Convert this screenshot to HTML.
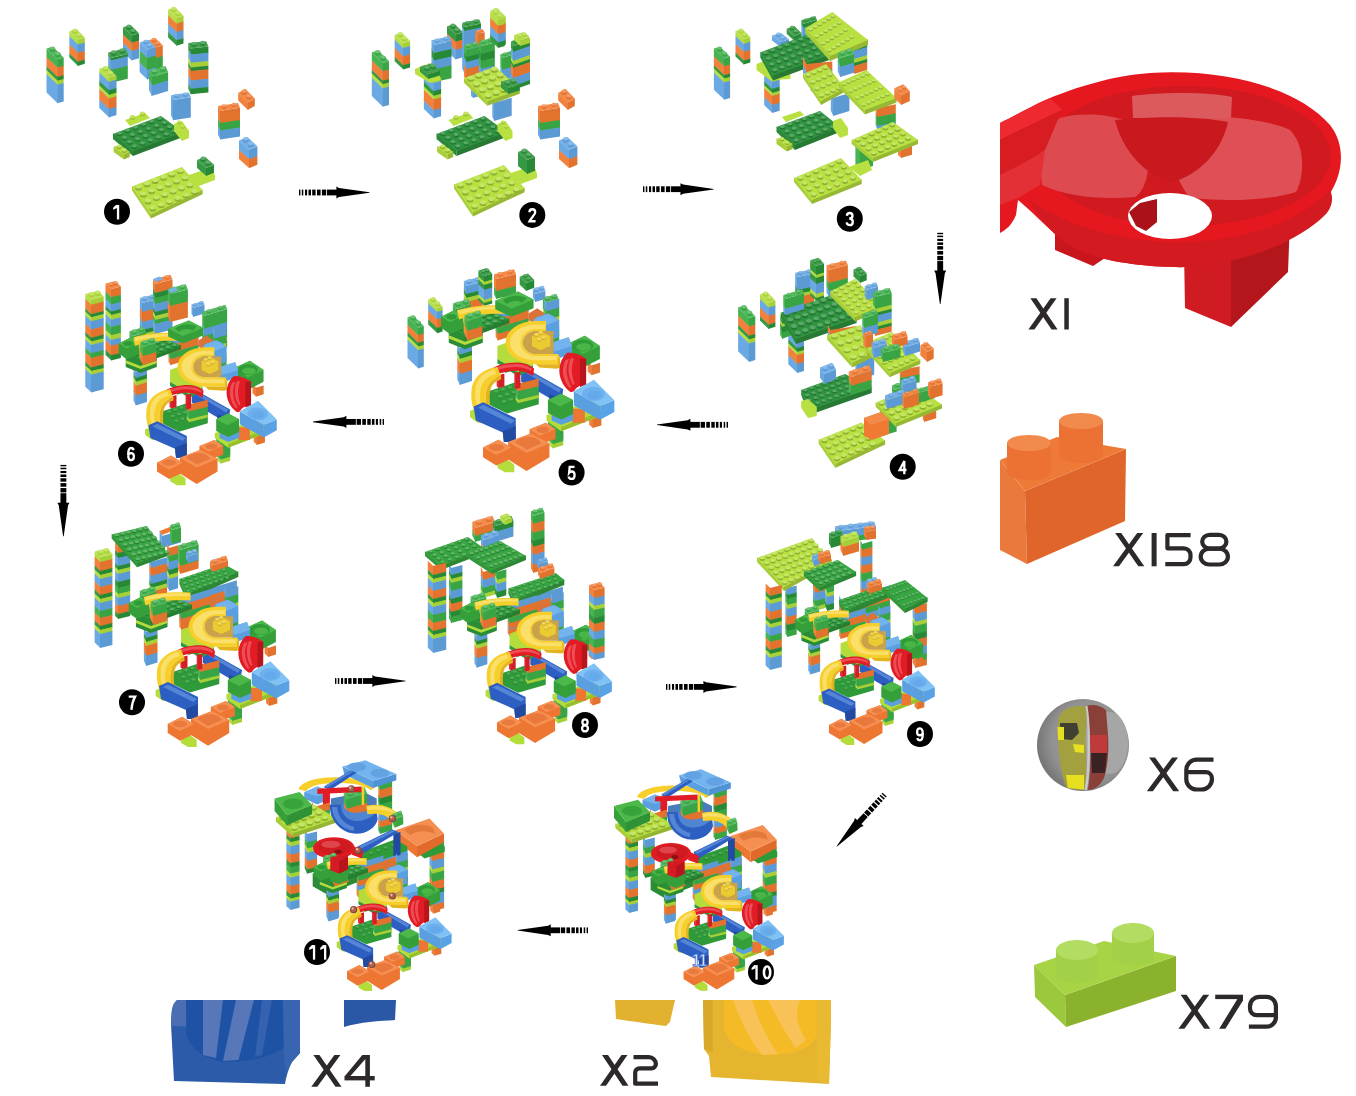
<!DOCTYPE html>
<html><head><meta charset="utf-8"><title>Marble run assembly steps</title>
<style>html,body{margin:0;padding:0;background:#fff;}body{width:1356px;height:1096px;overflow:hidden;font-family:"Liberation Sans",sans-serif;}svg{display:block;}</style>
</head><body>
<svg width="1356" height="1096" viewBox="0 0 1356 1096">
<defs>
<g id="core_gc"><polygon points="179.4,594.2 181.4,598 181.4,605.5 179.4,601.7" fill="#6ba9e4"/>
<polygon points="181,598 210,589.3 210,596.8 181,605.5" fill="#5c9ad4"/>
<polygon points="179.4,601.2 181.4,605 181.4,613.5 179.4,609.7" fill="#f1823e"/>
<polygon points="181,605 210,596.3 210,604.8 181,613.5" fill="#e2732f"/>
<polygon points="179.4,609.2 181.4,613 181.4,619.5 179.4,615.7" fill="#48b353"/>
<polygon points="181,613 210,604.3 210,610.8 181,619.5" fill="#38a444"/>
<polygon points="179.4,615.2 181.4,619 181.4,625 179.4,621.2" fill="#f1823e"/>
<polygon points="181,619 210,610.3 210,616.3 181,625" fill="#e2732f"/>
<polygon points="224.6,586.6 226.4,590 226.4,598.5 224.6,595.1" fill="#6ba9e4"/>
<polygon points="226,590 238.3,586.3 238.3,594.8 226,598.5" fill="#5c9ad4"/>
<polygon points="224.6,594.6 226.4,598 226.4,606.5 224.6,603.1" fill="#48b353"/>
<polygon points="226,598 238.3,594.3 238.3,602.8 226,606.5" fill="#38a444"/>
<polygon points="224.6,602.6 226.4,606 226.4,610.5 224.6,607.1" fill="#b7de48"/>
<polygon points="226,606 238.3,602.3 238.3,606.8 226,610.5" fill="#a7cf38"/>
<polygon points="224.6,606.6 226.4,610 226.4,618.5 224.6,615.1" fill="#6ba9e4"/>
<polygon points="226,610 238.3,606.3 238.3,614.8 226,618.5" fill="#5c9ad4"/>
<polygon points="224.6,614.6 226.4,618 226.4,624.5 224.6,621.1" fill="#379944"/>
<polygon points="226,618 238.3,614.3 238.3,620.8 226,624.5" fill="#278935"/>
<polygon points="224.6,620.6 226.4,624 226.4,632 224.6,628.6" fill="#48b353"/>
<polygon points="226,624 238.3,620.3 238.3,628.3 226,632" fill="#38a444"/>
<polygon points="209.8,600 218,595 226.4,601 226.4,609 218,612 209.8,606" fill="#d9733a"/>
<polygon points="215.7,604 228,599.8 235.9,604 235.9,616 224,620 215.7,614" fill="#5a9fe0"/>
<polygon points="215.7,604 228,599.8 235.9,604 224,608.5" fill="#74b4ee"/>
<polygon points="143.9,627 146.4,632 146.4,638.5 143.9,633.5" fill="#6ba9e4"/>
<polygon points="146,632 157.5,628.5 157.5,635 146,638.5" fill="#5c9ad4"/>
<polygon points="143.9,633 146.4,638 146.4,642.5 143.9,637.5" fill="#379944"/>
<polygon points="146,638 157.5,634.5 157.5,639 146,642.5" fill="#278935"/>
<polygon points="143.9,637 146.4,642 146.4,646.5 143.9,641.5" fill="#b7de48"/>
<polygon points="146,642 157.5,638.5 157.5,643 146,646.5" fill="#a7cf38"/>
<polygon points="143.9,641 146.4,646 146.4,656.5 143.9,651.5" fill="#f1823e"/>
<polygon points="146,646 157.5,642.5 157.5,653 146,656.5" fill="#e2732f"/>
<polygon points="143.9,651 146.4,656 146.4,666 143.9,661" fill="#6ba9e4"/>
<polygon points="146,656 157.5,652.5 157.5,662.5 146,666" fill="#5c9ad4"/>
<polygon points="136,613 151,620 167.5,614 167.5,627 151,633 136,627" fill="#2a8c36"/>
<polygon points="136,620 151,626 167.5,620 167.5,623 151,629 136,623" fill="#b2dc3c"/>
<polygon points="135.6,611.3 151,619.3 151,624 135.6,616" fill="#2a8e37"/>
<polygon points="151,619.3 192,604.3 192,609 151,624" fill="#267e31"/>
<polygon points="135.6,612 176,598 192,605 151,620" fill="#2e9a3c"/>
<ellipse cx="141.5" cy="612.2" rx="2.3" ry="1.4" fill="#24782f"/>
<rect x="139.2" y="610.8" width="4.6" height="1.4" fill="#24782f"/>
<ellipse cx="141.5" cy="610.8" rx="2.3" ry="1.4" fill="#58ae63"/>
<ellipse cx="146.7" cy="614.8" rx="2.3" ry="1.4" fill="#24782f"/>
<rect x="144.4" y="613.4" width="4.6" height="1.4" fill="#24782f"/>
<ellipse cx="146.7" cy="613.4" rx="2.3" ry="1.4" fill="#58ae63"/>
<ellipse cx="151.8" cy="617.5" rx="2.3" ry="1.4" fill="#24782f"/>
<rect x="149.5" y="616.1" width="4.6" height="1.4" fill="#24782f"/>
<ellipse cx="151.8" cy="616.1" rx="2.3" ry="1.4" fill="#58ae63"/>
<ellipse cx="148.3" cy="609.8" rx="2.3" ry="1.4" fill="#24782f"/>
<rect x="146" y="608.4" width="4.6" height="1.4" fill="#24782f"/>
<ellipse cx="148.3" cy="608.4" rx="2.3" ry="1.4" fill="#58ae63"/>
<ellipse cx="153.4" cy="612.5" rx="2.3" ry="1.4" fill="#24782f"/>
<rect x="151.1" y="611.1" width="4.6" height="1.4" fill="#24782f"/>
<ellipse cx="153.4" cy="611.1" rx="2.3" ry="1.4" fill="#58ae63"/>
<ellipse cx="158.5" cy="615.2" rx="2.3" ry="1.4" fill="#24782f"/>
<rect x="156.2" y="613.8" width="4.6" height="1.4" fill="#24782f"/>
<ellipse cx="158.5" cy="613.8" rx="2.3" ry="1.4" fill="#58ae63"/>
<ellipse cx="155" cy="607.5" rx="2.3" ry="1.4" fill="#24782f"/>
<rect x="152.7" y="606.1" width="4.6" height="1.4" fill="#24782f"/>
<ellipse cx="155" cy="606.1" rx="2.3" ry="1.4" fill="#58ae63"/>
<ellipse cx="160.1" cy="610.2" rx="2.3" ry="1.4" fill="#24782f"/>
<rect x="157.8" y="608.8" width="4.6" height="1.4" fill="#24782f"/>
<ellipse cx="160.1" cy="608.8" rx="2.3" ry="1.4" fill="#58ae63"/>
<ellipse cx="165.3" cy="612.8" rx="2.3" ry="1.4" fill="#24782f"/>
<rect x="163" y="611.4" width="4.6" height="1.4" fill="#24782f"/>
<ellipse cx="165.3" cy="611.4" rx="2.3" ry="1.4" fill="#58ae63"/>
<ellipse cx="161.7" cy="605.2" rx="2.3" ry="1.4" fill="#24782f"/>
<rect x="159.4" y="603.8" width="4.6" height="1.4" fill="#24782f"/>
<ellipse cx="161.7" cy="603.8" rx="2.3" ry="1.4" fill="#58ae63"/>
<ellipse cx="166.9" cy="607.8" rx="2.3" ry="1.4" fill="#24782f"/>
<rect x="164.6" y="606.4" width="4.6" height="1.4" fill="#24782f"/>
<ellipse cx="166.9" cy="606.4" rx="2.3" ry="1.4" fill="#58ae63"/>
<ellipse cx="172" cy="610.5" rx="2.3" ry="1.4" fill="#24782f"/>
<rect x="169.7" y="609.1" width="4.6" height="1.4" fill="#24782f"/>
<ellipse cx="172" cy="609.1" rx="2.3" ry="1.4" fill="#58ae63"/>
<ellipse cx="168.5" cy="602.8" rx="2.3" ry="1.4" fill="#24782f"/>
<rect x="166.2" y="601.4" width="4.6" height="1.4" fill="#24782f"/>
<ellipse cx="168.5" cy="601.4" rx="2.3" ry="1.4" fill="#58ae63"/>
<ellipse cx="173.6" cy="605.5" rx="2.3" ry="1.4" fill="#24782f"/>
<rect x="171.3" y="604.1" width="4.6" height="1.4" fill="#24782f"/>
<ellipse cx="173.6" cy="604.1" rx="2.3" ry="1.4" fill="#58ae63"/>
<ellipse cx="178.7" cy="608.2" rx="2.3" ry="1.4" fill="#24782f"/>
<rect x="176.4" y="606.8" width="4.6" height="1.4" fill="#24782f"/>
<ellipse cx="178.7" cy="606.8" rx="2.3" ry="1.4" fill="#58ae63"/>
<ellipse cx="175.2" cy="600.5" rx="2.3" ry="1.4" fill="#24782f"/>
<rect x="172.9" y="599.1" width="4.6" height="1.4" fill="#24782f"/>
<ellipse cx="175.2" cy="599.1" rx="2.3" ry="1.4" fill="#58ae63"/>
<ellipse cx="180.3" cy="603.2" rx="2.3" ry="1.4" fill="#24782f"/>
<rect x="178" y="601.8" width="4.6" height="1.4" fill="#24782f"/>
<ellipse cx="180.3" cy="601.8" rx="2.3" ry="1.4" fill="#58ae63"/>
<ellipse cx="185.5" cy="605.8" rx="2.3" ry="1.4" fill="#24782f"/>
<rect x="183.2" y="604.4" width="4.6" height="1.4" fill="#24782f"/>
<ellipse cx="185.5" cy="604.4" rx="2.3" ry="1.4" fill="#58ae63"/>
<polygon points="139.8,590.7 142.4,596 142.4,602 139.8,596.7" fill="#48b353"/>
<polygon points="142,596 156.4,591.7 156.4,597.7 142,602" fill="#38a444"/>
<polygon points="139.8,590.7 142,596 156.4,591.7 154.2,586.4" fill="#53b85e"/>
<ellipse cx="144.5" cy="592.3" rx="2.5" ry="1.6" fill="#3aa745"/>
<rect x="142" y="590.3" width="5" height="2" fill="#3aa745"/>
<ellipse cx="144.5" cy="590.3" rx="2.5" ry="1.6" fill="#6dc276"/>
<ellipse cx="151.7" cy="590.1" rx="2.5" ry="1.6" fill="#3aa745"/>
<rect x="149.2" y="588.1" width="5" height="2" fill="#3aa745"/>
<ellipse cx="151.7" cy="588.1" rx="2.5" ry="1.6" fill="#6dc276"/>
<polygon points="128.8,603 141,597 149.3,602 149.3,614 137,619 128.8,613" fill="#35a03a"/>
<polygon points="128.8,603 141,597 149.3,602 137,608" fill="#4cb84a"/>
<ellipse cx="138.5" cy="603" rx="5" ry="2.6" fill="#2f9c38"/>
<polygon points="149.4,602 155.8,601.5 155.8,618.3 150,618.3" fill="#e4b41e"/>
<path d="M143.6,597 C155,593 172,591.5 190.6,592.5 L190.6,600.5 C172,599.5 156,601.5 145.5,605.5 Z" fill="#f6cf2a"/>
<path d="M144.5,597.5 C156,594 172,592.8 189.5,593.6 L189.5,596.2 C172,595.5 157,597.2 146,600.8 Z" fill="#fadf6a"/>
<polygon points="150.7,601.5 153.4,607 153.4,616.5 150.7,611" fill="#48b353"/>
<polygon points="153,607 167.1,602.8 167.1,612.3 153,616.5" fill="#38a444"/>
<polygon points="150.7,610.5 153.4,616 153.4,625 150.7,619.5" fill="#f1823e"/>
<polygon points="153,616 167.1,611.8 167.1,620.8 153,625" fill="#e2732f"/>
<polygon points="150.7,601.5 153,607 167.1,602.8 164.8,597.2" fill="#53b85e"/>
<ellipse cx="155.4" cy="603.2" rx="2.6" ry="1.6" fill="#3aa745"/>
<rect x="152.7" y="601.1" width="5.3" height="2.1" fill="#3aa745"/>
<ellipse cx="155.4" cy="601.1" rx="2.6" ry="1.6" fill="#6dc276"/>
<ellipse cx="162.4" cy="601.1" rx="2.6" ry="1.6" fill="#3aa745"/>
<rect x="159.8" y="599" width="5.3" height="2.1" fill="#3aa745"/>
<ellipse cx="162.4" cy="599" rx="2.6" ry="1.6" fill="#6dc276"/>
<polygon points="179,588 200,579.6 214.5,587 214.5,595 194,603 179,596" fill="#35a03a"/>
<polygon points="179,588 200,579.6 214.5,587 194,595.5" fill="#4cb84a"/>
<path d="M186,588 C192,583 202,582 208,586 L204,590 C200,587.5 194,588 190,591 Z" fill="#2f9c38"/>
<polygon points="214,606 226,601 238,606 238,622 226,626 214,621" fill="#5a9fe0"/>
<polygon points="214,606 226,601 238,606 226,611" fill="#74b4ee"/>
<polygon points="185,634 188.4,640 188.4,644.5 185,638.5" fill="#b7de48"/>
<polygon points="188,640 200,636.4 200,640.9 188,644.5" fill="#a7cf38"/>
<polygon points="185,638 188.4,644 188.4,650.5 185,644.5" fill="#6ba9e4"/>
<polygon points="188,644 200,640.4 200,646.9 188,650.5" fill="#5c9ad4"/>
<polygon points="185,644 188.4,650 188.4,655 185,649" fill="#48b353"/>
<polygon points="188,650 200,646.4 200,651.4 188,655" fill="#38a444"/>
<polygon points="264.6,644.6 268.4,648 268.4,657 264.6,653.6" fill="#f1823e"/>
<polygon points="268,648 276,645.6 276,654.6 268,657" fill="#e2732f"/>
<polygon points="246.2,628 262,620.5 275.9,630 275.9,642 260,650.2 246.2,640" fill="#35a03a"/>
<polygon points="246.2,628 262,620.5 275.9,630 260,637.5" fill="#4cb84a"/>
<ellipse cx="260" cy="629.5" rx="10" ry="5.5" fill="#2f9c38"/>
<ellipse cx="261" cy="631" rx="7" ry="3.6" fill="#4ab648"/>
<polygon points="231,627 247,622 250,630 250,637 234,643 231,636" fill="#5a9fe0"/>
<polygon points="231,627 247,622 250,630 234,635" fill="#74b4ee"/>
<polygon points="266,690 269.4,693 269.4,706 266,703" fill="#f1823e"/>
<polygon points="269,693 277.3,690.5 277.3,703.5 269,706" fill="#e2732f"/>
<polygon points="227.8,698.8 232.4,703 232.4,713.5 227.8,709.3" fill="#48b353"/>
<polygon points="232,703 242,700 242,710.5 232,713.5" fill="#38a444"/>
<polygon points="227.8,708.8 232.4,713 232.4,719 227.8,714.8" fill="#379944"/>
<polygon points="232,713 242,710 242,716 232,719" fill="#278935"/>
<polygon points="226.4,694 272,680 283.7,688 283.7,692 240,709 226.4,699" fill="#b4dc3a"/>
<polygon points="240,705 283.7,688 283.7,692 240,709" fill="#98c02c"/>
<ellipse cx="236" cy="697.3" rx="2.2" ry="1.4" fill="#9bbd32"/>
<rect x="233.8" y="696" width="4.4" height="1.3" fill="#9bbd32"/>
<ellipse cx="236" cy="696" rx="2.2" ry="1.4" fill="#bee156"/>
<ellipse cx="243" cy="695" rx="2.2" ry="1.4" fill="#9bbd32"/>
<rect x="240.8" y="693.7" width="4.4" height="1.3" fill="#9bbd32"/>
<ellipse cx="243" cy="693.7" rx="2.2" ry="1.4" fill="#bee156"/>
<ellipse cx="250" cy="692.7" rx="2.2" ry="1.4" fill="#9bbd32"/>
<rect x="247.8" y="691.3" width="4.4" height="1.3" fill="#9bbd32"/>
<ellipse cx="250" cy="691.3" rx="2.2" ry="1.4" fill="#bee156"/>
<polygon points="203,654 209,651.6 242,670 240.5,680 234,681 203,663" fill="#2d5fc2"/>
<polygon points="206,654 209,652.5 240,670 238,673" fill="#5586d6"/>
<polygon points="229,675 240,678 240,692 229,690" fill="#224aa0"/>
<polygon points="172.6,672 200,662.9 219.3,672 219.3,684 190,692.6 172.6,684" fill="#2f9a3a"/>
<ellipse cx="180" cy="673.3" rx="2.1" ry="1.3" fill="#2d8a34"/>
<rect x="177.9" y="672.1" width="4.2" height="1.3" fill="#2d8a34"/>
<ellipse cx="180" cy="672.1" rx="2.1" ry="1.3" fill="#50ad57"/>
<ellipse cx="183.6" cy="678" rx="2.1" ry="1.3" fill="#2d8a34"/>
<rect x="181.5" y="676.7" width="4.2" height="1.3" fill="#2d8a34"/>
<ellipse cx="183.6" cy="676.7" rx="2.1" ry="1.3" fill="#50ad57"/>
<ellipse cx="187.3" cy="682.7" rx="2.1" ry="1.3" fill="#2d8a34"/>
<rect x="185.2" y="681.4" width="4.2" height="1.3" fill="#2d8a34"/>
<ellipse cx="187.3" cy="681.4" rx="2.1" ry="1.3" fill="#50ad57"/>
<ellipse cx="186.2" cy="671.3" rx="2.1" ry="1.3" fill="#2d8a34"/>
<rect x="184.1" y="670.1" width="4.2" height="1.3" fill="#2d8a34"/>
<ellipse cx="186.2" cy="670.1" rx="2.1" ry="1.3" fill="#50ad57"/>
<ellipse cx="189.9" cy="676" rx="2.1" ry="1.3" fill="#2d8a34"/>
<rect x="187.8" y="674.7" width="4.2" height="1.3" fill="#2d8a34"/>
<ellipse cx="189.9" cy="674.7" rx="2.1" ry="1.3" fill="#50ad57"/>
<ellipse cx="193.5" cy="680.7" rx="2.1" ry="1.3" fill="#2d8a34"/>
<rect x="191.4" y="679.4" width="4.2" height="1.3" fill="#2d8a34"/>
<ellipse cx="193.5" cy="679.4" rx="2.1" ry="1.3" fill="#50ad57"/>
<ellipse cx="192.5" cy="669.3" rx="2.1" ry="1.3" fill="#2d8a34"/>
<rect x="190.4" y="668.1" width="4.2" height="1.3" fill="#2d8a34"/>
<ellipse cx="192.5" cy="668.1" rx="2.1" ry="1.3" fill="#50ad57"/>
<ellipse cx="196.1" cy="674" rx="2.1" ry="1.3" fill="#2d8a34"/>
<rect x="194" y="672.7" width="4.2" height="1.3" fill="#2d8a34"/>
<ellipse cx="196.1" cy="672.7" rx="2.1" ry="1.3" fill="#50ad57"/>
<ellipse cx="199.8" cy="678.7" rx="2.1" ry="1.3" fill="#2d8a34"/>
<rect x="197.7" y="677.4" width="4.2" height="1.3" fill="#2d8a34"/>
<ellipse cx="199.8" cy="677.4" rx="2.1" ry="1.3" fill="#50ad57"/>
<ellipse cx="198.7" cy="667.3" rx="2.1" ry="1.3" fill="#2d8a34"/>
<rect x="196.6" y="666.1" width="4.2" height="1.3" fill="#2d8a34"/>
<ellipse cx="198.7" cy="666.1" rx="2.1" ry="1.3" fill="#50ad57"/>
<ellipse cx="202.4" cy="672" rx="2.1" ry="1.3" fill="#2d8a34"/>
<rect x="200.3" y="670.7" width="4.2" height="1.3" fill="#2d8a34"/>
<ellipse cx="202.4" cy="670.7" rx="2.1" ry="1.3" fill="#50ad57"/>
<ellipse cx="206" cy="676.7" rx="2.1" ry="1.3" fill="#2d8a34"/>
<rect x="203.9" y="675.4" width="4.2" height="1.3" fill="#2d8a34"/>
<ellipse cx="206" cy="675.4" rx="2.1" ry="1.3" fill="#50ad57"/>
<polygon points="198,661.8 200.4,665 200.4,672.5 198,669.3" fill="#f1823e"/>
<polygon points="200,665 219.3,660.2 219.3,667.7 200,672.5" fill="#e2732f"/>
<polygon points="198,668.8 200.4,672 200.4,680.5 198,677.3" fill="#48b353"/>
<polygon points="200,672 219.3,667.2 219.3,675.7 200,680.5" fill="#38a444"/>
<polygon points="198,676.8 200.4,680 200.4,683 198,679.8" fill="#b7de48"/>
<polygon points="200,680 219.3,675.2 219.3,678.2 200,683" fill="#a7cf38"/>
<polygon points="181,630 192,626 214,640 214,648 200,654 181,642" fill="#b4dc3a"/>
<polygon points="181,642 200,654 214,648 214,652 200,658 181,646" fill="#2f9a3a"/>
<path d="M216.5,606.8 A28,20 0 0 0 216.5,646.8 L237,646.8 L239,640.8 L237,637.4 L216.5,637.4 A12,10.6 0 0 1 216.5,616.2 L226,616.2 L226,606.8 Z" fill="#f6cf2a"/>
<path d="M216.5,610.3 A24,16.5 0 0 0 216.5,643.3 L236,643.3 L236,639.3 L216.5,639.3 A14,12.5 0 0 1 216.5,614.3 L225,614.3 L225,610.3 Z" fill="#fadf6a"/>
<path d="M216.5,616.2 A12,10.6 0 0 0 216.5,637.4 L233,637.4 L233,616.2 Z" fill="#c9a24a"/>
<polygon points="213,621 222,617 230,621 230,630 221,634 213,630" fill="#eccb32"/>
<ellipse cx="217.2" cy="620.4" rx="2.2" ry="1.4" fill="#d0b532"/>
<rect x="215.1" y="619.1" width="4.4" height="1.3" fill="#d0b532"/>
<ellipse cx="217.2" cy="619.1" rx="2.2" ry="1.4" fill="#f4d856"/>
<ellipse cx="219.8" cy="624.9" rx="2.2" ry="1.4" fill="#d0b532"/>
<rect x="217.6" y="623.6" width="4.4" height="1.3" fill="#d0b532"/>
<ellipse cx="219.8" cy="623.6" rx="2.2" ry="1.4" fill="#f4d856"/>
<ellipse cx="221.2" cy="618.6" rx="2.2" ry="1.4" fill="#d0b532"/>
<rect x="219.1" y="617.3" width="4.4" height="1.3" fill="#d0b532"/>
<ellipse cx="221.2" cy="617.3" rx="2.2" ry="1.4" fill="#f4d856"/>
<ellipse cx="223.8" cy="623.1" rx="2.2" ry="1.4" fill="#d0b532"/>
<rect x="221.6" y="621.8" width="4.4" height="1.3" fill="#d0b532"/>
<ellipse cx="223.8" cy="621.8" rx="2.2" ry="1.4" fill="#f4d856"/>
<polygon points="237,640.8 239,640.8 239,650 236,651 220,650 216.5,646.8 237,646.8" fill="#e4b41e"/>
<polygon points="180.4,655.4 182.4,657 182.4,669 180.4,667.4" fill="#e22d37"/>
<polygon points="182,657 187.5,655.4 187.5,667.4 182,669" fill="#d31e27"/>
<polygon points="196.7,653.7 198.4,655 198.4,670 196.7,668.7" fill="#e22d37"/>
<polygon points="198,655 202.3,653.7 202.3,668.7 198,670" fill="#d31e27"/>
<path d="M173,653 C180,647 192,645 200,645.2 C207,645.5 212,648 215,651 L214,658 C210,655 204,653 198,653 C190,653 182,655 176,659 Z" fill="#e11c25"/>
<path d="M175,652 C182,648 192,646.5 200,646.6 C206,647 210,649 213,651 L212.5,653 C208,651 203,649.5 198,649.5 C190,649.5 182,651.5 176,655 Z" fill="#ef4d55"/>
<path d="M246,636 C241,640 238,647 238.4,654.4 C239,662 243,669 249,672.8 L252,672 C254,668 258,666 263,665.7 L263.2,641.7 C258,638 252,636 246,636 Z" fill="#e11c25"/>
<path d="M244,643 C242,647 241.5,651 241.8,655 C242.5,661 245,666 248,669 L249.5,668 C247,663 245,658 245,653 C245,649 246,645 247.5,642 Z" fill="#ef4d55"/>
<path d="M249,641 C247,645 246.5,650 247,655 C247.5,659 249,663 251,666 L252.5,665 C251,661 250,657 250,653 C250,649 250.5,645 252,641.5 Z" fill="#ef4d55"/>
<polygon points="257.5,641.7 263.2,641.7 263.2,665.7 257.5,668" fill="#b8141c"/>
<polygon points="250.4,688 262,688 262,701 250.4,701" fill="#ee7633"/>
<polygon points="251.8,672 276.1,685.5 276.1,698.4 251.8,685" fill="#5a9fe0"/>
<polygon points="276.1,685.5 289.3,680.3 289.3,691.1 276.1,698.4" fill="#5aa2e6"/>
<polygon points="251.8,672 270.4,661.2 289.3,680.3 276.1,685.5" fill="#80c2f6"/>
<ellipse cx="270" cy="674.5" rx="10.5" ry="6.5" fill="#6cb0ee"/>
<ellipse cx="270.5" cy="675.5" rx="6.5" ry="4" fill="#64aaea"/>
<polygon points="231.3,692 251.1,688 251.1,699 240,703 231.3,699" fill="#5a9fe0"/>
<polygon points="227.8,680 240,674.2 251.1,680 251.1,693 240,698 227.8,692" fill="#35a03a"/>
<polygon points="227.8,680 240,674.2 251.1,680 239,686" fill="#4cb84a"/>
<path d="M181,649.5 C170,650.5 160,657.5 157.5,667.5 C156,676 157,684 160,691 L171.5,688 C169.5,681 169.5,674 172,667.5 C174.5,662 179,659 184.5,658 Z" fill="#f6cf2a"/>
<path d="M178,652 C170,653.5 163,659 161,667.5 C159.8,675 160.5,682 163,688 L166.5,687.2 C164.5,681 164.2,674.5 166,668 C168,661.5 173,657.5 180,656 Z" fill="#fadf6a"/>
<path d="M171.5,688 C169.5,681 169.5,674 172,667.5 C174.5,662 179,659 184.5,658 L184.5,661 C180,662 176.5,665 175,669 C173.5,674 173.5,680 174.5,686 Z" fill="#e4b41e"/>
<polygon points="155.7,690 165,687 172.6,692 172.6,701.1 163,701 155.7,696" fill="#b4dc3a"/>
<path d="M159,686 L168,682 L198,697 L198,719 L187,719 L186,710 L161,699 Z" fill="#2d5fc2"/>
<polygon points="163,687 168,684.5 197,699 193.5,702" fill="#5586d6"/>
<polygon points="186,709 198,704 198,719 187,719" fill="#224aa0"/>
<polygon points="181.1,738 190,735 196.7,740 196.7,747 188,747 181.1,743" fill="#b4dc3a"/>
<polygon points="229.2,710.2 232.4,713 232.4,721.5 229.2,718.7" fill="#48b353"/>
<polygon points="232,713 242,710 242,718.5 232,721.5" fill="#38a444"/>
<polygon points="229.2,718.2 232.4,721 232.4,725 229.2,722.2" fill="#b7de48"/>
<polygon points="232,721 242,718 242,722 232,725" fill="#a7cf38"/>
<polygon points="210.8,707 226,701.1 234.9,707 234.9,716 220,721 210.8,715" fill="#ee7633"/>
<polygon points="210.8,707 226,701.1 234.9,707 220,713" fill="#f69052"/>
<ellipse cx="223" cy="707.5" rx="6" ry="3" fill="#e97a3e"/>
<polygon points="191,719 212,711 229.2,720 229.2,733 208,745.7 191,735" fill="#ee7633"/>
<polygon points="191,719 212,711 229.2,720 208,729" fill="#f69052"/>
<path d="M197,719 C203,714 212,713 218,716 L222,720 L208,726 C204,723 200,721 197,719 Z" fill="#e8783c"/>
<polygon points="167.7,724 182,716.7 193.9,724 193.9,734 180,740.7 167.7,733" fill="#ee7633"/>
<polygon points="167.7,724 182,716.7 193.9,724 180,731" fill="#f69052"/>
<ellipse cx="180" cy="724" rx="7" ry="3.2" fill="#e97a3e"/></g>
<g id="core_p"><polygon points="179.4,594.2 181.4,598 181.4,605.5 179.4,601.7" fill="#6ba9e4"/>
<polygon points="181,598 210,589.3 210,596.8 181,605.5" fill="#5c9ad4"/>
<polygon points="179.4,601.2 181.4,605 181.4,613.5 179.4,609.7" fill="#f1823e"/>
<polygon points="181,605 210,596.3 210,604.8 181,613.5" fill="#e2732f"/>
<polygon points="179.4,609.2 181.4,613 181.4,619.5 179.4,615.7" fill="#48b353"/>
<polygon points="181,613 210,604.3 210,610.8 181,619.5" fill="#38a444"/>
<polygon points="179.4,615.2 181.4,619 181.4,625 179.4,621.2" fill="#f1823e"/>
<polygon points="181,619 210,610.3 210,616.3 181,625" fill="#e2732f"/>
<polygon points="224.6,586.6 226.4,590 226.4,598.5 224.6,595.1" fill="#6ba9e4"/>
<polygon points="226,590 238.3,586.3 238.3,594.8 226,598.5" fill="#5c9ad4"/>
<polygon points="224.6,594.6 226.4,598 226.4,606.5 224.6,603.1" fill="#48b353"/>
<polygon points="226,598 238.3,594.3 238.3,602.8 226,606.5" fill="#38a444"/>
<polygon points="224.6,602.6 226.4,606 226.4,610.5 224.6,607.1" fill="#b7de48"/>
<polygon points="226,606 238.3,602.3 238.3,606.8 226,610.5" fill="#a7cf38"/>
<polygon points="224.6,606.6 226.4,610 226.4,618.5 224.6,615.1" fill="#6ba9e4"/>
<polygon points="226,610 238.3,606.3 238.3,614.8 226,618.5" fill="#5c9ad4"/>
<polygon points="224.6,614.6 226.4,618 226.4,624.5 224.6,621.1" fill="#379944"/>
<polygon points="226,618 238.3,614.3 238.3,620.8 226,624.5" fill="#278935"/>
<polygon points="224.6,620.6 226.4,624 226.4,632 224.6,628.6" fill="#48b353"/>
<polygon points="226,624 238.3,620.3 238.3,628.3 226,632" fill="#38a444"/>
<polygon points="209.8,600 218,595 226.4,601 226.4,609 218,612 209.8,606" fill="#d9733a"/>
<polygon points="215.7,604 228,599.8 235.9,604 235.9,616 224,620 215.7,614" fill="#5a9fe0"/>
<polygon points="215.7,604 228,599.8 235.9,604 224,608.5" fill="#74b4ee"/>
<polygon points="143.9,627 146.4,632 146.4,638.5 143.9,633.5" fill="#6ba9e4"/>
<polygon points="146,632 157.5,628.5 157.5,635 146,638.5" fill="#5c9ad4"/>
<polygon points="143.9,633 146.4,638 146.4,642.5 143.9,637.5" fill="#379944"/>
<polygon points="146,638 157.5,634.5 157.5,639 146,642.5" fill="#278935"/>
<polygon points="143.9,637 146.4,642 146.4,646.5 143.9,641.5" fill="#b7de48"/>
<polygon points="146,642 157.5,638.5 157.5,643 146,646.5" fill="#a7cf38"/>
<polygon points="143.9,641 146.4,646 146.4,656.5 143.9,651.5" fill="#f1823e"/>
<polygon points="146,646 157.5,642.5 157.5,653 146,656.5" fill="#e2732f"/>
<polygon points="143.9,651 146.4,656 146.4,666 143.9,661" fill="#6ba9e4"/>
<polygon points="146,656 157.5,652.5 157.5,662.5 146,666" fill="#5c9ad4"/>
<polygon points="136,613 151,620 167.5,614 167.5,627 151,633 136,627" fill="#2a8c36"/>
<polygon points="136,620 151,626 167.5,620 167.5,623 151,629 136,623" fill="#b2dc3c"/>
<polygon points="135.6,611.3 151,619.3 151,624 135.6,616" fill="#2a8e37"/>
<polygon points="151,619.3 192,604.3 192,609 151,624" fill="#267e31"/>
<polygon points="135.6,612 176,598 192,605 151,620" fill="#2e9a3c"/>
<ellipse cx="141.5" cy="612.2" rx="2.3" ry="1.4" fill="#24782f"/>
<rect x="139.2" y="610.8" width="4.6" height="1.4" fill="#24782f"/>
<ellipse cx="141.5" cy="610.8" rx="2.3" ry="1.4" fill="#58ae63"/>
<ellipse cx="146.7" cy="614.8" rx="2.3" ry="1.4" fill="#24782f"/>
<rect x="144.4" y="613.4" width="4.6" height="1.4" fill="#24782f"/>
<ellipse cx="146.7" cy="613.4" rx="2.3" ry="1.4" fill="#58ae63"/>
<ellipse cx="151.8" cy="617.5" rx="2.3" ry="1.4" fill="#24782f"/>
<rect x="149.5" y="616.1" width="4.6" height="1.4" fill="#24782f"/>
<ellipse cx="151.8" cy="616.1" rx="2.3" ry="1.4" fill="#58ae63"/>
<ellipse cx="148.3" cy="609.8" rx="2.3" ry="1.4" fill="#24782f"/>
<rect x="146" y="608.4" width="4.6" height="1.4" fill="#24782f"/>
<ellipse cx="148.3" cy="608.4" rx="2.3" ry="1.4" fill="#58ae63"/>
<ellipse cx="153.4" cy="612.5" rx="2.3" ry="1.4" fill="#24782f"/>
<rect x="151.1" y="611.1" width="4.6" height="1.4" fill="#24782f"/>
<ellipse cx="153.4" cy="611.1" rx="2.3" ry="1.4" fill="#58ae63"/>
<ellipse cx="158.5" cy="615.2" rx="2.3" ry="1.4" fill="#24782f"/>
<rect x="156.2" y="613.8" width="4.6" height="1.4" fill="#24782f"/>
<ellipse cx="158.5" cy="613.8" rx="2.3" ry="1.4" fill="#58ae63"/>
<ellipse cx="155" cy="607.5" rx="2.3" ry="1.4" fill="#24782f"/>
<rect x="152.7" y="606.1" width="4.6" height="1.4" fill="#24782f"/>
<ellipse cx="155" cy="606.1" rx="2.3" ry="1.4" fill="#58ae63"/>
<ellipse cx="160.1" cy="610.2" rx="2.3" ry="1.4" fill="#24782f"/>
<rect x="157.8" y="608.8" width="4.6" height="1.4" fill="#24782f"/>
<ellipse cx="160.1" cy="608.8" rx="2.3" ry="1.4" fill="#58ae63"/>
<ellipse cx="165.3" cy="612.8" rx="2.3" ry="1.4" fill="#24782f"/>
<rect x="163" y="611.4" width="4.6" height="1.4" fill="#24782f"/>
<ellipse cx="165.3" cy="611.4" rx="2.3" ry="1.4" fill="#58ae63"/>
<ellipse cx="161.7" cy="605.2" rx="2.3" ry="1.4" fill="#24782f"/>
<rect x="159.4" y="603.8" width="4.6" height="1.4" fill="#24782f"/>
<ellipse cx="161.7" cy="603.8" rx="2.3" ry="1.4" fill="#58ae63"/>
<ellipse cx="166.9" cy="607.8" rx="2.3" ry="1.4" fill="#24782f"/>
<rect x="164.6" y="606.4" width="4.6" height="1.4" fill="#24782f"/>
<ellipse cx="166.9" cy="606.4" rx="2.3" ry="1.4" fill="#58ae63"/>
<ellipse cx="172" cy="610.5" rx="2.3" ry="1.4" fill="#24782f"/>
<rect x="169.7" y="609.1" width="4.6" height="1.4" fill="#24782f"/>
<ellipse cx="172" cy="609.1" rx="2.3" ry="1.4" fill="#58ae63"/>
<ellipse cx="168.5" cy="602.8" rx="2.3" ry="1.4" fill="#24782f"/>
<rect x="166.2" y="601.4" width="4.6" height="1.4" fill="#24782f"/>
<ellipse cx="168.5" cy="601.4" rx="2.3" ry="1.4" fill="#58ae63"/>
<ellipse cx="173.6" cy="605.5" rx="2.3" ry="1.4" fill="#24782f"/>
<rect x="171.3" y="604.1" width="4.6" height="1.4" fill="#24782f"/>
<ellipse cx="173.6" cy="604.1" rx="2.3" ry="1.4" fill="#58ae63"/>
<ellipse cx="178.7" cy="608.2" rx="2.3" ry="1.4" fill="#24782f"/>
<rect x="176.4" y="606.8" width="4.6" height="1.4" fill="#24782f"/>
<ellipse cx="178.7" cy="606.8" rx="2.3" ry="1.4" fill="#58ae63"/>
<ellipse cx="175.2" cy="600.5" rx="2.3" ry="1.4" fill="#24782f"/>
<rect x="172.9" y="599.1" width="4.6" height="1.4" fill="#24782f"/>
<ellipse cx="175.2" cy="599.1" rx="2.3" ry="1.4" fill="#58ae63"/>
<ellipse cx="180.3" cy="603.2" rx="2.3" ry="1.4" fill="#24782f"/>
<rect x="178" y="601.8" width="4.6" height="1.4" fill="#24782f"/>
<ellipse cx="180.3" cy="601.8" rx="2.3" ry="1.4" fill="#58ae63"/>
<ellipse cx="185.5" cy="605.8" rx="2.3" ry="1.4" fill="#24782f"/>
<rect x="183.2" y="604.4" width="4.6" height="1.4" fill="#24782f"/>
<ellipse cx="185.5" cy="604.4" rx="2.3" ry="1.4" fill="#58ae63"/>
<polygon points="139.8,590.7 142.4,596 142.4,602 139.8,596.7" fill="#48b353"/>
<polygon points="142,596 156.4,591.7 156.4,597.7 142,602" fill="#38a444"/>
<polygon points="139.8,590.7 142,596 156.4,591.7 154.2,586.4" fill="#53b85e"/>
<ellipse cx="144.5" cy="592.3" rx="2.5" ry="1.6" fill="#3aa745"/>
<rect x="142" y="590.3" width="5" height="2" fill="#3aa745"/>
<ellipse cx="144.5" cy="590.3" rx="2.5" ry="1.6" fill="#6dc276"/>
<ellipse cx="151.7" cy="590.1" rx="2.5" ry="1.6" fill="#3aa745"/>
<rect x="149.2" y="588.1" width="5" height="2" fill="#3aa745"/>
<ellipse cx="151.7" cy="588.1" rx="2.5" ry="1.6" fill="#6dc276"/>
<polygon points="128.8,603 141,597 149.3,602 149.3,614 137,619 128.8,613" fill="#35a03a"/>
<polygon points="128.8,603 141,597 149.3,602 137,608" fill="#4cb84a"/>
<ellipse cx="138.5" cy="603" rx="5" ry="2.6" fill="#2f9c38"/>
<polygon points="149.4,602 155.8,601.5 155.8,618.3 150,618.3" fill="#e4b41e"/>
<path d="M143.6,597 C155,593 172,591.5 190.6,592.5 L190.6,600.5 C172,599.5 156,601.5 145.5,605.5 Z" fill="#f6cf2a"/>
<path d="M144.5,597.5 C156,594 172,592.8 189.5,593.6 L189.5,596.2 C172,595.5 157,597.2 146,600.8 Z" fill="#fadf6a"/>
<polygon points="150.7,601.5 153.4,607 153.4,616.5 150.7,611" fill="#48b353"/>
<polygon points="153,607 167.1,602.8 167.1,612.3 153,616.5" fill="#38a444"/>
<polygon points="150.7,610.5 153.4,616 153.4,625 150.7,619.5" fill="#f1823e"/>
<polygon points="153,616 167.1,611.8 167.1,620.8 153,625" fill="#e2732f"/>
<polygon points="150.7,601.5 153,607 167.1,602.8 164.8,597.2" fill="#53b85e"/>
<ellipse cx="155.4" cy="603.2" rx="2.6" ry="1.6" fill="#3aa745"/>
<rect x="152.7" y="601.1" width="5.3" height="2.1" fill="#3aa745"/>
<ellipse cx="155.4" cy="601.1" rx="2.6" ry="1.6" fill="#6dc276"/>
<ellipse cx="162.4" cy="601.1" rx="2.6" ry="1.6" fill="#3aa745"/>
<rect x="159.8" y="599" width="5.3" height="2.1" fill="#3aa745"/>
<ellipse cx="162.4" cy="599" rx="2.6" ry="1.6" fill="#6dc276"/>
<polygon points="214,606 226,601 238,606 238,622 226,626 214,621" fill="#5a9fe0"/>
<polygon points="214,606 226,601 238,606 226,611" fill="#74b4ee"/>
<polygon points="185,634 188.4,640 188.4,644.5 185,638.5" fill="#b7de48"/>
<polygon points="188,640 200,636.4 200,640.9 188,644.5" fill="#a7cf38"/>
<polygon points="185,638 188.4,644 188.4,650.5 185,644.5" fill="#6ba9e4"/>
<polygon points="188,644 200,640.4 200,646.9 188,650.5" fill="#5c9ad4"/>
<polygon points="185,644 188.4,650 188.4,655 185,649" fill="#48b353"/>
<polygon points="188,650 200,646.4 200,651.4 188,655" fill="#38a444"/>
<polygon points="264.6,644.6 268.4,648 268.4,657 264.6,653.6" fill="#f1823e"/>
<polygon points="268,648 276,645.6 276,654.6 268,657" fill="#e2732f"/>
<polygon points="246.2,628 262,620.5 275.9,630 275.9,642 260,650.2 246.2,640" fill="#35a03a"/>
<polygon points="246.2,628 262,620.5 275.9,630 260,637.5" fill="#4cb84a"/>
<ellipse cx="260" cy="629.5" rx="10" ry="5.5" fill="#2f9c38"/>
<ellipse cx="261" cy="631" rx="7" ry="3.6" fill="#4ab648"/>
<polygon points="231,627 247,622 250,630 250,637 234,643 231,636" fill="#5a9fe0"/>
<polygon points="231,627 247,622 250,630 234,635" fill="#74b4ee"/>
<polygon points="266,690 269.4,693 269.4,706 266,703" fill="#f1823e"/>
<polygon points="269,693 277.3,690.5 277.3,703.5 269,706" fill="#e2732f"/>
<polygon points="227.8,698.8 232.4,703 232.4,713.5 227.8,709.3" fill="#48b353"/>
<polygon points="232,703 242,700 242,710.5 232,713.5" fill="#38a444"/>
<polygon points="227.8,708.8 232.4,713 232.4,719 227.8,714.8" fill="#379944"/>
<polygon points="232,713 242,710 242,716 232,719" fill="#278935"/>
<polygon points="226.4,694 272,680 283.7,688 283.7,692 240,709 226.4,699" fill="#b4dc3a"/>
<polygon points="240,705 283.7,688 283.7,692 240,709" fill="#98c02c"/>
<ellipse cx="236" cy="697.3" rx="2.2" ry="1.4" fill="#9bbd32"/>
<rect x="233.8" y="696" width="4.4" height="1.3" fill="#9bbd32"/>
<ellipse cx="236" cy="696" rx="2.2" ry="1.4" fill="#bee156"/>
<ellipse cx="243" cy="695" rx="2.2" ry="1.4" fill="#9bbd32"/>
<rect x="240.8" y="693.7" width="4.4" height="1.3" fill="#9bbd32"/>
<ellipse cx="243" cy="693.7" rx="2.2" ry="1.4" fill="#bee156"/>
<ellipse cx="250" cy="692.7" rx="2.2" ry="1.4" fill="#9bbd32"/>
<rect x="247.8" y="691.3" width="4.4" height="1.3" fill="#9bbd32"/>
<ellipse cx="250" cy="691.3" rx="2.2" ry="1.4" fill="#bee156"/>
<polygon points="203,654 209,651.6 242,670 240.5,680 234,681 203,663" fill="#2d5fc2"/>
<polygon points="206,654 209,652.5 240,670 238,673" fill="#5586d6"/>
<polygon points="229,675 240,678 240,692 229,690" fill="#224aa0"/>
<polygon points="172.6,672 200,662.9 219.3,672 219.3,684 190,692.6 172.6,684" fill="#2f9a3a"/>
<ellipse cx="180" cy="673.3" rx="2.1" ry="1.3" fill="#2d8a34"/>
<rect x="177.9" y="672.1" width="4.2" height="1.3" fill="#2d8a34"/>
<ellipse cx="180" cy="672.1" rx="2.1" ry="1.3" fill="#50ad57"/>
<ellipse cx="183.6" cy="678" rx="2.1" ry="1.3" fill="#2d8a34"/>
<rect x="181.5" y="676.7" width="4.2" height="1.3" fill="#2d8a34"/>
<ellipse cx="183.6" cy="676.7" rx="2.1" ry="1.3" fill="#50ad57"/>
<ellipse cx="187.3" cy="682.7" rx="2.1" ry="1.3" fill="#2d8a34"/>
<rect x="185.2" y="681.4" width="4.2" height="1.3" fill="#2d8a34"/>
<ellipse cx="187.3" cy="681.4" rx="2.1" ry="1.3" fill="#50ad57"/>
<ellipse cx="186.2" cy="671.3" rx="2.1" ry="1.3" fill="#2d8a34"/>
<rect x="184.1" y="670.1" width="4.2" height="1.3" fill="#2d8a34"/>
<ellipse cx="186.2" cy="670.1" rx="2.1" ry="1.3" fill="#50ad57"/>
<ellipse cx="189.9" cy="676" rx="2.1" ry="1.3" fill="#2d8a34"/>
<rect x="187.8" y="674.7" width="4.2" height="1.3" fill="#2d8a34"/>
<ellipse cx="189.9" cy="674.7" rx="2.1" ry="1.3" fill="#50ad57"/>
<ellipse cx="193.5" cy="680.7" rx="2.1" ry="1.3" fill="#2d8a34"/>
<rect x="191.4" y="679.4" width="4.2" height="1.3" fill="#2d8a34"/>
<ellipse cx="193.5" cy="679.4" rx="2.1" ry="1.3" fill="#50ad57"/>
<ellipse cx="192.5" cy="669.3" rx="2.1" ry="1.3" fill="#2d8a34"/>
<rect x="190.4" y="668.1" width="4.2" height="1.3" fill="#2d8a34"/>
<ellipse cx="192.5" cy="668.1" rx="2.1" ry="1.3" fill="#50ad57"/>
<ellipse cx="196.1" cy="674" rx="2.1" ry="1.3" fill="#2d8a34"/>
<rect x="194" y="672.7" width="4.2" height="1.3" fill="#2d8a34"/>
<ellipse cx="196.1" cy="672.7" rx="2.1" ry="1.3" fill="#50ad57"/>
<ellipse cx="199.8" cy="678.7" rx="2.1" ry="1.3" fill="#2d8a34"/>
<rect x="197.7" y="677.4" width="4.2" height="1.3" fill="#2d8a34"/>
<ellipse cx="199.8" cy="677.4" rx="2.1" ry="1.3" fill="#50ad57"/>
<ellipse cx="198.7" cy="667.3" rx="2.1" ry="1.3" fill="#2d8a34"/>
<rect x="196.6" y="666.1" width="4.2" height="1.3" fill="#2d8a34"/>
<ellipse cx="198.7" cy="666.1" rx="2.1" ry="1.3" fill="#50ad57"/>
<ellipse cx="202.4" cy="672" rx="2.1" ry="1.3" fill="#2d8a34"/>
<rect x="200.3" y="670.7" width="4.2" height="1.3" fill="#2d8a34"/>
<ellipse cx="202.4" cy="670.7" rx="2.1" ry="1.3" fill="#50ad57"/>
<ellipse cx="206" cy="676.7" rx="2.1" ry="1.3" fill="#2d8a34"/>
<rect x="203.9" y="675.4" width="4.2" height="1.3" fill="#2d8a34"/>
<ellipse cx="206" cy="675.4" rx="2.1" ry="1.3" fill="#50ad57"/>
<polygon points="198,661.8 200.4,665 200.4,672.5 198,669.3" fill="#f1823e"/>
<polygon points="200,665 219.3,660.2 219.3,667.7 200,672.5" fill="#e2732f"/>
<polygon points="198,668.8 200.4,672 200.4,680.5 198,677.3" fill="#48b353"/>
<polygon points="200,672 219.3,667.2 219.3,675.7 200,680.5" fill="#38a444"/>
<polygon points="198,676.8 200.4,680 200.4,683 198,679.8" fill="#b7de48"/>
<polygon points="200,680 219.3,675.2 219.3,678.2 200,683" fill="#a7cf38"/>
<polygon points="181,630 192,626 214,640 214,648 200,654 181,642" fill="#b4dc3a"/>
<polygon points="181,642 200,654 214,648 214,652 200,658 181,646" fill="#2f9a3a"/>
<path d="M216.5,606.8 A28,20 0 0 0 216.5,646.8 L237,646.8 L239,640.8 L237,637.4 L216.5,637.4 A12,10.6 0 0 1 216.5,616.2 L226,616.2 L226,606.8 Z" fill="#f6cf2a"/>
<path d="M216.5,610.3 A24,16.5 0 0 0 216.5,643.3 L236,643.3 L236,639.3 L216.5,639.3 A14,12.5 0 0 1 216.5,614.3 L225,614.3 L225,610.3 Z" fill="#fadf6a"/>
<path d="M216.5,616.2 A12,10.6 0 0 0 216.5,637.4 L233,637.4 L233,616.2 Z" fill="#c9a24a"/>
<polygon points="213,621 222,617 230,621 230,630 221,634 213,630" fill="#eccb32"/>
<ellipse cx="217.2" cy="620.4" rx="2.2" ry="1.4" fill="#d0b532"/>
<rect x="215.1" y="619.1" width="4.4" height="1.3" fill="#d0b532"/>
<ellipse cx="217.2" cy="619.1" rx="2.2" ry="1.4" fill="#f4d856"/>
<ellipse cx="219.8" cy="624.9" rx="2.2" ry="1.4" fill="#d0b532"/>
<rect x="217.6" y="623.6" width="4.4" height="1.3" fill="#d0b532"/>
<ellipse cx="219.8" cy="623.6" rx="2.2" ry="1.4" fill="#f4d856"/>
<ellipse cx="221.2" cy="618.6" rx="2.2" ry="1.4" fill="#d0b532"/>
<rect x="219.1" y="617.3" width="4.4" height="1.3" fill="#d0b532"/>
<ellipse cx="221.2" cy="617.3" rx="2.2" ry="1.4" fill="#f4d856"/>
<ellipse cx="223.8" cy="623.1" rx="2.2" ry="1.4" fill="#d0b532"/>
<rect x="221.6" y="621.8" width="4.4" height="1.3" fill="#d0b532"/>
<ellipse cx="223.8" cy="621.8" rx="2.2" ry="1.4" fill="#f4d856"/>
<polygon points="237,640.8 239,640.8 239,650 236,651 220,650 216.5,646.8 237,646.8" fill="#e4b41e"/>
<polygon points="180.4,655.4 182.4,657 182.4,669 180.4,667.4" fill="#e22d37"/>
<polygon points="182,657 187.5,655.4 187.5,667.4 182,669" fill="#d31e27"/>
<polygon points="196.7,653.7 198.4,655 198.4,670 196.7,668.7" fill="#e22d37"/>
<polygon points="198,655 202.3,653.7 202.3,668.7 198,670" fill="#d31e27"/>
<path d="M173,653 C180,647 192,645 200,645.2 C207,645.5 212,648 215,651 L214,658 C210,655 204,653 198,653 C190,653 182,655 176,659 Z" fill="#e11c25"/>
<path d="M175,652 C182,648 192,646.5 200,646.6 C206,647 210,649 213,651 L212.5,653 C208,651 203,649.5 198,649.5 C190,649.5 182,651.5 176,655 Z" fill="#ef4d55"/>
<path d="M246,636 C241,640 238,647 238.4,654.4 C239,662 243,669 249,672.8 L252,672 C254,668 258,666 263,665.7 L263.2,641.7 C258,638 252,636 246,636 Z" fill="#e11c25"/>
<path d="M244,643 C242,647 241.5,651 241.8,655 C242.5,661 245,666 248,669 L249.5,668 C247,663 245,658 245,653 C245,649 246,645 247.5,642 Z" fill="#ef4d55"/>
<path d="M249,641 C247,645 246.5,650 247,655 C247.5,659 249,663 251,666 L252.5,665 C251,661 250,657 250,653 C250,649 250.5,645 252,641.5 Z" fill="#ef4d55"/>
<polygon points="257.5,641.7 263.2,641.7 263.2,665.7 257.5,668" fill="#b8141c"/>
<polygon points="250.4,688 262,688 262,701 250.4,701" fill="#ee7633"/>
<polygon points="251.8,672 276.1,685.5 276.1,698.4 251.8,685" fill="#5a9fe0"/>
<polygon points="276.1,685.5 289.3,680.3 289.3,691.1 276.1,698.4" fill="#5aa2e6"/>
<polygon points="251.8,672 270.4,661.2 289.3,680.3 276.1,685.5" fill="#80c2f6"/>
<ellipse cx="270" cy="674.5" rx="10.5" ry="6.5" fill="#6cb0ee"/>
<ellipse cx="270.5" cy="675.5" rx="6.5" ry="4" fill="#64aaea"/>
<polygon points="231.3,692 251.1,688 251.1,699 240,703 231.3,699" fill="#5a9fe0"/>
<polygon points="227.8,680 240,674.2 251.1,680 251.1,693 240,698 227.8,692" fill="#35a03a"/>
<polygon points="227.8,680 240,674.2 251.1,680 239,686" fill="#4cb84a"/>
<path d="M181,649.5 C170,650.5 160,657.5 157.5,667.5 C156,676 157,684 160,691 L171.5,688 C169.5,681 169.5,674 172,667.5 C174.5,662 179,659 184.5,658 Z" fill="#f6cf2a"/>
<path d="M178,652 C170,653.5 163,659 161,667.5 C159.8,675 160.5,682 163,688 L166.5,687.2 C164.5,681 164.2,674.5 166,668 C168,661.5 173,657.5 180,656 Z" fill="#fadf6a"/>
<path d="M171.5,688 C169.5,681 169.5,674 172,667.5 C174.5,662 179,659 184.5,658 L184.5,661 C180,662 176.5,665 175,669 C173.5,674 173.5,680 174.5,686 Z" fill="#e4b41e"/>
<polygon points="155.7,690 165,687 172.6,692 172.6,701.1 163,701 155.7,696" fill="#b4dc3a"/>
<path d="M159,686 L168,682 L198,697 L198,719 L187,719 L186,710 L161,699 Z" fill="#2d5fc2"/>
<polygon points="163,687 168,684.5 197,699 193.5,702" fill="#5586d6"/>
<polygon points="186,709 198,704 198,719 187,719" fill="#224aa0"/>
<polygon points="181.1,738 190,735 196.7,740 196.7,747 188,747 181.1,743" fill="#b4dc3a"/>
<polygon points="229.2,710.2 232.4,713 232.4,721.5 229.2,718.7" fill="#48b353"/>
<polygon points="232,713 242,710 242,718.5 232,721.5" fill="#38a444"/>
<polygon points="229.2,718.2 232.4,721 232.4,725 229.2,722.2" fill="#b7de48"/>
<polygon points="232,721 242,718 242,722 232,725" fill="#a7cf38"/>
<polygon points="210.8,707 226,701.1 234.9,707 234.9,716 220,721 210.8,715" fill="#ee7633"/>
<polygon points="210.8,707 226,701.1 234.9,707 220,713" fill="#f69052"/>
<ellipse cx="223" cy="707.5" rx="6" ry="3" fill="#e97a3e"/>
<polygon points="191,719 212,711 229.2,720 229.2,733 208,745.7 191,735" fill="#ee7633"/>
<polygon points="191,719 212,711 229.2,720 208,729" fill="#f69052"/>
<path d="M197,719 C203,714 212,713 218,716 L222,720 L208,726 C204,723 200,721 197,719 Z" fill="#e8783c"/>
<polygon points="167.7,724 182,716.7 193.9,724 193.9,734 180,740.7 167.7,733" fill="#ee7633"/>
<polygon points="167.7,724 182,716.7 193.9,724 180,731" fill="#f69052"/>
<ellipse cx="180" cy="724" rx="7" ry="3.2" fill="#e97a3e"/></g>
<g id="st10"><polygon points="713.5,788.4 715.4,792 715.4,798.5 713.5,794.9" fill="#48b353"/>
<polygon points="715,792 726.8,788.5 726.8,795 715,798.5" fill="#38a444"/>
<polygon points="713.5,794.4 715.4,798 715.4,806.5 713.5,802.9" fill="#f1823e"/>
<polygon points="715,798 726.8,794.5 726.8,803 715,806.5" fill="#e2732f"/>
<polygon points="713.5,802.4 715.4,806 715.4,812.5 713.5,808.9" fill="#379944"/>
<polygon points="715,806 726.8,802.5 726.8,809 715,812.5" fill="#278935"/>
<polygon points="713.5,808.4 715.4,812 715.4,820.5 713.5,816.9" fill="#48b353"/>
<polygon points="715,812 726.8,808.5 726.8,817 715,820.5" fill="#38a444"/>
<polygon points="713.5,816.4 715.4,820 715.4,828.5 713.5,824.9" fill="#6ba9e4"/>
<polygon points="715,820 726.8,816.5 726.8,825 715,828.5" fill="#5c9ad4"/>
<polygon points="713.5,824.4 715.4,828 715.4,834.5 713.5,830.9" fill="#f1823e"/>
<polygon points="715,828 726.8,824.5 726.8,831 715,834.5" fill="#e2732f"/>
<polygon points="713.5,830.4 715.4,834 715.4,840 713.5,836.4" fill="#48b353"/>
<polygon points="715,834 726.8,830.5 726.8,836.5 715,840" fill="#38a444"/>
<polygon points="692.7,862.9 694.4,866 694.4,873.5 692.7,870.4" fill="#6ba9e4"/>
<polygon points="694,866 741.7,851.7 741.7,859.2 694,873.5" fill="#5c9ad4"/>
<polygon points="692.7,869.9 694.4,873 694.4,881.5 692.7,878.4" fill="#f1823e"/>
<polygon points="694,873 741.7,858.7 741.7,867.2 694,881.5" fill="#e2732f"/>
<polygon points="692.7,877.9 694.4,881 694.4,889.5 692.7,886.4" fill="#48b353"/>
<polygon points="694,881 741.7,866.7 741.7,875.2 694,889.5" fill="#38a444"/>
<polygon points="692.7,885.9 694.4,889 694.4,895.5 692.7,892.4" fill="#6ba9e4"/>
<polygon points="694,889 741.7,874.7 741.7,881.2 694,895.5" fill="#5c9ad4"/>
<polygon points="692.7,891.9 694.4,895 694.4,901 692.7,897.9" fill="#f1823e"/>
<polygon points="694,895 741.7,880.7 741.7,886.7 694,901" fill="#e2732f"/>
<path d="M637,797 C640,788 660,785 675,785.5 C692,786 706,789 711,795 L706,798 C701,793 690,791 675,791 C660,791 648,793 644,799 Z" fill="#f6cf2a"/>
<polygon points="679,775.3 708.5,789 708.5,795.8 681,783" fill="#5a9fe0"/>
<polygon points="708.5,789 730.8,782.5 730.8,788.5 708.5,795.8" fill="#4f92d6"/>
<polygon points="679,775.3 701,769.3 730.8,782.5 708.5,789" fill="#74b4ee"/>
<ellipse cx="693" cy="775.5" rx="9" ry="4.2" fill="#62a2e2"/>
<ellipse cx="715" cy="781.5" rx="9" ry="4.2" fill="#62a2e2"/>
<polygon points="661,795 687,779 693,781 667,798" fill="#2d5fc2"/>
<polygon points="662,794 687,779.5 689,780.5 664,795.5" fill="#5586d6"/>
<polygon points="668,806 700,800 712,806 712,826 690,832 668,826" fill="#4a7cbc"/>
<polygon points="680.4,800.8 683.4,807 683.4,816.5 680.4,810.3" fill="#48b353"/>
<polygon points="683,807 702.9,801 702.9,810.5 683,816.5" fill="#38a444"/>
<polygon points="680.4,809.8 683.4,816 683.4,826 680.4,819.8" fill="#f1823e"/>
<polygon points="683,816 702.9,810 702.9,820 683,826" fill="#e2732f"/>
<polygon points="680.4,800.8 683,807 702.9,801 700.3,794.8" fill="#53b85e"/>
<ellipse cx="686.7" cy="802.4" rx="2.8" ry="1.7" fill="#3aa745"/>
<rect x="683.9" y="800.1" width="5.6" height="2.2" fill="#3aa745"/>
<ellipse cx="686.7" cy="800.1" rx="2.8" ry="1.7" fill="#6dc276"/>
<ellipse cx="696.6" cy="799.4" rx="2.8" ry="1.7" fill="#3aa745"/>
<rect x="693.8" y="797.2" width="5.6" height="2.2" fill="#3aa745"/>
<ellipse cx="696.6" cy="797.2" rx="2.8" ry="1.7" fill="#6dc276"/>
<polygon points="642.5,800 655,794.5 667.1,799 667.1,806 655,811.8 642.5,806" fill="#5a9fe0"/>
<polygon points="642.5,800 655,794.5 667.1,799 655,804" fill="#74b4ee"/>
<polygon points="655.1,796.5 697.6,794.5 697.6,799.8 655.1,801.5" fill="#e11c25"/>
<polygon points="660.4,799 667.1,799 667.1,817.1 660.4,817.1" fill="#e11c25"/>
<polygon points="697.6,794.5 700,794.5 700,812 697.6,812" fill="#f6cf2a"/>
<polygon points="625.4,832.4 629.4,836 629.4,844.5 625.4,840.9" fill="#f1823e"/>
<polygon points="629,836 638,833.8 638,842.2 629,844.5" fill="#e2732f"/>
<polygon points="625.4,840.4 629.4,844 629.4,848.5 625.4,844.9" fill="#379944"/>
<polygon points="629,844 638,841.8 638,846.2 629,848.5" fill="#278935"/>
<polygon points="625.4,844.4 629.4,848 629.4,852.5 625.4,848.9" fill="#b7de48"/>
<polygon points="629,848 638,845.8 638,850.2 629,852.5" fill="#a7cf38"/>
<polygon points="625.4,848.4 629.4,852 629.4,860.5 625.4,856.9" fill="#6ba9e4"/>
<polygon points="629,852 638,849.8 638,858.2 629,860.5" fill="#5c9ad4"/>
<polygon points="625.4,856.4 629.4,860 629.4,868.5 625.4,864.9" fill="#f1823e"/>
<polygon points="629,860 638,857.8 638,866.2 629,868.5" fill="#e2732f"/>
<polygon points="625.4,864.4 629.4,868 629.4,872.5 625.4,868.9" fill="#379944"/>
<polygon points="629,868 638,865.8 638,870.2 629,872.5" fill="#278935"/>
<polygon points="625.4,868.4 629.4,872 629.4,878.5 625.4,874.9" fill="#48b353"/>
<polygon points="629,872 638,869.8 638,876.2 629,878.5" fill="#38a444"/>
<polygon points="625.4,874.4 629.4,878 629.4,882.5 625.4,878.9" fill="#b7de48"/>
<polygon points="629,878 638,875.8 638,880.2 629,882.5" fill="#a7cf38"/>
<polygon points="625.4,878.4 629.4,882 629.4,890.5 625.4,886.9" fill="#6ba9e4"/>
<polygon points="629,882 638,879.8 638,888.2 629,890.5" fill="#5c9ad4"/>
<polygon points="625.4,886.4 629.4,890 629.4,898.5 625.4,894.9" fill="#f1823e"/>
<polygon points="629,890 638,887.8 638,896.2 629,898.5" fill="#e2732f"/>
<polygon points="625.4,894.4 629.4,898 629.4,902.5 625.4,898.9" fill="#379944"/>
<polygon points="629,898 638,895.8 638,900.2 629,902.5" fill="#278935"/>
<polygon points="625.4,898.4 629.4,902 629.4,905.5 625.4,901.9" fill="#b7de48"/>
<polygon points="629,902 638,899.8 638,903.2 629,905.5" fill="#a7cf38"/>
<polygon points="625.4,901.4 629.4,905 629.4,913 625.4,909.4" fill="#6ba9e4"/>
<polygon points="629,905 638,902.8 638,910.8 629,913" fill="#5c9ad4"/>
<polygon points="643,835.2 645.4,840 645.4,848.5 643,843.7" fill="#6ba9e4"/>
<polygon points="645,840 654.8,837.5 654.8,846 645,848.5" fill="#5c9ad4"/>
<polygon points="643,843.2 645.4,848 645.4,854.5 643,849.7" fill="#48b353"/>
<polygon points="645,848 654.8,845.5 654.8,852 645,854.5" fill="#38a444"/>
<polygon points="643,849.2 645.4,854 645.4,858.5 643,853.7" fill="#b7de48"/>
<polygon points="645,854 654.8,851.5 654.8,856 645,858.5" fill="#a7cf38"/>
<polygon points="643,853.2 645.4,858 645.4,866.5 643,861.7" fill="#6ba9e4"/>
<polygon points="645,858 654.8,855.5 654.8,864 645,866.5" fill="#5c9ad4"/>
<polygon points="643,861.2 645.4,866 645.4,874.5 643,869.7" fill="#f1823e"/>
<polygon points="645,866 654.8,863.5 654.8,872 645,874.5" fill="#e2732f"/>
<polygon points="643,869.2 645.4,874 645.4,878 643,873.2" fill="#379944"/>
<polygon points="645,874 654.8,871.5 654.8,875.5 645,878" fill="#278935"/>
<polygon points="649.8,808.7 652.4,814 652.4,821.5 649.8,816.2" fill="#f1823e"/>
<polygon points="652,814 667.1,809.5 667.1,817 652,821.5" fill="#e2732f"/>
<polygon points="649.8,815.7 652.4,821 652.4,828.5 649.8,823.2" fill="#48b353"/>
<polygon points="652,821 667.1,816.5 667.1,824 652,828.5" fill="#38a444"/>
<polygon points="649.8,822.7 652.4,828 652.4,834 649.8,828.7" fill="#f1823e"/>
<polygon points="652,828 667.1,823.5 667.1,829.5 652,834" fill="#e2732f"/>
<polygon points="615.3,823.3 632,838.3 632,843 615.3,828" fill="#a7cc39"/>
<polygon points="632,838.3 673.7,824.3 673.7,829 632,843" fill="#95b633"/>
<polygon points="615.3,824 652,812 673.7,825 632,839" fill="#b6de3e"/>
<ellipse cx="621.8" cy="825.3" rx="3" ry="1.9" fill="#8ead30"/>
<rect x="618.8" y="823.5" width="6" height="1.8" fill="#8ead30"/>
<ellipse cx="621.8" cy="823.5" rx="3" ry="1.9" fill="#c5e565"/>
<ellipse cx="627.3" cy="830.3" rx="3" ry="1.9" fill="#8ead30"/>
<rect x="624.3" y="828.5" width="6" height="1.8" fill="#8ead30"/>
<ellipse cx="627.3" cy="828.5" rx="3" ry="1.9" fill="#c5e565"/>
<ellipse cx="632.9" cy="835.3" rx="3" ry="1.9" fill="#8ead30"/>
<rect x="629.9" y="833.5" width="6" height="1.8" fill="#8ead30"/>
<ellipse cx="632.9" cy="833.5" rx="3" ry="1.9" fill="#c5e565"/>
<ellipse cx="629.1" cy="822.9" rx="3" ry="1.9" fill="#8ead30"/>
<rect x="626.1" y="821.1" width="6" height="1.8" fill="#8ead30"/>
<ellipse cx="629.1" cy="821.1" rx="3" ry="1.9" fill="#c5e565"/>
<ellipse cx="634.7" cy="827.9" rx="3" ry="1.9" fill="#8ead30"/>
<rect x="631.7" y="826.1" width="6" height="1.8" fill="#8ead30"/>
<ellipse cx="634.7" cy="826.1" rx="3" ry="1.9" fill="#c5e565"/>
<ellipse cx="640.2" cy="832.9" rx="3" ry="1.9" fill="#8ead30"/>
<rect x="637.2" y="831.1" width="6" height="1.8" fill="#8ead30"/>
<ellipse cx="640.2" cy="831.1" rx="3" ry="1.9" fill="#c5e565"/>
<ellipse cx="636.4" cy="820.5" rx="3" ry="1.9" fill="#8ead30"/>
<rect x="633.4" y="818.7" width="6" height="1.8" fill="#8ead30"/>
<ellipse cx="636.4" cy="818.7" rx="3" ry="1.9" fill="#c5e565"/>
<ellipse cx="642" cy="825.5" rx="3" ry="1.9" fill="#8ead30"/>
<rect x="639" y="823.7" width="6" height="1.8" fill="#8ead30"/>
<ellipse cx="642" cy="823.7" rx="3" ry="1.9" fill="#c5e565"/>
<ellipse cx="647.6" cy="830.5" rx="3" ry="1.9" fill="#8ead30"/>
<rect x="644.6" y="828.7" width="6" height="1.8" fill="#8ead30"/>
<ellipse cx="647.6" cy="828.7" rx="3" ry="1.9" fill="#c5e565"/>
<ellipse cx="643.8" cy="818.1" rx="3" ry="1.9" fill="#8ead30"/>
<rect x="640.8" y="816.3" width="6" height="1.8" fill="#8ead30"/>
<ellipse cx="643.8" cy="816.3" rx="3" ry="1.9" fill="#c5e565"/>
<ellipse cx="649.3" cy="823.1" rx="3" ry="1.9" fill="#8ead30"/>
<rect x="646.3" y="821.3" width="6" height="1.8" fill="#8ead30"/>
<ellipse cx="649.3" cy="821.3" rx="3" ry="1.9" fill="#c5e565"/>
<ellipse cx="654.9" cy="828.1" rx="3" ry="1.9" fill="#8ead30"/>
<rect x="651.9" y="826.3" width="6" height="1.8" fill="#8ead30"/>
<ellipse cx="654.9" cy="826.3" rx="3" ry="1.9" fill="#c5e565"/>
<ellipse cx="651.1" cy="815.7" rx="3" ry="1.9" fill="#8ead30"/>
<rect x="648.1" y="813.9" width="6" height="1.8" fill="#8ead30"/>
<ellipse cx="651.1" cy="813.9" rx="3" ry="1.9" fill="#c5e565"/>
<ellipse cx="656.7" cy="820.7" rx="3" ry="1.9" fill="#8ead30"/>
<rect x="653.7" y="818.9" width="6" height="1.8" fill="#8ead30"/>
<ellipse cx="656.7" cy="818.9" rx="3" ry="1.9" fill="#c5e565"/>
<ellipse cx="662.2" cy="825.7" rx="3" ry="1.9" fill="#8ead30"/>
<rect x="659.3" y="823.9" width="6" height="1.8" fill="#8ead30"/>
<ellipse cx="662.2" cy="823.9" rx="3" ry="1.9" fill="#c5e565"/>
<polygon points="614,806 626,822 626,831.7 614,818" fill="#35a03a"/>
<polygon points="626,822 650,812 650,821 626,831.7" fill="#2f9336"/>
<polygon points="614,806 638,799.8 650,812 626,822" fill="#4cb84a"/>
<ellipse cx="632" cy="811" rx="10" ry="5" fill="#36a43a"/>
<path d="M667,812 C667,826 676,838 690,839.6 C702,840.5 711,834 713,826 L712,818 C708,824 700,828 691,827.5 C682,826 678,820 678,812 Z" fill="#2d5fc2"/>
<path d="M669,814 C670,826 678,835 690,837 L690.5,833 C681,831 675,824 674,814 Z" fill="#5586d6"/>
<path d="M678,812 C678,820 682,826 691,827.5 C700,828 708,824 712,818 L712,812 C705,818 697,820 690,819.5 C684,819 681,816 680,812 Z" fill="#4f86d4"/>
<path d="M702,813 C713,810 726,813 733,821 L738,829 L731,834 L726,827 C721,821 712,819.5 703,821 Z" fill="#f6cf2a"/>
<path d="M703,814 C713,811.5 725,814 732,821.5 L734,824.5 C728,818 718,815.5 703,817 Z" fill="#fadf6a"/>
<polygon points="726.8,820.7 729.4,826 729.4,834 726.8,828.7" fill="#48b353"/>
<polygon points="729,826 737.4,822.6 737.4,830.6 729,834" fill="#38a444"/>
<polygon points="726.8,820.7 729,826 737.4,822.6 735.2,817.4" fill="#53b85e"/>
<ellipse cx="730" cy="822.5" rx="2" ry="1.2" fill="#3aa745"/>
<rect x="728" y="820.9" width="4" height="1.6" fill="#3aa745"/>
<ellipse cx="730" cy="820.9" rx="2" ry="1.2" fill="#6dc276"/>
<ellipse cx="734.2" cy="820.8" rx="2" ry="1.2" fill="#3aa745"/>
<rect x="732.2" y="819.2" width="4" height="1.6" fill="#3aa745"/>
<ellipse cx="734.2" cy="819.2" rx="2" ry="1.2" fill="#6dc276"/>
<polygon points="762.7,844.5 765.4,850 765.4,858.5 762.7,853" fill="#48b353"/>
<polygon points="765,850 776.7,847.1 776.7,855.6 765,858.5" fill="#38a444"/>
<polygon points="762.7,852.5 765.4,858 765.4,866.5 762.7,861" fill="#f1823e"/>
<polygon points="765,858 776.7,855.1 776.7,863.6 765,866.5" fill="#e2732f"/>
<polygon points="762.7,860.5 765.4,866 765.4,874.5 762.7,869" fill="#6ba9e4"/>
<polygon points="765,866 776.7,863.1 776.7,871.6 765,874.5" fill="#5c9ad4"/>
<polygon points="762.7,868.5 765.4,874 765.4,878.5 762.7,873" fill="#b7de48"/>
<polygon points="765,874 776.7,871.1 776.7,875.6 765,878.5" fill="#a7cf38"/>
<polygon points="762.7,872.5 765.4,878 765.4,886.5 762.7,881" fill="#48b353"/>
<polygon points="765,878 776.7,875.1 776.7,883.6 765,886.5" fill="#38a444"/>
<polygon points="762.7,880.5 765.4,886 765.4,894.5 762.7,889" fill="#f1823e"/>
<polygon points="765,886 776.7,883.1 776.7,891.6 765,894.5" fill="#e2732f"/>
<polygon points="762.7,888.5 765.4,894 765.4,898.5 762.7,893" fill="#379944"/>
<polygon points="765,894 776.7,891.1 776.7,895.6 765,898.5" fill="#278935"/>
<polygon points="762.7,892.5 765.4,898 765.4,908.5 762.7,903" fill="#6ba9e4"/>
<polygon points="765,898 776.7,895.1 776.7,905.6 765,908.5" fill="#5c9ad4"/>
<polygon points="762.7,902.5 765.4,908 765.4,914 762.7,908.5" fill="#f1823e"/>
<polygon points="765,908 776.7,905.1 776.7,911.1 765,914" fill="#e2732f"/>
<polygon points="753.4,856 774,849 777.3,852 777.3,857 758,863.5 753.4,860" fill="#2f9a38"/>
<polygon points="730,836.3 750.7,851.6 750.7,862.2 731,846" fill="#ee7633"/>
<polygon points="750.7,851.6 776.6,839.6 776.6,848 750.7,862.2" fill="#e06a2a"/>
<polygon points="730,836.3 762.7,825 776.6,839.6 750.7,851.6" fill="#f69052"/>
<path d="M738,836 C745,831 758,829 766,834 L768,840 C760,836 750,837 744,841 Z" fill="#e47a3a"/>
<polygon points="695,858 730,845 741.4,852 741.4,856 705,869 695,862" fill="#2f9a38"/>
<ellipse cx="706.5" cy="859.2" rx="2" ry="1.2" fill="#288430"/>
<rect x="704.5" y="858" width="4" height="1.2" fill="#288430"/>
<ellipse cx="706.5" cy="858" rx="2" ry="1.2" fill="#4ca854"/>
<ellipse cx="713.5" cy="856.8" rx="2" ry="1.2" fill="#288430"/>
<rect x="711.5" y="855.5" width="4" height="1.2" fill="#288430"/>
<ellipse cx="713.5" cy="855.5" rx="2" ry="1.2" fill="#4ca854"/>
<ellipse cx="720.5" cy="854.2" rx="2" ry="1.2" fill="#288430"/>
<rect x="718.5" y="853" width="4" height="1.2" fill="#288430"/>
<ellipse cx="720.5" cy="853" rx="2" ry="1.2" fill="#4ca854"/>
<ellipse cx="727.5" cy="851.8" rx="2" ry="1.2" fill="#288430"/>
<rect x="725.5" y="850.5" width="4" height="1.2" fill="#288430"/>
<ellipse cx="727.5" cy="850.5" rx="2" ry="1.2" fill="#4ca854"/>
<polygon points="728,840 734.8,838 734.8,860.9 728,860.9" fill="#224aa0"/>
<polygon points="693.6,852 727,835.7 733,838 700,858 697,860.9" fill="#2d5fc2"/>
<polygon points="695,852 727,836.5 729,837.5 697,854" fill="#5586d6"/>
<polygon points="664,890.2 666.4,895 666.4,901.5 664,896.7" fill="#6ba9e4"/>
<polygon points="666,895 675.9,892 675.9,898.5 666,901.5" fill="#5c9ad4"/>
<polygon points="664,896.2 666.4,901 666.4,905.5 664,900.7" fill="#379944"/>
<polygon points="666,901 675.9,898 675.9,902.5 666,905.5" fill="#278935"/>
<polygon points="664,900.2 666.4,905 666.4,909.5 664,904.7" fill="#b7de48"/>
<polygon points="666,905 675.9,902 675.9,906.5 666,909.5" fill="#a7cf38"/>
<polygon points="664,904.2 666.4,909 666.4,917.5 664,912.7" fill="#f1823e"/>
<polygon points="666,909 675.9,906 675.9,914.5 666,917.5" fill="#e2732f"/>
<polygon points="664,912.2 666.4,917 666.4,923 664,918.2" fill="#6ba9e4"/>
<polygon points="666,917 675.9,914 675.9,920 666,923" fill="#5c9ad4"/>
<polygon points="650.6,878 680,867 694,872 694,886 664,897.8 650.6,890" fill="#2a8c36"/>
<polygon points="650.6,878 680,867 694,872 664,883" fill="#36a43e"/>
<polygon points="670,870.2 672.4,875 672.4,882.5 670,877.7" fill="#48b353"/>
<polygon points="672,875 685,871.1 685,878.6 672,882.5" fill="#38a444"/>
<polygon points="670,877.2 672.4,882 672.4,890 670,885.2" fill="#f1823e"/>
<polygon points="672,882 685,878.1 685,886.1 672,890" fill="#e2732f"/>
<polygon points="652,871 662,867 668,871 668,880 658,884 652,880" fill="#35a03a"/>
<polygon points="669.7,860 684.3,860 682,876.8 671,876.8" fill="#c8161e"/>
<polygon points="690,852 699,856 698,863.5 688,860" fill="#e11c25"/>
<ellipse cx="671" cy="853.5" rx="20" ry="10.5" fill="#e11c25"/>
<ellipse cx="672" cy="852.5" rx="16" ry="7.8" fill="#d01a22"/>
<ellipse cx="668" cy="850" rx="9" ry="3.5" fill="#e0454c"/>
<ellipse cx="675" cy="857" rx="3.5" ry="2" fill="#8a1014"/>
<use href="#core_p" transform="translate(545.2 374.4) scale(0.825)"/>
<polygon points="667.5,862 684.5,860 684.5,874 676,878 667.5,875" fill="#d41a22"/>
<polygon points="676,866 684.5,862 684.5,874 676,878" fill="#b8141c"/>
<polygon points="667.5,875 676,878 684.5,874 684.5,884 676,888 667.5,885" fill="#35a03a"/></g>
</defs>
<rect width="1356" height="1096" fill="#ffffff"/>
<polygon points="1055,225 1105,240 1105,258 1093,266 1055,250" fill="#c8161c"/>
<polygon points="1184,250 1231,250 1231,327 1185,308" fill="#cf1b21"/>
<polygon points="1231,250 1290,220 1288,272 1231,327" fill="#b5161b"/>
<path d="M1000,123 C1015,116 1035,104 1050,98 C1075,88 1110,76 1150,73 C1230,68 1300,90 1330,125 C1348,148 1342,180 1325,200 C1300,232 1250,262 1190,267 C1160,268 1125,264 1105,259 C1080,252 1065,244 1056,235 C1045,225 1030,210 1018,200 L1016,215 C1012,225 1006,230 1000,233 Z" fill="#e5171f"/>
<ellipse cx="1185" cy="156" rx="146" ry="70" fill="#d11a20"/>
<path d="M1040,165 C1040,140 1046,125 1060,118 C1080,112 1110,114 1130,122 L1148,150 C1150,170 1146,190 1135,197 C1100,200 1065,196 1042,185 Z" fill="#dd4a50"/>
<path d="M1166,118 C1200,114 1260,116 1290,130 C1305,145 1305,175 1296,192 C1270,200 1230,202 1190,198 C1175,180 1168,150 1166,118 Z" fill="#de5055"/>
<path d="M1132,96 C1160,92 1210,92 1232,97 L1231,118 C1205,120 1160,118 1133,118 Z" fill="#dc5a5e"/>
<path d="M1115,120 C1150,116 1200,116 1228,122 C1222,150 1200,175 1172,182 C1145,176 1122,150 1115,120 Z" fill="#c9191e"/>
<path d="M1000,123 C1015,116 1035,104 1050,98 L1062,110 C1045,118 1020,130 1000,140 Z" fill="#ee2a30"/>
<path d="M1000,140 C1020,130 1045,118 1062,110 L1045,150 C1030,160 1015,168 1000,175 Z" fill="#d71c22"/>
<path d="M1000,175 C1015,168 1030,160 1045,150 L1040,185 L1018,198 L1000,205 Z" fill="#e23036"/>
<path d="M1030,200 C1060,222 1110,240 1170,242 C1240,244 1300,222 1330,190 C1335,200 1330,210 1325,215 C1300,240 1250,262 1190,267 C1160,268 1125,264 1105,259 C1080,252 1065,244 1056,235 C1045,225 1035,212 1030,200 Z" fill="#d21a20"/>
<ellipse cx="1170" cy="216" rx="42" ry="23" fill="#ffffff"/>
<polygon points="1129,212 1140,203 1157,199 1157,222 1146,231 1136,226" fill="#a81218"/>
<polygon points="1000,460 1025,491 1027,564 1000,550" fill="#ea7a3c"/>
<polygon points="1025,491 1126,449 1125,521 1027,564" fill="#e0652b"/>
<polygon points="1000,460 1057,437 1126,449 1025,491" fill="#ef7a38"/>
<rect x="1007" y="443" width="44" height="29" fill="#ec7234"/>
<ellipse cx="1029" cy="472" rx="22" ry="8" fill="#ec7234"/>
<ellipse cx="1029" cy="443" rx="22" ry="8" fill="#f28a4e"/>
<rect x="1059" y="421" width="44" height="34" fill="#ec7234"/>
<ellipse cx="1081" cy="455" rx="22" ry="8" fill="#ec7234"/>
<ellipse cx="1081" cy="421" rx="22" ry="8" fill="#f28a4e"/>
<radialGradient id="mg" cx="0.6" cy="0.45" r="0.6"><stop offset="0" stop-color="#a8a8a8"/><stop offset="0.75" stop-color="#909090"/><stop offset="1" stop-color="#767676"/></radialGradient>
<ellipse cx="1083" cy="745" rx="46" ry="46" fill="url(#mg)"/>
<ellipse cx="1110" cy="743" rx="18" ry="31" fill="#a6a6a6"/>
<path d="M1058,720 C1060,710 1070,706 1080,706 L1088,707 C1086,720 1085,740 1086,760 C1087,772 1086,782 1084,790 C1076,790 1070,789 1066,787 C1060,770 1057,745 1058,720 Z" fill="#a3a040"/>
<polygon points="1060,723 1077,723 1079,733 1072,740 1061,739" fill="#404030"/>
<polygon points="1057.5,727 1064,727 1064,740 1058,740" fill="#e6e020"/>
<polygon points="1073,744 1084,745 1084,753 1075,752" fill="#e6e020"/>
<polygon points="1066,775 1084,775 1084,789.5 1068,788" fill="#e6e020"/>
<path d="M1086,706 C1093,704 1100,705 1106,710 L1108,735 C1109,750 1108,765 1104,778 C1100,786 1094,790 1088,790 C1091,770 1091,745 1089,725 Z" fill="#8a4038"/>
<polygon points="1090,735 1107,735 1107,753 1091,753" fill="#c03a3a"/>
<polygon points="1091,753 1107,753 1105,773 1092,773" fill="#3a2222"/>
<path d="M1085.5,706 C1088,720 1088,745 1087,765 C1086.5,777 1085.5,785 1084.5,790 L1087,790 C1089,780 1090,765 1090,745 C1090,728 1089,715 1087.5,706 Z" fill="#c8c8c8"/>
<polygon points="1034,965 1065,995 1066,1027 1035,997" fill="#9cc83e"/>
<polygon points="1065,995 1176,956 1176,991 1066,1027" fill="#8ab22c"/>
<polygon points="1034,965 1104,941 1176,956 1065,995" fill="#a6d444"/>
<rect x="1056" y="950" width="42" height="26" fill="#a2d046"/>
<ellipse cx="1077" cy="976" rx="21" ry="7" fill="#a2d046"/>
<ellipse cx="1077" cy="950" rx="21" ry="10" fill="#b2dc62"/>
<rect x="1112" y="933" width="42" height="25" fill="#a2d046"/>
<ellipse cx="1133" cy="958" rx="21" ry="7" fill="#a2d046"/>
<ellipse cx="1133" cy="933" rx="21" ry="10" fill="#b2dc62"/>
<polygon points="1030.4,298.2 1036.4,298.2 1057.6,329.5 1051.6,329.5" fill="#2d2829"/>
<polygon points="1050.6,298.2 1056.6,298.2 1034.4,329.5 1028.4,329.5" fill="#2d2829"/>
<rect x="1064.3" y="298.2" width="4.5" height="31.3" fill="#2d2829"/>
<polygon points="1115.2,533 1121.2,533 1144.3,566.3 1138.3,566.3" fill="#2d2829"/>
<polygon points="1137.2,533 1143.2,533 1119,566.3 1113,566.3" fill="#2d2829"/>
<rect x="1151.6" y="533" width="5" height="33.3" fill="#2d2829"/>
<path d="M1190.6,535.1 H1167.4 V548.3 H1183.8 A6.7,6.7 0 0 1 1190.5,555 V557.5 A6.7,6.7 0 0 1 1183.8,564.2 H1165.3" fill="none" stroke="#2d2829" stroke-width="4.2" stroke-linejoin="round"/>
<rect x="1202.2" y="534.8" width="24.2" height="13.8" rx="7.5" fill="none" stroke="#2d2829" stroke-width="4.2"/>
<rect x="1200.7" y="548.6" width="27.2" height="15.9" rx="8.5" fill="none" stroke="#2d2829" stroke-width="4.2"/>
<polygon points="1149.1,757.4 1155.1,757.4 1179.2,791.3 1173.2,791.3" fill="#2d2829"/>
<polygon points="1172.1,757.4 1178.1,757.4 1152.8,791.3 1146.8,791.3" fill="#2d2829"/>
<path d="M1213.5,759.7 H1196.5 A10.2,10.2 0 0 0 1186.3,769.9 V779.3 A10.2,10.2 0 0 0 1196.5,789.5 H1201.7 A10.2,10.2 0 0 0 1211.9,779.3 V778.3 A6.1,6.1 0 0 0 1205.8,772.2 H1186.3" fill="none" stroke="#2d2829" stroke-width="4.2" stroke-linejoin="round"/>
<polygon points="1180.6,994.7 1186.6,994.7 1210.3,1028.8 1204.3,1028.8" fill="#2d2829"/>
<polygon points="1203.2,994.7 1209.2,994.7 1184.4,1028.8 1178.4,1028.8" fill="#2d2829"/>
<rect x="1215.2" y="994.7" width="27.8" height="4.4" fill="#2d2829"/>
<polygon points="1237.4,998.9 1243,998.9 1243,1000.4 1225.4,1028.8 1219.2,1028.8" fill="#2d2829"/>
<path d="M1275.9,1015.2 H1256.7 A6.7,6.7 0 0 1 1250,1008.5 V1006.3 A9.5,9.5 0 0 1 1259.5,996.8 H1266.4 A9.5,9.5 0 0 1 1275.9,1006.3 V1017.2 A9.5,9.5 0 0 1 1266.4,1026.7 H1248.9" fill="none" stroke="#2d2829" stroke-width="4.2" stroke-linejoin="round"/>
<polygon points="313.4,1055 319.4,1055 341.5,1086.8 335.5,1086.8" fill="#2d2829"/>
<polygon points="334.4,1055 340.4,1055 317.3,1086.8 311.3,1086.8" fill="#2d2829"/>
<rect x="365.3" y="1055" width="4.6" height="31.8" fill="#2d2829"/>
<rect x="344.5" y="1076" width="30.2" height="4.4" fill="#2d2829"/>
<polygon points="362.3,1055 366.3,1055 366.3,1058 350,1076.5 344.5,1076.5" fill="#2d2829"/>
<polygon points="602,1055 608,1055 628.5,1085.8 622.5,1085.8" fill="#2d2829"/>
<polygon points="621.5,1055 627.5,1055 606,1085.8 600,1085.8" fill="#2d2829"/>
<path d="M633.5,1057.1 H648.8 A7.1,7.1 0 0 1 655.9,1064.2 V1064 A4.3,4.3 0 0 1 651.6,1068.3 H639.5 A4.3,4.3 0 0 0 635.2,1072.6 V1083.7 H658" fill="none" stroke="#2d2829" stroke-width="4.2" stroke-linejoin="round"/>
<path d="M177,1000 L300,1000 L300,1053 L292,1062 C288,1070 286,1077 285,1084 L174,1081 L171,1024 C171,1012 174,1004 177,1000 Z" fill="#2b5ba9"/>
<path d="M171.5,1012 C172,1006 174,1002 177,1000 L186,1000 L186.5,1026.5 L171,1026 Z" fill="#4a6db4"/>
<path d="M186,1000 L284,1000 L291.6,1000 L291.6,1040 C280,1055 255,1062 223,1061.9 C205,1059 190,1048 186.5,1035 Z" fill="#1d52a4"/>
<polygon points="203,1000 223,1000 216,1058 203,1055" fill="#5877b8"/>
<polygon points="236,1000 254,1000 238.5,1060 223,1061" fill="#5877b8"/>
<polygon points="262,1000 272,1000 262,1055 255,1057" fill="#3562b0"/>
<polygon points="282.7,1000 300,1000 300,1053 292,1062 286,1072 284,1060" fill="#3864b0"/>
<path d="M344,1000 L396,1000 L395,1020 C380,1021 360,1022 344,1027 Z" fill="#2a58a6"/>
<path d="M615,1000 L675,1000 L670,1022 L666,1026 C650,1024 630,1021 616,1019 Z" fill="#e2b130"/>
<path d="M703,1000 L831,1000 L831,1020 L829,1084 L711,1077 L709,1056 L704,1049 Z" fill="#e5b52f"/>
<polygon points="703,1000 712.7,1000 712.7,1053 704,1049" fill="#d8a828"/>
<path d="M724,1000 L817,1000 L817,1035 C812,1048 795,1055 770,1055.2 C745,1054 730,1045 724,1030 Z" fill="#f4bb26"/>
<path d="M733,1000 L752,1000 C758,1020 768,1040 778,1054 L762,1055 C750,1040 740,1020 733,1000 Z" fill="#f9c256"/>
<path d="M768,1000 L800,1000 C795,1012 796,1025 806,1040 L796,1048 C784,1032 776,1015 768,1000 Z" fill="#f9c256"/>
<polygon points="816.7,1000 831,1000 831,1020 829,1084 816.7,1080" fill="#e9b932"/>
<polygon points="148.6,40.3 156.1,47.4 156.1,58.5 148.6,51.4" fill="#f1823e"/>
<polygon points="155.7,47.4 162.8,45.3 162.8,56.4 155.7,58.5" fill="#e2732f"/>
<polygon points="148.6,50.9 156.1,58 156.1,70.5 148.6,63.4" fill="#48b353"/>
<polygon points="155.7,58 162.8,55.9 162.8,68.4 155.7,70.5" fill="#38a444"/>
<polygon points="148.6,62.9 156.1,70 156.1,71.2 148.6,64.1" fill="#f1823e"/>
<polygon points="155.7,70 162.8,67.9 162.8,69.1 155.7,71.2" fill="#e2732f"/>
<polygon points="148.6,40.3 155.7,47.4 162.8,45.3 155.7,38.2" fill="#f28a4b"/>
<ellipse cx="153.9" cy="41" rx="2.2" ry="1.4" fill="#e67530"/>
<rect x="151.7" y="39.2" width="4.4" height="1.8" fill="#e67530"/>
<ellipse cx="153.9" cy="39.2" rx="2.2" ry="1.4" fill="#f49b65"/>
<ellipse cx="157.5" cy="44.6" rx="2.2" ry="1.4" fill="#e67530"/>
<rect x="155.3" y="42.8" width="4.4" height="1.8" fill="#e67530"/>
<ellipse cx="157.5" cy="42.8" rx="2.2" ry="1.4" fill="#f49b65"/>
<polygon points="46.5,48.6 57.6,59.3 57.6,68.1 46.5,57.4" fill="#48b353"/>
<polygon points="57.2,59.3 63.7,57.5 63.7,66.3 57.2,68.1" fill="#38a444"/>
<polygon points="46.5,56.9 57.6,67.6 57.6,77.6 46.5,66.9" fill="#f1823e"/>
<polygon points="57.2,67.6 63.7,65.8 63.7,75.8 57.2,77.6" fill="#e2732f"/>
<polygon points="46.5,66.4 57.6,77.1 57.6,81.2 46.5,70.5" fill="#379944"/>
<polygon points="57.2,77.1 63.7,75.3 63.7,79.4 57.2,81.2" fill="#278935"/>
<polygon points="46.5,70 57.6,80.7 57.6,85.3 46.5,74.6" fill="#b7de48"/>
<polygon points="57.2,80.7 63.7,78.9 63.7,83.5 57.2,85.3" fill="#a7cf38"/>
<polygon points="46.5,74.1 57.6,84.8 57.6,103.2 46.5,92.5" fill="#6ba9e4"/>
<polygon points="57.2,84.8 63.7,83 63.7,101.4 57.2,103.2" fill="#5c9ad4"/>
<polygon points="46.5,48.6 57.2,59.3 63.7,57.5 53,46.8" fill="#53b85e"/>
<ellipse cx="52.4" cy="50.4" rx="2.8" ry="1.7" fill="#3aa745"/>
<rect x="49.6" y="48.1" width="5.6" height="2.2" fill="#3aa745"/>
<ellipse cx="52.4" cy="48.1" rx="2.8" ry="1.7" fill="#6dc276"/>
<ellipse cx="57.8" cy="55.7" rx="2.8" ry="1.7" fill="#3aa745"/>
<rect x="55" y="53.5" width="5.6" height="2.2" fill="#3aa745"/>
<ellipse cx="57.8" cy="53.5" rx="2.8" ry="1.7" fill="#6dc276"/>
<polygon points="69.4,31.2 78.1,39.5 78.1,45 69.4,36.7" fill="#b7de48"/>
<polygon points="77.7,39.5 84.8,37.4 84.8,42.9 77.7,45" fill="#a7cf38"/>
<polygon points="69.4,36.2 78.1,44.5 78.1,53.3 69.4,45" fill="#6ba9e4"/>
<polygon points="77.7,44.5 84.8,42.4 84.8,51.2 77.7,53.3" fill="#5c9ad4"/>
<polygon points="69.4,44.5 78.1,52.8 78.1,62.2 69.4,53.9" fill="#f1823e"/>
<polygon points="77.7,52.8 84.8,50.7 84.8,60.1 77.7,62.2" fill="#e2732f"/>
<polygon points="69.4,53.4 78.1,61.7 78.1,65.9 69.4,57.6" fill="#379944"/>
<polygon points="77.7,61.7 84.8,59.6 84.8,63.8 77.7,65.9" fill="#278935"/>
<polygon points="69.4,31.2 77.7,39.5 84.8,37.4 76.5,29.1" fill="#bbe053"/>
<ellipse cx="75" cy="32.2" rx="2.6" ry="1.6" fill="#abd33a"/>
<rect x="72.4" y="30.1" width="5.2" height="2.1" fill="#abd33a"/>
<ellipse cx="75" cy="30.1" rx="2.6" ry="1.6" fill="#c5e56d"/>
<ellipse cx="79.2" cy="36.4" rx="2.6" ry="1.6" fill="#abd33a"/>
<rect x="76.6" y="34.3" width="5.2" height="2.1" fill="#abd33a"/>
<ellipse cx="79.2" cy="34.3" rx="2.6" ry="1.6" fill="#c5e56d"/>
<polygon points="168.1,9.5 176.8,17.8 176.8,24.2 168.1,15.9" fill="#b7de48"/>
<polygon points="176.4,17.8 183.5,15.7 183.5,22.1 176.4,24.2" fill="#a7cf38"/>
<polygon points="168.1,15.4 176.8,23.7 176.8,32.5 168.1,24.2" fill="#f1823e"/>
<polygon points="176.4,23.7 183.5,21.6 183.5,30.4 176.4,32.5" fill="#e2732f"/>
<polygon points="168.1,23.7 176.8,32 176.8,40.8 168.1,32.5" fill="#6ba9e4"/>
<polygon points="176.4,32 183.5,29.9 183.5,38.7 176.4,40.8" fill="#5c9ad4"/>
<polygon points="168.1,32 176.8,40.3 176.8,45.7 168.1,37.4" fill="#379944"/>
<polygon points="176.4,40.3 183.5,38.2 183.5,43.6 176.4,45.7" fill="#278935"/>
<polygon points="168.1,9.5 176.4,17.8 183.5,15.7 175.2,7.4" fill="#bbe053"/>
<ellipse cx="173.7" cy="10.5" rx="2.6" ry="1.6" fill="#abd33a"/>
<rect x="171.1" y="8.4" width="5.2" height="2.1" fill="#abd33a"/>
<ellipse cx="173.7" cy="8.4" rx="2.6" ry="1.6" fill="#c5e56d"/>
<ellipse cx="177.9" cy="14.7" rx="2.6" ry="1.6" fill="#abd33a"/>
<rect x="175.3" y="12.6" width="5.2" height="2.1" fill="#abd33a"/>
<ellipse cx="177.9" cy="12.6" rx="2.6" ry="1.6" fill="#c5e56d"/>
<polygon points="123,27.3 131.7,35.6 131.7,43.2 123,34.9" fill="#379944"/>
<polygon points="131.3,35.6 139,33.3 139,40.9 131.3,43.2" fill="#278935"/>
<polygon points="123,34.4 131.7,42.7 131.7,51.5 123,43.2" fill="#f1823e"/>
<polygon points="131.3,42.7 139,40.4 139,49.2 131.3,51.5" fill="#e2732f"/>
<polygon points="123,42.7 131.7,51 131.7,60.5 123,52.2" fill="#6ba9e4"/>
<polygon points="131.3,51 139,48.7 139,58.2 131.3,60.5" fill="#5c9ad4"/>
<polygon points="123,27.3 131.3,35.6 139,33.3 130.7,25" fill="#449f50"/>
<ellipse cx="128.9" cy="28.2" rx="2.6" ry="1.6" fill="#288c36"/>
<rect x="126.3" y="26.2" width="5.2" height="2.1" fill="#288c36"/>
<ellipse cx="128.9" cy="26.2" rx="2.6" ry="1.6" fill="#5fad6a"/>
<ellipse cx="133.1" cy="32.4" rx="2.6" ry="1.6" fill="#288c36"/>
<rect x="130.5" y="30.3" width="5.2" height="2.1" fill="#288c36"/>
<ellipse cx="133.1" cy="30.3" rx="2.6" ry="1.6" fill="#5fad6a"/>
<polygon points="108.2,52.4 110.9,58.1 110.9,61 108.2,55.3" fill="#379944"/>
<polygon points="110.5,58.1 127.8,53.9 127.8,56.8 110.5,61" fill="#278935"/>
<polygon points="108.2,54.8 110.9,60.5 110.9,70.5 108.2,64.8" fill="#6ba9e4"/>
<polygon points="110.5,60.5 127.8,56.3 127.8,66.3 110.5,70.5" fill="#5c9ad4"/>
<polygon points="108.2,64.2 110.9,70 110.9,83 108.2,77.2" fill="#48b353"/>
<polygon points="110.5,70 127.8,65.8 127.8,78.8 110.5,83" fill="#38a444"/>
<polygon points="108.2,52.4 110.5,58.1 127.8,53.9 125.5,48.2" fill="#449f50"/>
<ellipse cx="113.7" cy="54.2" rx="2.7" ry="1.7" fill="#288c36"/>
<rect x="111" y="52" width="5.4" height="2.2" fill="#288c36"/>
<ellipse cx="113.7" cy="52" rx="2.7" ry="1.7" fill="#5fad6a"/>
<ellipse cx="122.3" cy="52.1" rx="2.7" ry="1.7" fill="#288c36"/>
<rect x="119.6" y="49.9" width="5.4" height="2.2" fill="#288c36"/>
<ellipse cx="122.3" cy="49.9" rx="2.7" ry="1.7" fill="#5fad6a"/>
<polygon points="139.6,42.4 147.4,49.8 147.4,58.5 139.6,51.1" fill="#6ba9e4"/>
<polygon points="147,49.8 155.7,47.2 155.7,55.9 147,58.5" fill="#5c9ad4"/>
<polygon points="139.6,50.6 147.4,58 147.4,70.5 139.6,63.1" fill="#48b353"/>
<polygon points="147,58 155.7,55.4 155.7,67.9 147,70.5" fill="#38a444"/>
<polygon points="139.6,62.6 147.4,70 147.4,79.5 139.6,72.1" fill="#6ba9e4"/>
<polygon points="147,70 155.7,67.4 155.7,76.9 147,79.5" fill="#5c9ad4"/>
<polygon points="139.6,42.4 147,49.8 155.7,47.2 148.3,39.8" fill="#75afe5"/>
<ellipse cx="145.8" cy="42.9" rx="2.3" ry="1.4" fill="#5e9dd9"/>
<rect x="143.5" y="41.1" width="4.6" height="1.8" fill="#5e9dd9"/>
<ellipse cx="145.8" cy="41.1" rx="2.3" ry="1.4" fill="#89bbe9"/>
<ellipse cx="149.5" cy="46.6" rx="2.3" ry="1.4" fill="#5e9dd9"/>
<rect x="147.2" y="44.8" width="4.6" height="1.8" fill="#5e9dd9"/>
<ellipse cx="149.5" cy="44.8" rx="2.3" ry="1.4" fill="#89bbe9"/>
<polygon points="149,71.1 151.9,77.1 151.9,85.9 149,79.9" fill="#48b353"/>
<polygon points="151.5,77.1 168.1,72.1 168.1,80.9 151.5,85.9" fill="#38a444"/>
<polygon points="149,79.4 151.9,85.4 151.9,96.1 149,90.1" fill="#6ba9e4"/>
<polygon points="151.5,85.4 168.1,80.4 168.1,91.1 151.5,96.1" fill="#5c9ad4"/>
<polygon points="149,71.1 151.5,77.1 168.1,72.1 165.6,66.1" fill="#53b85e"/>
<ellipse cx="154.4" cy="72.9" rx="2.8" ry="1.7" fill="#3aa745"/>
<rect x="151.6" y="70.6" width="5.6" height="2.2" fill="#3aa745"/>
<ellipse cx="154.4" cy="70.6" rx="2.8" ry="1.7" fill="#6dc276"/>
<ellipse cx="162.7" cy="70.4" rx="2.8" ry="1.7" fill="#3aa745"/>
<rect x="159.9" y="68.1" width="5.6" height="2.2" fill="#3aa745"/>
<ellipse cx="162.7" cy="68.1" rx="2.8" ry="1.7" fill="#6dc276"/>
<polygon points="99.3,68.8 109.2,78.3 109.2,82.4 99.3,72.9" fill="#b7de48"/>
<polygon points="108.8,78.3 116.5,76 116.5,80.1 108.8,82.4" fill="#a7cf38"/>
<polygon points="99.3,72.4 109.2,81.9 109.2,90.7 99.3,81.2" fill="#6ba9e4"/>
<polygon points="108.8,81.9 116.5,79.6 116.5,88.4 108.8,90.7" fill="#5c9ad4"/>
<polygon points="99.3,80.7 109.2,90.2 109.2,95.4 99.3,85.9" fill="#379944"/>
<polygon points="108.8,90.2 116.5,87.9 116.5,93.1 108.8,95.4" fill="#278935"/>
<polygon points="99.3,85.4 109.2,94.9 109.2,99 99.3,89.5" fill="#b7de48"/>
<polygon points="108.8,94.9 116.5,92.6 116.5,96.7 108.8,99" fill="#a7cf38"/>
<polygon points="99.3,89 109.2,98.5 109.2,109.6 99.3,100.1" fill="#f1823e"/>
<polygon points="108.8,98.5 116.5,96.2 116.5,107.3 108.8,109.6" fill="#e2732f"/>
<polygon points="99.3,99.6 109.2,109.1 109.2,117.4 99.3,107.9" fill="#6ba9e4"/>
<polygon points="108.8,109.1 116.5,106.8 116.5,115.1 108.8,117.4" fill="#5c9ad4"/>
<polygon points="99.3,68.8 108.8,78.3 116.5,76 107,66.5" fill="#bbe053"/>
<ellipse cx="105.5" cy="70" rx="2.8" ry="1.7" fill="#abd33a"/>
<rect x="102.7" y="67.8" width="5.6" height="2.2" fill="#abd33a"/>
<ellipse cx="105.5" cy="67.8" rx="2.8" ry="1.7" fill="#c5e56d"/>
<ellipse cx="110.3" cy="74.8" rx="2.8" ry="1.7" fill="#abd33a"/>
<rect x="107.5" y="72.5" width="5.6" height="2.2" fill="#abd33a"/>
<ellipse cx="110.3" cy="72.5" rx="2.8" ry="1.7" fill="#c5e56d"/>
<polygon points="188.3,43.1 190.9,48.4 190.9,55.1 188.3,49.8" fill="#379944"/>
<polygon points="190.5,48.4 208.4,46.6 208.4,53.3 190.5,55.1" fill="#278935"/>
<polygon points="188.3,49.3 190.9,54.6 190.9,63.3 188.3,58" fill="#6ba9e4"/>
<polygon points="190.5,54.6 208.4,52.8 208.4,61.5 190.5,63.3" fill="#5c9ad4"/>
<polygon points="188.3,57.5 190.9,62.8 190.9,68.1 188.3,62.8" fill="#b7de48"/>
<polygon points="190.5,62.8 208.4,61 208.4,66.3 190.5,68.1" fill="#a7cf38"/>
<polygon points="188.3,62.3 190.9,67.6 190.9,71.5 188.3,66.2" fill="#379944"/>
<polygon points="190.5,67.6 208.4,65.8 208.4,69.7 190.5,71.5" fill="#278935"/>
<polygon points="188.3,65.7 190.9,71 190.9,81.1 188.3,75.8" fill="#f1823e"/>
<polygon points="190.5,71 208.4,69.2 208.4,79.3 190.5,81.1" fill="#e2732f"/>
<polygon points="188.3,75.3 190.9,80.6 190.9,89.3 188.3,84" fill="#6ba9e4"/>
<polygon points="190.5,80.6 208.4,78.8 208.4,87.5 190.5,89.3" fill="#5c9ad4"/>
<polygon points="188.3,83.5 190.9,88.8 190.9,94.3 188.3,89" fill="#379944"/>
<polygon points="190.5,88.8 208.4,87 208.4,92.5 190.5,94.3" fill="#278935"/>
<polygon points="188.3,43.1 190.5,48.4 208.4,46.6 206.2,41.3" fill="#449f50"/>
<ellipse cx="193.9" cy="45.3" rx="2.5" ry="1.6" fill="#288c36"/>
<rect x="191.4" y="43.3" width="5" height="2" fill="#288c36"/>
<ellipse cx="193.9" cy="43.3" rx="2.5" ry="1.6" fill="#5fad6a"/>
<ellipse cx="202.8" cy="44.4" rx="2.5" ry="1.6" fill="#288c36"/>
<rect x="200.3" y="42.4" width="5" height="2" fill="#288c36"/>
<ellipse cx="202.8" cy="42.4" rx="2.5" ry="1.6" fill="#5fad6a"/>
<polygon points="171,95.2 173.4,100 173.4,120.3 171,115.5" fill="#6ba9e4"/>
<polygon points="173,100 190.8,97.3 190.8,117.6 173,120.3" fill="#5c9ad4"/>
<polygon points="171,95.2 173,100 190.8,97.3 188.8,92.5" fill="#75afe5"/>
<ellipse cx="176.4" cy="96.9" rx="2.3" ry="1.4" fill="#5e9dd9"/>
<rect x="174.2" y="95.1" width="4.6" height="1.8" fill="#5e9dd9"/>
<ellipse cx="176.4" cy="95.1" rx="2.3" ry="1.4" fill="#89bbe9"/>
<ellipse cx="185.4" cy="95.6" rx="2.3" ry="1.4" fill="#5e9dd9"/>
<rect x="183.1" y="93.8" width="4.6" height="1.8" fill="#5e9dd9"/>
<ellipse cx="185.4" cy="93.8" rx="2.3" ry="1.4" fill="#89bbe9"/>
<polygon points="218,105.9 220.4,110.7 220.4,123.5 218,118.7" fill="#f1823e"/>
<polygon points="220,110.7 240,107.7 240,120.5 220,123.5" fill="#e2732f"/>
<polygon points="218,118.2 220.4,123 220.4,131 218,126.2" fill="#48b353"/>
<polygon points="220,123 240,120 240,128 220,131" fill="#38a444"/>
<polygon points="218,125.7 220.4,130.5 220.4,139.4 218,134.6" fill="#6ba9e4"/>
<polygon points="220,130.5 240,127.5 240,136.4 220,139.4" fill="#5c9ad4"/>
<polygon points="218,105.9 220,110.7 240,107.7 238,102.9" fill="#f28a4b"/>
<ellipse cx="224" cy="107.6" rx="2.3" ry="1.4" fill="#e67530"/>
<rect x="221.7" y="105.7" width="4.6" height="1.8" fill="#e67530"/>
<ellipse cx="224" cy="105.7" rx="2.3" ry="1.4" fill="#f49b65"/>
<ellipse cx="234" cy="106.1" rx="2.3" ry="1.4" fill="#e67530"/>
<rect x="231.7" y="104.2" width="4.6" height="1.8" fill="#e67530"/>
<ellipse cx="234" cy="104.2" rx="2.3" ry="1.4" fill="#f49b65"/>
<polygon points="238.2,92.9 248,102.5 248,110 238.2,100.4" fill="#f1823e"/>
<polygon points="247.6,102.5 254.8,98.4 254.8,105.9 247.6,110" fill="#e2732f"/>
<polygon points="238.2,92.9 247.6,102.5 254.8,98.4 245.4,88.8" fill="#f28a4b"/>
<ellipse cx="244.1" cy="93.3" rx="2.8" ry="1.7" fill="#e67530"/>
<rect x="241.3" y="91" width="5.6" height="2.2" fill="#e67530"/>
<ellipse cx="244.1" cy="91" rx="2.8" ry="1.7" fill="#f49b65"/>
<ellipse cx="248.9" cy="98.1" rx="2.8" ry="1.7" fill="#e67530"/>
<rect x="246.1" y="95.8" width="5.6" height="2.2" fill="#e67530"/>
<ellipse cx="248.9" cy="95.8" rx="2.8" ry="1.7" fill="#f49b65"/>
<polygon points="239,140.4 249.4,149.7 249.4,159.8 239,150.5" fill="#6ba9e4"/>
<polygon points="249,149.7 257.4,146.3 257.4,156.4 249,159.8" fill="#5c9ad4"/>
<polygon points="239,150 249.4,159.3 249.4,168.2 239,158.9" fill="#f1823e"/>
<polygon points="249,159.3 257.4,155.9 257.4,164.8 249,168.2" fill="#e2732f"/>
<polygon points="239,140.4 249,149.7 257.4,146.3 247.4,137" fill="#75afe5"/>
<ellipse cx="245.7" cy="141" rx="2.8" ry="1.7" fill="#5e9dd9"/>
<rect x="242.9" y="138.8" width="5.6" height="2.2" fill="#5e9dd9"/>
<ellipse cx="245.7" cy="138.8" rx="2.8" ry="1.7" fill="#89bbe9"/>
<ellipse cx="250.7" cy="145.7" rx="2.8" ry="1.7" fill="#5e9dd9"/>
<rect x="247.9" y="143.5" width="5.6" height="2.2" fill="#5e9dd9"/>
<ellipse cx="250.7" cy="143.5" rx="2.8" ry="1.7" fill="#89bbe9"/>
<polygon points="113,133.3 133,150.3 133,156 113,139" fill="#2b883b"/>
<polygon points="133,150.3 183,131.3 183,137 133,156" fill="#277934"/>
<polygon points="113,134 161,116 183,132 133,151" fill="#2f9440"/>
<ellipse cx="119.5" cy="134.6" rx="2.6" ry="1.6" fill="#257332"/>
<rect x="116.9" y="133.1" width="5.2" height="1.6" fill="#257332"/>
<ellipse cx="119.5" cy="133.1" rx="2.6" ry="1.6" fill="#59a966"/>
<ellipse cx="124.5" cy="138.9" rx="2.6" ry="1.6" fill="#257332"/>
<rect x="121.9" y="137.3" width="5.2" height="1.6" fill="#257332"/>
<ellipse cx="124.5" cy="137.3" rx="2.6" ry="1.6" fill="#59a966"/>
<ellipse cx="129.5" cy="143.1" rx="2.6" ry="1.6" fill="#257332"/>
<rect x="126.9" y="141.6" width="5.2" height="1.6" fill="#257332"/>
<ellipse cx="129.5" cy="141.6" rx="2.6" ry="1.6" fill="#59a966"/>
<ellipse cx="134.5" cy="147.4" rx="2.6" ry="1.6" fill="#257332"/>
<rect x="131.9" y="145.8" width="5.2" height="1.6" fill="#257332"/>
<ellipse cx="134.5" cy="145.8" rx="2.6" ry="1.6" fill="#59a966"/>
<ellipse cx="127.5" cy="131.6" rx="2.6" ry="1.6" fill="#257332"/>
<rect x="124.9" y="130.1" width="5.2" height="1.6" fill="#257332"/>
<ellipse cx="127.5" cy="130.1" rx="2.6" ry="1.6" fill="#59a966"/>
<ellipse cx="132.5" cy="135.9" rx="2.6" ry="1.6" fill="#257332"/>
<rect x="129.9" y="134.3" width="5.2" height="1.6" fill="#257332"/>
<ellipse cx="132.5" cy="134.3" rx="2.6" ry="1.6" fill="#59a966"/>
<ellipse cx="137.5" cy="140.1" rx="2.6" ry="1.6" fill="#257332"/>
<rect x="134.9" y="138.6" width="5.2" height="1.6" fill="#257332"/>
<ellipse cx="137.5" cy="138.6" rx="2.6" ry="1.6" fill="#59a966"/>
<ellipse cx="142.5" cy="144.4" rx="2.6" ry="1.6" fill="#257332"/>
<rect x="139.9" y="142.8" width="5.2" height="1.6" fill="#257332"/>
<ellipse cx="142.5" cy="142.8" rx="2.6" ry="1.6" fill="#59a966"/>
<ellipse cx="135.5" cy="128.6" rx="2.6" ry="1.6" fill="#257332"/>
<rect x="132.9" y="127.1" width="5.2" height="1.6" fill="#257332"/>
<ellipse cx="135.5" cy="127.1" rx="2.6" ry="1.6" fill="#59a966"/>
<ellipse cx="140.5" cy="132.9" rx="2.6" ry="1.6" fill="#257332"/>
<rect x="137.9" y="131.3" width="5.2" height="1.6" fill="#257332"/>
<ellipse cx="140.5" cy="131.3" rx="2.6" ry="1.6" fill="#59a966"/>
<ellipse cx="145.5" cy="137.1" rx="2.6" ry="1.6" fill="#257332"/>
<rect x="142.9" y="135.6" width="5.2" height="1.6" fill="#257332"/>
<ellipse cx="145.5" cy="135.6" rx="2.6" ry="1.6" fill="#59a966"/>
<ellipse cx="150.5" cy="141.4" rx="2.6" ry="1.6" fill="#257332"/>
<rect x="147.9" y="139.8" width="5.2" height="1.6" fill="#257332"/>
<ellipse cx="150.5" cy="139.8" rx="2.6" ry="1.6" fill="#59a966"/>
<ellipse cx="143.5" cy="125.6" rx="2.6" ry="1.6" fill="#257332"/>
<rect x="140.9" y="124.1" width="5.2" height="1.6" fill="#257332"/>
<ellipse cx="143.5" cy="124.1" rx="2.6" ry="1.6" fill="#59a966"/>
<ellipse cx="148.5" cy="129.9" rx="2.6" ry="1.6" fill="#257332"/>
<rect x="145.9" y="128.3" width="5.2" height="1.6" fill="#257332"/>
<ellipse cx="148.5" cy="128.3" rx="2.6" ry="1.6" fill="#59a966"/>
<ellipse cx="153.5" cy="134.1" rx="2.6" ry="1.6" fill="#257332"/>
<rect x="150.9" y="132.6" width="5.2" height="1.6" fill="#257332"/>
<ellipse cx="153.5" cy="132.6" rx="2.6" ry="1.6" fill="#59a966"/>
<ellipse cx="158.5" cy="138.4" rx="2.6" ry="1.6" fill="#257332"/>
<rect x="155.9" y="136.8" width="5.2" height="1.6" fill="#257332"/>
<ellipse cx="158.5" cy="136.8" rx="2.6" ry="1.6" fill="#59a966"/>
<ellipse cx="151.5" cy="122.6" rx="2.6" ry="1.6" fill="#257332"/>
<rect x="148.9" y="121.1" width="5.2" height="1.6" fill="#257332"/>
<ellipse cx="151.5" cy="121.1" rx="2.6" ry="1.6" fill="#59a966"/>
<ellipse cx="156.5" cy="126.9" rx="2.6" ry="1.6" fill="#257332"/>
<rect x="153.9" y="125.3" width="5.2" height="1.6" fill="#257332"/>
<ellipse cx="156.5" cy="125.3" rx="2.6" ry="1.6" fill="#59a966"/>
<ellipse cx="161.5" cy="131.1" rx="2.6" ry="1.6" fill="#257332"/>
<rect x="158.9" y="129.6" width="5.2" height="1.6" fill="#257332"/>
<ellipse cx="161.5" cy="129.6" rx="2.6" ry="1.6" fill="#59a966"/>
<ellipse cx="166.5" cy="135.4" rx="2.6" ry="1.6" fill="#257332"/>
<rect x="163.9" y="133.8" width="5.2" height="1.6" fill="#257332"/>
<ellipse cx="166.5" cy="133.8" rx="2.6" ry="1.6" fill="#59a966"/>
<ellipse cx="159.5" cy="119.6" rx="2.6" ry="1.6" fill="#257332"/>
<rect x="156.9" y="118.1" width="5.2" height="1.6" fill="#257332"/>
<ellipse cx="159.5" cy="118.1" rx="2.6" ry="1.6" fill="#59a966"/>
<ellipse cx="164.5" cy="123.9" rx="2.6" ry="1.6" fill="#257332"/>
<rect x="161.9" y="122.3" width="5.2" height="1.6" fill="#257332"/>
<ellipse cx="164.5" cy="122.3" rx="2.6" ry="1.6" fill="#59a966"/>
<ellipse cx="169.5" cy="128.1" rx="2.6" ry="1.6" fill="#257332"/>
<rect x="166.9" y="126.6" width="5.2" height="1.6" fill="#257332"/>
<ellipse cx="169.5" cy="126.6" rx="2.6" ry="1.6" fill="#59a966"/>
<ellipse cx="174.5" cy="132.4" rx="2.6" ry="1.6" fill="#257332"/>
<rect x="171.9" y="130.8" width="5.2" height="1.6" fill="#257332"/>
<ellipse cx="174.5" cy="130.8" rx="2.6" ry="1.6" fill="#59a966"/>
<polygon points="125,120 145,113 150,118 130,126" fill="#b8e040"/>
<ellipse cx="132.5" cy="118.2" rx="2.7" ry="1.6" fill="#9ec137"/>
<rect x="129.8" y="116.7" width="5.3" height="1.6" fill="#9ec137"/>
<ellipse cx="132.5" cy="116.7" rx="2.7" ry="1.6" fill="#c2e45b"/>
<ellipse cx="142.5" cy="114.8" rx="2.7" ry="1.6" fill="#9ec137"/>
<rect x="139.8" y="113.2" width="5.3" height="1.6" fill="#9ec137"/>
<ellipse cx="142.5" cy="113.2" rx="2.7" ry="1.6" fill="#c2e45b"/>
<polygon points="113.6,146.2 124,153.8 124,159.5 113.6,151.9" fill="#a9ce3b"/>
<polygon points="124,153.8 129.7,151.3 129.7,157 124,159.5" fill="#97b834"/>
<polygon points="113.6,146.9 119.5,144.5 129.7,152 124,154.5" fill="#b8e040"/>
<ellipse cx="119.2" cy="147.6" rx="2.5" ry="1.6" fill="#90af32"/>
<rect x="116.6" y="146.1" width="5.1" height="1.5" fill="#90af32"/>
<ellipse cx="119.2" cy="146.1" rx="2.5" ry="1.6" fill="#c6e666"/>
<ellipse cx="124.3" cy="151.4" rx="2.5" ry="1.6" fill="#90af32"/>
<rect x="121.8" y="149.9" width="5.1" height="1.5" fill="#90af32"/>
<ellipse cx="124.3" cy="149.9" rx="2.5" ry="1.6" fill="#c6e666"/>
<polygon points="174,124 182,121 189,131 189,138 182,141 174,131" fill="#b8e040"/>
<ellipse cx="179.2" cy="123" rx="1.9" ry="1.2" fill="#9ec137"/>
<rect x="177.3" y="121.8" width="3.9" height="1.2" fill="#9ec137"/>
<ellipse cx="179.2" cy="121.8" rx="1.9" ry="1.2" fill="#c2e45b"/>
<ellipse cx="182.8" cy="127.5" rx="1.9" ry="1.2" fill="#9ec137"/>
<rect x="180.8" y="126.3" width="3.9" height="1.2" fill="#9ec137"/>
<ellipse cx="182.8" cy="126.3" rx="1.9" ry="1.2" fill="#c2e45b"/>
<polygon points="132,185.9 151,213.8 151,218.5 132,190.6" fill="#a9ce3b"/>
<polygon points="151,213.8 202.6,189.5 202.6,194.2 151,218.5" fill="#97b834"/>
<polygon points="132,186.6 182,167 202.6,190.2 151,214.5" fill="#b8e040"/>
<ellipse cx="138.5" cy="188.5" rx="3.2" ry="2" fill="#90af32"/>
<rect x="135.3" y="186.5" width="6.4" height="1.9" fill="#90af32"/>
<ellipse cx="138.5" cy="186.5" rx="3.2" ry="2" fill="#c6e666"/>
<ellipse cx="143.3" cy="195.4" rx="3.2" ry="2" fill="#90af32"/>
<rect x="140.1" y="193.5" width="6.4" height="1.9" fill="#90af32"/>
<ellipse cx="143.3" cy="193.5" rx="3.2" ry="2" fill="#c6e666"/>
<ellipse cx="148" cy="202.4" rx="3.2" ry="2" fill="#90af32"/>
<rect x="144.8" y="200.5" width="6.4" height="1.9" fill="#90af32"/>
<ellipse cx="148" cy="200.5" rx="3.2" ry="2" fill="#c6e666"/>
<ellipse cx="152.8" cy="209.4" rx="3.2" ry="2" fill="#90af32"/>
<rect x="149.6" y="207.5" width="6.4" height="1.9" fill="#90af32"/>
<ellipse cx="152.8" cy="207.5" rx="3.2" ry="2" fill="#c6e666"/>
<ellipse cx="146.9" cy="185.2" rx="3.2" ry="2" fill="#90af32"/>
<rect x="143.7" y="183.3" width="6.4" height="1.9" fill="#90af32"/>
<ellipse cx="146.9" cy="183.3" rx="3.2" ry="2" fill="#c6e666"/>
<ellipse cx="151.6" cy="192.2" rx="3.2" ry="2" fill="#90af32"/>
<rect x="148.4" y="190.2" width="6.4" height="1.9" fill="#90af32"/>
<ellipse cx="151.6" cy="190.2" rx="3.2" ry="2" fill="#c6e666"/>
<ellipse cx="156.4" cy="199.1" rx="3.2" ry="2" fill="#90af32"/>
<rect x="153.2" y="197.2" width="6.4" height="1.9" fill="#90af32"/>
<ellipse cx="156.4" cy="197.2" rx="3.2" ry="2" fill="#c6e666"/>
<ellipse cx="161.1" cy="206.1" rx="3.2" ry="2" fill="#90af32"/>
<rect x="157.9" y="204.2" width="6.4" height="1.9" fill="#90af32"/>
<ellipse cx="161.1" cy="204.2" rx="3.2" ry="2" fill="#c6e666"/>
<ellipse cx="155.2" cy="181.9" rx="3.2" ry="2" fill="#90af32"/>
<rect x="152" y="180" width="6.4" height="1.9" fill="#90af32"/>
<ellipse cx="155.2" cy="180" rx="3.2" ry="2" fill="#c6e666"/>
<ellipse cx="160" cy="188.9" rx="3.2" ry="2" fill="#90af32"/>
<rect x="156.8" y="187" width="6.4" height="1.9" fill="#90af32"/>
<ellipse cx="160" cy="187" rx="3.2" ry="2" fill="#c6e666"/>
<ellipse cx="164.7" cy="195.9" rx="3.2" ry="2" fill="#90af32"/>
<rect x="161.5" y="194" width="6.4" height="1.9" fill="#90af32"/>
<ellipse cx="164.7" cy="194" rx="3.2" ry="2" fill="#c6e666"/>
<ellipse cx="169.5" cy="202.8" rx="3.2" ry="2" fill="#90af32"/>
<rect x="166.3" y="200.9" width="6.4" height="1.9" fill="#90af32"/>
<ellipse cx="169.5" cy="200.9" rx="3.2" ry="2" fill="#c6e666"/>
<ellipse cx="163.5" cy="178.7" rx="3.2" ry="2" fill="#90af32"/>
<rect x="160.3" y="176.7" width="6.4" height="1.9" fill="#90af32"/>
<ellipse cx="163.5" cy="176.7" rx="3.2" ry="2" fill="#c6e666"/>
<ellipse cx="168.3" cy="185.6" rx="3.2" ry="2" fill="#90af32"/>
<rect x="165.1" y="183.7" width="6.4" height="1.9" fill="#90af32"/>
<ellipse cx="168.3" cy="183.7" rx="3.2" ry="2" fill="#c6e666"/>
<ellipse cx="173" cy="192.6" rx="3.2" ry="2" fill="#90af32"/>
<rect x="169.8" y="190.7" width="6.4" height="1.9" fill="#90af32"/>
<ellipse cx="173" cy="190.7" rx="3.2" ry="2" fill="#c6e666"/>
<ellipse cx="177.8" cy="199.6" rx="3.2" ry="2" fill="#90af32"/>
<rect x="174.6" y="197.7" width="6.4" height="1.9" fill="#90af32"/>
<ellipse cx="177.8" cy="197.7" rx="3.2" ry="2" fill="#c6e666"/>
<ellipse cx="171.9" cy="175.4" rx="3.2" ry="2" fill="#90af32"/>
<rect x="168.7" y="173.5" width="6.4" height="1.9" fill="#90af32"/>
<ellipse cx="171.9" cy="173.5" rx="3.2" ry="2" fill="#c6e666"/>
<ellipse cx="176.6" cy="182.4" rx="3.2" ry="2" fill="#90af32"/>
<rect x="173.4" y="180.4" width="6.4" height="1.9" fill="#90af32"/>
<ellipse cx="176.6" cy="180.4" rx="3.2" ry="2" fill="#c6e666"/>
<ellipse cx="181.4" cy="189.3" rx="3.2" ry="2" fill="#90af32"/>
<rect x="178.2" y="187.4" width="6.4" height="1.9" fill="#90af32"/>
<ellipse cx="181.4" cy="187.4" rx="3.2" ry="2" fill="#c6e666"/>
<ellipse cx="186.1" cy="196.3" rx="3.2" ry="2" fill="#90af32"/>
<rect x="182.9" y="194.4" width="6.4" height="1.9" fill="#90af32"/>
<ellipse cx="186.1" cy="194.4" rx="3.2" ry="2" fill="#c6e666"/>
<ellipse cx="180.2" cy="172.1" rx="3.2" ry="2" fill="#90af32"/>
<rect x="177" y="170.2" width="6.4" height="1.9" fill="#90af32"/>
<ellipse cx="180.2" cy="170.2" rx="3.2" ry="2" fill="#c6e666"/>
<ellipse cx="185" cy="179.1" rx="3.2" ry="2" fill="#90af32"/>
<rect x="181.8" y="177.2" width="6.4" height="1.9" fill="#90af32"/>
<ellipse cx="185" cy="177.2" rx="3.2" ry="2" fill="#c6e666"/>
<ellipse cx="189.7" cy="186.1" rx="3.2" ry="2" fill="#90af32"/>
<rect x="186.5" y="184.2" width="6.4" height="1.9" fill="#90af32"/>
<ellipse cx="189.7" cy="184.2" rx="3.2" ry="2" fill="#c6e666"/>
<ellipse cx="194.5" cy="193" rx="3.2" ry="2" fill="#90af32"/>
<rect x="191.3" y="191.1" width="6.4" height="1.9" fill="#90af32"/>
<ellipse cx="194.5" cy="191.1" rx="3.2" ry="2" fill="#c6e666"/>
<polygon points="189,175 212,167 215,176 215,180 196,187 189,181" fill="#b8e040"/>
<polygon points="197,159.9 206.4,168 206.4,176 197,167.9" fill="#379944"/>
<polygon points="206,168 214,164.8 214,172.8 206,176" fill="#278935"/>
<polygon points="197,159.9 206,168 214,164.8 205,156.7" fill="#449f50"/>
<ellipse cx="203.2" cy="160.3" rx="2.7" ry="1.7" fill="#288c36"/>
<rect x="200.6" y="158.2" width="5.3" height="2.1" fill="#288c36"/>
<ellipse cx="203.2" cy="158.2" rx="2.7" ry="1.7" fill="#5fad6a"/>
<ellipse cx="207.8" cy="164.4" rx="2.7" ry="1.7" fill="#288c36"/>
<rect x="205.1" y="162.2" width="5.3" height="2.1" fill="#288c36"/>
<ellipse cx="207.8" cy="162.2" rx="2.7" ry="1.7" fill="#5fad6a"/>
<g transform="translate(325.3 3.6)">
<polygon points="46.5,48.6 57.6,59.3 57.6,68.1 46.5,57.4" fill="#48b353"/>
<polygon points="57.2,59.3 63.7,57.5 63.7,66.3 57.2,68.1" fill="#38a444"/>
<polygon points="46.5,56.9 57.6,67.6 57.6,77.6 46.5,66.9" fill="#f1823e"/>
<polygon points="57.2,67.6 63.7,65.8 63.7,75.8 57.2,77.6" fill="#e2732f"/>
<polygon points="46.5,66.4 57.6,77.1 57.6,81.2 46.5,70.5" fill="#379944"/>
<polygon points="57.2,77.1 63.7,75.3 63.7,79.4 57.2,81.2" fill="#278935"/>
<polygon points="46.5,70 57.6,80.7 57.6,85.3 46.5,74.6" fill="#b7de48"/>
<polygon points="57.2,80.7 63.7,78.9 63.7,83.5 57.2,85.3" fill="#a7cf38"/>
<polygon points="46.5,74.1 57.6,84.8 57.6,103.2 46.5,92.5" fill="#6ba9e4"/>
<polygon points="57.2,84.8 63.7,83 63.7,101.4 57.2,103.2" fill="#5c9ad4"/>
<polygon points="46.5,48.6 57.2,59.3 63.7,57.5 53,46.8" fill="#53b85e"/>
<ellipse cx="52.4" cy="50.4" rx="2.8" ry="1.7" fill="#3aa745"/>
<rect x="49.6" y="48.1" width="5.6" height="2.2" fill="#3aa745"/>
<ellipse cx="52.4" cy="48.1" rx="2.8" ry="1.7" fill="#6dc276"/>
<ellipse cx="57.8" cy="55.7" rx="2.8" ry="1.7" fill="#3aa745"/>
<rect x="55" y="53.5" width="5.6" height="2.2" fill="#3aa745"/>
<ellipse cx="57.8" cy="53.5" rx="2.8" ry="1.7" fill="#6dc276"/>
<polygon points="69.4,31.2 78.1,39.5 78.1,45 69.4,36.7" fill="#b7de48"/>
<polygon points="77.7,39.5 84.8,37.4 84.8,42.9 77.7,45" fill="#a7cf38"/>
<polygon points="69.4,36.2 78.1,44.5 78.1,53.3 69.4,45" fill="#6ba9e4"/>
<polygon points="77.7,44.5 84.8,42.4 84.8,51.2 77.7,53.3" fill="#5c9ad4"/>
<polygon points="69.4,44.5 78.1,52.8 78.1,62.2 69.4,53.9" fill="#f1823e"/>
<polygon points="77.7,52.8 84.8,50.7 84.8,60.1 77.7,62.2" fill="#e2732f"/>
<polygon points="69.4,53.4 78.1,61.7 78.1,65.9 69.4,57.6" fill="#379944"/>
<polygon points="77.7,61.7 84.8,59.6 84.8,63.8 77.7,65.9" fill="#278935"/>
<polygon points="69.4,31.2 77.7,39.5 84.8,37.4 76.5,29.1" fill="#bbe053"/>
<ellipse cx="75" cy="32.2" rx="2.6" ry="1.6" fill="#abd33a"/>
<rect x="72.4" y="30.1" width="5.2" height="2.1" fill="#abd33a"/>
<ellipse cx="75" cy="30.1" rx="2.6" ry="1.6" fill="#c5e56d"/>
<ellipse cx="79.2" cy="36.4" rx="2.6" ry="1.6" fill="#abd33a"/>
<rect x="76.6" y="34.3" width="5.2" height="2.1" fill="#abd33a"/>
<ellipse cx="79.2" cy="34.3" rx="2.6" ry="1.6" fill="#c5e56d"/>
</g>
<g transform="translate(324 -1)">
<polygon points="123,27.3 131.7,35.6 131.7,43.2 123,34.9" fill="#379944"/>
<polygon points="131.3,35.6 139,33.3 139,40.9 131.3,43.2" fill="#278935"/>
<polygon points="123,34.4 131.7,42.7 131.7,51.5 123,43.2" fill="#f1823e"/>
<polygon points="131.3,42.7 139,40.4 139,49.2 131.3,51.5" fill="#e2732f"/>
<polygon points="123,42.7 131.7,51 131.7,60.5 123,52.2" fill="#6ba9e4"/>
<polygon points="131.3,51 139,48.7 139,58.2 131.3,60.5" fill="#5c9ad4"/>
<polygon points="123,27.3 131.3,35.6 139,33.3 130.7,25" fill="#449f50"/>
<ellipse cx="128.9" cy="28.2" rx="2.6" ry="1.6" fill="#288c36"/>
<rect x="126.3" y="26.2" width="5.2" height="2.1" fill="#288c36"/>
<ellipse cx="128.9" cy="26.2" rx="2.6" ry="1.6" fill="#5fad6a"/>
<ellipse cx="133.1" cy="32.4" rx="2.6" ry="1.6" fill="#288c36"/>
<rect x="130.5" y="30.3" width="5.2" height="2.1" fill="#288c36"/>
<ellipse cx="133.1" cy="30.3" rx="2.6" ry="1.6" fill="#5fad6a"/>
</g>
<g transform="translate(322.3 1)">
<polygon points="168.1,9.5 176.8,17.8 176.8,24.2 168.1,15.9" fill="#b7de48"/>
<polygon points="176.4,17.8 183.5,15.7 183.5,22.1 176.4,24.2" fill="#a7cf38"/>
<polygon points="168.1,15.4 176.8,23.7 176.8,32.5 168.1,24.2" fill="#f1823e"/>
<polygon points="176.4,23.7 183.5,21.6 183.5,30.4 176.4,32.5" fill="#e2732f"/>
<polygon points="168.1,23.7 176.8,32 176.8,40.8 168.1,32.5" fill="#6ba9e4"/>
<polygon points="176.4,32 183.5,29.9 183.5,38.7 176.4,40.8" fill="#5c9ad4"/>
<polygon points="168.1,32 176.8,40.3 176.8,45.7 168.1,37.4" fill="#379944"/>
<polygon points="176.4,40.3 183.5,38.2 183.5,43.6 176.4,45.7" fill="#278935"/>
<polygon points="168.1,9.5 176.4,17.8 183.5,15.7 175.2,7.4" fill="#bbe053"/>
<ellipse cx="173.7" cy="10.5" rx="2.6" ry="1.6" fill="#abd33a"/>
<rect x="171.1" y="8.4" width="5.2" height="2.1" fill="#abd33a"/>
<ellipse cx="173.7" cy="8.4" rx="2.6" ry="1.6" fill="#c5e56d"/>
<ellipse cx="177.9" cy="14.7" rx="2.6" ry="1.6" fill="#abd33a"/>
<rect x="175.3" y="12.6" width="5.2" height="2.1" fill="#abd33a"/>
<ellipse cx="177.9" cy="12.6" rx="2.6" ry="1.6" fill="#c5e56d"/>
</g>
<polygon points="431.5,40.2 433.9,45 433.9,53.5 431.5,48.7" fill="#6ba9e4"/>
<polygon points="433.5,45 451.5,41 451.5,49.5 433.5,53.5" fill="#5c9ad4"/>
<polygon points="431.5,48.2 433.9,53 433.9,61 431.5,56.2" fill="#379944"/>
<polygon points="433.5,53 451.5,49 451.5,57 433.5,61" fill="#278935"/>
<polygon points="431.5,55.7 433.9,60.5 433.9,69.8 431.5,65" fill="#6ba9e4"/>
<polygon points="433.5,60.5 451.5,56.5 451.5,65.8 433.5,69.8" fill="#5c9ad4"/>
<polygon points="431.5,64.5 433.9,69.3 433.9,82.3 431.5,77.5" fill="#48b353"/>
<polygon points="433.5,69.3 451.5,65.3 451.5,78.3 433.5,82.3" fill="#38a444"/>
<polygon points="431.5,40.2 433.5,45 451.5,41 449.5,36.2" fill="#75afe5"/>
<ellipse cx="437" cy="41.6" rx="2.3" ry="1.4" fill="#5e9dd9"/>
<rect x="434.7" y="39.8" width="4.6" height="1.8" fill="#5e9dd9"/>
<ellipse cx="437" cy="39.8" rx="2.3" ry="1.4" fill="#89bbe9"/>
<ellipse cx="446" cy="39.6" rx="2.3" ry="1.4" fill="#5e9dd9"/>
<rect x="443.7" y="37.8" width="4.6" height="1.8" fill="#5e9dd9"/>
<ellipse cx="446" cy="37.8" rx="2.3" ry="1.4" fill="#89bbe9"/>
<g transform="translate(324.6 1.1)">
<polygon points="99.3,68.8 109.2,78.3 109.2,82.4 99.3,72.9" fill="#b7de48"/>
<polygon points="108.8,78.3 116.5,76 116.5,80.1 108.8,82.4" fill="#a7cf38"/>
<polygon points="99.3,72.4 109.2,81.9 109.2,90.7 99.3,81.2" fill="#6ba9e4"/>
<polygon points="108.8,81.9 116.5,79.6 116.5,88.4 108.8,90.7" fill="#5c9ad4"/>
<polygon points="99.3,80.7 109.2,90.2 109.2,95.4 99.3,85.9" fill="#379944"/>
<polygon points="108.8,90.2 116.5,87.9 116.5,93.1 108.8,95.4" fill="#278935"/>
<polygon points="99.3,85.4 109.2,94.9 109.2,99 99.3,89.5" fill="#b7de48"/>
<polygon points="108.8,94.9 116.5,92.6 116.5,96.7 108.8,99" fill="#a7cf38"/>
<polygon points="99.3,89 109.2,98.5 109.2,109.6 99.3,100.1" fill="#f1823e"/>
<polygon points="108.8,98.5 116.5,96.2 116.5,107.3 108.8,109.6" fill="#e2732f"/>
<polygon points="99.3,99.6 109.2,109.1 109.2,117.4 99.3,107.9" fill="#6ba9e4"/>
<polygon points="108.8,109.1 116.5,106.8 116.5,115.1 108.8,117.4" fill="#5c9ad4"/>
</g>
<polygon points="415,69 425,64.5 440,72 440,80 430,83 415,74" fill="#b8e040"/>
<ellipse cx="424" cy="67.5" rx="1.8" ry="1.1" fill="#9ec137"/>
<rect x="422.2" y="66.4" width="3.7" height="1.1" fill="#9ec137"/>
<ellipse cx="424" cy="66.4" rx="1.8" ry="1.1" fill="#c2e45b"/>
<ellipse cx="429" cy="65.5" rx="1.8" ry="1.1" fill="#9ec137"/>
<rect x="427.2" y="64.4" width="3.7" height="1.1" fill="#9ec137"/>
<ellipse cx="429" cy="64.4" rx="1.8" ry="1.1" fill="#c2e45b"/>
<polygon points="420,66.8 428.4,74 428.4,79 420,71.8" fill="#379944"/>
<polygon points="428,74 440,70.4 440,75.4 428,79" fill="#278935"/>
<polygon points="420,66.8 428,74 440,70.4 432,63.2" fill="#449f50"/>
<ellipse cx="427" cy="69.5" rx="2.8" ry="1.7" fill="#288c36"/>
<rect x="424.2" y="67.3" width="5.5" height="2.2" fill="#288c36"/>
<ellipse cx="427" cy="67.3" rx="2.8" ry="1.7" fill="#5fad6a"/>
<ellipse cx="433" cy="67.7" rx="2.8" ry="1.7" fill="#288c36"/>
<rect x="430.2" y="65.5" width="5.5" height="2.2" fill="#288c36"/>
<ellipse cx="433" cy="65.5" rx="2.8" ry="1.7" fill="#5fad6a"/>
<polygon points="462.2,22.7 464.4,27 464.4,31.5 462.2,27.2" fill="#379944"/>
<polygon points="464,27 481,23.6 481,28.1 464,31.5" fill="#278935"/>
<polygon points="462.2,26.7 464.4,31 464.4,73 462.2,68.7" fill="#6ba9e4"/>
<polygon points="464,31 481,27.6 481,69.6 464,73" fill="#5c9ad4"/>
<polygon points="462.2,22.7 464,27 481,23.6 479.2,19.3" fill="#449f50"/>
<ellipse cx="467.4" cy="24" rx="2.1" ry="1.3" fill="#288c36"/>
<rect x="465.3" y="22.3" width="4.1" height="1.6" fill="#288c36"/>
<ellipse cx="467.4" cy="22.3" rx="2.1" ry="1.3" fill="#5fad6a"/>
<ellipse cx="475.9" cy="22.3" rx="2.1" ry="1.3" fill="#288c36"/>
<rect x="473.8" y="20.6" width="4.1" height="1.6" fill="#288c36"/>
<ellipse cx="475.9" cy="20.6" rx="2.1" ry="1.3" fill="#5fad6a"/>
<polygon points="475.3,31.3 478.4,34 478.4,46 475.3,43.3" fill="#f1823e"/>
<polygon points="478,34 484.7,32 484.7,44 478,46" fill="#e2732f"/>
<polygon points="475.3,31.3 478,34 484.7,32 482,29.3" fill="#f28a4b"/>
<ellipse cx="478.3" cy="32.1" rx="1.5" ry="1" fill="#e67530"/>
<rect x="476.8" y="30.9" width="3.1" height="1.2" fill="#e67530"/>
<ellipse cx="478.3" cy="30.9" rx="1.5" ry="1" fill="#f49b65"/>
<ellipse cx="481.7" cy="31.1" rx="1.5" ry="1" fill="#e67530"/>
<rect x="480.1" y="29.9" width="3.1" height="1.2" fill="#e67530"/>
<ellipse cx="481.7" cy="29.9" rx="1.5" ry="1" fill="#f49b65"/>
<polygon points="479,41.2 481.4,46 481.4,54.5 479,49.7" fill="#48b353"/>
<polygon points="481,46 494.8,42.5 494.8,51 481,54.5" fill="#38a444"/>
<polygon points="479,49.2 481.4,54 481.4,61.5 479,56.7" fill="#379944"/>
<polygon points="481,54 494.8,50.5 494.8,58 481,61.5" fill="#278935"/>
<polygon points="479,56.2 481.4,61 481.4,69.5 479,64.7" fill="#48b353"/>
<polygon points="481,61 494.8,57.5 494.8,66 481,69.5" fill="#38a444"/>
<polygon points="479,64.2 481.4,69 481.4,78 479,73.2" fill="#6ba9e4"/>
<polygon points="481,69 494.8,65.5 494.8,74.5 481,78" fill="#5c9ad4"/>
<polygon points="479,41.2 481,46 494.8,42.5 492.8,37.8" fill="#53b85e"/>
<ellipse cx="483.4" cy="42.7" rx="2.3" ry="1.4" fill="#3aa745"/>
<rect x="481.2" y="40.9" width="4.6" height="1.8" fill="#3aa745"/>
<ellipse cx="483.4" cy="40.9" rx="2.3" ry="1.4" fill="#6dc276"/>
<ellipse cx="490.4" cy="41" rx="2.3" ry="1.4" fill="#3aa745"/>
<rect x="488.1" y="39.2" width="4.6" height="1.8" fill="#3aa745"/>
<ellipse cx="490.4" cy="39.2" rx="2.3" ry="1.4" fill="#6dc276"/>
<polygon points="464,45.2 466.4,50 466.4,57.5 464,52.7" fill="#48b353"/>
<polygon points="466,50 479,46.8 479,54.2 466,57.5" fill="#38a444"/>
<polygon points="464,52.2 466.4,57 466.4,62.5 464,57.7" fill="#379944"/>
<polygon points="466,57 479,53.8 479,59.2 466,62.5" fill="#278935"/>
<polygon points="464,57.2 466.4,62 466.4,69.5 464,64.7" fill="#6ba9e4"/>
<polygon points="466,62 479,58.8 479,66.2 466,69.5" fill="#5c9ad4"/>
<polygon points="464,64.2 466.4,69 466.4,81 464,76.2" fill="#f1823e"/>
<polygon points="466,69 479,65.8 479,77.8 466,81" fill="#e2732f"/>
<polygon points="464,45.2 466,50 479,46.8 477,42" fill="#53b85e"/>
<ellipse cx="468.2" cy="46.8" rx="2.3" ry="1.4" fill="#3aa745"/>
<rect x="466" y="45" width="4.6" height="1.8" fill="#3aa745"/>
<ellipse cx="468.2" cy="45" rx="2.3" ry="1.4" fill="#6dc276"/>
<ellipse cx="474.8" cy="45.2" rx="2.3" ry="1.4" fill="#3aa745"/>
<rect x="472.5" y="43.3" width="4.6" height="1.8" fill="#3aa745"/>
<ellipse cx="474.8" cy="43.3" rx="2.3" ry="1.4" fill="#6dc276"/>
<polygon points="500.4,54.2 502.4,58 502.4,70.5 500.4,66.7" fill="#48b353"/>
<polygon points="502,58 516,53.8 516,66.3 502,70.5" fill="#38a444"/>
<polygon points="500.4,66.2 502.4,70 502.4,81 500.4,77.2" fill="#6ba9e4"/>
<polygon points="502,70 516,65.8 516,76.8 502,81" fill="#5c9ad4"/>
<polygon points="500.4,54.2 502,58 516,53.8 514.4,50" fill="#53b85e"/>
<ellipse cx="504.7" cy="55" rx="1.8" ry="1.1" fill="#3aa745"/>
<rect x="502.9" y="53.6" width="3.7" height="1.5" fill="#3aa745"/>
<ellipse cx="504.7" cy="53.6" rx="1.8" ry="1.1" fill="#6dc276"/>
<ellipse cx="511.7" cy="52.9" rx="1.8" ry="1.1" fill="#3aa745"/>
<rect x="509.9" y="51.5" width="3.7" height="1.5" fill="#3aa745"/>
<ellipse cx="511.7" cy="51.5" rx="1.8" ry="1.1" fill="#6dc276"/>
<polygon points="511,41.2 513.4,46 513.4,52.5 511,47.7" fill="#379944"/>
<polygon points="513,46 530,40 530,46.5 513,52.5" fill="#278935"/>
<polygon points="511,47.2 513.4,52 513.4,61.5 511,56.7" fill="#6ba9e4"/>
<polygon points="513,52 530,46 530,55.5 513,61.5" fill="#5c9ad4"/>
<polygon points="511,56.2 513.4,61 513.4,65.5 511,60.7" fill="#b7de48"/>
<polygon points="513,61 530,55 530,59.5 513,65.5" fill="#a7cf38"/>
<polygon points="511,60.2 513.4,65 513.4,68.5 511,63.7" fill="#379944"/>
<polygon points="513,65 530,59 530,62.5 513,68.5" fill="#278935"/>
<polygon points="511,63.2 513.4,68 513.4,78.5 511,73.7" fill="#f1823e"/>
<polygon points="513,68 530,62 530,72.5 513,78.5" fill="#e2732f"/>
<polygon points="511,73.2 513.4,78 513.4,86.5 511,81.7" fill="#6ba9e4"/>
<polygon points="513,78 530,72 530,80.5 513,86.5" fill="#5c9ad4"/>
<polygon points="511,81.2 513.4,86 513.4,90 511,85.2" fill="#379944"/>
<polygon points="513,86 530,80 530,84 513,90" fill="#278935"/>
<polygon points="511,41.2 513,46 530,40 528,35.2" fill="#449f50"/>
<ellipse cx="516.2" cy="42.1" rx="2.3" ry="1.4" fill="#288c36"/>
<rect x="514" y="40.3" width="4.6" height="1.8" fill="#288c36"/>
<ellipse cx="516.2" cy="40.3" rx="2.3" ry="1.4" fill="#5fad6a"/>
<ellipse cx="524.8" cy="39.1" rx="2.3" ry="1.4" fill="#288c36"/>
<rect x="522.5" y="37.3" width="4.6" height="1.8" fill="#288c36"/>
<ellipse cx="524.8" cy="37.3" rx="2.3" ry="1.4" fill="#5fad6a"/>
<polygon points="514,35 520.4,41 520.4,46 514,40" fill="#b7de48"/>
<polygon points="520,41 530,38 530,43 520,46" fill="#a7cf38"/>
<polygon points="514,35 520,41 530,38 524,32" fill="#bbe053"/>
<ellipse cx="519.5" cy="37.2" rx="2.3" ry="1.4" fill="#abd33a"/>
<rect x="517.2" y="35.4" width="4.6" height="1.8" fill="#abd33a"/>
<ellipse cx="519.5" cy="35.4" rx="2.3" ry="1.4" fill="#c5e56d"/>
<ellipse cx="524.5" cy="35.8" rx="2.3" ry="1.4" fill="#abd33a"/>
<rect x="522.2" y="33.9" width="4.6" height="1.8" fill="#abd33a"/>
<ellipse cx="524.5" cy="33.9" rx="2.3" ry="1.4" fill="#c5e56d"/>
<polygon points="490.4,12.4 498.4,20 498.4,26.4 490.4,18.8" fill="#b7de48"/>
<polygon points="498,20 504.8,18 504.8,24.4 498,26.4" fill="#a7cf38"/>
<polygon points="490.4,18.3 498.4,25.9 498.4,34.7 490.4,27.1" fill="#f1823e"/>
<polygon points="498,25.9 504.8,23.9 504.8,32.7 498,34.7" fill="#e2732f"/>
<polygon points="490.4,26.6 498.4,34.2 498.4,43 490.4,35.4" fill="#6ba9e4"/>
<polygon points="498,34.2 504.8,32.2 504.8,41 498,43" fill="#5c9ad4"/>
<polygon points="490.4,34.9 498.4,42.5 498.4,47.9 490.4,40.3" fill="#379944"/>
<polygon points="498,42.5 504.8,40.5 504.8,45.9 498,47.9" fill="#278935"/>
<polygon points="490.4,12.4 498,20 504.8,18 497.2,10.4" fill="#bbe053"/>
<ellipse cx="495.7" cy="13.3" rx="2.4" ry="1.5" fill="#abd33a"/>
<rect x="493.3" y="11.4" width="4.7" height="1.9" fill="#abd33a"/>
<ellipse cx="495.7" cy="11.4" rx="2.4" ry="1.5" fill="#c5e56d"/>
<ellipse cx="499.5" cy="17.1" rx="2.4" ry="1.5" fill="#abd33a"/>
<rect x="497.1" y="15.2" width="4.7" height="1.9" fill="#abd33a"/>
<ellipse cx="499.5" cy="15.2" rx="2.4" ry="1.5" fill="#c5e56d"/>
<polygon points="471,86 473.4,88 473.4,98 471,96" fill="#6ba9e4"/>
<polygon points="473,88 478.5,86.3 478.5,96.3 473,98" fill="#5c9ad4"/>
<polygon points="492.3,98.9 494.4,103 494.4,121 492.3,116.9" fill="#6ba9e4"/>
<polygon points="494,103 511.7,97.7 511.7,115.7 494,121" fill="#5c9ad4"/>
<polygon points="464,77.6 487.2,100.5 487.2,105.7 464,82.8" fill="#a9ce3b"/>
<polygon points="487.2,100.5 519.8,88.6 519.8,93.8 487.2,105.7" fill="#97b834"/>
<polygon points="464,78.3 495.4,66.4 519.8,89.3 487.2,101.2" fill="#b8e040"/>
<ellipse cx="470.8" cy="79.7" rx="3.2" ry="2" fill="#90af32"/>
<rect x="467.6" y="77.8" width="6.4" height="1.9" fill="#90af32"/>
<ellipse cx="470.8" cy="77.8" rx="3.2" ry="2" fill="#c6e666"/>
<ellipse cx="476.6" cy="85.4" rx="3.2" ry="2" fill="#90af32"/>
<rect x="473.4" y="83.5" width="6.4" height="1.9" fill="#90af32"/>
<ellipse cx="476.6" cy="83.5" rx="3.2" ry="2" fill="#c6e666"/>
<ellipse cx="482.4" cy="91.1" rx="3.2" ry="2" fill="#90af32"/>
<rect x="479.2" y="89.2" width="6.4" height="1.9" fill="#90af32"/>
<ellipse cx="482.4" cy="89.2" rx="3.2" ry="2" fill="#c6e666"/>
<ellipse cx="488.2" cy="96.9" rx="3.2" ry="2" fill="#90af32"/>
<rect x="485" y="94.9" width="6.4" height="1.9" fill="#90af32"/>
<ellipse cx="488.2" cy="94.9" rx="3.2" ry="2" fill="#c6e666"/>
<ellipse cx="478.7" cy="76.7" rx="3.2" ry="2" fill="#90af32"/>
<rect x="475.5" y="74.8" width="6.4" height="1.9" fill="#90af32"/>
<ellipse cx="478.7" cy="74.8" rx="3.2" ry="2" fill="#c6e666"/>
<ellipse cx="484.5" cy="82.4" rx="3.2" ry="2" fill="#90af32"/>
<rect x="481.3" y="80.5" width="6.4" height="1.9" fill="#90af32"/>
<ellipse cx="484.5" cy="80.5" rx="3.2" ry="2" fill="#c6e666"/>
<ellipse cx="490.3" cy="88.2" rx="3.2" ry="2" fill="#90af32"/>
<rect x="487.1" y="86.2" width="6.4" height="1.9" fill="#90af32"/>
<ellipse cx="490.3" cy="86.2" rx="3.2" ry="2" fill="#c6e666"/>
<ellipse cx="496.1" cy="93.9" rx="3.2" ry="2" fill="#90af32"/>
<rect x="492.9" y="92" width="6.4" height="1.9" fill="#90af32"/>
<ellipse cx="496.1" cy="92" rx="3.2" ry="2" fill="#c6e666"/>
<ellipse cx="486.5" cy="73.7" rx="3.2" ry="2" fill="#90af32"/>
<rect x="483.3" y="71.8" width="6.4" height="1.9" fill="#90af32"/>
<ellipse cx="486.5" cy="71.8" rx="3.2" ry="2" fill="#c6e666"/>
<ellipse cx="492.3" cy="79.5" rx="3.2" ry="2" fill="#90af32"/>
<rect x="489.1" y="77.5" width="6.4" height="1.9" fill="#90af32"/>
<ellipse cx="492.3" cy="77.5" rx="3.2" ry="2" fill="#c6e666"/>
<ellipse cx="498.1" cy="85.2" rx="3.2" ry="2" fill="#90af32"/>
<rect x="494.9" y="83.3" width="6.4" height="1.9" fill="#90af32"/>
<ellipse cx="498.1" cy="83.3" rx="3.2" ry="2" fill="#c6e666"/>
<ellipse cx="503.9" cy="90.9" rx="3.2" ry="2" fill="#90af32"/>
<rect x="500.7" y="89" width="6.4" height="1.9" fill="#90af32"/>
<ellipse cx="503.9" cy="89" rx="3.2" ry="2" fill="#c6e666"/>
<ellipse cx="494.4" cy="70.8" rx="3.2" ry="2" fill="#90af32"/>
<rect x="491.2" y="68.8" width="6.4" height="1.9" fill="#90af32"/>
<ellipse cx="494.4" cy="68.8" rx="3.2" ry="2" fill="#c6e666"/>
<ellipse cx="500.2" cy="76.5" rx="3.2" ry="2" fill="#90af32"/>
<rect x="497" y="74.6" width="6.4" height="1.9" fill="#90af32"/>
<ellipse cx="500.2" cy="74.6" rx="3.2" ry="2" fill="#c6e666"/>
<ellipse cx="506" cy="82.2" rx="3.2" ry="2" fill="#90af32"/>
<rect x="502.8" y="80.3" width="6.4" height="1.9" fill="#90af32"/>
<ellipse cx="506" cy="80.3" rx="3.2" ry="2" fill="#c6e666"/>
<ellipse cx="511.8" cy="87.9" rx="3.2" ry="2" fill="#90af32"/>
<rect x="508.6" y="86" width="6.4" height="1.9" fill="#90af32"/>
<ellipse cx="511.8" cy="86" rx="3.2" ry="2" fill="#c6e666"/>
<polygon points="501,81.7 508.4,88 508.4,94 501,87.7" fill="#379944"/>
<polygon points="508,88 519.8,84.5 519.8,90.5 508,94" fill="#278935"/>
<polygon points="501,81.7 508,88 519.8,84.5 512.8,78.2" fill="#449f50"/>
<ellipse cx="507.4" cy="84" rx="2.7" ry="1.7" fill="#288c36"/>
<rect x="504.7" y="81.8" width="5.4" height="2.2" fill="#288c36"/>
<ellipse cx="507.4" cy="81.8" rx="2.7" ry="1.7" fill="#5fad6a"/>
<ellipse cx="513.3" cy="82.2" rx="2.7" ry="1.7" fill="#288c36"/>
<rect x="510.6" y="80" width="5.4" height="2.2" fill="#288c36"/>
<ellipse cx="513.3" cy="80" rx="2.7" ry="1.7" fill="#5fad6a"/>
<g transform="translate(323.5 0)">
<polygon points="113,133.3 133,150.3 133,156 113,139" fill="#2b883b"/>
<polygon points="133,150.3 183,131.3 183,137 133,156" fill="#277934"/>
<polygon points="113,134 161,116 183,132 133,151" fill="#2f9440"/>
<ellipse cx="119.5" cy="134.6" rx="2.6" ry="1.6" fill="#257332"/>
<rect x="116.9" y="133.1" width="5.2" height="1.6" fill="#257332"/>
<ellipse cx="119.5" cy="133.1" rx="2.6" ry="1.6" fill="#59a966"/>
<ellipse cx="124.5" cy="138.9" rx="2.6" ry="1.6" fill="#257332"/>
<rect x="121.9" y="137.3" width="5.2" height="1.6" fill="#257332"/>
<ellipse cx="124.5" cy="137.3" rx="2.6" ry="1.6" fill="#59a966"/>
<ellipse cx="129.5" cy="143.1" rx="2.6" ry="1.6" fill="#257332"/>
<rect x="126.9" y="141.6" width="5.2" height="1.6" fill="#257332"/>
<ellipse cx="129.5" cy="141.6" rx="2.6" ry="1.6" fill="#59a966"/>
<ellipse cx="134.5" cy="147.4" rx="2.6" ry="1.6" fill="#257332"/>
<rect x="131.9" y="145.8" width="5.2" height="1.6" fill="#257332"/>
<ellipse cx="134.5" cy="145.8" rx="2.6" ry="1.6" fill="#59a966"/>
<ellipse cx="127.5" cy="131.6" rx="2.6" ry="1.6" fill="#257332"/>
<rect x="124.9" y="130.1" width="5.2" height="1.6" fill="#257332"/>
<ellipse cx="127.5" cy="130.1" rx="2.6" ry="1.6" fill="#59a966"/>
<ellipse cx="132.5" cy="135.9" rx="2.6" ry="1.6" fill="#257332"/>
<rect x="129.9" y="134.3" width="5.2" height="1.6" fill="#257332"/>
<ellipse cx="132.5" cy="134.3" rx="2.6" ry="1.6" fill="#59a966"/>
<ellipse cx="137.5" cy="140.1" rx="2.6" ry="1.6" fill="#257332"/>
<rect x="134.9" y="138.6" width="5.2" height="1.6" fill="#257332"/>
<ellipse cx="137.5" cy="138.6" rx="2.6" ry="1.6" fill="#59a966"/>
<ellipse cx="142.5" cy="144.4" rx="2.6" ry="1.6" fill="#257332"/>
<rect x="139.9" y="142.8" width="5.2" height="1.6" fill="#257332"/>
<ellipse cx="142.5" cy="142.8" rx="2.6" ry="1.6" fill="#59a966"/>
<ellipse cx="135.5" cy="128.6" rx="2.6" ry="1.6" fill="#257332"/>
<rect x="132.9" y="127.1" width="5.2" height="1.6" fill="#257332"/>
<ellipse cx="135.5" cy="127.1" rx="2.6" ry="1.6" fill="#59a966"/>
<ellipse cx="140.5" cy="132.9" rx="2.6" ry="1.6" fill="#257332"/>
<rect x="137.9" y="131.3" width="5.2" height="1.6" fill="#257332"/>
<ellipse cx="140.5" cy="131.3" rx="2.6" ry="1.6" fill="#59a966"/>
<ellipse cx="145.5" cy="137.1" rx="2.6" ry="1.6" fill="#257332"/>
<rect x="142.9" y="135.6" width="5.2" height="1.6" fill="#257332"/>
<ellipse cx="145.5" cy="135.6" rx="2.6" ry="1.6" fill="#59a966"/>
<ellipse cx="150.5" cy="141.4" rx="2.6" ry="1.6" fill="#257332"/>
<rect x="147.9" y="139.8" width="5.2" height="1.6" fill="#257332"/>
<ellipse cx="150.5" cy="139.8" rx="2.6" ry="1.6" fill="#59a966"/>
<ellipse cx="143.5" cy="125.6" rx="2.6" ry="1.6" fill="#257332"/>
<rect x="140.9" y="124.1" width="5.2" height="1.6" fill="#257332"/>
<ellipse cx="143.5" cy="124.1" rx="2.6" ry="1.6" fill="#59a966"/>
<ellipse cx="148.5" cy="129.9" rx="2.6" ry="1.6" fill="#257332"/>
<rect x="145.9" y="128.3" width="5.2" height="1.6" fill="#257332"/>
<ellipse cx="148.5" cy="128.3" rx="2.6" ry="1.6" fill="#59a966"/>
<ellipse cx="153.5" cy="134.1" rx="2.6" ry="1.6" fill="#257332"/>
<rect x="150.9" y="132.6" width="5.2" height="1.6" fill="#257332"/>
<ellipse cx="153.5" cy="132.6" rx="2.6" ry="1.6" fill="#59a966"/>
<ellipse cx="158.5" cy="138.4" rx="2.6" ry="1.6" fill="#257332"/>
<rect x="155.9" y="136.8" width="5.2" height="1.6" fill="#257332"/>
<ellipse cx="158.5" cy="136.8" rx="2.6" ry="1.6" fill="#59a966"/>
<ellipse cx="151.5" cy="122.6" rx="2.6" ry="1.6" fill="#257332"/>
<rect x="148.9" y="121.1" width="5.2" height="1.6" fill="#257332"/>
<ellipse cx="151.5" cy="121.1" rx="2.6" ry="1.6" fill="#59a966"/>
<ellipse cx="156.5" cy="126.9" rx="2.6" ry="1.6" fill="#257332"/>
<rect x="153.9" y="125.3" width="5.2" height="1.6" fill="#257332"/>
<ellipse cx="156.5" cy="125.3" rx="2.6" ry="1.6" fill="#59a966"/>
<ellipse cx="161.5" cy="131.1" rx="2.6" ry="1.6" fill="#257332"/>
<rect x="158.9" y="129.6" width="5.2" height="1.6" fill="#257332"/>
<ellipse cx="161.5" cy="129.6" rx="2.6" ry="1.6" fill="#59a966"/>
<ellipse cx="166.5" cy="135.4" rx="2.6" ry="1.6" fill="#257332"/>
<rect x="163.9" y="133.8" width="5.2" height="1.6" fill="#257332"/>
<ellipse cx="166.5" cy="133.8" rx="2.6" ry="1.6" fill="#59a966"/>
<ellipse cx="159.5" cy="119.6" rx="2.6" ry="1.6" fill="#257332"/>
<rect x="156.9" y="118.1" width="5.2" height="1.6" fill="#257332"/>
<ellipse cx="159.5" cy="118.1" rx="2.6" ry="1.6" fill="#59a966"/>
<ellipse cx="164.5" cy="123.9" rx="2.6" ry="1.6" fill="#257332"/>
<rect x="161.9" y="122.3" width="5.2" height="1.6" fill="#257332"/>
<ellipse cx="164.5" cy="122.3" rx="2.6" ry="1.6" fill="#59a966"/>
<ellipse cx="169.5" cy="128.1" rx="2.6" ry="1.6" fill="#257332"/>
<rect x="166.9" y="126.6" width="5.2" height="1.6" fill="#257332"/>
<ellipse cx="169.5" cy="126.6" rx="2.6" ry="1.6" fill="#59a966"/>
<ellipse cx="174.5" cy="132.4" rx="2.6" ry="1.6" fill="#257332"/>
<rect x="171.9" y="130.8" width="5.2" height="1.6" fill="#257332"/>
<ellipse cx="174.5" cy="130.8" rx="2.6" ry="1.6" fill="#59a966"/>
<polygon points="125,120 145,113 150,118 130,126" fill="#b8e040"/>
<ellipse cx="132.5" cy="118.2" rx="2.7" ry="1.6" fill="#9ec137"/>
<rect x="129.8" y="116.7" width="5.3" height="1.6" fill="#9ec137"/>
<ellipse cx="132.5" cy="116.7" rx="2.7" ry="1.6" fill="#c2e45b"/>
<ellipse cx="142.5" cy="114.8" rx="2.7" ry="1.6" fill="#9ec137"/>
<rect x="139.8" y="113.2" width="5.3" height="1.6" fill="#9ec137"/>
<ellipse cx="142.5" cy="113.2" rx="2.7" ry="1.6" fill="#c2e45b"/>
<polygon points="113.6,146.2 124,153.8 124,159.5 113.6,151.9" fill="#a9ce3b"/>
<polygon points="124,153.8 129.7,151.3 129.7,157 124,159.5" fill="#97b834"/>
<polygon points="113.6,146.9 119.5,144.5 129.7,152 124,154.5" fill="#b8e040"/>
<ellipse cx="119.2" cy="147.6" rx="2.5" ry="1.6" fill="#90af32"/>
<rect x="116.6" y="146.1" width="5.1" height="1.5" fill="#90af32"/>
<ellipse cx="119.2" cy="146.1" rx="2.5" ry="1.6" fill="#c6e666"/>
<ellipse cx="124.3" cy="151.4" rx="2.5" ry="1.6" fill="#90af32"/>
<rect x="121.8" y="149.9" width="5.1" height="1.5" fill="#90af32"/>
<ellipse cx="124.3" cy="149.9" rx="2.5" ry="1.6" fill="#c6e666"/>
<polygon points="174,124 182,121 189,131 189,138 182,141 174,131" fill="#b8e040"/>
<ellipse cx="179.2" cy="123" rx="1.9" ry="1.2" fill="#9ec137"/>
<rect x="177.3" y="121.8" width="3.9" height="1.2" fill="#9ec137"/>
<ellipse cx="179.2" cy="121.8" rx="1.9" ry="1.2" fill="#c2e45b"/>
<ellipse cx="182.8" cy="127.5" rx="1.9" ry="1.2" fill="#9ec137"/>
<rect x="180.8" y="126.3" width="3.9" height="1.2" fill="#9ec137"/>
<ellipse cx="182.8" cy="126.3" rx="1.9" ry="1.2" fill="#c2e45b"/>
</g>
<g transform="translate(322 -2)">
<polygon points="132,185.9 151,213.8 151,218.5 132,190.6" fill="#a9ce3b"/>
<polygon points="151,213.8 202.6,189.5 202.6,194.2 151,218.5" fill="#97b834"/>
<polygon points="132,186.6 182,167 202.6,190.2 151,214.5" fill="#b8e040"/>
<ellipse cx="138.5" cy="188.5" rx="3.2" ry="2" fill="#90af32"/>
<rect x="135.3" y="186.5" width="6.4" height="1.9" fill="#90af32"/>
<ellipse cx="138.5" cy="186.5" rx="3.2" ry="2" fill="#c6e666"/>
<ellipse cx="143.3" cy="195.4" rx="3.2" ry="2" fill="#90af32"/>
<rect x="140.1" y="193.5" width="6.4" height="1.9" fill="#90af32"/>
<ellipse cx="143.3" cy="193.5" rx="3.2" ry="2" fill="#c6e666"/>
<ellipse cx="148" cy="202.4" rx="3.2" ry="2" fill="#90af32"/>
<rect x="144.8" y="200.5" width="6.4" height="1.9" fill="#90af32"/>
<ellipse cx="148" cy="200.5" rx="3.2" ry="2" fill="#c6e666"/>
<ellipse cx="152.8" cy="209.4" rx="3.2" ry="2" fill="#90af32"/>
<rect x="149.6" y="207.5" width="6.4" height="1.9" fill="#90af32"/>
<ellipse cx="152.8" cy="207.5" rx="3.2" ry="2" fill="#c6e666"/>
<ellipse cx="146.9" cy="185.2" rx="3.2" ry="2" fill="#90af32"/>
<rect x="143.7" y="183.3" width="6.4" height="1.9" fill="#90af32"/>
<ellipse cx="146.9" cy="183.3" rx="3.2" ry="2" fill="#c6e666"/>
<ellipse cx="151.6" cy="192.2" rx="3.2" ry="2" fill="#90af32"/>
<rect x="148.4" y="190.2" width="6.4" height="1.9" fill="#90af32"/>
<ellipse cx="151.6" cy="190.2" rx="3.2" ry="2" fill="#c6e666"/>
<ellipse cx="156.4" cy="199.1" rx="3.2" ry="2" fill="#90af32"/>
<rect x="153.2" y="197.2" width="6.4" height="1.9" fill="#90af32"/>
<ellipse cx="156.4" cy="197.2" rx="3.2" ry="2" fill="#c6e666"/>
<ellipse cx="161.1" cy="206.1" rx="3.2" ry="2" fill="#90af32"/>
<rect x="157.9" y="204.2" width="6.4" height="1.9" fill="#90af32"/>
<ellipse cx="161.1" cy="204.2" rx="3.2" ry="2" fill="#c6e666"/>
<ellipse cx="155.2" cy="181.9" rx="3.2" ry="2" fill="#90af32"/>
<rect x="152" y="180" width="6.4" height="1.9" fill="#90af32"/>
<ellipse cx="155.2" cy="180" rx="3.2" ry="2" fill="#c6e666"/>
<ellipse cx="160" cy="188.9" rx="3.2" ry="2" fill="#90af32"/>
<rect x="156.8" y="187" width="6.4" height="1.9" fill="#90af32"/>
<ellipse cx="160" cy="187" rx="3.2" ry="2" fill="#c6e666"/>
<ellipse cx="164.7" cy="195.9" rx="3.2" ry="2" fill="#90af32"/>
<rect x="161.5" y="194" width="6.4" height="1.9" fill="#90af32"/>
<ellipse cx="164.7" cy="194" rx="3.2" ry="2" fill="#c6e666"/>
<ellipse cx="169.5" cy="202.8" rx="3.2" ry="2" fill="#90af32"/>
<rect x="166.3" y="200.9" width="6.4" height="1.9" fill="#90af32"/>
<ellipse cx="169.5" cy="200.9" rx="3.2" ry="2" fill="#c6e666"/>
<ellipse cx="163.5" cy="178.7" rx="3.2" ry="2" fill="#90af32"/>
<rect x="160.3" y="176.7" width="6.4" height="1.9" fill="#90af32"/>
<ellipse cx="163.5" cy="176.7" rx="3.2" ry="2" fill="#c6e666"/>
<ellipse cx="168.3" cy="185.6" rx="3.2" ry="2" fill="#90af32"/>
<rect x="165.1" y="183.7" width="6.4" height="1.9" fill="#90af32"/>
<ellipse cx="168.3" cy="183.7" rx="3.2" ry="2" fill="#c6e666"/>
<ellipse cx="173" cy="192.6" rx="3.2" ry="2" fill="#90af32"/>
<rect x="169.8" y="190.7" width="6.4" height="1.9" fill="#90af32"/>
<ellipse cx="173" cy="190.7" rx="3.2" ry="2" fill="#c6e666"/>
<ellipse cx="177.8" cy="199.6" rx="3.2" ry="2" fill="#90af32"/>
<rect x="174.6" y="197.7" width="6.4" height="1.9" fill="#90af32"/>
<ellipse cx="177.8" cy="197.7" rx="3.2" ry="2" fill="#c6e666"/>
<ellipse cx="171.9" cy="175.4" rx="3.2" ry="2" fill="#90af32"/>
<rect x="168.7" y="173.5" width="6.4" height="1.9" fill="#90af32"/>
<ellipse cx="171.9" cy="173.5" rx="3.2" ry="2" fill="#c6e666"/>
<ellipse cx="176.6" cy="182.4" rx="3.2" ry="2" fill="#90af32"/>
<rect x="173.4" y="180.4" width="6.4" height="1.9" fill="#90af32"/>
<ellipse cx="176.6" cy="180.4" rx="3.2" ry="2" fill="#c6e666"/>
<ellipse cx="181.4" cy="189.3" rx="3.2" ry="2" fill="#90af32"/>
<rect x="178.2" y="187.4" width="6.4" height="1.9" fill="#90af32"/>
<ellipse cx="181.4" cy="187.4" rx="3.2" ry="2" fill="#c6e666"/>
<ellipse cx="186.1" cy="196.3" rx="3.2" ry="2" fill="#90af32"/>
<rect x="182.9" y="194.4" width="6.4" height="1.9" fill="#90af32"/>
<ellipse cx="186.1" cy="194.4" rx="3.2" ry="2" fill="#c6e666"/>
<ellipse cx="180.2" cy="172.1" rx="3.2" ry="2" fill="#90af32"/>
<rect x="177" y="170.2" width="6.4" height="1.9" fill="#90af32"/>
<ellipse cx="180.2" cy="170.2" rx="3.2" ry="2" fill="#c6e666"/>
<ellipse cx="185" cy="179.1" rx="3.2" ry="2" fill="#90af32"/>
<rect x="181.8" y="177.2" width="6.4" height="1.9" fill="#90af32"/>
<ellipse cx="185" cy="177.2" rx="3.2" ry="2" fill="#c6e666"/>
<ellipse cx="189.7" cy="186.1" rx="3.2" ry="2" fill="#90af32"/>
<rect x="186.5" y="184.2" width="6.4" height="1.9" fill="#90af32"/>
<ellipse cx="189.7" cy="184.2" rx="3.2" ry="2" fill="#c6e666"/>
<ellipse cx="194.5" cy="193" rx="3.2" ry="2" fill="#90af32"/>
<rect x="191.3" y="191.1" width="6.4" height="1.9" fill="#90af32"/>
<ellipse cx="194.5" cy="191.1" rx="3.2" ry="2" fill="#c6e666"/>
<polygon points="189,175 212,167 215,176 215,180 196,187 189,181" fill="#b8e040"/>
<polygon points="196,153.9 205.4,162 205.4,176 196,167.9" fill="#379944"/>
<polygon points="205,162 213,158.8 213,172.8 205,176" fill="#278935"/>
<polygon points="196,153.9 205,162 213,158.8 204,150.7" fill="#449f50"/>
<ellipse cx="202.2" cy="154.3" rx="2.7" ry="1.7" fill="#288c36"/>
<rect x="199.6" y="152.2" width="5.3" height="2.1" fill="#288c36"/>
<ellipse cx="202.2" cy="152.2" rx="2.7" ry="1.7" fill="#5fad6a"/>
<ellipse cx="206.8" cy="158.4" rx="2.7" ry="1.7" fill="#288c36"/>
<rect x="204.1" y="156.2" width="5.3" height="2.1" fill="#288c36"/>
<ellipse cx="206.8" cy="156.2" rx="2.7" ry="1.7" fill="#5fad6a"/>
</g>
<g transform="translate(320 0)">
<polygon points="218,105.9 220.4,110.7 220.4,123.5 218,118.7" fill="#f1823e"/>
<polygon points="220,110.7 240,107.7 240,120.5 220,123.5" fill="#e2732f"/>
<polygon points="218,118.2 220.4,123 220.4,131 218,126.2" fill="#48b353"/>
<polygon points="220,123 240,120 240,128 220,131" fill="#38a444"/>
<polygon points="218,125.7 220.4,130.5 220.4,139.4 218,134.6" fill="#6ba9e4"/>
<polygon points="220,130.5 240,127.5 240,136.4 220,139.4" fill="#5c9ad4"/>
<polygon points="218,105.9 220,110.7 240,107.7 238,102.9" fill="#f28a4b"/>
<ellipse cx="224" cy="107.6" rx="2.3" ry="1.4" fill="#e67530"/>
<rect x="221.7" y="105.7" width="4.6" height="1.8" fill="#e67530"/>
<ellipse cx="224" cy="105.7" rx="2.3" ry="1.4" fill="#f49b65"/>
<ellipse cx="234" cy="106.1" rx="2.3" ry="1.4" fill="#e67530"/>
<rect x="231.7" y="104.2" width="4.6" height="1.8" fill="#e67530"/>
<ellipse cx="234" cy="104.2" rx="2.3" ry="1.4" fill="#f49b65"/>
<polygon points="238.2,92.9 248,102.5 248,110 238.2,100.4" fill="#f1823e"/>
<polygon points="247.6,102.5 254.8,98.4 254.8,105.9 247.6,110" fill="#e2732f"/>
<polygon points="238.2,92.9 247.6,102.5 254.8,98.4 245.4,88.8" fill="#f28a4b"/>
<ellipse cx="244.1" cy="93.3" rx="2.8" ry="1.7" fill="#e67530"/>
<rect x="241.3" y="91" width="5.6" height="2.2" fill="#e67530"/>
<ellipse cx="244.1" cy="91" rx="2.8" ry="1.7" fill="#f49b65"/>
<ellipse cx="248.9" cy="98.1" rx="2.8" ry="1.7" fill="#e67530"/>
<rect x="246.1" y="95.8" width="5.6" height="2.2" fill="#e67530"/>
<ellipse cx="248.9" cy="95.8" rx="2.8" ry="1.7" fill="#f49b65"/>
<polygon points="239,140.4 249.4,149.7 249.4,159.8 239,150.5" fill="#6ba9e4"/>
<polygon points="249,149.7 257.4,146.3 257.4,156.4 249,159.8" fill="#5c9ad4"/>
<polygon points="239,150 249.4,159.3 249.4,168.2 239,158.9" fill="#f1823e"/>
<polygon points="249,159.3 257.4,155.9 257.4,164.8 249,168.2" fill="#e2732f"/>
<polygon points="239,140.4 249,149.7 257.4,146.3 247.4,137" fill="#75afe5"/>
<ellipse cx="245.7" cy="141" rx="2.8" ry="1.7" fill="#5e9dd9"/>
<rect x="242.9" y="138.8" width="5.6" height="2.2" fill="#5e9dd9"/>
<ellipse cx="245.7" cy="138.8" rx="2.8" ry="1.7" fill="#89bbe9"/>
<ellipse cx="250.7" cy="145.7" rx="2.8" ry="1.7" fill="#5e9dd9"/>
<rect x="247.9" y="143.5" width="5.6" height="2.2" fill="#5e9dd9"/>
<ellipse cx="250.7" cy="143.5" rx="2.8" ry="1.7" fill="#89bbe9"/>
</g>
<g transform="translate(713.9 46) scale(0.94) translate(-46.5 -46)">
<polygon points="46.5,48.6 57.6,59.3 57.6,68.1 46.5,57.4" fill="#48b353"/>
<polygon points="57.2,59.3 63.7,57.5 63.7,66.3 57.2,68.1" fill="#38a444"/>
<polygon points="46.5,56.9 57.6,67.6 57.6,77.6 46.5,66.9" fill="#f1823e"/>
<polygon points="57.2,67.6 63.7,65.8 63.7,75.8 57.2,77.6" fill="#e2732f"/>
<polygon points="46.5,66.4 57.6,77.1 57.6,81.2 46.5,70.5" fill="#379944"/>
<polygon points="57.2,77.1 63.7,75.3 63.7,79.4 57.2,81.2" fill="#278935"/>
<polygon points="46.5,70 57.6,80.7 57.6,85.3 46.5,74.6" fill="#b7de48"/>
<polygon points="57.2,80.7 63.7,78.9 63.7,83.5 57.2,85.3" fill="#a7cf38"/>
<polygon points="46.5,74.1 57.6,84.8 57.6,103.2 46.5,92.5" fill="#6ba9e4"/>
<polygon points="57.2,84.8 63.7,83 63.7,101.4 57.2,103.2" fill="#5c9ad4"/>
<polygon points="46.5,48.6 57.2,59.3 63.7,57.5 53,46.8" fill="#53b85e"/>
<ellipse cx="52.4" cy="50.4" rx="2.8" ry="1.7" fill="#3aa745"/>
<rect x="49.6" y="48.1" width="5.6" height="2.2" fill="#3aa745"/>
<ellipse cx="52.4" cy="48.1" rx="2.8" ry="1.7" fill="#6dc276"/>
<ellipse cx="57.8" cy="55.7" rx="2.8" ry="1.7" fill="#3aa745"/>
<rect x="55" y="53.5" width="5.6" height="2.2" fill="#3aa745"/>
<ellipse cx="57.8" cy="53.5" rx="2.8" ry="1.7" fill="#6dc276"/>
</g>
<g transform="translate(735.5 29) scale(0.96) translate(-69.4 -29)">
<polygon points="69.4,31.2 78.1,39.5 78.1,45 69.4,36.7" fill="#b7de48"/>
<polygon points="77.7,39.5 84.8,37.4 84.8,42.9 77.7,45" fill="#a7cf38"/>
<polygon points="69.4,36.2 78.1,44.5 78.1,53.3 69.4,45" fill="#6ba9e4"/>
<polygon points="77.7,44.5 84.8,42.4 84.8,51.2 77.7,53.3" fill="#5c9ad4"/>
<polygon points="69.4,44.5 78.1,52.8 78.1,62.2 69.4,53.9" fill="#f1823e"/>
<polygon points="77.7,52.8 84.8,50.7 84.8,60.1 77.7,62.2" fill="#e2732f"/>
<polygon points="69.4,53.4 78.1,61.7 78.1,65.9 69.4,57.6" fill="#379944"/>
<polygon points="77.7,61.7 84.8,59.6 84.8,63.8 77.7,65.9" fill="#278935"/>
<polygon points="69.4,31.2 77.7,39.5 84.8,37.4 76.5,29.1" fill="#bbe053"/>
<ellipse cx="75" cy="32.2" rx="2.6" ry="1.6" fill="#abd33a"/>
<rect x="72.4" y="30.1" width="5.2" height="2.1" fill="#abd33a"/>
<ellipse cx="75" cy="30.1" rx="2.6" ry="1.6" fill="#c5e56d"/>
<ellipse cx="79.2" cy="36.4" rx="2.6" ry="1.6" fill="#abd33a"/>
<rect x="76.6" y="34.3" width="5.2" height="2.1" fill="#abd33a"/>
<ellipse cx="79.2" cy="34.3" rx="2.6" ry="1.6" fill="#c5e56d"/>
</g>
<polygon points="801.4,20.2 803.4,24 803.4,28.5 801.4,24.7" fill="#379944"/>
<polygon points="803,24 816.9,19.8 816.9,24.3 803,28.5" fill="#278935"/>
<polygon points="801.4,24.2 803.4,28 803.4,42 801.4,38.2" fill="#6ba9e4"/>
<polygon points="803,28 816.9,23.8 816.9,37.8 803,42" fill="#5c9ad4"/>
<polygon points="801.4,20.2 803,24 816.9,19.8 815.3,16" fill="#449f50"/>
<ellipse cx="805.7" cy="21" rx="1.8" ry="1.1" fill="#288c36"/>
<rect x="803.8" y="19.6" width="3.7" height="1.5" fill="#288c36"/>
<ellipse cx="805.7" cy="19.6" rx="1.8" ry="1.1" fill="#5fad6a"/>
<ellipse cx="812.6" cy="19" rx="1.8" ry="1.1" fill="#288c36"/>
<rect x="810.8" y="17.5" width="3.7" height="1.5" fill="#288c36"/>
<ellipse cx="812.6" cy="17.5" rx="1.8" ry="1.1" fill="#5fad6a"/>
<polygon points="852.5,42.4 854.4,46 854.4,51.5 852.5,47.9" fill="#379944"/>
<polygon points="854,46 867.2,42 867.2,47.5 854,51.5" fill="#278935"/>
<polygon points="852.5,47.4 854.4,51 854.4,59.5 852.5,55.9" fill="#6ba9e4"/>
<polygon points="854,51 867.2,47 867.2,55.5 854,59.5" fill="#5c9ad4"/>
<polygon points="852.5,55.4 854.4,59 854.4,63.5 852.5,59.9" fill="#b7de48"/>
<polygon points="854,59 867.2,55 867.2,59.5 854,63.5" fill="#a7cf38"/>
<polygon points="852.5,59.4 854.4,63 854.4,66.5 852.5,62.9" fill="#379944"/>
<polygon points="854,63 867.2,59 867.2,62.5 854,66.5" fill="#278935"/>
<polygon points="852.5,62.4 854.4,66 854.4,74 852.5,70.4" fill="#f1823e"/>
<polygon points="854,66 867.2,62 867.2,70 854,74" fill="#e2732f"/>
<polygon points="772,35.6 780.4,42 780.4,47 772,40.6" fill="#6ba9e4"/>
<polygon points="780,42 789,39.3 789,44.3 780,47" fill="#5c9ad4"/>
<polygon points="772,35.6 780,42 789,39.3 781,32.9" fill="#75afe5"/>
<ellipse cx="778.5" cy="35.9" rx="2.3" ry="1.4" fill="#5e9dd9"/>
<rect x="776.2" y="34" width="4.5" height="1.8" fill="#5e9dd9"/>
<ellipse cx="778.5" cy="34" rx="2.3" ry="1.4" fill="#89bbe9"/>
<ellipse cx="782.5" cy="39" rx="2.3" ry="1.4" fill="#5e9dd9"/>
<rect x="780.2" y="37.2" width="4.5" height="1.8" fill="#5e9dd9"/>
<ellipse cx="782.5" cy="37.2" rx="2.3" ry="1.4" fill="#89bbe9"/>
<polygon points="786.7,28.7 794.4,36 794.4,41 786.7,33.7" fill="#379944"/>
<polygon points="794,36 801.4,33 801.4,38 794,41" fill="#278935"/>
<polygon points="786.7,28.7 794,36 801.4,33 794.1,25.7" fill="#449f50"/>
<ellipse cx="792.2" cy="29" rx="2.3" ry="1.4" fill="#288c36"/>
<rect x="790" y="27.2" width="4.5" height="1.8" fill="#288c36"/>
<ellipse cx="792.2" cy="27.2" rx="2.3" ry="1.4" fill="#5fad6a"/>
<ellipse cx="795.9" cy="32.7" rx="2.3" ry="1.4" fill="#288c36"/>
<rect x="793.6" y="30.9" width="4.5" height="1.8" fill="#288c36"/>
<ellipse cx="795.9" cy="30.9" rx="2.3" ry="1.4" fill="#5fad6a"/>
<polygon points="764.2,71.2 772.4,79 772.4,82.5 764.2,74.7" fill="#b7de48"/>
<polygon points="772,79 779.7,76.7 779.7,80.2 772,82.5" fill="#a7cf38"/>
<polygon points="764.2,74.2 772.4,82 772.4,89.5 764.2,81.7" fill="#6ba9e4"/>
<polygon points="772,82 779.7,79.7 779.7,87.2 772,89.5" fill="#5c9ad4"/>
<polygon points="764.2,81.2 772.4,89 772.4,93.5 764.2,85.7" fill="#379944"/>
<polygon points="772,89 779.7,86.7 779.7,91.2 772,93.5" fill="#278935"/>
<polygon points="764.2,85.2 772.4,93 772.4,96.5 764.2,88.7" fill="#b7de48"/>
<polygon points="772,93 779.7,90.7 779.7,94.2 772,96.5" fill="#a7cf38"/>
<polygon points="764.2,88.2 772.4,96 772.4,105.5 764.2,97.7" fill="#f1823e"/>
<polygon points="772,96 779.7,93.7 779.7,103.2 772,105.5" fill="#e2732f"/>
<polygon points="764.2,97.2 772.4,105 772.4,113 764.2,105.2" fill="#6ba9e4"/>
<polygon points="772,105 779.7,102.7 779.7,110.7 772,113" fill="#5c9ad4"/>
<polygon points="756.5,64 764,61 790.5,73 790.5,79 770,80 756.5,70" fill="#b8e040"/>
<polygon points="760.3,51.8 773,74.8 773,80.5 760.3,57.5" fill="#2b883b"/>
<polygon points="773,74.8 832,53.3 832,59 773,80.5" fill="#277934"/>
<polygon points="760.3,52.5 816.9,31 832,54 773,75.5" fill="#2f9440"/>
<ellipse cx="765.4" cy="54" rx="2.6" ry="1.6" fill="#257332"/>
<rect x="762.8" y="52.5" width="5.3" height="1.6" fill="#257332"/>
<ellipse cx="765.4" cy="52.5" rx="2.6" ry="1.6" fill="#59a966"/>
<ellipse cx="768.6" cy="59.8" rx="2.6" ry="1.6" fill="#257332"/>
<rect x="766" y="58.2" width="5.3" height="1.6" fill="#257332"/>
<ellipse cx="768.6" cy="58.2" rx="2.6" ry="1.6" fill="#59a966"/>
<ellipse cx="771.8" cy="65.5" rx="2.6" ry="1.6" fill="#257332"/>
<rect x="769.1" y="64" width="5.3" height="1.6" fill="#257332"/>
<ellipse cx="771.8" cy="64" rx="2.6" ry="1.6" fill="#59a966"/>
<ellipse cx="775" cy="71.3" rx="2.6" ry="1.6" fill="#257332"/>
<rect x="772.3" y="69.7" width="5.3" height="1.6" fill="#257332"/>
<ellipse cx="775" cy="69.7" rx="2.6" ry="1.6" fill="#59a966"/>
<ellipse cx="772.5" cy="51.3" rx="2.6" ry="1.6" fill="#257332"/>
<rect x="769.9" y="49.8" width="5.3" height="1.6" fill="#257332"/>
<ellipse cx="772.5" cy="49.8" rx="2.6" ry="1.6" fill="#59a966"/>
<ellipse cx="775.7" cy="57.1" rx="2.6" ry="1.6" fill="#257332"/>
<rect x="773" y="55.5" width="5.3" height="1.6" fill="#257332"/>
<ellipse cx="775.7" cy="55.5" rx="2.6" ry="1.6" fill="#59a966"/>
<ellipse cx="778.8" cy="62.8" rx="2.6" ry="1.6" fill="#257332"/>
<rect x="776.2" y="61.3" width="5.3" height="1.6" fill="#257332"/>
<ellipse cx="778.8" cy="61.3" rx="2.6" ry="1.6" fill="#59a966"/>
<ellipse cx="782" cy="68.6" rx="2.6" ry="1.6" fill="#257332"/>
<rect x="779.4" y="67" width="5.3" height="1.6" fill="#257332"/>
<ellipse cx="782" cy="67" rx="2.6" ry="1.6" fill="#59a966"/>
<ellipse cx="779.6" cy="48.7" rx="2.6" ry="1.6" fill="#257332"/>
<rect x="776.9" y="47.1" width="5.3" height="1.6" fill="#257332"/>
<ellipse cx="779.6" cy="47.1" rx="2.6" ry="1.6" fill="#59a966"/>
<ellipse cx="782.8" cy="54.4" rx="2.6" ry="1.6" fill="#257332"/>
<rect x="780.1" y="52.8" width="5.3" height="1.6" fill="#257332"/>
<ellipse cx="782.8" cy="52.8" rx="2.6" ry="1.6" fill="#59a966"/>
<ellipse cx="785.9" cy="60.2" rx="2.6" ry="1.6" fill="#257332"/>
<rect x="783.3" y="58.6" width="5.3" height="1.6" fill="#257332"/>
<ellipse cx="785.9" cy="58.6" rx="2.6" ry="1.6" fill="#59a966"/>
<ellipse cx="789.1" cy="65.9" rx="2.6" ry="1.6" fill="#257332"/>
<rect x="786.5" y="64.3" width="5.3" height="1.6" fill="#257332"/>
<ellipse cx="789.1" cy="64.3" rx="2.6" ry="1.6" fill="#59a966"/>
<ellipse cx="786.6" cy="46" rx="2.6" ry="1.6" fill="#257332"/>
<rect x="784" y="44.4" width="5.3" height="1.6" fill="#257332"/>
<ellipse cx="786.6" cy="44.4" rx="2.6" ry="1.6" fill="#59a966"/>
<ellipse cx="789.8" cy="51.7" rx="2.6" ry="1.6" fill="#257332"/>
<rect x="787.2" y="50.1" width="5.3" height="1.6" fill="#257332"/>
<ellipse cx="789.8" cy="50.1" rx="2.6" ry="1.6" fill="#59a966"/>
<ellipse cx="793" cy="57.5" rx="2.6" ry="1.6" fill="#257332"/>
<rect x="790.4" y="55.9" width="5.3" height="1.6" fill="#257332"/>
<ellipse cx="793" cy="55.9" rx="2.6" ry="1.6" fill="#59a966"/>
<ellipse cx="796.2" cy="63.2" rx="2.6" ry="1.6" fill="#257332"/>
<rect x="793.5" y="61.6" width="5.3" height="1.6" fill="#257332"/>
<ellipse cx="796.2" cy="61.6" rx="2.6" ry="1.6" fill="#59a966"/>
<ellipse cx="793.7" cy="43.3" rx="2.6" ry="1.6" fill="#257332"/>
<rect x="791.1" y="41.7" width="5.3" height="1.6" fill="#257332"/>
<ellipse cx="793.7" cy="41.7" rx="2.6" ry="1.6" fill="#59a966"/>
<ellipse cx="796.9" cy="49" rx="2.6" ry="1.6" fill="#257332"/>
<rect x="794.3" y="47.5" width="5.3" height="1.6" fill="#257332"/>
<ellipse cx="796.9" cy="47.5" rx="2.6" ry="1.6" fill="#59a966"/>
<ellipse cx="800.1" cy="54.8" rx="2.6" ry="1.6" fill="#257332"/>
<rect x="797.4" y="53.2" width="5.3" height="1.6" fill="#257332"/>
<ellipse cx="800.1" cy="53.2" rx="2.6" ry="1.6" fill="#59a966"/>
<ellipse cx="803.2" cy="60.5" rx="2.6" ry="1.6" fill="#257332"/>
<rect x="800.6" y="59" width="5.3" height="1.6" fill="#257332"/>
<ellipse cx="803.2" cy="59" rx="2.6" ry="1.6" fill="#59a966"/>
<ellipse cx="800.8" cy="40.6" rx="2.6" ry="1.6" fill="#257332"/>
<rect x="798.2" y="39" width="5.3" height="1.6" fill="#257332"/>
<ellipse cx="800.8" cy="39" rx="2.6" ry="1.6" fill="#59a966"/>
<ellipse cx="804" cy="46.3" rx="2.6" ry="1.6" fill="#257332"/>
<rect x="801.3" y="44.8" width="5.3" height="1.6" fill="#257332"/>
<ellipse cx="804" cy="44.8" rx="2.6" ry="1.6" fill="#59a966"/>
<ellipse cx="807.1" cy="52.1" rx="2.6" ry="1.6" fill="#257332"/>
<rect x="804.5" y="50.5" width="5.3" height="1.6" fill="#257332"/>
<ellipse cx="807.1" cy="50.5" rx="2.6" ry="1.6" fill="#59a966"/>
<ellipse cx="810.3" cy="57.8" rx="2.6" ry="1.6" fill="#257332"/>
<rect x="807.7" y="56.3" width="5.3" height="1.6" fill="#257332"/>
<ellipse cx="810.3" cy="56.3" rx="2.6" ry="1.6" fill="#59a966"/>
<ellipse cx="807.9" cy="37.9" rx="2.6" ry="1.6" fill="#257332"/>
<rect x="805.2" y="36.3" width="5.3" height="1.6" fill="#257332"/>
<ellipse cx="807.9" cy="36.3" rx="2.6" ry="1.6" fill="#59a966"/>
<ellipse cx="811.1" cy="43.7" rx="2.6" ry="1.6" fill="#257332"/>
<rect x="808.4" y="42.1" width="5.3" height="1.6" fill="#257332"/>
<ellipse cx="811.1" cy="42.1" rx="2.6" ry="1.6" fill="#59a966"/>
<ellipse cx="814.2" cy="49.4" rx="2.6" ry="1.6" fill="#257332"/>
<rect x="811.6" y="47.8" width="5.3" height="1.6" fill="#257332"/>
<ellipse cx="814.2" cy="47.8" rx="2.6" ry="1.6" fill="#59a966"/>
<ellipse cx="817.4" cy="55.2" rx="2.6" ry="1.6" fill="#257332"/>
<rect x="814.8" y="53.6" width="5.3" height="1.6" fill="#257332"/>
<ellipse cx="817.4" cy="53.6" rx="2.6" ry="1.6" fill="#59a966"/>
<ellipse cx="814.9" cy="35.2" rx="2.6" ry="1.6" fill="#257332"/>
<rect x="812.3" y="33.6" width="5.3" height="1.6" fill="#257332"/>
<ellipse cx="814.9" cy="33.6" rx="2.6" ry="1.6" fill="#59a966"/>
<ellipse cx="818.1" cy="41" rx="2.6" ry="1.6" fill="#257332"/>
<rect x="815.5" y="39.4" width="5.3" height="1.6" fill="#257332"/>
<ellipse cx="818.1" cy="39.4" rx="2.6" ry="1.6" fill="#59a966"/>
<ellipse cx="821.3" cy="46.7" rx="2.6" ry="1.6" fill="#257332"/>
<rect x="818.7" y="45.1" width="5.3" height="1.6" fill="#257332"/>
<ellipse cx="821.3" cy="45.1" rx="2.6" ry="1.6" fill="#59a966"/>
<ellipse cx="824.5" cy="52.5" rx="2.6" ry="1.6" fill="#257332"/>
<rect x="821.8" y="50.9" width="5.3" height="1.6" fill="#257332"/>
<ellipse cx="824.5" cy="50.9" rx="2.6" ry="1.6" fill="#59a966"/>
<polygon points="805.2,27.5 830,55.4 830,61.1 805.2,33.2" fill="#a9ce3b"/>
<polygon points="830,55.4 868,39.3 868,45 830,61.1" fill="#97b834"/>
<polygon points="805.2,28.2 832.3,12 868,40 830,56.1" fill="#b8e040"/>
<ellipse cx="810.6" cy="30.3" rx="2.1" ry="1.3" fill="#90af32"/>
<rect x="808.5" y="29.1" width="4.2" height="1.3" fill="#90af32"/>
<ellipse cx="810.6" cy="29.1" rx="2.1" ry="1.3" fill="#c6e666"/>
<ellipse cx="816.8" cy="37.3" rx="2.1" ry="1.3" fill="#90af32"/>
<rect x="814.7" y="36" width="4.2" height="1.3" fill="#90af32"/>
<ellipse cx="816.8" cy="36" rx="2.1" ry="1.3" fill="#c6e666"/>
<ellipse cx="823" cy="44.3" rx="2.1" ry="1.3" fill="#90af32"/>
<rect x="820.9" y="43" width="4.2" height="1.3" fill="#90af32"/>
<ellipse cx="823" cy="43" rx="2.1" ry="1.3" fill="#c6e666"/>
<ellipse cx="829.2" cy="51.3" rx="2.1" ry="1.3" fill="#90af32"/>
<rect x="827.1" y="50" width="4.2" height="1.3" fill="#90af32"/>
<ellipse cx="829.2" cy="50" rx="2.1" ry="1.3" fill="#c6e666"/>
<ellipse cx="815.1" cy="27.6" rx="2.1" ry="1.3" fill="#90af32"/>
<rect x="813" y="26.4" width="4.2" height="1.3" fill="#90af32"/>
<ellipse cx="815.1" cy="26.4" rx="2.1" ry="1.3" fill="#c6e666"/>
<ellipse cx="821.3" cy="34.6" rx="2.1" ry="1.3" fill="#90af32"/>
<rect x="819.2" y="33.3" width="4.2" height="1.3" fill="#90af32"/>
<ellipse cx="821.3" cy="33.3" rx="2.1" ry="1.3" fill="#c6e666"/>
<ellipse cx="827.5" cy="41.6" rx="2.1" ry="1.3" fill="#90af32"/>
<rect x="825.4" y="40.3" width="4.2" height="1.3" fill="#90af32"/>
<ellipse cx="827.5" cy="40.3" rx="2.1" ry="1.3" fill="#c6e666"/>
<ellipse cx="833.7" cy="48.6" rx="2.1" ry="1.3" fill="#90af32"/>
<rect x="831.6" y="47.3" width="4.2" height="1.3" fill="#90af32"/>
<ellipse cx="833.7" cy="47.3" rx="2.1" ry="1.3" fill="#c6e666"/>
<ellipse cx="819.6" cy="24.9" rx="2.1" ry="1.3" fill="#90af32"/>
<rect x="817.5" y="23.7" width="4.2" height="1.3" fill="#90af32"/>
<ellipse cx="819.6" cy="23.7" rx="2.1" ry="1.3" fill="#c6e666"/>
<ellipse cx="825.8" cy="31.9" rx="2.1" ry="1.3" fill="#90af32"/>
<rect x="823.7" y="30.6" width="4.2" height="1.3" fill="#90af32"/>
<ellipse cx="825.8" cy="30.6" rx="2.1" ry="1.3" fill="#c6e666"/>
<ellipse cx="832" cy="38.9" rx="2.1" ry="1.3" fill="#90af32"/>
<rect x="829.9" y="37.6" width="4.2" height="1.3" fill="#90af32"/>
<ellipse cx="832" cy="37.6" rx="2.1" ry="1.3" fill="#c6e666"/>
<ellipse cx="838.2" cy="45.9" rx="2.1" ry="1.3" fill="#90af32"/>
<rect x="836.1" y="44.6" width="4.2" height="1.3" fill="#90af32"/>
<ellipse cx="838.2" cy="44.6" rx="2.1" ry="1.3" fill="#c6e666"/>
<ellipse cx="824.1" cy="22.2" rx="2.1" ry="1.3" fill="#90af32"/>
<rect x="822" y="21" width="4.2" height="1.3" fill="#90af32"/>
<ellipse cx="824.1" cy="21" rx="2.1" ry="1.3" fill="#c6e666"/>
<ellipse cx="830.3" cy="29.2" rx="2.1" ry="1.3" fill="#90af32"/>
<rect x="828.2" y="27.9" width="4.2" height="1.3" fill="#90af32"/>
<ellipse cx="830.3" cy="27.9" rx="2.1" ry="1.3" fill="#c6e666"/>
<ellipse cx="836.5" cy="36.2" rx="2.1" ry="1.3" fill="#90af32"/>
<rect x="834.4" y="34.9" width="4.2" height="1.3" fill="#90af32"/>
<ellipse cx="836.5" cy="34.9" rx="2.1" ry="1.3" fill="#c6e666"/>
<ellipse cx="842.7" cy="43.2" rx="2.1" ry="1.3" fill="#90af32"/>
<rect x="840.6" y="41.9" width="4.2" height="1.3" fill="#90af32"/>
<ellipse cx="842.7" cy="41.9" rx="2.1" ry="1.3" fill="#c6e666"/>
<ellipse cx="828.6" cy="19.5" rx="2.1" ry="1.3" fill="#90af32"/>
<rect x="826.5" y="18.3" width="4.2" height="1.3" fill="#90af32"/>
<ellipse cx="828.6" cy="18.3" rx="2.1" ry="1.3" fill="#c6e666"/>
<ellipse cx="834.8" cy="26.5" rx="2.1" ry="1.3" fill="#90af32"/>
<rect x="832.7" y="25.2" width="4.2" height="1.3" fill="#90af32"/>
<ellipse cx="834.8" cy="25.2" rx="2.1" ry="1.3" fill="#c6e666"/>
<ellipse cx="841" cy="33.5" rx="2.1" ry="1.3" fill="#90af32"/>
<rect x="838.9" y="32.2" width="4.2" height="1.3" fill="#90af32"/>
<ellipse cx="841" cy="32.2" rx="2.1" ry="1.3" fill="#c6e666"/>
<ellipse cx="847.2" cy="40.5" rx="2.1" ry="1.3" fill="#90af32"/>
<rect x="845.1" y="39.2" width="4.2" height="1.3" fill="#90af32"/>
<ellipse cx="847.2" cy="39.2" rx="2.1" ry="1.3" fill="#c6e666"/>
<ellipse cx="833.1" cy="16.8" rx="2.1" ry="1.3" fill="#90af32"/>
<rect x="831" y="15.6" width="4.2" height="1.3" fill="#90af32"/>
<ellipse cx="833.1" cy="15.6" rx="2.1" ry="1.3" fill="#c6e666"/>
<ellipse cx="839.3" cy="23.8" rx="2.1" ry="1.3" fill="#90af32"/>
<rect x="837.2" y="22.5" width="4.2" height="1.3" fill="#90af32"/>
<ellipse cx="839.3" cy="22.5" rx="2.1" ry="1.3" fill="#c6e666"/>
<ellipse cx="845.5" cy="30.8" rx="2.1" ry="1.3" fill="#90af32"/>
<rect x="843.4" y="29.5" width="4.2" height="1.3" fill="#90af32"/>
<ellipse cx="845.5" cy="29.5" rx="2.1" ry="1.3" fill="#c6e666"/>
<ellipse cx="851.7" cy="37.8" rx="2.1" ry="1.3" fill="#90af32"/>
<rect x="849.6" y="36.5" width="4.2" height="1.3" fill="#90af32"/>
<ellipse cx="851.7" cy="36.5" rx="2.1" ry="1.3" fill="#c6e666"/>
<polygon points="803,56.8 806.4,64 806.4,72.5 803,65.3" fill="#f1823e"/>
<polygon points="806,64 832.3,61.4 832.3,69.9 806,72.5" fill="#e2732f"/>
<polygon points="803,64.8 806.4,72 806.4,80 803,72.8" fill="#6ba9e4"/>
<polygon points="806,72 832.3,69.4 832.3,77.4 806,80" fill="#5c9ad4"/>
<polygon points="810.7,82.7 812.4,84 812.4,92 810.7,90.7" fill="#6ba9e4"/>
<polygon points="812,84 816.9,82.5 816.9,90.5 812,92" fill="#5c9ad4"/>
<polygon points="830.8,92.7 833.4,98 833.4,116 830.8,110.7" fill="#6ba9e4"/>
<polygon points="833,98 849.4,93.1 849.4,111.1 833,116" fill="#5c9ad4"/>
<polygon points="803,73.3 821,100.3 821,105 803,78" fill="#a9ce3b"/>
<polygon points="821,100.3 844.7,87.3 844.7,92 821,105" fill="#97b834"/>
<polygon points="803,74 826,64 844.7,88 821,101" fill="#b8e040"/>
<ellipse cx="808.1" cy="76.1" rx="2.5" ry="1.6" fill="#90af32"/>
<rect x="805.6" y="74.6" width="5" height="1.5" fill="#90af32"/>
<ellipse cx="808.1" cy="74.6" rx="2.5" ry="1.6" fill="#c6e666"/>
<ellipse cx="812.6" cy="82.9" rx="2.5" ry="1.6" fill="#90af32"/>
<rect x="810.1" y="81.4" width="5" height="1.5" fill="#90af32"/>
<ellipse cx="812.6" cy="81.4" rx="2.5" ry="1.6" fill="#c6e666"/>
<ellipse cx="817.1" cy="89.6" rx="2.5" ry="1.6" fill="#90af32"/>
<rect x="814.6" y="88.1" width="5" height="1.5" fill="#90af32"/>
<ellipse cx="817.1" cy="88.1" rx="2.5" ry="1.6" fill="#c6e666"/>
<ellipse cx="821.6" cy="96.4" rx="2.5" ry="1.6" fill="#90af32"/>
<rect x="819.1" y="94.9" width="5" height="1.5" fill="#90af32"/>
<ellipse cx="821.6" cy="94.9" rx="2.5" ry="1.6" fill="#c6e666"/>
<ellipse cx="813.9" cy="73.6" rx="2.5" ry="1.6" fill="#90af32"/>
<rect x="811.4" y="72.1" width="5" height="1.5" fill="#90af32"/>
<ellipse cx="813.9" cy="72.1" rx="2.5" ry="1.6" fill="#c6e666"/>
<ellipse cx="818.4" cy="80.4" rx="2.5" ry="1.6" fill="#90af32"/>
<rect x="815.9" y="78.9" width="5" height="1.5" fill="#90af32"/>
<ellipse cx="818.4" cy="78.9" rx="2.5" ry="1.6" fill="#c6e666"/>
<ellipse cx="822.9" cy="87.1" rx="2.5" ry="1.6" fill="#90af32"/>
<rect x="820.4" y="85.6" width="5" height="1.5" fill="#90af32"/>
<ellipse cx="822.9" cy="85.6" rx="2.5" ry="1.6" fill="#c6e666"/>
<ellipse cx="827.4" cy="93.9" rx="2.5" ry="1.6" fill="#90af32"/>
<rect x="824.9" y="92.4" width="5" height="1.5" fill="#90af32"/>
<ellipse cx="827.4" cy="92.4" rx="2.5" ry="1.6" fill="#c6e666"/>
<ellipse cx="819.6" cy="71.1" rx="2.5" ry="1.6" fill="#90af32"/>
<rect x="817.1" y="69.6" width="5" height="1.5" fill="#90af32"/>
<ellipse cx="819.6" cy="69.6" rx="2.5" ry="1.6" fill="#c6e666"/>
<ellipse cx="824.1" cy="77.9" rx="2.5" ry="1.6" fill="#90af32"/>
<rect x="821.6" y="76.4" width="5" height="1.5" fill="#90af32"/>
<ellipse cx="824.1" cy="76.4" rx="2.5" ry="1.6" fill="#c6e666"/>
<ellipse cx="828.6" cy="84.6" rx="2.5" ry="1.6" fill="#90af32"/>
<rect x="826.1" y="83.1" width="5" height="1.5" fill="#90af32"/>
<ellipse cx="828.6" cy="83.1" rx="2.5" ry="1.6" fill="#c6e666"/>
<ellipse cx="833.1" cy="91.4" rx="2.5" ry="1.6" fill="#90af32"/>
<rect x="830.6" y="89.9" width="5" height="1.5" fill="#90af32"/>
<ellipse cx="833.1" cy="89.9" rx="2.5" ry="1.6" fill="#c6e666"/>
<ellipse cx="825.4" cy="68.6" rx="2.5" ry="1.6" fill="#90af32"/>
<rect x="822.9" y="67.1" width="5" height="1.5" fill="#90af32"/>
<ellipse cx="825.4" cy="67.1" rx="2.5" ry="1.6" fill="#c6e666"/>
<ellipse cx="829.9" cy="75.4" rx="2.5" ry="1.6" fill="#90af32"/>
<rect x="827.4" y="73.9" width="5" height="1.5" fill="#90af32"/>
<ellipse cx="829.9" cy="73.9" rx="2.5" ry="1.6" fill="#c6e666"/>
<ellipse cx="834.4" cy="82.1" rx="2.5" ry="1.6" fill="#90af32"/>
<rect x="831.9" y="80.6" width="5" height="1.5" fill="#90af32"/>
<ellipse cx="834.4" cy="80.6" rx="2.5" ry="1.6" fill="#c6e666"/>
<ellipse cx="838.9" cy="88.9" rx="2.5" ry="1.6" fill="#90af32"/>
<rect x="836.4" y="87.4" width="5" height="1.5" fill="#90af32"/>
<ellipse cx="838.9" cy="87.4" rx="2.5" ry="1.6" fill="#c6e666"/>
<polygon points="837.8,52.7 840.4,58 840.4,67.5 837.8,62.2" fill="#48b353"/>
<polygon points="840,58 854,53.8 854,63.3 840,67.5" fill="#38a444"/>
<polygon points="837.8,61.7 840.4,67 840.4,77 837.8,71.7" fill="#6ba9e4"/>
<polygon points="840,67 854,62.8 854,72.8 840,77" fill="#5c9ad4"/>
<polygon points="837.8,52.7 840,58 854,53.8 851.8,48.5" fill="#53b85e"/>
<ellipse cx="842.4" cy="54.3" rx="2.5" ry="1.6" fill="#3aa745"/>
<rect x="839.9" y="52.3" width="5" height="2" fill="#3aa745"/>
<ellipse cx="842.4" cy="52.3" rx="2.5" ry="1.6" fill="#6dc276"/>
<ellipse cx="849.4" cy="52.2" rx="2.5" ry="1.6" fill="#3aa745"/>
<rect x="846.9" y="50.2" width="5" height="2" fill="#3aa745"/>
<ellipse cx="849.4" cy="50.2" rx="2.5" ry="1.6" fill="#6dc276"/>
<polygon points="875.7,104.9 877.4,108 877.4,117.5 875.7,114.4" fill="#f1823e"/>
<polygon points="877,108 895.8,104.2 895.8,113.7 877,117.5" fill="#e2732f"/>
<polygon points="875.7,113.9 877.4,117 877.4,126.5 875.7,123.4" fill="#48b353"/>
<polygon points="877,117 895.8,113.2 895.8,122.7 877,126.5" fill="#38a444"/>
<polygon points="875.7,122.9 877.4,126 877.4,129 875.7,125.9" fill="#6ba9e4"/>
<polygon points="877,126 895.8,122.2 895.8,125.2 877,129" fill="#5c9ad4"/>
<polygon points="838.5,81.7 864.9,109.3 864.9,114.5 838.5,86.9" fill="#a9ce3b"/>
<polygon points="864.9,109.3 896.6,97.3 896.6,102.5 864.9,114.5" fill="#97b834"/>
<polygon points="838.5,82.4 866.4,70 896.6,98 864.9,110" fill="#b8e040"/>
<ellipse cx="844.1" cy="84.8" rx="2" ry="1.3" fill="#90af32"/>
<rect x="842.1" y="83.6" width="4.1" height="1.2" fill="#90af32"/>
<ellipse cx="844.1" cy="83.6" rx="2" ry="1.3" fill="#c6e666"/>
<ellipse cx="850.7" cy="91.7" rx="2" ry="1.3" fill="#90af32"/>
<rect x="848.7" y="90.5" width="4.1" height="1.2" fill="#90af32"/>
<ellipse cx="850.7" cy="90.5" rx="2" ry="1.3" fill="#c6e666"/>
<ellipse cx="857.3" cy="98.6" rx="2" ry="1.3" fill="#90af32"/>
<rect x="855.3" y="97.4" width="4.1" height="1.2" fill="#90af32"/>
<ellipse cx="857.3" cy="97.4" rx="2" ry="1.3" fill="#c6e666"/>
<ellipse cx="863.9" cy="105.5" rx="2" ry="1.3" fill="#90af32"/>
<rect x="861.9" y="104.3" width="4.1" height="1.2" fill="#90af32"/>
<ellipse cx="863.9" cy="104.3" rx="2" ry="1.3" fill="#c6e666"/>
<ellipse cx="848.8" cy="82.8" rx="2" ry="1.3" fill="#90af32"/>
<rect x="846.7" y="81.5" width="4.1" height="1.2" fill="#90af32"/>
<ellipse cx="848.8" cy="81.5" rx="2" ry="1.3" fill="#c6e666"/>
<ellipse cx="855.4" cy="89.7" rx="2" ry="1.3" fill="#90af32"/>
<rect x="853.3" y="88.4" width="4.1" height="1.2" fill="#90af32"/>
<ellipse cx="855.4" cy="88.4" rx="2" ry="1.3" fill="#c6e666"/>
<ellipse cx="862" cy="96.6" rx="2" ry="1.3" fill="#90af32"/>
<rect x="859.9" y="95.3" width="4.1" height="1.2" fill="#90af32"/>
<ellipse cx="862" cy="95.3" rx="2" ry="1.3" fill="#c6e666"/>
<ellipse cx="868.6" cy="103.5" rx="2" ry="1.3" fill="#90af32"/>
<rect x="866.5" y="102.2" width="4.1" height="1.2" fill="#90af32"/>
<ellipse cx="868.6" cy="102.2" rx="2" ry="1.3" fill="#c6e666"/>
<ellipse cx="853.4" cy="80.7" rx="2" ry="1.3" fill="#90af32"/>
<rect x="851.4" y="79.5" width="4.1" height="1.2" fill="#90af32"/>
<ellipse cx="853.4" cy="79.5" rx="2" ry="1.3" fill="#c6e666"/>
<ellipse cx="860" cy="87.6" rx="2" ry="1.3" fill="#90af32"/>
<rect x="858" y="86.4" width="4.1" height="1.2" fill="#90af32"/>
<ellipse cx="860" cy="86.4" rx="2" ry="1.3" fill="#c6e666"/>
<ellipse cx="866.6" cy="94.5" rx="2" ry="1.3" fill="#90af32"/>
<rect x="864.6" y="93.3" width="4.1" height="1.2" fill="#90af32"/>
<ellipse cx="866.6" cy="93.3" rx="2" ry="1.3" fill="#c6e666"/>
<ellipse cx="873.2" cy="101.4" rx="2" ry="1.3" fill="#90af32"/>
<rect x="871.2" y="100.2" width="4.1" height="1.2" fill="#90af32"/>
<ellipse cx="873.2" cy="100.2" rx="2" ry="1.3" fill="#c6e666"/>
<ellipse cx="858.1" cy="78.6" rx="2" ry="1.3" fill="#90af32"/>
<rect x="856" y="77.4" width="4.1" height="1.2" fill="#90af32"/>
<ellipse cx="858.1" cy="77.4" rx="2" ry="1.3" fill="#c6e666"/>
<ellipse cx="864.7" cy="85.5" rx="2" ry="1.3" fill="#90af32"/>
<rect x="862.6" y="84.3" width="4.1" height="1.2" fill="#90af32"/>
<ellipse cx="864.7" cy="84.3" rx="2" ry="1.3" fill="#c6e666"/>
<ellipse cx="871.3" cy="92.4" rx="2" ry="1.3" fill="#90af32"/>
<rect x="869.2" y="91.2" width="4.1" height="1.2" fill="#90af32"/>
<ellipse cx="871.3" cy="91.2" rx="2" ry="1.3" fill="#c6e666"/>
<ellipse cx="877.9" cy="99.3" rx="2" ry="1.3" fill="#90af32"/>
<rect x="875.8" y="98.1" width="4.1" height="1.2" fill="#90af32"/>
<ellipse cx="877.9" cy="98.1" rx="2" ry="1.3" fill="#c6e666"/>
<ellipse cx="862.7" cy="76.5" rx="2" ry="1.3" fill="#90af32"/>
<rect x="860.7" y="75.3" width="4.1" height="1.2" fill="#90af32"/>
<ellipse cx="862.7" cy="75.3" rx="2" ry="1.3" fill="#c6e666"/>
<ellipse cx="869.3" cy="83.4" rx="2" ry="1.3" fill="#90af32"/>
<rect x="867.3" y="82.2" width="4.1" height="1.2" fill="#90af32"/>
<ellipse cx="869.3" cy="82.2" rx="2" ry="1.3" fill="#c6e666"/>
<ellipse cx="875.9" cy="90.3" rx="2" ry="1.3" fill="#90af32"/>
<rect x="873.9" y="89.1" width="4.1" height="1.2" fill="#90af32"/>
<ellipse cx="875.9" cy="89.1" rx="2" ry="1.3" fill="#c6e666"/>
<ellipse cx="882.5" cy="97.2" rx="2" ry="1.3" fill="#90af32"/>
<rect x="880.5" y="96" width="4.1" height="1.2" fill="#90af32"/>
<ellipse cx="882.5" cy="96" rx="2" ry="1.3" fill="#c6e666"/>
<ellipse cx="867.4" cy="74.5" rx="2" ry="1.3" fill="#90af32"/>
<rect x="865.3" y="73.3" width="4.1" height="1.2" fill="#90af32"/>
<ellipse cx="867.4" cy="73.3" rx="2" ry="1.3" fill="#c6e666"/>
<ellipse cx="874" cy="81.4" rx="2" ry="1.3" fill="#90af32"/>
<rect x="871.9" y="80.2" width="4.1" height="1.2" fill="#90af32"/>
<ellipse cx="874" cy="80.2" rx="2" ry="1.3" fill="#c6e666"/>
<ellipse cx="880.6" cy="88.3" rx="2" ry="1.3" fill="#90af32"/>
<rect x="878.5" y="87.1" width="4.1" height="1.2" fill="#90af32"/>
<ellipse cx="880.6" cy="87.1" rx="2" ry="1.3" fill="#c6e666"/>
<ellipse cx="887.2" cy="95.2" rx="2" ry="1.3" fill="#90af32"/>
<rect x="885.1" y="94" width="4.1" height="1.2" fill="#90af32"/>
<ellipse cx="887.2" cy="94" rx="2" ry="1.3" fill="#c6e666"/>
<polygon points="894.3,88.3 901.4,95 901.4,105 894.3,98.3" fill="#f1823e"/>
<polygon points="901,95 909.8,91 909.8,101 901,105" fill="#e2732f"/>
<polygon points="894.3,88.3 901,95 909.8,91 903.1,84.3" fill="#f28a4b"/>
<ellipse cx="899.9" cy="90.7" rx="2.1" ry="1.3" fill="#e67530"/>
<rect x="897.7" y="89" width="4.2" height="1.7" fill="#e67530"/>
<ellipse cx="899.9" cy="89" rx="2.1" ry="1.3" fill="#f49b65"/>
<ellipse cx="904.2" cy="88.7" rx="2.1" ry="1.3" fill="#e67530"/>
<rect x="902.1" y="87" width="4.2" height="1.7" fill="#e67530"/>
<ellipse cx="904.2" cy="87" rx="2.1" ry="1.3" fill="#f49b65"/>
<polygon points="776.5,126.3 795,144.3 795,150 776.5,132" fill="#2b883b"/>
<polygon points="795,144.3 840,126.3 840,132 795,150" fill="#277934"/>
<polygon points="776.5,127 820,111 840,127 795,145" fill="#2f9440"/>
<ellipse cx="782.4" cy="127.9" rx="2.6" ry="1.6" fill="#257332"/>
<rect x="779.9" y="126.4" width="5.2" height="1.5" fill="#257332"/>
<ellipse cx="782.4" cy="126.4" rx="2.6" ry="1.6" fill="#59a966"/>
<ellipse cx="787.1" cy="132.4" rx="2.6" ry="1.6" fill="#257332"/>
<rect x="784.5" y="130.9" width="5.2" height="1.5" fill="#257332"/>
<ellipse cx="787.1" cy="130.9" rx="2.6" ry="1.6" fill="#59a966"/>
<ellipse cx="791.7" cy="136.9" rx="2.6" ry="1.6" fill="#257332"/>
<rect x="789.1" y="135.4" width="5.2" height="1.5" fill="#257332"/>
<ellipse cx="791.7" cy="135.4" rx="2.6" ry="1.6" fill="#59a966"/>
<ellipse cx="796.3" cy="141.4" rx="2.6" ry="1.6" fill="#257332"/>
<rect x="793.7" y="139.9" width="5.2" height="1.5" fill="#257332"/>
<ellipse cx="796.3" cy="139.9" rx="2.6" ry="1.6" fill="#59a966"/>
<ellipse cx="789.7" cy="125.2" rx="2.6" ry="1.6" fill="#257332"/>
<rect x="787.1" y="123.7" width="5.2" height="1.5" fill="#257332"/>
<ellipse cx="789.7" cy="123.7" rx="2.6" ry="1.6" fill="#59a966"/>
<ellipse cx="794.3" cy="129.8" rx="2.6" ry="1.6" fill="#257332"/>
<rect x="791.7" y="128.2" width="5.2" height="1.5" fill="#257332"/>
<ellipse cx="794.3" cy="128.2" rx="2.6" ry="1.6" fill="#59a966"/>
<ellipse cx="798.9" cy="134.2" rx="2.6" ry="1.6" fill="#257332"/>
<rect x="796.4" y="132.7" width="5.2" height="1.5" fill="#257332"/>
<ellipse cx="798.9" cy="132.7" rx="2.6" ry="1.6" fill="#59a966"/>
<ellipse cx="803.6" cy="138.8" rx="2.6" ry="1.6" fill="#257332"/>
<rect x="801" y="137.2" width="5.2" height="1.5" fill="#257332"/>
<ellipse cx="803.6" cy="137.2" rx="2.6" ry="1.6" fill="#59a966"/>
<ellipse cx="796.9" cy="122.6" rx="2.6" ry="1.6" fill="#257332"/>
<rect x="794.4" y="121" width="5.2" height="1.5" fill="#257332"/>
<ellipse cx="796.9" cy="121" rx="2.6" ry="1.6" fill="#59a966"/>
<ellipse cx="801.6" cy="127.1" rx="2.6" ry="1.6" fill="#257332"/>
<rect x="799" y="125.5" width="5.2" height="1.5" fill="#257332"/>
<ellipse cx="801.6" cy="125.5" rx="2.6" ry="1.6" fill="#59a966"/>
<ellipse cx="806.2" cy="131.6" rx="2.6" ry="1.6" fill="#257332"/>
<rect x="803.6" y="130" width="5.2" height="1.5" fill="#257332"/>
<ellipse cx="806.2" cy="130" rx="2.6" ry="1.6" fill="#59a966"/>
<ellipse cx="810.8" cy="136.1" rx="2.6" ry="1.6" fill="#257332"/>
<rect x="808.2" y="134.5" width="5.2" height="1.5" fill="#257332"/>
<ellipse cx="810.8" cy="134.5" rx="2.6" ry="1.6" fill="#59a966"/>
<ellipse cx="804.2" cy="119.9" rx="2.6" ry="1.6" fill="#257332"/>
<rect x="801.6" y="118.4" width="5.2" height="1.5" fill="#257332"/>
<ellipse cx="804.2" cy="118.4" rx="2.6" ry="1.6" fill="#59a966"/>
<ellipse cx="808.8" cy="124.4" rx="2.6" ry="1.6" fill="#257332"/>
<rect x="806.2" y="122.9" width="5.2" height="1.5" fill="#257332"/>
<ellipse cx="808.8" cy="122.9" rx="2.6" ry="1.6" fill="#59a966"/>
<ellipse cx="813.4" cy="128.9" rx="2.6" ry="1.6" fill="#257332"/>
<rect x="810.9" y="127.4" width="5.2" height="1.5" fill="#257332"/>
<ellipse cx="813.4" cy="127.4" rx="2.6" ry="1.6" fill="#59a966"/>
<ellipse cx="818.1" cy="133.4" rx="2.6" ry="1.6" fill="#257332"/>
<rect x="815.5" y="131.9" width="5.2" height="1.5" fill="#257332"/>
<ellipse cx="818.1" cy="131.9" rx="2.6" ry="1.6" fill="#59a966"/>
<ellipse cx="811.4" cy="117.2" rx="2.6" ry="1.6" fill="#257332"/>
<rect x="808.9" y="115.7" width="5.2" height="1.5" fill="#257332"/>
<ellipse cx="811.4" cy="115.7" rx="2.6" ry="1.6" fill="#59a966"/>
<ellipse cx="816.1" cy="121.8" rx="2.6" ry="1.6" fill="#257332"/>
<rect x="813.5" y="120.2" width="5.2" height="1.5" fill="#257332"/>
<ellipse cx="816.1" cy="120.2" rx="2.6" ry="1.6" fill="#59a966"/>
<ellipse cx="820.7" cy="126.2" rx="2.6" ry="1.6" fill="#257332"/>
<rect x="818.1" y="124.7" width="5.2" height="1.5" fill="#257332"/>
<ellipse cx="820.7" cy="124.7" rx="2.6" ry="1.6" fill="#59a966"/>
<ellipse cx="825.3" cy="130.8" rx="2.6" ry="1.6" fill="#257332"/>
<rect x="822.7" y="129.2" width="5.2" height="1.5" fill="#257332"/>
<ellipse cx="825.3" cy="129.2" rx="2.6" ry="1.6" fill="#59a966"/>
<ellipse cx="818.7" cy="114.6" rx="2.6" ry="1.6" fill="#257332"/>
<rect x="816.1" y="113" width="5.2" height="1.5" fill="#257332"/>
<ellipse cx="818.7" cy="113" rx="2.6" ry="1.6" fill="#59a966"/>
<ellipse cx="823.3" cy="119.1" rx="2.6" ry="1.6" fill="#257332"/>
<rect x="820.7" y="117.5" width="5.2" height="1.5" fill="#257332"/>
<ellipse cx="823.3" cy="117.5" rx="2.6" ry="1.6" fill="#59a966"/>
<ellipse cx="827.9" cy="123.6" rx="2.6" ry="1.6" fill="#257332"/>
<rect x="825.4" y="122" width="5.2" height="1.5" fill="#257332"/>
<ellipse cx="827.9" cy="122" rx="2.6" ry="1.6" fill="#59a966"/>
<ellipse cx="832.6" cy="128.1" rx="2.6" ry="1.6" fill="#257332"/>
<rect x="830" y="126.5" width="5.2" height="1.5" fill="#257332"/>
<ellipse cx="832.6" cy="126.5" rx="2.6" ry="1.6" fill="#59a966"/>
<polygon points="776.5,138.3 787,145.8 787,151.5 776.5,144" fill="#a9ce3b"/>
<polygon points="787,145.8 792.5,143.3 792.5,149 787,151.5" fill="#97b834"/>
<polygon points="776.5,139 782,137 792.5,144 787,146.5" fill="#b8e040"/>
<ellipse cx="781.9" cy="139.9" rx="2.3" ry="1.5" fill="#90af32"/>
<rect x="779.5" y="138.5" width="4.7" height="1.4" fill="#90af32"/>
<ellipse cx="781.9" cy="138.5" rx="2.3" ry="1.5" fill="#c6e666"/>
<ellipse cx="787.1" cy="143.6" rx="2.3" ry="1.5" fill="#90af32"/>
<rect x="784.8" y="142.2" width="4.7" height="1.4" fill="#90af32"/>
<ellipse cx="787.1" cy="142.2" rx="2.3" ry="1.5" fill="#c6e666"/>
<polygon points="833,121 841,118 848,128 848,135 840,138 833,128" fill="#b8e040"/>
<polygon points="782,117 800,111 804,115 786,122" fill="#b8e040"/>
<polygon points="855.4,143.4 860.4,148 860.4,170 855.4,165.4" fill="#48b353"/>
<polygon points="860,148 873,144.1 873,166.1 860,170" fill="#38a444"/>
<polygon points="898,145 901.4,148 901.4,158 898,155" fill="#f1823e"/>
<polygon points="901,148 912,144.7 912,154.7 901,158" fill="#e2732f"/>
<polygon points="851.7,139.3 873,157.3 873,162 851.7,144" fill="#a9ce3b"/>
<polygon points="873,157.3 918,139.3 918,144 873,162" fill="#97b834"/>
<polygon points="851.7,140 893,122 918,140 873,158" fill="#b8e040"/>
<ellipse cx="857.8" cy="140.8" rx="2.8" ry="1.7" fill="#90af32"/>
<rect x="855" y="139.1" width="5.6" height="1.7" fill="#90af32"/>
<ellipse cx="857.8" cy="139.1" rx="2.8" ry="1.7" fill="#c6e666"/>
<ellipse cx="863.1" cy="145.2" rx="2.8" ry="1.7" fill="#90af32"/>
<rect x="860.3" y="143.6" width="5.6" height="1.7" fill="#90af32"/>
<ellipse cx="863.1" cy="143.6" rx="2.8" ry="1.7" fill="#c6e666"/>
<ellipse cx="868.5" cy="149.8" rx="2.8" ry="1.7" fill="#90af32"/>
<rect x="865.7" y="148.1" width="5.6" height="1.7" fill="#90af32"/>
<ellipse cx="868.5" cy="148.1" rx="2.8" ry="1.7" fill="#c6e666"/>
<ellipse cx="873.8" cy="154.2" rx="2.8" ry="1.7" fill="#90af32"/>
<rect x="871" y="152.6" width="5.6" height="1.7" fill="#90af32"/>
<ellipse cx="873.8" cy="152.6" rx="2.8" ry="1.7" fill="#c6e666"/>
<ellipse cx="864.7" cy="137.8" rx="2.8" ry="1.7" fill="#90af32"/>
<rect x="861.9" y="136.1" width="5.6" height="1.7" fill="#90af32"/>
<ellipse cx="864.7" cy="136.1" rx="2.8" ry="1.7" fill="#c6e666"/>
<ellipse cx="870" cy="142.2" rx="2.8" ry="1.7" fill="#90af32"/>
<rect x="867.2" y="140.6" width="5.6" height="1.7" fill="#90af32"/>
<ellipse cx="870" cy="140.6" rx="2.8" ry="1.7" fill="#c6e666"/>
<ellipse cx="875.3" cy="146.8" rx="2.8" ry="1.7" fill="#90af32"/>
<rect x="872.5" y="145.1" width="5.6" height="1.7" fill="#90af32"/>
<ellipse cx="875.3" cy="145.1" rx="2.8" ry="1.7" fill="#c6e666"/>
<ellipse cx="880.7" cy="151.2" rx="2.8" ry="1.7" fill="#90af32"/>
<rect x="877.9" y="149.6" width="5.6" height="1.7" fill="#90af32"/>
<ellipse cx="880.7" cy="149.6" rx="2.8" ry="1.7" fill="#c6e666"/>
<ellipse cx="871.6" cy="134.8" rx="2.8" ry="1.7" fill="#90af32"/>
<rect x="868.8" y="133.1" width="5.6" height="1.7" fill="#90af32"/>
<ellipse cx="871.6" cy="133.1" rx="2.8" ry="1.7" fill="#c6e666"/>
<ellipse cx="876.9" cy="139.2" rx="2.8" ry="1.7" fill="#90af32"/>
<rect x="874.1" y="137.6" width="5.6" height="1.7" fill="#90af32"/>
<ellipse cx="876.9" cy="137.6" rx="2.8" ry="1.7" fill="#c6e666"/>
<ellipse cx="882.2" cy="143.8" rx="2.8" ry="1.7" fill="#90af32"/>
<rect x="879.4" y="142.1" width="5.6" height="1.7" fill="#90af32"/>
<ellipse cx="882.2" cy="142.1" rx="2.8" ry="1.7" fill="#c6e666"/>
<ellipse cx="887.5" cy="148.2" rx="2.8" ry="1.7" fill="#90af32"/>
<rect x="884.8" y="146.6" width="5.6" height="1.7" fill="#90af32"/>
<ellipse cx="887.5" cy="146.6" rx="2.8" ry="1.7" fill="#c6e666"/>
<ellipse cx="878.5" cy="131.8" rx="2.8" ry="1.7" fill="#90af32"/>
<rect x="875.7" y="130.1" width="5.6" height="1.7" fill="#90af32"/>
<ellipse cx="878.5" cy="130.1" rx="2.8" ry="1.7" fill="#c6e666"/>
<ellipse cx="883.8" cy="136.2" rx="2.8" ry="1.7" fill="#90af32"/>
<rect x="881" y="134.6" width="5.6" height="1.7" fill="#90af32"/>
<ellipse cx="883.8" cy="134.6" rx="2.8" ry="1.7" fill="#c6e666"/>
<ellipse cx="889.1" cy="140.8" rx="2.8" ry="1.7" fill="#90af32"/>
<rect x="886.3" y="139.1" width="5.6" height="1.7" fill="#90af32"/>
<ellipse cx="889.1" cy="139.1" rx="2.8" ry="1.7" fill="#c6e666"/>
<ellipse cx="894.4" cy="145.2" rx="2.8" ry="1.7" fill="#90af32"/>
<rect x="891.6" y="143.6" width="5.6" height="1.7" fill="#90af32"/>
<ellipse cx="894.4" cy="143.6" rx="2.8" ry="1.7" fill="#c6e666"/>
<ellipse cx="885.3" cy="128.8" rx="2.8" ry="1.7" fill="#90af32"/>
<rect x="882.5" y="127.1" width="5.6" height="1.7" fill="#90af32"/>
<ellipse cx="885.3" cy="127.1" rx="2.8" ry="1.7" fill="#c6e666"/>
<ellipse cx="890.7" cy="133.2" rx="2.8" ry="1.7" fill="#90af32"/>
<rect x="887.9" y="131.6" width="5.6" height="1.7" fill="#90af32"/>
<ellipse cx="890.7" cy="131.6" rx="2.8" ry="1.7" fill="#c6e666"/>
<ellipse cx="896" cy="137.8" rx="2.8" ry="1.7" fill="#90af32"/>
<rect x="893.2" y="136.1" width="5.6" height="1.7" fill="#90af32"/>
<ellipse cx="896" cy="136.1" rx="2.8" ry="1.7" fill="#c6e666"/>
<ellipse cx="901.3" cy="142.2" rx="2.8" ry="1.7" fill="#90af32"/>
<rect x="898.5" y="140.6" width="5.6" height="1.7" fill="#90af32"/>
<ellipse cx="901.3" cy="140.6" rx="2.8" ry="1.7" fill="#c6e666"/>
<ellipse cx="892.2" cy="125.8" rx="2.8" ry="1.7" fill="#90af32"/>
<rect x="889.4" y="124.1" width="5.6" height="1.7" fill="#90af32"/>
<ellipse cx="892.2" cy="124.1" rx="2.8" ry="1.7" fill="#c6e666"/>
<ellipse cx="897.5" cy="130.2" rx="2.8" ry="1.7" fill="#90af32"/>
<rect x="894.8" y="128.6" width="5.6" height="1.7" fill="#90af32"/>
<ellipse cx="897.5" cy="128.6" rx="2.8" ry="1.7" fill="#c6e666"/>
<ellipse cx="902.9" cy="134.8" rx="2.8" ry="1.7" fill="#90af32"/>
<rect x="900.1" y="133.1" width="5.6" height="1.7" fill="#90af32"/>
<ellipse cx="902.9" cy="133.1" rx="2.8" ry="1.7" fill="#c6e666"/>
<ellipse cx="908.2" cy="139.2" rx="2.8" ry="1.7" fill="#90af32"/>
<rect x="905.4" y="137.6" width="5.6" height="1.7" fill="#90af32"/>
<ellipse cx="908.2" cy="137.6" rx="2.8" ry="1.7" fill="#c6e666"/>
<polygon points="794,177.3 812,199.3 812,204 794,182" fill="#a9ce3b"/>
<polygon points="812,199.3 861.7,179.3 861.7,184 812,204" fill="#97b834"/>
<polygon points="794,178 841,158 861.7,180 812,200" fill="#b8e040"/>
<ellipse cx="800.2" cy="179.1" rx="2.8" ry="1.8" fill="#90af32"/>
<rect x="797.3" y="177.4" width="5.7" height="1.7" fill="#90af32"/>
<ellipse cx="800.2" cy="177.4" rx="2.8" ry="1.8" fill="#c6e666"/>
<ellipse cx="804.7" cy="184.6" rx="2.8" ry="1.8" fill="#90af32"/>
<rect x="801.8" y="182.9" width="5.7" height="1.7" fill="#90af32"/>
<ellipse cx="804.7" cy="182.9" rx="2.8" ry="1.8" fill="#c6e666"/>
<ellipse cx="809.2" cy="190.1" rx="2.8" ry="1.8" fill="#90af32"/>
<rect x="806.3" y="188.4" width="5.7" height="1.7" fill="#90af32"/>
<ellipse cx="809.2" cy="188.4" rx="2.8" ry="1.8" fill="#c6e666"/>
<ellipse cx="813.7" cy="195.6" rx="2.8" ry="1.8" fill="#90af32"/>
<rect x="810.8" y="193.9" width="5.7" height="1.7" fill="#90af32"/>
<ellipse cx="813.7" cy="193.9" rx="2.8" ry="1.8" fill="#c6e666"/>
<ellipse cx="808" cy="175.8" rx="2.8" ry="1.8" fill="#90af32"/>
<rect x="805.2" y="174" width="5.7" height="1.7" fill="#90af32"/>
<ellipse cx="808" cy="174" rx="2.8" ry="1.8" fill="#c6e666"/>
<ellipse cx="812.5" cy="181.2" rx="2.8" ry="1.8" fill="#90af32"/>
<rect x="809.7" y="179.5" width="5.7" height="1.7" fill="#90af32"/>
<ellipse cx="812.5" cy="179.5" rx="2.8" ry="1.8" fill="#c6e666"/>
<ellipse cx="817" cy="186.8" rx="2.8" ry="1.8" fill="#90af32"/>
<rect x="814.2" y="185" width="5.7" height="1.7" fill="#90af32"/>
<ellipse cx="817" cy="185" rx="2.8" ry="1.8" fill="#c6e666"/>
<ellipse cx="821.5" cy="192.2" rx="2.8" ry="1.8" fill="#90af32"/>
<rect x="818.7" y="190.5" width="5.7" height="1.7" fill="#90af32"/>
<ellipse cx="821.5" cy="190.5" rx="2.8" ry="1.8" fill="#c6e666"/>
<ellipse cx="815.8" cy="172.4" rx="2.8" ry="1.8" fill="#90af32"/>
<rect x="813" y="170.7" width="5.7" height="1.7" fill="#90af32"/>
<ellipse cx="815.8" cy="170.7" rx="2.8" ry="1.8" fill="#c6e666"/>
<ellipse cx="820.3" cy="177.9" rx="2.8" ry="1.8" fill="#90af32"/>
<rect x="817.5" y="176.2" width="5.7" height="1.7" fill="#90af32"/>
<ellipse cx="820.3" cy="176.2" rx="2.8" ry="1.8" fill="#c6e666"/>
<ellipse cx="824.8" cy="183.4" rx="2.8" ry="1.8" fill="#90af32"/>
<rect x="822" y="181.7" width="5.7" height="1.7" fill="#90af32"/>
<ellipse cx="824.8" cy="181.7" rx="2.8" ry="1.8" fill="#c6e666"/>
<ellipse cx="829.3" cy="188.9" rx="2.8" ry="1.8" fill="#90af32"/>
<rect x="826.5" y="187.2" width="5.7" height="1.7" fill="#90af32"/>
<ellipse cx="829.3" cy="187.2" rx="2.8" ry="1.8" fill="#c6e666"/>
<ellipse cx="823.7" cy="169.1" rx="2.8" ry="1.8" fill="#90af32"/>
<rect x="820.8" y="167.4" width="5.7" height="1.7" fill="#90af32"/>
<ellipse cx="823.7" cy="167.4" rx="2.8" ry="1.8" fill="#c6e666"/>
<ellipse cx="828.2" cy="174.6" rx="2.8" ry="1.8" fill="#90af32"/>
<rect x="825.3" y="172.9" width="5.7" height="1.7" fill="#90af32"/>
<ellipse cx="828.2" cy="172.9" rx="2.8" ry="1.8" fill="#c6e666"/>
<ellipse cx="832.7" cy="180.1" rx="2.8" ry="1.8" fill="#90af32"/>
<rect x="829.8" y="178.4" width="5.7" height="1.7" fill="#90af32"/>
<ellipse cx="832.7" cy="178.4" rx="2.8" ry="1.8" fill="#c6e666"/>
<ellipse cx="837.2" cy="185.6" rx="2.8" ry="1.8" fill="#90af32"/>
<rect x="834.3" y="183.9" width="5.7" height="1.7" fill="#90af32"/>
<ellipse cx="837.2" cy="183.9" rx="2.8" ry="1.8" fill="#c6e666"/>
<ellipse cx="831.5" cy="165.8" rx="2.8" ry="1.8" fill="#90af32"/>
<rect x="828.7" y="164" width="5.7" height="1.7" fill="#90af32"/>
<ellipse cx="831.5" cy="164" rx="2.8" ry="1.8" fill="#c6e666"/>
<ellipse cx="836" cy="171.2" rx="2.8" ry="1.8" fill="#90af32"/>
<rect x="833.2" y="169.5" width="5.7" height="1.7" fill="#90af32"/>
<ellipse cx="836" cy="169.5" rx="2.8" ry="1.8" fill="#c6e666"/>
<ellipse cx="840.5" cy="176.8" rx="2.8" ry="1.8" fill="#90af32"/>
<rect x="837.7" y="175" width="5.7" height="1.7" fill="#90af32"/>
<ellipse cx="840.5" cy="175" rx="2.8" ry="1.8" fill="#c6e666"/>
<ellipse cx="845" cy="182.2" rx="2.8" ry="1.8" fill="#90af32"/>
<rect x="842.2" y="180.5" width="5.7" height="1.7" fill="#90af32"/>
<ellipse cx="845" cy="180.5" rx="2.8" ry="1.8" fill="#c6e666"/>
<ellipse cx="839.3" cy="162.4" rx="2.8" ry="1.8" fill="#90af32"/>
<rect x="836.5" y="160.7" width="5.7" height="1.7" fill="#90af32"/>
<ellipse cx="839.3" cy="160.7" rx="2.8" ry="1.8" fill="#c6e666"/>
<ellipse cx="843.8" cy="167.9" rx="2.8" ry="1.8" fill="#90af32"/>
<rect x="841" y="166.2" width="5.7" height="1.7" fill="#90af32"/>
<ellipse cx="843.8" cy="166.2" rx="2.8" ry="1.8" fill="#c6e666"/>
<ellipse cx="848.3" cy="173.4" rx="2.8" ry="1.8" fill="#90af32"/>
<rect x="845.5" y="171.7" width="5.7" height="1.7" fill="#90af32"/>
<ellipse cx="848.3" cy="171.7" rx="2.8" ry="1.8" fill="#c6e666"/>
<ellipse cx="852.8" cy="178.9" rx="2.8" ry="1.8" fill="#90af32"/>
<rect x="850" y="177.2" width="5.7" height="1.7" fill="#90af32"/>
<ellipse cx="852.8" cy="177.2" rx="2.8" ry="1.8" fill="#c6e666"/>
<polygon points="849,167 868,160 872,170 860,176" fill="#b8e040"/>
<g transform="translate(691.6 258.7)">
<polygon points="46.5,48.6 57.6,59.3 57.6,68.1 46.5,57.4" fill="#48b353"/>
<polygon points="57.2,59.3 63.7,57.5 63.7,66.3 57.2,68.1" fill="#38a444"/>
<polygon points="46.5,56.9 57.6,67.6 57.6,77.6 46.5,66.9" fill="#f1823e"/>
<polygon points="57.2,67.6 63.7,65.8 63.7,75.8 57.2,77.6" fill="#e2732f"/>
<polygon points="46.5,66.4 57.6,77.1 57.6,81.2 46.5,70.5" fill="#379944"/>
<polygon points="57.2,77.1 63.7,75.3 63.7,79.4 57.2,81.2" fill="#278935"/>
<polygon points="46.5,70 57.6,80.7 57.6,85.3 46.5,74.6" fill="#b7de48"/>
<polygon points="57.2,80.7 63.7,78.9 63.7,83.5 57.2,85.3" fill="#a7cf38"/>
<polygon points="46.5,74.1 57.6,84.8 57.6,103.2 46.5,92.5" fill="#6ba9e4"/>
<polygon points="57.2,84.8 63.7,83 63.7,101.4 57.2,103.2" fill="#5c9ad4"/>
<polygon points="46.5,48.6 57.2,59.3 63.7,57.5 53,46.8" fill="#53b85e"/>
<ellipse cx="52.4" cy="50.4" rx="2.8" ry="1.7" fill="#3aa745"/>
<rect x="49.6" y="48.1" width="5.6" height="2.2" fill="#3aa745"/>
<ellipse cx="52.4" cy="48.1" rx="2.8" ry="1.7" fill="#6dc276"/>
<ellipse cx="57.8" cy="55.7" rx="2.8" ry="1.7" fill="#3aa745"/>
<rect x="55" y="53.5" width="5.6" height="2.2" fill="#3aa745"/>
<ellipse cx="57.8" cy="53.5" rx="2.8" ry="1.7" fill="#6dc276"/>
</g>
<g transform="translate(690.6 263)">
<polygon points="69.4,31.2 78.1,39.5 78.1,45 69.4,36.7" fill="#b7de48"/>
<polygon points="77.7,39.5 84.8,37.4 84.8,42.9 77.7,45" fill="#a7cf38"/>
<polygon points="69.4,36.2 78.1,44.5 78.1,53.3 69.4,45" fill="#6ba9e4"/>
<polygon points="77.7,44.5 84.8,42.4 84.8,51.2 77.7,53.3" fill="#5c9ad4"/>
<polygon points="69.4,44.5 78.1,52.8 78.1,62.2 69.4,53.9" fill="#f1823e"/>
<polygon points="77.7,52.8 84.8,50.7 84.8,60.1 77.7,62.2" fill="#e2732f"/>
<polygon points="69.4,53.4 78.1,61.7 78.1,65.9 69.4,57.6" fill="#379944"/>
<polygon points="77.7,61.7 84.8,59.6 84.8,63.8 77.7,65.9" fill="#278935"/>
<polygon points="69.4,31.2 77.7,39.5 84.8,37.4 76.5,29.1" fill="#bbe053"/>
<ellipse cx="75" cy="32.2" rx="2.6" ry="1.6" fill="#abd33a"/>
<rect x="72.4" y="30.1" width="5.2" height="2.1" fill="#abd33a"/>
<ellipse cx="75" cy="30.1" rx="2.6" ry="1.6" fill="#c5e56d"/>
<ellipse cx="79.2" cy="36.4" rx="2.6" ry="1.6" fill="#abd33a"/>
<rect x="76.6" y="34.3" width="5.2" height="2.1" fill="#abd33a"/>
<ellipse cx="79.2" cy="34.3" rx="2.6" ry="1.6" fill="#c5e56d"/>
</g>
<polygon points="795.2,272.7 797.4,277 797.4,290.5 795.2,286.2" fill="#6ba9e4"/>
<polygon points="797,277 814,273.6 814,287.1 797,290.5" fill="#5c9ad4"/>
<polygon points="795.2,285.7 797.4,290 797.4,294.5 795.2,290.2" fill="#379944"/>
<polygon points="797,290 814,286.6 814,291.1 797,294.5" fill="#278935"/>
<polygon points="795.2,289.7 797.4,294 797.4,297.5 795.2,293.2" fill="#b7de48"/>
<polygon points="797,294 814,290.6 814,294.1 797,297.5" fill="#a7cf38"/>
<polygon points="795.2,292.7 797.4,297 797.4,308 795.2,303.7" fill="#f1823e"/>
<polygon points="797,297 814,293.6 814,304.6 797,308" fill="#e2732f"/>
<polygon points="795.2,272.7 797,277 814,273.6 812.2,269.3" fill="#75afe5"/>
<ellipse cx="800.4" cy="274" rx="2.1" ry="1.3" fill="#5e9dd9"/>
<rect x="798.3" y="272.3" width="4.1" height="1.6" fill="#5e9dd9"/>
<ellipse cx="800.4" cy="272.3" rx="2.1" ry="1.3" fill="#89bbe9"/>
<ellipse cx="808.9" cy="272.3" rx="2.1" ry="1.3" fill="#5e9dd9"/>
<rect x="806.8" y="270.6" width="4.1" height="1.6" fill="#5e9dd9"/>
<ellipse cx="808.9" cy="270.6" rx="2.1" ry="1.3" fill="#89bbe9"/>
<polygon points="810.2,260.2 816.4,266 816.4,275.5 810.2,269.7" fill="#379944"/>
<polygon points="816,266 824,263.6 824,273.1 816,275.5" fill="#278935"/>
<polygon points="810.2,269.2 816.4,275 816.4,278.5 810.2,272.7" fill="#b7de48"/>
<polygon points="816,275 824,272.6 824,276.1 816,278.5" fill="#a7cf38"/>
<polygon points="810.2,272.2 816.4,278 816.4,284.5 810.2,278.7" fill="#379944"/>
<polygon points="816,278 824,275.6 824,282.1 816,284.5" fill="#278935"/>
<polygon points="810.2,278.2 816.4,284 816.4,294.5 810.2,288.7" fill="#6ba9e4"/>
<polygon points="816,284 824,281.6 824,292.1 816,294.5" fill="#5c9ad4"/>
<polygon points="810.2,288.2 816.4,294 816.4,298.5 810.2,292.7" fill="#b7de48"/>
<polygon points="816,294 824,291.6 824,296.1 816,298.5" fill="#a7cf38"/>
<polygon points="810.2,292.2 816.4,298 816.4,301 810.2,295.2" fill="#379944"/>
<polygon points="816,298 824,295.6 824,298.6 816,301" fill="#278935"/>
<polygon points="810.2,260.2 816,266 824,263.6 818.2,257.8" fill="#449f50"/>
<ellipse cx="815.1" cy="262.5" rx="1.8" ry="1.1" fill="#288c36"/>
<rect x="813.3" y="261" width="3.7" height="1.5" fill="#288c36"/>
<ellipse cx="815.1" cy="261" rx="1.8" ry="1.1" fill="#5fad6a"/>
<ellipse cx="819.1" cy="261.3" rx="1.8" ry="1.1" fill="#288c36"/>
<rect x="817.3" y="259.8" width="3.7" height="1.5" fill="#288c36"/>
<ellipse cx="819.1" cy="259.8" rx="1.8" ry="1.1" fill="#5fad6a"/>
<polygon points="826.5,265.2 828.9,270 828.9,283.5 826.5,278.7" fill="#f1823e"/>
<polygon points="828.5,270 847.9,265.1 847.9,278.6 828.5,283.5" fill="#e2732f"/>
<polygon points="826.5,278.2 828.9,283 828.9,291.5 826.5,286.7" fill="#48b353"/>
<polygon points="828.5,283 847.9,278.1 847.9,286.6 828.5,291.5" fill="#38a444"/>
<polygon points="826.5,286.2 828.9,291 828.9,297 826.5,292.2" fill="#6ba9e4"/>
<polygon points="828.5,291 847.9,286.1 847.9,292.1 828.5,297" fill="#5c9ad4"/>
<polygon points="826.5,265.2 828.5,270 847.9,265.1 845.9,260.4" fill="#f28a4b"/>
<ellipse cx="832.4" cy="266.4" rx="2.3" ry="1.4" fill="#e67530"/>
<rect x="830.1" y="264.6" width="4.6" height="1.8" fill="#e67530"/>
<ellipse cx="832.4" cy="264.6" rx="2.3" ry="1.4" fill="#f49b65"/>
<ellipse cx="842" cy="264" rx="2.3" ry="1.4" fill="#e67530"/>
<rect x="839.8" y="262.1" width="4.6" height="1.8" fill="#e67530"/>
<ellipse cx="842" cy="262.1" rx="2.3" ry="1.4" fill="#f49b65"/>
<polygon points="853.5,269.5 860.4,276 860.4,283 853.5,276.5" fill="#379944"/>
<polygon points="860,276 866.7,273.3 866.7,280.3 860,283" fill="#278935"/>
<polygon points="853.5,269.5 860,276 866.7,273.3 860.2,266.8" fill="#449f50"/>
<ellipse cx="858.5" cy="269.8" rx="2" ry="1.3" fill="#288c36"/>
<rect x="856.5" y="268.2" width="4" height="1.6" fill="#288c36"/>
<ellipse cx="858.5" cy="268.2" rx="2" ry="1.3" fill="#5fad6a"/>
<ellipse cx="861.7" cy="273" rx="2" ry="1.3" fill="#288c36"/>
<rect x="859.7" y="271.4" width="4" height="1.6" fill="#288c36"/>
<ellipse cx="861.7" cy="271.4" rx="2" ry="1.3" fill="#5fad6a"/>
<polygon points="788.3,330.3 797.4,339 797.4,342.5 788.3,333.8" fill="#b7de48"/>
<polygon points="797,339 804,336.9 804,340.4 797,342.5" fill="#a7cf38"/>
<polygon points="788.3,333.3 797.4,342 797.4,348.5 788.3,339.8" fill="#6ba9e4"/>
<polygon points="797,342 804,339.9 804,346.4 797,348.5" fill="#5c9ad4"/>
<polygon points="788.3,339.3 797.4,348 797.4,352.5 788.3,343.8" fill="#379944"/>
<polygon points="797,348 804,345.9 804,350.4 797,352.5" fill="#278935"/>
<polygon points="788.3,343.3 797.4,352 797.4,355.5 788.3,346.8" fill="#b7de48"/>
<polygon points="797,352 804,349.9 804,353.4 797,355.5" fill="#a7cf38"/>
<polygon points="788.3,346.3 797.4,355 797.4,364.5 788.3,355.8" fill="#f1823e"/>
<polygon points="797,355 804,352.9 804,362.4 797,364.5" fill="#e2732f"/>
<polygon points="788.3,355.3 797.4,364 797.4,373 788.3,364.3" fill="#6ba9e4"/>
<polygon points="797,364 804,361.9 804,370.9 797,373" fill="#5c9ad4"/>
<polygon points="780.2,313.7 782.4,318 782.4,321.5 780.2,317.2" fill="#b7de48"/>
<polygon points="782,318 795,312.8 795,316.3 782,321.5" fill="#a7cf38"/>
<polygon points="780.2,316.7 782.4,321 782.4,324.5 780.2,320.2" fill="#379944"/>
<polygon points="782,321 795,315.8 795,319.3 782,324.5" fill="#278935"/>
<polygon points="780.2,319.7 782.4,324 782.4,327.5 780.2,323.2" fill="#b7de48"/>
<polygon points="782,324 795,318.8 795,322.3 782,327.5" fill="#a7cf38"/>
<polygon points="780.2,322.7 782.4,327 782.4,333.5 780.2,329.2" fill="#379944"/>
<polygon points="782,327 795,321.8 795,328.3 782,333.5" fill="#278935"/>
<polygon points="780.2,328.7 782.4,333 782.4,339 780.2,334.7" fill="#48b353"/>
<polygon points="782,333 795,327.8 795,333.8 782,339" fill="#38a444"/>
<polygon points="780.8,312 796,338.3 796,344 780.8,317.7" fill="#2b883b"/>
<polygon points="796,338.3 856.6,317.3 856.6,323 796,344" fill="#277934"/>
<polygon points="780.8,312.7 840,292 856.6,318 796,339" fill="#2f9440"/>
<ellipse cx="786.4" cy="314.7" rx="3" ry="1.9" fill="#257332"/>
<rect x="783.4" y="312.9" width="6.1" height="1.8" fill="#257332"/>
<ellipse cx="786.4" cy="312.9" rx="3" ry="1.9" fill="#59a966"/>
<ellipse cx="790.2" cy="321.3" rx="3" ry="1.9" fill="#257332"/>
<rect x="787.2" y="319.4" width="6.1" height="1.8" fill="#257332"/>
<ellipse cx="790.2" cy="319.4" rx="3" ry="1.9" fill="#59a966"/>
<ellipse cx="794" cy="327.8" rx="3" ry="1.9" fill="#257332"/>
<rect x="791" y="326" width="6.1" height="1.8" fill="#257332"/>
<ellipse cx="794" cy="326" rx="3" ry="1.9" fill="#59a966"/>
<ellipse cx="797.8" cy="334.4" rx="3" ry="1.9" fill="#257332"/>
<rect x="794.8" y="332.6" width="6.1" height="1.8" fill="#257332"/>
<ellipse cx="797.8" cy="332.6" rx="3" ry="1.9" fill="#59a966"/>
<ellipse cx="793.8" cy="312.1" rx="3" ry="1.9" fill="#257332"/>
<rect x="790.8" y="310.3" width="6.1" height="1.8" fill="#257332"/>
<ellipse cx="793.8" cy="310.3" rx="3" ry="1.9" fill="#59a966"/>
<ellipse cx="797.6" cy="318.7" rx="3" ry="1.9" fill="#257332"/>
<rect x="794.6" y="316.9" width="6.1" height="1.8" fill="#257332"/>
<ellipse cx="797.6" cy="316.9" rx="3" ry="1.9" fill="#59a966"/>
<ellipse cx="801.4" cy="325.3" rx="3" ry="1.9" fill="#257332"/>
<rect x="798.4" y="323.4" width="6.1" height="1.8" fill="#257332"/>
<ellipse cx="801.4" cy="323.4" rx="3" ry="1.9" fill="#59a966"/>
<ellipse cx="805.2" cy="331.8" rx="3" ry="1.9" fill="#257332"/>
<rect x="802.2" y="330" width="6.1" height="1.8" fill="#257332"/>
<ellipse cx="805.2" cy="330" rx="3" ry="1.9" fill="#59a966"/>
<ellipse cx="801.2" cy="309.5" rx="3" ry="1.9" fill="#257332"/>
<rect x="798.2" y="307.7" width="6.1" height="1.8" fill="#257332"/>
<ellipse cx="801.2" cy="307.7" rx="3" ry="1.9" fill="#59a966"/>
<ellipse cx="805" cy="316.1" rx="3" ry="1.9" fill="#257332"/>
<rect x="802" y="314.3" width="6.1" height="1.8" fill="#257332"/>
<ellipse cx="805" cy="314.3" rx="3" ry="1.9" fill="#59a966"/>
<ellipse cx="808.8" cy="322.7" rx="3" ry="1.9" fill="#257332"/>
<rect x="805.8" y="320.8" width="6.1" height="1.8" fill="#257332"/>
<ellipse cx="808.8" cy="320.8" rx="3" ry="1.9" fill="#59a966"/>
<ellipse cx="812.6" cy="329.2" rx="3" ry="1.9" fill="#257332"/>
<rect x="809.6" y="327.4" width="6.1" height="1.8" fill="#257332"/>
<ellipse cx="812.6" cy="327.4" rx="3" ry="1.9" fill="#59a966"/>
<ellipse cx="808.6" cy="306.9" rx="3" ry="1.9" fill="#257332"/>
<rect x="805.6" y="305.1" width="6.1" height="1.8" fill="#257332"/>
<ellipse cx="808.6" cy="305.1" rx="3" ry="1.9" fill="#59a966"/>
<ellipse cx="812.4" cy="313.5" rx="3" ry="1.9" fill="#257332"/>
<rect x="809.4" y="311.7" width="6.1" height="1.8" fill="#257332"/>
<ellipse cx="812.4" cy="311.7" rx="3" ry="1.9" fill="#59a966"/>
<ellipse cx="816.2" cy="320.1" rx="3" ry="1.9" fill="#257332"/>
<rect x="813.2" y="318.3" width="6.1" height="1.8" fill="#257332"/>
<ellipse cx="816.2" cy="318.3" rx="3" ry="1.9" fill="#59a966"/>
<ellipse cx="820" cy="326.7" rx="3" ry="1.9" fill="#257332"/>
<rect x="817" y="324.8" width="6.1" height="1.8" fill="#257332"/>
<ellipse cx="820" cy="324.8" rx="3" ry="1.9" fill="#59a966"/>
<ellipse cx="816" cy="304.3" rx="3" ry="1.9" fill="#257332"/>
<rect x="813" y="302.5" width="6.1" height="1.8" fill="#257332"/>
<ellipse cx="816" cy="302.5" rx="3" ry="1.9" fill="#59a966"/>
<ellipse cx="819.8" cy="310.9" rx="3" ry="1.9" fill="#257332"/>
<rect x="816.8" y="309.1" width="6.1" height="1.8" fill="#257332"/>
<ellipse cx="819.8" cy="309.1" rx="3" ry="1.9" fill="#59a966"/>
<ellipse cx="823.6" cy="317.5" rx="3" ry="1.9" fill="#257332"/>
<rect x="820.6" y="315.7" width="6.1" height="1.8" fill="#257332"/>
<ellipse cx="823.6" cy="315.7" rx="3" ry="1.9" fill="#59a966"/>
<ellipse cx="827.4" cy="324.1" rx="3" ry="1.9" fill="#257332"/>
<rect x="824.4" y="322.2" width="6.1" height="1.8" fill="#257332"/>
<ellipse cx="827.4" cy="322.2" rx="3" ry="1.9" fill="#59a966"/>
<ellipse cx="823.4" cy="301.8" rx="3" ry="1.9" fill="#257332"/>
<rect x="820.4" y="299.9" width="6.1" height="1.8" fill="#257332"/>
<ellipse cx="823.4" cy="299.9" rx="3" ry="1.9" fill="#59a966"/>
<ellipse cx="827.2" cy="308.3" rx="3" ry="1.9" fill="#257332"/>
<rect x="824.2" y="306.5" width="6.1" height="1.8" fill="#257332"/>
<ellipse cx="827.2" cy="306.5" rx="3" ry="1.9" fill="#59a966"/>
<ellipse cx="831" cy="314.9" rx="3" ry="1.9" fill="#257332"/>
<rect x="828" y="313.1" width="6.1" height="1.8" fill="#257332"/>
<ellipse cx="831" cy="313.1" rx="3" ry="1.9" fill="#59a966"/>
<ellipse cx="834.8" cy="321.5" rx="3" ry="1.9" fill="#257332"/>
<rect x="831.8" y="319.7" width="6.1" height="1.8" fill="#257332"/>
<ellipse cx="834.8" cy="319.7" rx="3" ry="1.9" fill="#59a966"/>
<ellipse cx="830.8" cy="299.2" rx="3" ry="1.9" fill="#257332"/>
<rect x="827.8" y="297.3" width="6.1" height="1.8" fill="#257332"/>
<ellipse cx="830.8" cy="297.3" rx="3" ry="1.9" fill="#59a966"/>
<ellipse cx="834.6" cy="305.7" rx="3" ry="1.9" fill="#257332"/>
<rect x="831.6" y="303.9" width="6.1" height="1.8" fill="#257332"/>
<ellipse cx="834.6" cy="303.9" rx="3" ry="1.9" fill="#59a966"/>
<ellipse cx="838.4" cy="312.3" rx="3" ry="1.9" fill="#257332"/>
<rect x="835.4" y="310.5" width="6.1" height="1.8" fill="#257332"/>
<ellipse cx="838.4" cy="310.5" rx="3" ry="1.9" fill="#59a966"/>
<ellipse cx="842.2" cy="318.9" rx="3" ry="1.9" fill="#257332"/>
<rect x="839.2" y="317.1" width="6.1" height="1.8" fill="#257332"/>
<ellipse cx="842.2" cy="317.1" rx="3" ry="1.9" fill="#59a966"/>
<ellipse cx="838.2" cy="296.6" rx="3" ry="1.9" fill="#257332"/>
<rect x="835.2" y="294.8" width="6.1" height="1.8" fill="#257332"/>
<ellipse cx="838.2" cy="294.8" rx="3" ry="1.9" fill="#59a966"/>
<ellipse cx="842" cy="303.2" rx="3" ry="1.9" fill="#257332"/>
<rect x="839" y="301.3" width="6.1" height="1.8" fill="#257332"/>
<ellipse cx="842" cy="301.3" rx="3" ry="1.9" fill="#59a966"/>
<ellipse cx="845.8" cy="309.7" rx="3" ry="1.9" fill="#257332"/>
<rect x="842.8" y="307.9" width="6.1" height="1.8" fill="#257332"/>
<ellipse cx="845.8" cy="307.9" rx="3" ry="1.9" fill="#59a966"/>
<ellipse cx="849.6" cy="316.3" rx="3" ry="1.9" fill="#257332"/>
<rect x="846.6" y="314.5" width="6.1" height="1.8" fill="#257332"/>
<ellipse cx="849.6" cy="314.5" rx="3" ry="1.9" fill="#59a966"/>
<polygon points="783.3,294.9 785.4,299 785.4,309.5 783.3,305.4" fill="#48b353"/>
<polygon points="785,299 804,293.3 804,303.8 785,309.5" fill="#38a444"/>
<polygon points="783.3,304.9 785.4,309 785.4,315 783.3,310.9" fill="#6ba9e4"/>
<polygon points="785,309 804,303.3 804,309.3 785,315" fill="#5c9ad4"/>
<polygon points="783.3,294.9 785,299 804,293.3 802.3,289.2" fill="#53b85e"/>
<ellipse cx="788.9" cy="295.5" rx="1.9" ry="1.2" fill="#3aa745"/>
<rect x="787" y="294" width="3.9" height="1.6" fill="#3aa745"/>
<ellipse cx="788.9" cy="294" rx="1.9" ry="1.2" fill="#6dc276"/>
<ellipse cx="798.4" cy="292.7" rx="1.9" ry="1.2" fill="#3aa745"/>
<rect x="796.5" y="291.1" width="3.9" height="1.6" fill="#3aa745"/>
<ellipse cx="798.4" cy="291.1" rx="1.9" ry="1.2" fill="#6dc276"/>
<polygon points="830.3,290.7 855.4,316.3 855.4,321.5 830.3,295.9" fill="#a9ce3b"/>
<polygon points="855.4,316.3 879.8,305 879.8,310.2 855.4,321.5" fill="#97b834"/>
<polygon points="830.3,291.4 855.4,278.8 879.8,305.7 855.4,317" fill="#b8e040"/>
<ellipse cx="835.5" cy="292" rx="2.4" ry="1.5" fill="#90af32"/>
<rect x="833.1" y="290.5" width="4.8" height="1.4" fill="#90af32"/>
<ellipse cx="835.5" cy="290.5" rx="2.4" ry="1.5" fill="#c6e666"/>
<ellipse cx="839.7" cy="296.2" rx="2.4" ry="1.5" fill="#90af32"/>
<rect x="837.3" y="294.8" width="4.8" height="1.4" fill="#90af32"/>
<ellipse cx="839.7" cy="294.8" rx="2.4" ry="1.5" fill="#c6e666"/>
<ellipse cx="843.9" cy="300.5" rx="2.4" ry="1.5" fill="#90af32"/>
<rect x="841.5" y="299.1" width="4.8" height="1.4" fill="#90af32"/>
<ellipse cx="843.9" cy="299.1" rx="2.4" ry="1.5" fill="#c6e666"/>
<ellipse cx="848.1" cy="304.8" rx="2.4" ry="1.5" fill="#90af32"/>
<rect x="845.7" y="303.3" width="4.8" height="1.4" fill="#90af32"/>
<ellipse cx="848.1" cy="303.3" rx="2.4" ry="1.5" fill="#c6e666"/>
<ellipse cx="852.3" cy="309" rx="2.4" ry="1.5" fill="#90af32"/>
<rect x="849.9" y="307.6" width="4.8" height="1.4" fill="#90af32"/>
<ellipse cx="852.3" cy="307.6" rx="2.4" ry="1.5" fill="#c6e666"/>
<ellipse cx="856.4" cy="313.3" rx="2.4" ry="1.5" fill="#90af32"/>
<rect x="854.1" y="311.9" width="4.8" height="1.4" fill="#90af32"/>
<ellipse cx="856.4" cy="311.9" rx="2.4" ry="1.5" fill="#c6e666"/>
<ellipse cx="841.8" cy="288.8" rx="2.4" ry="1.5" fill="#90af32"/>
<rect x="839.4" y="287.4" width="4.8" height="1.4" fill="#90af32"/>
<ellipse cx="841.8" cy="287.4" rx="2.4" ry="1.5" fill="#c6e666"/>
<ellipse cx="846" cy="293.1" rx="2.4" ry="1.5" fill="#90af32"/>
<rect x="843.6" y="291.6" width="4.8" height="1.4" fill="#90af32"/>
<ellipse cx="846" cy="291.6" rx="2.4" ry="1.5" fill="#c6e666"/>
<ellipse cx="850.2" cy="297.3" rx="2.4" ry="1.5" fill="#90af32"/>
<rect x="847.8" y="295.9" width="4.8" height="1.4" fill="#90af32"/>
<ellipse cx="850.2" cy="295.9" rx="2.4" ry="1.5" fill="#c6e666"/>
<ellipse cx="854.4" cy="301.6" rx="2.4" ry="1.5" fill="#90af32"/>
<rect x="852" y="300.2" width="4.8" height="1.4" fill="#90af32"/>
<ellipse cx="854.4" cy="300.2" rx="2.4" ry="1.5" fill="#c6e666"/>
<ellipse cx="858.5" cy="305.9" rx="2.4" ry="1.5" fill="#90af32"/>
<rect x="856.1" y="304.4" width="4.8" height="1.4" fill="#90af32"/>
<ellipse cx="858.5" cy="304.4" rx="2.4" ry="1.5" fill="#c6e666"/>
<ellipse cx="862.7" cy="310.1" rx="2.4" ry="1.5" fill="#90af32"/>
<rect x="860.3" y="308.7" width="4.8" height="1.4" fill="#90af32"/>
<ellipse cx="862.7" cy="308.7" rx="2.4" ry="1.5" fill="#c6e666"/>
<ellipse cx="848.1" cy="285.7" rx="2.4" ry="1.5" fill="#90af32"/>
<rect x="845.7" y="284.2" width="4.8" height="1.4" fill="#90af32"/>
<ellipse cx="848.1" cy="284.2" rx="2.4" ry="1.5" fill="#c6e666"/>
<ellipse cx="852.3" cy="289.9" rx="2.4" ry="1.5" fill="#90af32"/>
<rect x="849.9" y="288.5" width="4.8" height="1.4" fill="#90af32"/>
<ellipse cx="852.3" cy="288.5" rx="2.4" ry="1.5" fill="#c6e666"/>
<ellipse cx="856.4" cy="294.2" rx="2.4" ry="1.5" fill="#90af32"/>
<rect x="854.1" y="292.8" width="4.8" height="1.4" fill="#90af32"/>
<ellipse cx="856.4" cy="292.8" rx="2.4" ry="1.5" fill="#c6e666"/>
<ellipse cx="860.6" cy="298.5" rx="2.4" ry="1.5" fill="#90af32"/>
<rect x="858.2" y="297" width="4.8" height="1.4" fill="#90af32"/>
<ellipse cx="860.6" cy="297" rx="2.4" ry="1.5" fill="#c6e666"/>
<ellipse cx="864.8" cy="302.7" rx="2.4" ry="1.5" fill="#90af32"/>
<rect x="862.4" y="301.3" width="4.8" height="1.4" fill="#90af32"/>
<ellipse cx="864.8" cy="301.3" rx="2.4" ry="1.5" fill="#c6e666"/>
<ellipse cx="869" cy="307" rx="2.4" ry="1.5" fill="#90af32"/>
<rect x="866.6" y="305.6" width="4.8" height="1.4" fill="#90af32"/>
<ellipse cx="869" cy="305.6" rx="2.4" ry="1.5" fill="#c6e666"/>
<ellipse cx="854.4" cy="282.5" rx="2.4" ry="1.5" fill="#90af32"/>
<rect x="852" y="281.1" width="4.8" height="1.4" fill="#90af32"/>
<ellipse cx="854.4" cy="281.1" rx="2.4" ry="1.5" fill="#c6e666"/>
<ellipse cx="858.5" cy="286.8" rx="2.4" ry="1.5" fill="#90af32"/>
<rect x="856.1" y="285.3" width="4.8" height="1.4" fill="#90af32"/>
<ellipse cx="858.5" cy="285.3" rx="2.4" ry="1.5" fill="#c6e666"/>
<ellipse cx="862.7" cy="291" rx="2.4" ry="1.5" fill="#90af32"/>
<rect x="860.3" y="289.6" width="4.8" height="1.4" fill="#90af32"/>
<ellipse cx="862.7" cy="289.6" rx="2.4" ry="1.5" fill="#c6e666"/>
<ellipse cx="866.9" cy="295.3" rx="2.4" ry="1.5" fill="#90af32"/>
<rect x="864.5" y="293.9" width="4.8" height="1.4" fill="#90af32"/>
<ellipse cx="866.9" cy="293.9" rx="2.4" ry="1.5" fill="#c6e666"/>
<ellipse cx="871.1" cy="299.6" rx="2.4" ry="1.5" fill="#90af32"/>
<rect x="868.7" y="298.1" width="4.8" height="1.4" fill="#90af32"/>
<ellipse cx="871.1" cy="298.1" rx="2.4" ry="1.5" fill="#c6e666"/>
<ellipse cx="875.3" cy="303.8" rx="2.4" ry="1.5" fill="#90af32"/>
<rect x="872.9" y="302.4" width="4.8" height="1.4" fill="#90af32"/>
<ellipse cx="875.3" cy="302.4" rx="2.4" ry="1.5" fill="#c6e666"/>
<polygon points="864.8,285.9 866.9,290 866.9,300 864.8,295.9" fill="#6ba9e4"/>
<polygon points="866.5,290 878,286.6 878,296.6 866.5,300" fill="#5c9ad4"/>
<polygon points="864.8,285.9 866.5,290 878,286.6 876.3,282.5" fill="#75afe5"/>
<ellipse cx="868.5" cy="287.1" rx="1.9" ry="1.2" fill="#5e9dd9"/>
<rect x="866.6" y="285.5" width="3.9" height="1.6" fill="#5e9dd9"/>
<ellipse cx="868.5" cy="285.5" rx="1.9" ry="1.2" fill="#89bbe9"/>
<ellipse cx="874.3" cy="285.4" rx="1.9" ry="1.2" fill="#5e9dd9"/>
<rect x="872.3" y="283.8" width="3.9" height="1.6" fill="#5e9dd9"/>
<ellipse cx="874.3" cy="283.8" rx="1.9" ry="1.2" fill="#89bbe9"/>
<polygon points="873,292.2 875.4,297 875.4,309.5 873,304.7" fill="#48b353"/>
<polygon points="875,297 891.7,292.8 891.7,305.3 875,309.5" fill="#38a444"/>
<polygon points="873,304.2 875.4,309 875.4,313.5 873,308.7" fill="#b7de48"/>
<polygon points="875,309 891.7,304.8 891.7,309.3 875,313.5" fill="#a7cf38"/>
<polygon points="873,308.2 875.4,313 875.4,316.5 873,311.7" fill="#379944"/>
<polygon points="875,313 891.7,308.8 891.7,312.3 875,316.5" fill="#278935"/>
<polygon points="873,311.2 875.4,316 875.4,323.5 873,318.7" fill="#6ba9e4"/>
<polygon points="875,316 891.7,311.8 891.7,319.3 875,323.5" fill="#5c9ad4"/>
<polygon points="873,318.2 875.4,323 875.4,327.5 873,322.7" fill="#b7de48"/>
<polygon points="875,323 891.7,318.8 891.7,323.3 875,327.5" fill="#a7cf38"/>
<polygon points="873,322.2 875.4,327 875.4,330.5 873,325.7" fill="#379944"/>
<polygon points="875,327 891.7,322.8 891.7,326.3 875,330.5" fill="#278935"/>
<polygon points="873,325.2 875.4,330 875.4,336 873,331.2" fill="#f1823e"/>
<polygon points="875,330 891.7,325.8 891.7,331.8 875,336" fill="#e2732f"/>
<polygon points="873,292.2 875,297 891.7,292.8 889.7,288" fill="#53b85e"/>
<ellipse cx="878.2" cy="293.6" rx="2.3" ry="1.4" fill="#3aa745"/>
<rect x="875.9" y="291.7" width="4.6" height="1.8" fill="#3aa745"/>
<ellipse cx="878.2" cy="291.7" rx="2.3" ry="1.4" fill="#6dc276"/>
<ellipse cx="886.5" cy="291.5" rx="2.3" ry="1.4" fill="#3aa745"/>
<rect x="884.2" y="289.6" width="4.6" height="1.8" fill="#3aa745"/>
<ellipse cx="886.5" cy="289.6" rx="2.3" ry="1.4" fill="#6dc276"/>
<polygon points="827.8,324.7 830.4,330 830.4,336.5 827.8,331.2" fill="#f1823e"/>
<polygon points="830,330 856.6,326 856.6,332.5 830,336.5" fill="#e2732f"/>
<polygon points="827.8,330.7 830.4,336 830.4,342 827.8,336.7" fill="#6ba9e4"/>
<polygon points="830,336 856.6,332 856.6,338 830,342" fill="#5c9ad4"/>
<polygon points="855.4,358.2 857.4,362 857.4,380 855.4,376.2" fill="#6ba9e4"/>
<polygon points="857,362 874.2,356.8 874.2,374.8 857,380" fill="#5c9ad4"/>
<polygon points="827.2,334.5 852.2,362.3 852.2,367.5 827.2,339.7" fill="#a9ce3b"/>
<polygon points="852.2,362.3 874.2,351.3 874.2,356.5 852.2,367.5" fill="#97b834"/>
<polygon points="827.2,335.2 860.4,325.2 874.2,352 852.2,363" fill="#b8e040"/>
<ellipse cx="834.5" cy="337.4" rx="3.2" ry="2" fill="#90af32"/>
<rect x="831.3" y="335.5" width="6.4" height="1.9" fill="#90af32"/>
<ellipse cx="834.5" cy="335.5" rx="3.2" ry="2" fill="#c6e666"/>
<ellipse cx="840.7" cy="344.4" rx="3.2" ry="2" fill="#90af32"/>
<rect x="837.5" y="342.5" width="6.4" height="1.9" fill="#90af32"/>
<ellipse cx="840.7" cy="342.5" rx="3.2" ry="2" fill="#c6e666"/>
<ellipse cx="847" cy="351.3" rx="3.2" ry="2" fill="#90af32"/>
<rect x="843.8" y="349.4" width="6.4" height="1.9" fill="#90af32"/>
<ellipse cx="847" cy="349.4" rx="3.2" ry="2" fill="#c6e666"/>
<ellipse cx="853.2" cy="358.3" rx="3.2" ry="2" fill="#90af32"/>
<rect x="850" y="356.4" width="6.4" height="1.9" fill="#90af32"/>
<ellipse cx="853.2" cy="356.4" rx="3.2" ry="2" fill="#c6e666"/>
<ellipse cx="842.8" cy="334.9" rx="3.2" ry="2" fill="#90af32"/>
<rect x="839.6" y="333" width="6.4" height="1.9" fill="#90af32"/>
<ellipse cx="842.8" cy="333" rx="3.2" ry="2" fill="#c6e666"/>
<ellipse cx="849" cy="341.9" rx="3.2" ry="2" fill="#90af32"/>
<rect x="845.8" y="340" width="6.4" height="1.9" fill="#90af32"/>
<ellipse cx="849" cy="340" rx="3.2" ry="2" fill="#c6e666"/>
<ellipse cx="855.3" cy="348.8" rx="3.2" ry="2" fill="#90af32"/>
<rect x="852.1" y="346.9" width="6.4" height="1.9" fill="#90af32"/>
<ellipse cx="855.3" cy="346.9" rx="3.2" ry="2" fill="#c6e666"/>
<ellipse cx="861.5" cy="355.8" rx="3.2" ry="2" fill="#90af32"/>
<rect x="858.3" y="353.9" width="6.4" height="1.9" fill="#90af32"/>
<ellipse cx="861.5" cy="353.9" rx="3.2" ry="2" fill="#c6e666"/>
<ellipse cx="851.1" cy="332.4" rx="3.2" ry="2" fill="#90af32"/>
<rect x="847.9" y="330.5" width="6.4" height="1.9" fill="#90af32"/>
<ellipse cx="851.1" cy="330.5" rx="3.2" ry="2" fill="#c6e666"/>
<ellipse cx="857.3" cy="339.4" rx="3.2" ry="2" fill="#90af32"/>
<rect x="854.1" y="337.5" width="6.4" height="1.9" fill="#90af32"/>
<ellipse cx="857.3" cy="337.5" rx="3.2" ry="2" fill="#c6e666"/>
<ellipse cx="863.6" cy="346.3" rx="3.2" ry="2" fill="#90af32"/>
<rect x="860.4" y="344.4" width="6.4" height="1.9" fill="#90af32"/>
<ellipse cx="863.6" cy="344.4" rx="3.2" ry="2" fill="#c6e666"/>
<ellipse cx="869.8" cy="353.3" rx="3.2" ry="2" fill="#90af32"/>
<rect x="866.6" y="351.4" width="6.4" height="1.9" fill="#90af32"/>
<ellipse cx="869.8" cy="351.4" rx="3.2" ry="2" fill="#c6e666"/>
<ellipse cx="859.4" cy="329.9" rx="3.2" ry="2" fill="#90af32"/>
<rect x="856.2" y="328" width="6.4" height="1.9" fill="#90af32"/>
<ellipse cx="859.4" cy="328" rx="3.2" ry="2" fill="#c6e666"/>
<ellipse cx="865.6" cy="336.9" rx="3.2" ry="2" fill="#90af32"/>
<rect x="862.4" y="335" width="6.4" height="1.9" fill="#90af32"/>
<ellipse cx="865.6" cy="335" rx="3.2" ry="2" fill="#c6e666"/>
<ellipse cx="871.9" cy="343.8" rx="3.2" ry="2" fill="#90af32"/>
<rect x="868.7" y="341.9" width="6.4" height="1.9" fill="#90af32"/>
<ellipse cx="871.9" cy="341.9" rx="3.2" ry="2" fill="#c6e666"/>
<ellipse cx="878.1" cy="350.8" rx="3.2" ry="2" fill="#90af32"/>
<rect x="874.9" y="348.9" width="6.4" height="1.9" fill="#90af32"/>
<ellipse cx="878.1" cy="348.9" rx="3.2" ry="2" fill="#c6e666"/>
<polygon points="862.3,313.9 864.4,318 864.4,328.5 862.3,324.4" fill="#48b353"/>
<polygon points="864,318 878,313.8 878,324.3 864,328.5" fill="#38a444"/>
<polygon points="862.3,323.9 864.4,328 864.4,337 862.3,332.9" fill="#6ba9e4"/>
<polygon points="864,328 878,323.8 878,332.8 864,337" fill="#5c9ad4"/>
<polygon points="862.3,313.9 864,318 878,313.8 876.3,309.7" fill="#53b85e"/>
<ellipse cx="866.6" cy="314.9" rx="1.9" ry="1.2" fill="#3aa745"/>
<rect x="864.7" y="313.4" width="3.9" height="1.6" fill="#3aa745"/>
<ellipse cx="866.6" cy="313.4" rx="1.9" ry="1.2" fill="#6dc276"/>
<ellipse cx="873.6" cy="312.8" rx="1.9" ry="1.2" fill="#3aa745"/>
<rect x="871.7" y="311.3" width="3.9" height="1.6" fill="#3aa745"/>
<ellipse cx="873.6" cy="311.3" rx="1.9" ry="1.2" fill="#6dc276"/>
<polygon points="899.8,367.1 901.4,370 901.4,378.5 899.8,375.6" fill="#f1823e"/>
<polygon points="901,370 919.6,366.3 919.6,374.8 901,378.5" fill="#e2732f"/>
<polygon points="899.8,375.1 901.4,378 901.4,386 899.8,383.1" fill="#48b353"/>
<polygon points="901,378 919.6,374.3 919.6,382.3 901,386" fill="#38a444"/>
<polygon points="863.4,343.3 889.6,372.6 889.6,377.3 863.4,348" fill="#a9ce3b"/>
<polygon points="889.6,372.6 920.3,359.3 920.3,364 889.6,377.3" fill="#97b834"/>
<polygon points="863.4,344 892,332 920.3,360 889.6,373.3" fill="#b8e040"/>
<ellipse cx="868.9" cy="345.7" rx="2.5" ry="1.5" fill="#90af32"/>
<rect x="866.4" y="344.2" width="5" height="1.5" fill="#90af32"/>
<ellipse cx="868.9" cy="344.2" rx="2.5" ry="1.5" fill="#c6e666"/>
<ellipse cx="874.1" cy="351.6" rx="2.5" ry="1.5" fill="#90af32"/>
<rect x="871.6" y="350.1" width="5" height="1.5" fill="#90af32"/>
<ellipse cx="874.1" cy="350.1" rx="2.5" ry="1.5" fill="#c6e666"/>
<ellipse cx="879.4" cy="357.5" rx="2.5" ry="1.5" fill="#90af32"/>
<rect x="876.9" y="356" width="5" height="1.5" fill="#90af32"/>
<ellipse cx="879.4" cy="356" rx="2.5" ry="1.5" fill="#c6e666"/>
<ellipse cx="884.6" cy="363.3" rx="2.5" ry="1.5" fill="#90af32"/>
<rect x="882.1" y="361.8" width="5" height="1.5" fill="#90af32"/>
<ellipse cx="884.6" cy="361.8" rx="2.5" ry="1.5" fill="#c6e666"/>
<ellipse cx="889.8" cy="369.2" rx="2.5" ry="1.5" fill="#90af32"/>
<rect x="887.4" y="367.7" width="5" height="1.5" fill="#90af32"/>
<ellipse cx="889.8" cy="367.7" rx="2.5" ry="1.5" fill="#c6e666"/>
<ellipse cx="874.6" cy="343.3" rx="2.5" ry="1.5" fill="#90af32"/>
<rect x="872.1" y="341.8" width="5" height="1.5" fill="#90af32"/>
<ellipse cx="874.6" cy="341.8" rx="2.5" ry="1.5" fill="#c6e666"/>
<ellipse cx="879.8" cy="349.2" rx="2.5" ry="1.5" fill="#90af32"/>
<rect x="877.4" y="347.7" width="5" height="1.5" fill="#90af32"/>
<ellipse cx="879.8" cy="347.7" rx="2.5" ry="1.5" fill="#c6e666"/>
<ellipse cx="885.1" cy="355" rx="2.5" ry="1.5" fill="#90af32"/>
<rect x="882.6" y="353.6" width="5" height="1.5" fill="#90af32"/>
<ellipse cx="885.1" cy="353.6" rx="2.5" ry="1.5" fill="#c6e666"/>
<ellipse cx="890.3" cy="360.9" rx="2.5" ry="1.5" fill="#90af32"/>
<rect x="887.8" y="359.4" width="5" height="1.5" fill="#90af32"/>
<ellipse cx="890.3" cy="359.4" rx="2.5" ry="1.5" fill="#c6e666"/>
<ellipse cx="895.6" cy="366.8" rx="2.5" ry="1.5" fill="#90af32"/>
<rect x="893.1" y="365.3" width="5" height="1.5" fill="#90af32"/>
<ellipse cx="895.6" cy="365.3" rx="2.5" ry="1.5" fill="#c6e666"/>
<ellipse cx="880.3" cy="340.9" rx="2.5" ry="1.5" fill="#90af32"/>
<rect x="877.8" y="339.4" width="5" height="1.5" fill="#90af32"/>
<ellipse cx="880.3" cy="339.4" rx="2.5" ry="1.5" fill="#c6e666"/>
<ellipse cx="885.6" cy="346.8" rx="2.5" ry="1.5" fill="#90af32"/>
<rect x="883.1" y="345.3" width="5" height="1.5" fill="#90af32"/>
<ellipse cx="885.6" cy="345.3" rx="2.5" ry="1.5" fill="#c6e666"/>
<ellipse cx="890.8" cy="352.6" rx="2.5" ry="1.5" fill="#90af32"/>
<rect x="888.3" y="351.2" width="5" height="1.5" fill="#90af32"/>
<ellipse cx="890.8" cy="351.2" rx="2.5" ry="1.5" fill="#c6e666"/>
<ellipse cx="896" cy="358.5" rx="2.5" ry="1.5" fill="#90af32"/>
<rect x="893.6" y="357" width="5" height="1.5" fill="#90af32"/>
<ellipse cx="896" cy="357" rx="2.5" ry="1.5" fill="#c6e666"/>
<ellipse cx="901.3" cy="364.4" rx="2.5" ry="1.5" fill="#90af32"/>
<rect x="898.8" y="362.9" width="5" height="1.5" fill="#90af32"/>
<ellipse cx="901.3" cy="362.9" rx="2.5" ry="1.5" fill="#c6e666"/>
<ellipse cx="886" cy="338.5" rx="2.5" ry="1.5" fill="#90af32"/>
<rect x="883.6" y="337" width="5" height="1.5" fill="#90af32"/>
<ellipse cx="886" cy="337" rx="2.5" ry="1.5" fill="#c6e666"/>
<ellipse cx="891.3" cy="344.4" rx="2.5" ry="1.5" fill="#90af32"/>
<rect x="888.8" y="342.9" width="5" height="1.5" fill="#90af32"/>
<ellipse cx="891.3" cy="342.9" rx="2.5" ry="1.5" fill="#c6e666"/>
<ellipse cx="896.5" cy="350.2" rx="2.5" ry="1.5" fill="#90af32"/>
<rect x="894" y="348.8" width="5" height="1.5" fill="#90af32"/>
<ellipse cx="896.5" cy="348.8" rx="2.5" ry="1.5" fill="#c6e666"/>
<ellipse cx="901.8" cy="356.1" rx="2.5" ry="1.5" fill="#90af32"/>
<rect x="899.3" y="354.6" width="5" height="1.5" fill="#90af32"/>
<ellipse cx="901.8" cy="354.6" rx="2.5" ry="1.5" fill="#c6e666"/>
<ellipse cx="907" cy="362" rx="2.5" ry="1.5" fill="#90af32"/>
<rect x="904.5" y="360.5" width="5" height="1.5" fill="#90af32"/>
<ellipse cx="907" cy="360.5" rx="2.5" ry="1.5" fill="#c6e666"/>
<ellipse cx="891.8" cy="336.1" rx="2.5" ry="1.5" fill="#90af32"/>
<rect x="889.3" y="334.6" width="5" height="1.5" fill="#90af32"/>
<ellipse cx="891.8" cy="334.6" rx="2.5" ry="1.5" fill="#c6e666"/>
<ellipse cx="897" cy="342" rx="2.5" ry="1.5" fill="#90af32"/>
<rect x="894.5" y="340.5" width="5" height="1.5" fill="#90af32"/>
<ellipse cx="897" cy="340.5" rx="2.5" ry="1.5" fill="#c6e666"/>
<ellipse cx="902.2" cy="347.9" rx="2.5" ry="1.5" fill="#90af32"/>
<rect x="899.8" y="346.4" width="5" height="1.5" fill="#90af32"/>
<ellipse cx="902.2" cy="346.4" rx="2.5" ry="1.5" fill="#c6e666"/>
<ellipse cx="907.5" cy="353.7" rx="2.5" ry="1.5" fill="#90af32"/>
<rect x="905" y="352.2" width="5" height="1.5" fill="#90af32"/>
<ellipse cx="907.5" cy="352.2" rx="2.5" ry="1.5" fill="#c6e666"/>
<ellipse cx="912.7" cy="359.6" rx="2.5" ry="1.5" fill="#90af32"/>
<rect x="910.2" y="358.1" width="5" height="1.5" fill="#90af32"/>
<ellipse cx="912.7" cy="358.1" rx="2.5" ry="1.5" fill="#c6e666"/>
<polygon points="863.4,333.4 866.4,336 866.4,348 863.4,345.4" fill="#f1823e"/>
<polygon points="866,336 873,333.9 873,345.9 866,348" fill="#e2732f"/>
<polygon points="863.4,333.4 866,336 873,333.9 870.4,331.3" fill="#f28a4b"/>
<ellipse cx="866.5" cy="334.2" rx="1.6" ry="1" fill="#e67530"/>
<rect x="864.8" y="332.9" width="3.2" height="1.3" fill="#e67530"/>
<ellipse cx="866.5" cy="332.9" rx="1.6" ry="1" fill="#f49b65"/>
<ellipse cx="870" cy="333.1" rx="1.6" ry="1" fill="#e67530"/>
<rect x="868.3" y="331.8" width="3.2" height="1.3" fill="#e67530"/>
<ellipse cx="870" cy="331.8" rx="1.6" ry="1" fill="#f49b65"/>
<polygon points="903,342.2 905.4,347 905.4,356 903,351.2" fill="#6ba9e4"/>
<polygon points="905,347 920,342.5 920,351.5 905,356" fill="#5c9ad4"/>
<polygon points="903,342.2 905,347 920,342.5 918,337.7" fill="#75afe5"/>
<ellipse cx="907.8" cy="343.5" rx="2.3" ry="1.4" fill="#5e9dd9"/>
<rect x="905.5" y="341.6" width="4.6" height="1.8" fill="#5e9dd9"/>
<ellipse cx="907.8" cy="341.6" rx="2.3" ry="1.4" fill="#89bbe9"/>
<ellipse cx="915.2" cy="341.2" rx="2.3" ry="1.4" fill="#5e9dd9"/>
<rect x="913" y="339.4" width="4.6" height="1.8" fill="#5e9dd9"/>
<ellipse cx="915.2" cy="339.4" rx="2.3" ry="1.4" fill="#89bbe9"/>
<polygon points="892,335.2 894.4,340 894.4,348 892,343.2" fill="#f1823e"/>
<polygon points="894,340 907.5,335.9 907.5,343.9 894,348" fill="#e2732f"/>
<polygon points="892,335.2 894,340 907.5,335.9 905.5,331.1" fill="#f28a4b"/>
<ellipse cx="896.4" cy="336.6" rx="2.3" ry="1.4" fill="#e67530"/>
<rect x="894.1" y="334.8" width="4.6" height="1.8" fill="#e67530"/>
<ellipse cx="896.4" cy="334.8" rx="2.3" ry="1.4" fill="#f49b65"/>
<ellipse cx="903.1" cy="334.6" rx="2.3" ry="1.4" fill="#e67530"/>
<rect x="900.8" y="332.7" width="4.6" height="1.8" fill="#e67530"/>
<ellipse cx="903.1" cy="332.7" rx="2.3" ry="1.4" fill="#f49b65"/>
<polygon points="871.7,342.5 874.4,348 874.4,358 871.7,352.5" fill="#6ba9e4"/>
<polygon points="874,348 887,344.1 887,354.1 874,358" fill="#5c9ad4"/>
<polygon points="871.7,342.5 874,348 887,344.1 884.7,338.6" fill="#75afe5"/>
<ellipse cx="876.1" cy="344.3" rx="2.6" ry="1.6" fill="#5e9dd9"/>
<rect x="873.5" y="342.2" width="5.3" height="2.1" fill="#5e9dd9"/>
<ellipse cx="876.1" cy="342.2" rx="2.6" ry="1.6" fill="#89bbe9"/>
<ellipse cx="882.6" cy="342.3" rx="2.6" ry="1.6" fill="#5e9dd9"/>
<rect x="880" y="340.2" width="5.3" height="2.1" fill="#5e9dd9"/>
<ellipse cx="882.6" cy="340.2" rx="2.6" ry="1.6" fill="#89bbe9"/>
<polygon points="881,348.2 883.4,353 883.4,362 881,357.2" fill="#48b353"/>
<polygon points="883,353 900.5,348.6 900.5,357.6 883,362" fill="#38a444"/>
<polygon points="881,348.2 883,353 900.5,348.6 898.5,343.8" fill="#53b85e"/>
<ellipse cx="886.4" cy="349.5" rx="2.3" ry="1.4" fill="#3aa745"/>
<rect x="884.1" y="347.7" width="4.6" height="1.8" fill="#3aa745"/>
<ellipse cx="886.4" cy="347.7" rx="2.3" ry="1.4" fill="#6dc276"/>
<ellipse cx="895.1" cy="347.3" rx="2.3" ry="1.4" fill="#3aa745"/>
<rect x="892.8" y="345.5" width="4.6" height="1.8" fill="#3aa745"/>
<ellipse cx="895.1" cy="345.5" rx="2.3" ry="1.4" fill="#6dc276"/>
<polygon points="920.3,345.3 927.4,352 927.4,362 920.3,355.3" fill="#f1823e"/>
<polygon points="927,352 933.7,348.6 933.7,358.6 927,362" fill="#e2732f"/>
<polygon points="920.3,345.3 927,352 933.7,348.6 927,341.9" fill="#f28a4b"/>
<ellipse cx="925.3" cy="345.3" rx="2.1" ry="1.3" fill="#e67530"/>
<rect x="923.2" y="343.6" width="4.2" height="1.7" fill="#e67530"/>
<ellipse cx="925.3" cy="343.6" rx="2.1" ry="1.3" fill="#f49b65"/>
<ellipse cx="928.7" cy="348.6" rx="2.1" ry="1.3" fill="#e67530"/>
<rect x="926.6" y="347" width="4.2" height="1.7" fill="#e67530"/>
<ellipse cx="928.7" cy="347" rx="2.1" ry="1.3" fill="#f49b65"/>
<polygon points="801.2,389.3 809.2,409.3 809.2,415 801.2,395" fill="#2b883b"/>
<polygon points="809.2,409.3 871.7,387.3 871.7,393 809.2,415" fill="#277934"/>
<polygon points="801.2,390 845,374 871.7,388 809.2,410" fill="#2f9440"/>
<ellipse cx="805.3" cy="391.4" rx="2.2" ry="1.3" fill="#257332"/>
<rect x="803.2" y="390.1" width="4.3" height="1.3" fill="#257332"/>
<ellipse cx="805.3" cy="390.1" rx="2.2" ry="1.3" fill="#59a966"/>
<ellipse cx="807.3" cy="396.4" rx="2.2" ry="1.3" fill="#257332"/>
<rect x="805.2" y="395.1" width="4.3" height="1.3" fill="#257332"/>
<ellipse cx="807.3" cy="395.1" rx="2.2" ry="1.3" fill="#59a966"/>
<ellipse cx="809.3" cy="401.4" rx="2.2" ry="1.3" fill="#257332"/>
<rect x="807.2" y="400.1" width="4.3" height="1.3" fill="#257332"/>
<ellipse cx="809.3" cy="400.1" rx="2.2" ry="1.3" fill="#59a966"/>
<ellipse cx="811.3" cy="406.4" rx="2.2" ry="1.3" fill="#257332"/>
<rect x="809.2" y="405.1" width="4.3" height="1.3" fill="#257332"/>
<ellipse cx="811.3" cy="405.1" rx="2.2" ry="1.3" fill="#59a966"/>
<ellipse cx="811.6" cy="389.1" rx="2.2" ry="1.3" fill="#257332"/>
<rect x="809.4" y="387.8" width="4.3" height="1.3" fill="#257332"/>
<ellipse cx="811.6" cy="387.8" rx="2.2" ry="1.3" fill="#59a966"/>
<ellipse cx="813.6" cy="394.1" rx="2.2" ry="1.3" fill="#257332"/>
<rect x="811.4" y="392.8" width="4.3" height="1.3" fill="#257332"/>
<ellipse cx="813.6" cy="392.8" rx="2.2" ry="1.3" fill="#59a966"/>
<ellipse cx="815.6" cy="399.1" rx="2.2" ry="1.3" fill="#257332"/>
<rect x="813.4" y="397.8" width="4.3" height="1.3" fill="#257332"/>
<ellipse cx="815.6" cy="397.8" rx="2.2" ry="1.3" fill="#59a966"/>
<ellipse cx="817.6" cy="404.1" rx="2.2" ry="1.3" fill="#257332"/>
<rect x="815.4" y="402.8" width="4.3" height="1.3" fill="#257332"/>
<ellipse cx="817.6" cy="402.8" rx="2.2" ry="1.3" fill="#59a966"/>
<ellipse cx="817.8" cy="386.8" rx="2.2" ry="1.3" fill="#257332"/>
<rect x="815.7" y="385.5" width="4.3" height="1.3" fill="#257332"/>
<ellipse cx="817.8" cy="385.5" rx="2.2" ry="1.3" fill="#59a966"/>
<ellipse cx="819.8" cy="391.8" rx="2.2" ry="1.3" fill="#257332"/>
<rect x="817.7" y="390.5" width="4.3" height="1.3" fill="#257332"/>
<ellipse cx="819.8" cy="390.5" rx="2.2" ry="1.3" fill="#59a966"/>
<ellipse cx="821.8" cy="396.8" rx="2.2" ry="1.3" fill="#257332"/>
<rect x="819.7" y="395.5" width="4.3" height="1.3" fill="#257332"/>
<ellipse cx="821.8" cy="395.5" rx="2.2" ry="1.3" fill="#59a966"/>
<ellipse cx="823.8" cy="401.8" rx="2.2" ry="1.3" fill="#257332"/>
<rect x="821.7" y="400.5" width="4.3" height="1.3" fill="#257332"/>
<ellipse cx="823.8" cy="400.5" rx="2.2" ry="1.3" fill="#59a966"/>
<ellipse cx="824.1" cy="384.5" rx="2.2" ry="1.3" fill="#257332"/>
<rect x="821.9" y="383.2" width="4.3" height="1.3" fill="#257332"/>
<ellipse cx="824.1" cy="383.2" rx="2.2" ry="1.3" fill="#59a966"/>
<ellipse cx="826.1" cy="389.5" rx="2.2" ry="1.3" fill="#257332"/>
<rect x="823.9" y="388.2" width="4.3" height="1.3" fill="#257332"/>
<ellipse cx="826.1" cy="388.2" rx="2.2" ry="1.3" fill="#59a966"/>
<ellipse cx="828.1" cy="394.5" rx="2.2" ry="1.3" fill="#257332"/>
<rect x="825.9" y="393.2" width="4.3" height="1.3" fill="#257332"/>
<ellipse cx="828.1" cy="393.2" rx="2.2" ry="1.3" fill="#59a966"/>
<ellipse cx="830.1" cy="399.5" rx="2.2" ry="1.3" fill="#257332"/>
<rect x="827.9" y="398.2" width="4.3" height="1.3" fill="#257332"/>
<ellipse cx="830.1" cy="398.2" rx="2.2" ry="1.3" fill="#59a966"/>
<ellipse cx="830.4" cy="382.2" rx="2.2" ry="1.3" fill="#257332"/>
<rect x="828.2" y="380.9" width="4.3" height="1.3" fill="#257332"/>
<ellipse cx="830.4" cy="380.9" rx="2.2" ry="1.3" fill="#59a966"/>
<ellipse cx="832.4" cy="387.2" rx="2.2" ry="1.3" fill="#257332"/>
<rect x="830.2" y="385.9" width="4.3" height="1.3" fill="#257332"/>
<ellipse cx="832.4" cy="385.9" rx="2.2" ry="1.3" fill="#59a966"/>
<ellipse cx="834.4" cy="392.2" rx="2.2" ry="1.3" fill="#257332"/>
<rect x="832.2" y="390.9" width="4.3" height="1.3" fill="#257332"/>
<ellipse cx="834.4" cy="390.9" rx="2.2" ry="1.3" fill="#59a966"/>
<ellipse cx="836.4" cy="397.2" rx="2.2" ry="1.3" fill="#257332"/>
<rect x="834.2" y="395.9" width="4.3" height="1.3" fill="#257332"/>
<ellipse cx="836.4" cy="395.9" rx="2.2" ry="1.3" fill="#59a966"/>
<ellipse cx="836.6" cy="379.9" rx="2.2" ry="1.3" fill="#257332"/>
<rect x="834.5" y="378.6" width="4.3" height="1.3" fill="#257332"/>
<ellipse cx="836.6" cy="378.6" rx="2.2" ry="1.3" fill="#59a966"/>
<ellipse cx="838.6" cy="384.9" rx="2.2" ry="1.3" fill="#257332"/>
<rect x="836.5" y="383.6" width="4.3" height="1.3" fill="#257332"/>
<ellipse cx="838.6" cy="383.6" rx="2.2" ry="1.3" fill="#59a966"/>
<ellipse cx="840.6" cy="389.9" rx="2.2" ry="1.3" fill="#257332"/>
<rect x="838.5" y="388.6" width="4.3" height="1.3" fill="#257332"/>
<ellipse cx="840.6" cy="388.6" rx="2.2" ry="1.3" fill="#59a966"/>
<ellipse cx="842.6" cy="394.9" rx="2.2" ry="1.3" fill="#257332"/>
<rect x="840.5" y="393.6" width="4.3" height="1.3" fill="#257332"/>
<ellipse cx="842.6" cy="393.6" rx="2.2" ry="1.3" fill="#59a966"/>
<ellipse cx="842.9" cy="377.6" rx="2.2" ry="1.3" fill="#257332"/>
<rect x="840.7" y="376.4" width="4.3" height="1.3" fill="#257332"/>
<ellipse cx="842.9" cy="376.4" rx="2.2" ry="1.3" fill="#59a966"/>
<ellipse cx="844.9" cy="382.6" rx="2.2" ry="1.3" fill="#257332"/>
<rect x="842.7" y="381.4" width="4.3" height="1.3" fill="#257332"/>
<ellipse cx="844.9" cy="381.4" rx="2.2" ry="1.3" fill="#59a966"/>
<ellipse cx="846.9" cy="387.6" rx="2.2" ry="1.3" fill="#257332"/>
<rect x="844.7" y="386.4" width="4.3" height="1.3" fill="#257332"/>
<ellipse cx="846.9" cy="386.4" rx="2.2" ry="1.3" fill="#59a966"/>
<ellipse cx="848.9" cy="392.6" rx="2.2" ry="1.3" fill="#257332"/>
<rect x="846.7" y="391.4" width="4.3" height="1.3" fill="#257332"/>
<ellipse cx="848.9" cy="391.4" rx="2.2" ry="1.3" fill="#59a966"/>
<polygon points="801.2,401 808,399 816.8,407 816.8,416 808,418 801.2,408" fill="#b8e040"/>
<polygon points="820,367.6 824.4,374 824.4,384 820,377.6" fill="#6ba9e4"/>
<polygon points="824,374 836,369.2 836,379.2 824,384" fill="#5c9ad4"/>
<polygon points="820,367.6 824,374 836,369.2 832,362.8" fill="#75afe5"/>
<ellipse cx="825" cy="369.6" rx="2.8" ry="1.7" fill="#5e9dd9"/>
<rect x="822.2" y="367.4" width="5.6" height="2.2" fill="#5e9dd9"/>
<ellipse cx="825" cy="367.4" rx="2.8" ry="1.7" fill="#89bbe9"/>
<ellipse cx="831" cy="367.2" rx="2.8" ry="1.7" fill="#5e9dd9"/>
<rect x="828.2" y="365" width="5.6" height="2.2" fill="#5e9dd9"/>
<ellipse cx="831" cy="365" rx="2.8" ry="1.7" fill="#89bbe9"/>
<polygon points="848.7,371.5 851.4,377 851.4,386.5 848.7,381" fill="#f1823e"/>
<polygon points="851,377 871.7,370.8 871.7,380.3 851,386.5" fill="#e2732f"/>
<polygon points="848.7,380.5 851.4,386 851.4,395 848.7,389.5" fill="#48b353"/>
<polygon points="851,386 871.7,379.8 871.7,388.8 851,395" fill="#38a444"/>
<polygon points="848.7,371.5 851,377 871.7,370.8 869.4,365.3" fill="#f28a4b"/>
<ellipse cx="855" cy="372.7" rx="2.6" ry="1.6" fill="#e67530"/>
<rect x="852.4" y="370.6" width="5.3" height="2.1" fill="#e67530"/>
<ellipse cx="855" cy="370.6" rx="2.6" ry="1.6" fill="#f49b65"/>
<ellipse cx="865.4" cy="369.6" rx="2.6" ry="1.6" fill="#e67530"/>
<rect x="862.7" y="367.5" width="5.3" height="2.1" fill="#e67530"/>
<ellipse cx="865.4" cy="367.5" rx="2.6" ry="1.6" fill="#f49b65"/>
<polygon points="880,407.2 882.4,412 882.4,436 880,431.2" fill="#48b353"/>
<polygon points="882,412 896.6,407.6 896.6,431.6 882,436" fill="#38a444"/>
<polygon points="922.8,409.1 924.4,412 924.4,422 922.8,419.1" fill="#f1823e"/>
<polygon points="924,412 936.2,408.3 936.2,418.3 924,422" fill="#e2732f"/>
<polygon points="875.6,402.1 896,422.3 896,427 875.6,406.8" fill="#a9ce3b"/>
<polygon points="896,422.3 942,403.9 942,408.6 896,427" fill="#97b834"/>
<polygon points="875.6,402.8 915,386 942,404.6 896,423" fill="#b8e040"/>
<ellipse cx="881.4" cy="403.9" rx="2.9" ry="1.8" fill="#90af32"/>
<rect x="878.6" y="402.2" width="5.7" height="1.7" fill="#90af32"/>
<ellipse cx="881.4" cy="402.2" rx="2.9" ry="1.8" fill="#c6e666"/>
<ellipse cx="886.5" cy="409" rx="2.9" ry="1.8" fill="#90af32"/>
<rect x="883.7" y="407.3" width="5.7" height="1.7" fill="#90af32"/>
<ellipse cx="886.5" cy="407.3" rx="2.9" ry="1.8" fill="#c6e666"/>
<ellipse cx="891.6" cy="414" rx="2.9" ry="1.8" fill="#90af32"/>
<rect x="888.8" y="412.3" width="5.7" height="1.7" fill="#90af32"/>
<ellipse cx="891.6" cy="412.3" rx="2.9" ry="1.8" fill="#c6e666"/>
<ellipse cx="896.7" cy="419.1" rx="2.9" ry="1.8" fill="#90af32"/>
<rect x="893.9" y="417.4" width="5.7" height="1.7" fill="#90af32"/>
<ellipse cx="896.7" cy="417.4" rx="2.9" ry="1.8" fill="#c6e666"/>
<ellipse cx="888" cy="401.1" rx="2.9" ry="1.8" fill="#90af32"/>
<rect x="885.1" y="399.4" width="5.7" height="1.7" fill="#90af32"/>
<ellipse cx="888" cy="399.4" rx="2.9" ry="1.8" fill="#c6e666"/>
<ellipse cx="893.1" cy="406.2" rx="2.9" ry="1.8" fill="#90af32"/>
<rect x="890.2" y="404.5" width="5.7" height="1.7" fill="#90af32"/>
<ellipse cx="893.1" cy="404.5" rx="2.9" ry="1.8" fill="#c6e666"/>
<ellipse cx="898.2" cy="411.2" rx="2.9" ry="1.8" fill="#90af32"/>
<rect x="895.3" y="409.5" width="5.7" height="1.7" fill="#90af32"/>
<ellipse cx="898.2" cy="409.5" rx="2.9" ry="1.8" fill="#c6e666"/>
<ellipse cx="903.3" cy="416.3" rx="2.9" ry="1.8" fill="#90af32"/>
<rect x="900.4" y="414.6" width="5.7" height="1.7" fill="#90af32"/>
<ellipse cx="903.3" cy="414.6" rx="2.9" ry="1.8" fill="#c6e666"/>
<ellipse cx="894.6" cy="398.3" rx="2.9" ry="1.8" fill="#90af32"/>
<rect x="891.7" y="396.6" width="5.7" height="1.7" fill="#90af32"/>
<ellipse cx="894.6" cy="396.6" rx="2.9" ry="1.8" fill="#c6e666"/>
<ellipse cx="899.7" cy="403.4" rx="2.9" ry="1.8" fill="#90af32"/>
<rect x="896.8" y="401.7" width="5.7" height="1.7" fill="#90af32"/>
<ellipse cx="899.7" cy="401.7" rx="2.9" ry="1.8" fill="#c6e666"/>
<ellipse cx="904.8" cy="408.4" rx="2.9" ry="1.8" fill="#90af32"/>
<rect x="901.9" y="406.7" width="5.7" height="1.7" fill="#90af32"/>
<ellipse cx="904.8" cy="406.7" rx="2.9" ry="1.8" fill="#c6e666"/>
<ellipse cx="909.9" cy="413.5" rx="2.9" ry="1.8" fill="#90af32"/>
<rect x="907" y="411.8" width="5.7" height="1.7" fill="#90af32"/>
<ellipse cx="909.9" cy="411.8" rx="2.9" ry="1.8" fill="#c6e666"/>
<ellipse cx="901.1" cy="395.5" rx="2.9" ry="1.8" fill="#90af32"/>
<rect x="898.3" y="393.8" width="5.7" height="1.7" fill="#90af32"/>
<ellipse cx="901.1" cy="393.8" rx="2.9" ry="1.8" fill="#c6e666"/>
<ellipse cx="906.2" cy="400.6" rx="2.9" ry="1.8" fill="#90af32"/>
<rect x="903.4" y="398.9" width="5.7" height="1.7" fill="#90af32"/>
<ellipse cx="906.2" cy="398.9" rx="2.9" ry="1.8" fill="#c6e666"/>
<ellipse cx="911.3" cy="405.6" rx="2.9" ry="1.8" fill="#90af32"/>
<rect x="908.5" y="403.9" width="5.7" height="1.7" fill="#90af32"/>
<ellipse cx="911.3" cy="403.9" rx="2.9" ry="1.8" fill="#c6e666"/>
<ellipse cx="916.4" cy="410.7" rx="2.9" ry="1.8" fill="#90af32"/>
<rect x="913.6" y="409" width="5.7" height="1.7" fill="#90af32"/>
<ellipse cx="916.4" cy="409" rx="2.9" ry="1.8" fill="#c6e666"/>
<ellipse cx="907.7" cy="392.7" rx="2.9" ry="1.8" fill="#90af32"/>
<rect x="904.8" y="391" width="5.7" height="1.7" fill="#90af32"/>
<ellipse cx="907.7" cy="391" rx="2.9" ry="1.8" fill="#c6e666"/>
<ellipse cx="912.8" cy="397.8" rx="2.9" ry="1.8" fill="#90af32"/>
<rect x="909.9" y="396.1" width="5.7" height="1.7" fill="#90af32"/>
<ellipse cx="912.8" cy="396.1" rx="2.9" ry="1.8" fill="#c6e666"/>
<ellipse cx="917.9" cy="402.8" rx="2.9" ry="1.8" fill="#90af32"/>
<rect x="915" y="401.1" width="5.7" height="1.7" fill="#90af32"/>
<ellipse cx="917.9" cy="401.1" rx="2.9" ry="1.8" fill="#c6e666"/>
<ellipse cx="923" cy="407.9" rx="2.9" ry="1.8" fill="#90af32"/>
<rect x="920.1" y="406.2" width="5.7" height="1.7" fill="#90af32"/>
<ellipse cx="923" cy="406.2" rx="2.9" ry="1.8" fill="#c6e666"/>
<ellipse cx="914.3" cy="389.9" rx="2.9" ry="1.8" fill="#90af32"/>
<rect x="911.4" y="388.2" width="5.7" height="1.7" fill="#90af32"/>
<ellipse cx="914.3" cy="388.2" rx="2.9" ry="1.8" fill="#c6e666"/>
<ellipse cx="919.4" cy="395" rx="2.9" ry="1.8" fill="#90af32"/>
<rect x="916.5" y="393.3" width="5.7" height="1.7" fill="#90af32"/>
<ellipse cx="919.4" cy="393.3" rx="2.9" ry="1.8" fill="#c6e666"/>
<ellipse cx="924.5" cy="400" rx="2.9" ry="1.8" fill="#90af32"/>
<rect x="921.6" y="398.3" width="5.7" height="1.7" fill="#90af32"/>
<ellipse cx="924.5" cy="398.3" rx="2.9" ry="1.8" fill="#c6e666"/>
<ellipse cx="929.6" cy="405.1" rx="2.9" ry="1.8" fill="#90af32"/>
<rect x="926.7" y="403.4" width="5.7" height="1.7" fill="#90af32"/>
<ellipse cx="929.6" cy="403.4" rx="2.9" ry="1.8" fill="#c6e666"/>
<polygon points="892,385.2 894.4,390 894.4,398 892,393.2" fill="#48b353"/>
<polygon points="894,390 912,384.6 912,392.6 894,398" fill="#38a444"/>
<polygon points="892,385.2 894,390 912,384.6 910,379.8" fill="#53b85e"/>
<ellipse cx="897.5" cy="386.2" rx="2.3" ry="1.4" fill="#3aa745"/>
<rect x="895.2" y="384.4" width="4.6" height="1.8" fill="#3aa745"/>
<ellipse cx="897.5" cy="384.4" rx="2.3" ry="1.4" fill="#6dc276"/>
<ellipse cx="906.5" cy="383.6" rx="2.3" ry="1.4" fill="#3aa745"/>
<rect x="904.2" y="381.7" width="4.6" height="1.8" fill="#3aa745"/>
<ellipse cx="906.5" cy="381.7" rx="2.3" ry="1.4" fill="#6dc276"/>
<polygon points="901,380.2 903.4,385 903.4,393 901,388.2" fill="#6ba9e4"/>
<polygon points="903,385 916.5,380.9 916.5,388.9 903,393" fill="#5c9ad4"/>
<polygon points="901,380.2 903,385 916.5,380.9 914.5,376.1" fill="#75afe5"/>
<ellipse cx="905.4" cy="381.6" rx="2.3" ry="1.4" fill="#5e9dd9"/>
<rect x="903.1" y="379.8" width="4.6" height="1.8" fill="#5e9dd9"/>
<ellipse cx="905.4" cy="379.8" rx="2.3" ry="1.4" fill="#89bbe9"/>
<ellipse cx="912.1" cy="379.6" rx="2.3" ry="1.4" fill="#5e9dd9"/>
<rect x="909.8" y="377.7" width="4.6" height="1.8" fill="#5e9dd9"/>
<ellipse cx="912.1" cy="377.7" rx="2.3" ry="1.4" fill="#89bbe9"/>
<polygon points="916.5,389.4 918.4,393 918.4,403 916.5,399.4" fill="#48b353"/>
<polygon points="918,393 935,387.9 935,397.9 918,403" fill="#38a444"/>
<polygon points="916.5,389.4 918,393 935,387.9 933.5,384.3" fill="#53b85e"/>
<ellipse cx="921.5" cy="389.9" rx="1.7" ry="1.1" fill="#3aa745"/>
<rect x="919.8" y="388.6" width="3.4" height="1.4" fill="#3aa745"/>
<ellipse cx="921.5" cy="388.6" rx="1.7" ry="1.1" fill="#6dc276"/>
<ellipse cx="930" cy="387.4" rx="1.7" ry="1.1" fill="#3aa745"/>
<rect x="928.3" y="386" width="3.4" height="1.4" fill="#3aa745"/>
<ellipse cx="930" cy="386" rx="1.7" ry="1.1" fill="#6dc276"/>
<polygon points="928,382.2 930.4,387 930.4,399 928,394.2" fill="#f1823e"/>
<polygon points="930,387 942.6,383.2 942.6,395.2 930,399" fill="#e2732f"/>
<polygon points="928,382.2 930,387 942.6,383.2 940.6,378.4" fill="#f28a4b"/>
<ellipse cx="932.1" cy="383.7" rx="2.3" ry="1.4" fill="#e67530"/>
<rect x="929.9" y="381.8" width="4.6" height="1.8" fill="#e67530"/>
<ellipse cx="932.1" cy="381.8" rx="2.3" ry="1.4" fill="#f49b65"/>
<ellipse cx="938.5" cy="381.8" rx="2.3" ry="1.4" fill="#e67530"/>
<rect x="936.2" y="379.9" width="4.6" height="1.8" fill="#e67530"/>
<ellipse cx="938.5" cy="379.9" rx="2.3" ry="1.4" fill="#f49b65"/>
<polygon points="885,395.2 887.4,400 887.4,409 885,404.2" fill="#6ba9e4"/>
<polygon points="887,400 905.5,394.4 905.5,403.4 887,409" fill="#5c9ad4"/>
<polygon points="885,395.2 887,400 905.5,394.4 903.5,389.6" fill="#75afe5"/>
<ellipse cx="890.6" cy="396.2" rx="2.3" ry="1.4" fill="#5e9dd9"/>
<rect x="888.3" y="394.4" width="4.6" height="1.8" fill="#5e9dd9"/>
<ellipse cx="890.6" cy="394.4" rx="2.3" ry="1.4" fill="#89bbe9"/>
<ellipse cx="899.9" cy="393.4" rx="2.3" ry="1.4" fill="#5e9dd9"/>
<rect x="897.6" y="391.6" width="4.6" height="1.8" fill="#5e9dd9"/>
<ellipse cx="899.9" cy="391.6" rx="2.3" ry="1.4" fill="#89bbe9"/>
<polygon points="902.5,393.4 904.4,397 904.4,409 902.5,405.4" fill="#f1823e"/>
<polygon points="904,397 919,392.5 919,404.5 904,409" fill="#e2732f"/>
<polygon points="902.5,393.4 904,397 919,392.5 917.5,388.9" fill="#f28a4b"/>
<ellipse cx="907" cy="394.1" rx="1.7" ry="1.1" fill="#e67530"/>
<rect x="905.3" y="392.7" width="3.4" height="1.4" fill="#e67530"/>
<ellipse cx="907" cy="392.7" rx="1.7" ry="1.1" fill="#f49b65"/>
<ellipse cx="914.5" cy="391.8" rx="1.7" ry="1.1" fill="#e67530"/>
<rect x="912.8" y="390.5" width="3.4" height="1.4" fill="#e67530"/>
<ellipse cx="914.5" cy="390.5" rx="1.7" ry="1.1" fill="#f49b65"/>
<polygon points="818.7,439.1 835.3,463.3 835.3,468 818.7,443.8" fill="#a9ce3b"/>
<polygon points="835.3,463.3 885.1,439.7 885.1,444.4 835.3,468" fill="#97b834"/>
<polygon points="818.7,439.8 861.5,422.6 885.1,440.4 835.3,464" fill="#b8e040"/>
<ellipse cx="824.3" cy="441.4" rx="2.9" ry="1.8" fill="#90af32"/>
<rect x="821.4" y="439.6" width="5.9" height="1.8" fill="#90af32"/>
<ellipse cx="824.3" cy="439.6" rx="2.9" ry="1.8" fill="#c6e666"/>
<ellipse cx="828.5" cy="447.4" rx="2.9" ry="1.8" fill="#90af32"/>
<rect x="825.6" y="445.7" width="5.9" height="1.8" fill="#90af32"/>
<ellipse cx="828.5" cy="445.7" rx="2.9" ry="1.8" fill="#c6e666"/>
<ellipse cx="832.6" cy="453.5" rx="2.9" ry="1.8" fill="#90af32"/>
<rect x="829.7" y="451.7" width="5.9" height="1.8" fill="#90af32"/>
<ellipse cx="832.6" cy="451.7" rx="2.9" ry="1.8" fill="#c6e666"/>
<ellipse cx="836.8" cy="459.5" rx="2.9" ry="1.8" fill="#90af32"/>
<rect x="833.9" y="457.8" width="5.9" height="1.8" fill="#90af32"/>
<ellipse cx="836.8" cy="457.8" rx="2.9" ry="1.8" fill="#c6e666"/>
<ellipse cx="831.5" cy="438.5" rx="2.9" ry="1.8" fill="#90af32"/>
<rect x="828.5" y="436.8" width="5.9" height="1.8" fill="#90af32"/>
<ellipse cx="831.5" cy="436.8" rx="2.9" ry="1.8" fill="#c6e666"/>
<ellipse cx="835.6" cy="444.6" rx="2.9" ry="1.8" fill="#90af32"/>
<rect x="832.7" y="442.8" width="5.9" height="1.8" fill="#90af32"/>
<ellipse cx="835.6" cy="442.8" rx="2.9" ry="1.8" fill="#c6e666"/>
<ellipse cx="839.8" cy="450.6" rx="2.9" ry="1.8" fill="#90af32"/>
<rect x="836.8" y="448.9" width="5.9" height="1.8" fill="#90af32"/>
<ellipse cx="839.8" cy="448.9" rx="2.9" ry="1.8" fill="#c6e666"/>
<ellipse cx="843.9" cy="456.7" rx="2.9" ry="1.8" fill="#90af32"/>
<rect x="841" y="454.9" width="5.9" height="1.8" fill="#90af32"/>
<ellipse cx="843.9" cy="454.9" rx="2.9" ry="1.8" fill="#c6e666"/>
<ellipse cx="838.6" cy="435.7" rx="2.9" ry="1.8" fill="#90af32"/>
<rect x="835.7" y="433.9" width="5.9" height="1.8" fill="#90af32"/>
<ellipse cx="838.6" cy="433.9" rx="2.9" ry="1.8" fill="#c6e666"/>
<ellipse cx="842.8" cy="441.7" rx="2.9" ry="1.8" fill="#90af32"/>
<rect x="839.8" y="439.9" width="5.9" height="1.8" fill="#90af32"/>
<ellipse cx="842.8" cy="439.9" rx="2.9" ry="1.8" fill="#c6e666"/>
<ellipse cx="846.9" cy="447.8" rx="2.9" ry="1.8" fill="#90af32"/>
<rect x="844" y="446" width="5.9" height="1.8" fill="#90af32"/>
<ellipse cx="846.9" cy="446" rx="2.9" ry="1.8" fill="#c6e666"/>
<ellipse cx="851.1" cy="453.8" rx="2.9" ry="1.8" fill="#90af32"/>
<rect x="848.1" y="452" width="5.9" height="1.8" fill="#90af32"/>
<ellipse cx="851.1" cy="452" rx="2.9" ry="1.8" fill="#c6e666"/>
<ellipse cx="845.7" cy="432.8" rx="2.9" ry="1.8" fill="#90af32"/>
<rect x="842.8" y="431" width="5.9" height="1.8" fill="#90af32"/>
<ellipse cx="845.7" cy="431" rx="2.9" ry="1.8" fill="#c6e666"/>
<ellipse cx="849.9" cy="438.8" rx="2.9" ry="1.8" fill="#90af32"/>
<rect x="847" y="437.1" width="5.9" height="1.8" fill="#90af32"/>
<ellipse cx="849.9" cy="437.1" rx="2.9" ry="1.8" fill="#c6e666"/>
<ellipse cx="854" cy="444.9" rx="2.9" ry="1.8" fill="#90af32"/>
<rect x="851.1" y="443.1" width="5.9" height="1.8" fill="#90af32"/>
<ellipse cx="854" cy="443.1" rx="2.9" ry="1.8" fill="#c6e666"/>
<ellipse cx="858.2" cy="450.9" rx="2.9" ry="1.8" fill="#90af32"/>
<rect x="855.3" y="449.2" width="5.9" height="1.8" fill="#90af32"/>
<ellipse cx="858.2" cy="449.2" rx="2.9" ry="1.8" fill="#c6e666"/>
<ellipse cx="852.9" cy="429.9" rx="2.9" ry="1.8" fill="#90af32"/>
<rect x="849.9" y="428.2" width="5.9" height="1.8" fill="#90af32"/>
<ellipse cx="852.9" cy="428.2" rx="2.9" ry="1.8" fill="#c6e666"/>
<ellipse cx="857" cy="436" rx="2.9" ry="1.8" fill="#90af32"/>
<rect x="854.1" y="434.2" width="5.9" height="1.8" fill="#90af32"/>
<ellipse cx="857" cy="434.2" rx="2.9" ry="1.8" fill="#c6e666"/>
<ellipse cx="861.2" cy="442" rx="2.9" ry="1.8" fill="#90af32"/>
<rect x="858.2" y="440.3" width="5.9" height="1.8" fill="#90af32"/>
<ellipse cx="861.2" cy="440.3" rx="2.9" ry="1.8" fill="#c6e666"/>
<ellipse cx="865.3" cy="448.1" rx="2.9" ry="1.8" fill="#90af32"/>
<rect x="862.4" y="446.3" width="5.9" height="1.8" fill="#90af32"/>
<ellipse cx="865.3" cy="446.3" rx="2.9" ry="1.8" fill="#c6e666"/>
<ellipse cx="860" cy="427.1" rx="2.9" ry="1.8" fill="#90af32"/>
<rect x="857.1" y="425.3" width="5.9" height="1.8" fill="#90af32"/>
<ellipse cx="860" cy="425.3" rx="2.9" ry="1.8" fill="#c6e666"/>
<ellipse cx="864.2" cy="433.1" rx="2.9" ry="1.8" fill="#90af32"/>
<rect x="861.2" y="431.3" width="5.9" height="1.8" fill="#90af32"/>
<ellipse cx="864.2" cy="431.3" rx="2.9" ry="1.8" fill="#c6e666"/>
<ellipse cx="868.3" cy="439.2" rx="2.9" ry="1.8" fill="#90af32"/>
<rect x="865.4" y="437.4" width="5.9" height="1.8" fill="#90af32"/>
<ellipse cx="868.3" cy="437.4" rx="2.9" ry="1.8" fill="#c6e666"/>
<ellipse cx="872.5" cy="445.2" rx="2.9" ry="1.8" fill="#90af32"/>
<rect x="869.5" y="443.4" width="5.9" height="1.8" fill="#90af32"/>
<ellipse cx="872.5" cy="443.4" rx="2.9" ry="1.8" fill="#c6e666"/>
<path d="M864,418 L881,412 L889,419 L889,434 L872,440 L864,436 Z" fill="#f07a32"/>
<path d="M864,418 L881,412 L889,419 L871,425 Z" fill="#f38a48"/>
<polygon points="407.5,317.2 418.4,327.7 418.4,335.7 407.5,325.2" fill="#48b353"/>
<polygon points="418,327.7 423.8,326.1 423.8,334.1 418,335.7" fill="#38a444"/>
<polygon points="407.5,324.7 418.4,335.2 418.4,343.2 407.5,332.7" fill="#f1823e"/>
<polygon points="418,335.2 423.8,333.6 423.8,341.6 418,343.2" fill="#e2732f"/>
<polygon points="407.5,332.2 418.4,342.7 418.4,347 407.5,336.5" fill="#379944"/>
<polygon points="418,342.7 423.8,341.1 423.8,345.4 418,347" fill="#278935"/>
<polygon points="407.5,336 418.4,346.5 418.4,350.8 407.5,340.3" fill="#b7de48"/>
<polygon points="418,346.5 423.8,344.9 423.8,349.2 418,350.8" fill="#a7cf38"/>
<polygon points="407.5,339.8 418.4,350.3 418.4,368.4 407.5,357.9" fill="#6ba9e4"/>
<polygon points="418,350.3 423.8,348.7 423.8,366.8 418,368.4" fill="#5c9ad4"/>
<polygon points="407.5,317.2 418,327.7 423.8,326.1 413.3,315.6" fill="#53b85e"/>
<ellipse cx="413" cy="319" rx="2.7" ry="1.6" fill="#3aa745"/>
<rect x="410.4" y="316.9" width="5.3" height="2.1" fill="#3aa745"/>
<ellipse cx="413" cy="316.9" rx="2.7" ry="1.6" fill="#6dc276"/>
<ellipse cx="418.3" cy="324.3" rx="2.7" ry="1.6" fill="#3aa745"/>
<rect x="415.6" y="322.1" width="5.3" height="2.1" fill="#3aa745"/>
<ellipse cx="418.3" cy="322.1" rx="2.7" ry="1.6" fill="#6dc276"/>
<polygon points="428.2,299.2 437.4,308 437.4,312.5 428.2,303.7" fill="#b7de48"/>
<polygon points="437,308 442.6,306.3 442.6,310.8 437,312.5" fill="#a7cf38"/>
<polygon points="428.2,303.2 437.4,312 437.4,320 428.2,311.2" fill="#6ba9e4"/>
<polygon points="437,312 442.6,310.3 442.6,318.3 437,320" fill="#5c9ad4"/>
<polygon points="428.2,310.7 437.4,319.5 437.4,328.5 428.2,319.7" fill="#f1823e"/>
<polygon points="437,319.5 442.6,317.8 442.6,326.8 437,328.5" fill="#e2732f"/>
<polygon points="428.2,319.2 437.4,328 437.4,333.3 428.2,324.5" fill="#379944"/>
<polygon points="437,328 442.6,326.3 442.6,331.6 437,333.3" fill="#278935"/>
<polygon points="428.2,299.2 437,308 442.6,306.3 433.8,297.5" fill="#bbe053"/>
<ellipse cx="433.2" cy="300.6" rx="2.6" ry="1.6" fill="#abd33a"/>
<rect x="430.6" y="298.5" width="5.1" height="2.1" fill="#abd33a"/>
<ellipse cx="433.2" cy="298.5" rx="2.6" ry="1.6" fill="#c5e56d"/>
<ellipse cx="437.6" cy="305" rx="2.6" ry="1.6" fill="#abd33a"/>
<rect x="435" y="302.9" width="5.1" height="2.1" fill="#abd33a"/>
<ellipse cx="437.6" cy="302.9" rx="2.6" ry="1.6" fill="#c5e56d"/>
<polygon points="463.9,281 466.4,286 466.4,294.5 463.9,289.5" fill="#6ba9e4"/>
<polygon points="466,286 482.7,281.8 482.7,290.3 466,294.5" fill="#5c9ad4"/>
<polygon points="463.9,289 466.4,294 466.4,298.5 463.9,293.5" fill="#379944"/>
<polygon points="466,294 482.7,289.8 482.7,294.3 466,298.5" fill="#278935"/>
<polygon points="463.9,293 466.4,298 466.4,302.5 463.9,297.5" fill="#b7de48"/>
<polygon points="466,298 482.7,293.8 482.7,298.3 466,302.5" fill="#a7cf38"/>
<polygon points="463.9,297 466.4,302 466.4,310 463.9,305" fill="#f1823e"/>
<polygon points="466,302 482.7,297.8 482.7,305.8 466,310" fill="#e2732f"/>
<polygon points="463.9,281 466,286 482.7,281.8 480.6,276.8" fill="#75afe5"/>
<ellipse cx="469.1" cy="282.4" rx="2.4" ry="1.5" fill="#5e9dd9"/>
<rect x="466.7" y="280.5" width="4.8" height="1.9" fill="#5e9dd9"/>
<ellipse cx="469.1" cy="280.5" rx="2.4" ry="1.5" fill="#89bbe9"/>
<ellipse cx="477.5" cy="280.3" rx="2.4" ry="1.5" fill="#5e9dd9"/>
<rect x="475.1" y="278.4" width="4.8" height="1.9" fill="#5e9dd9"/>
<ellipse cx="477.5" cy="278.4" rx="2.4" ry="1.5" fill="#89bbe9"/>
<polygon points="478.4,270.4 484.4,276 484.4,282.5 478.4,276.9" fill="#379944"/>
<polygon points="484,276 492.2,273.5 492.2,280 484,282.5" fill="#278935"/>
<polygon points="478.4,276.4 484.4,282 484.4,285.5 478.4,279.9" fill="#b7de48"/>
<polygon points="484,282 492.2,279.5 492.2,283 484,285.5" fill="#a7cf38"/>
<polygon points="478.4,279.4 484.4,285 484.4,290.5 478.4,284.9" fill="#379944"/>
<polygon points="484,285 492.2,282.5 492.2,288 484,290.5" fill="#278935"/>
<polygon points="478.4,284.4 484.4,290 484.4,300.5 478.4,294.9" fill="#6ba9e4"/>
<polygon points="484,290 492.2,287.5 492.2,298 484,300.5" fill="#5c9ad4"/>
<polygon points="478.4,294.4 484.4,300 484.4,303.5 478.4,297.9" fill="#b7de48"/>
<polygon points="484,300 492.2,297.5 492.2,301 484,303.5" fill="#a7cf38"/>
<polygon points="478.4,297.4 484.4,303 484.4,306 478.4,300.4" fill="#379944"/>
<polygon points="484,303 492.2,300.5 492.2,303.5 484,306" fill="#278935"/>
<polygon points="478.4,270.4 484,276 492.2,273.5 486.6,267.9" fill="#449f50"/>
<ellipse cx="483.2" cy="272.6" rx="1.9" ry="1.2" fill="#288c36"/>
<rect x="481.4" y="271.1" width="3.8" height="1.5" fill="#288c36"/>
<ellipse cx="483.2" cy="271.1" rx="1.9" ry="1.2" fill="#5fad6a"/>
<ellipse cx="487.3" cy="271.4" rx="1.9" ry="1.2" fill="#288c36"/>
<rect x="485.5" y="269.8" width="3.8" height="1.5" fill="#288c36"/>
<ellipse cx="487.3" cy="269.8" rx="1.9" ry="1.2" fill="#5fad6a"/>
<polygon points="494,274.2 496.4,279 496.4,291.5 494,286.7" fill="#f1823e"/>
<polygon points="496,279 516,274 516,286.5 496,291.5" fill="#e2732f"/>
<polygon points="494,286.2 496.4,291 496.4,299 494,294.2" fill="#48b353"/>
<polygon points="496,291 516,286 516,294 496,299" fill="#38a444"/>
<polygon points="494,274.2 496,279 516,274 514,269.2" fill="#f28a4b"/>
<ellipse cx="500" cy="275.4" rx="2.3" ry="1.4" fill="#e67530"/>
<rect x="497.7" y="273.5" width="4.6" height="1.8" fill="#e67530"/>
<ellipse cx="500" cy="273.5" rx="2.3" ry="1.4" fill="#f49b65"/>
<ellipse cx="510" cy="272.9" rx="2.3" ry="1.4" fill="#e67530"/>
<rect x="507.7" y="271" width="4.6" height="1.8" fill="#e67530"/>
<ellipse cx="510" cy="271" rx="2.3" ry="1.4" fill="#f49b65"/>
<polygon points="519.7,276.7 526.4,283 526.4,291 519.7,284.7" fill="#379944"/>
<polygon points="526,283 534.2,279.7 534.2,287.7 526,291" fill="#278935"/>
<polygon points="519.7,276.7 526,283 534.2,279.7 527.9,273.4" fill="#449f50"/>
<ellipse cx="525.4" cy="276.6" rx="2" ry="1.2" fill="#288c36"/>
<rect x="523.4" y="275.1" width="3.9" height="1.6" fill="#288c36"/>
<ellipse cx="525.4" cy="275.1" rx="2" ry="1.2" fill="#5fad6a"/>
<ellipse cx="528.5" cy="279.8" rx="2" ry="1.2" fill="#288c36"/>
<rect x="526.6" y="278.2" width="3.9" height="1.6" fill="#288c36"/>
<ellipse cx="528.5" cy="278.2" rx="2" ry="1.2" fill="#5fad6a"/>
<polygon points="532.9,289 535.4,294 535.4,302 532.9,297" fill="#6ba9e4"/>
<polygon points="535,294 545.4,290.9 545.4,298.9 535,302" fill="#5c9ad4"/>
<polygon points="532.9,289 535,294 545.4,290.9 543.3,285.8" fill="#75afe5"/>
<ellipse cx="536.5" cy="290.7" rx="2.4" ry="1.5" fill="#5e9dd9"/>
<rect x="534.2" y="288.8" width="4.8" height="1.9" fill="#5e9dd9"/>
<ellipse cx="536.5" cy="288.8" rx="2.4" ry="1.5" fill="#89bbe9"/>
<ellipse cx="541.8" cy="289.1" rx="2.4" ry="1.5" fill="#5e9dd9"/>
<rect x="539.4" y="287.2" width="4.8" height="1.9" fill="#5e9dd9"/>
<ellipse cx="541.8" cy="287.2" rx="2.4" ry="1.5" fill="#89bbe9"/>
<polygon points="542.9,298 545.4,303 545.4,313.5 542.9,308.5" fill="#48b353"/>
<polygon points="545,303 558.6,298.9 558.6,309.4 545,313.5" fill="#38a444"/>
<polygon points="542.9,308 545.4,313 545.4,317.5 542.9,312.5" fill="#b7de48"/>
<polygon points="545,313 558.6,308.9 558.6,313.4 545,317.5" fill="#a7cf38"/>
<polygon points="542.9,312 545.4,317 545.4,321 542.9,316" fill="#379944"/>
<polygon points="545,317 558.6,312.9 558.6,316.9 545,321" fill="#278935"/>
<polygon points="542.9,298 545,303 558.6,298.9 556.5,293.9" fill="#53b85e"/>
<ellipse cx="547.3" cy="299.5" rx="2.4" ry="1.5" fill="#3aa745"/>
<rect x="544.9" y="297.5" width="4.8" height="1.9" fill="#3aa745"/>
<ellipse cx="547.3" cy="297.5" rx="2.4" ry="1.5" fill="#6dc276"/>
<ellipse cx="554.2" cy="297.4" rx="2.4" ry="1.5" fill="#3aa745"/>
<rect x="551.7" y="295.5" width="4.8" height="1.9" fill="#3aa745"/>
<ellipse cx="554.2" cy="295.5" rx="2.4" ry="1.5" fill="#6dc276"/>
<use href="#core_gc" transform="translate(301.9 -334.4) scale(1.08)"/>
<polygon points="85.3,294 91.4,299.7 91.4,305.2 85.3,299.5" fill="#b7de48"/>
<polygon points="91,299.7 103.7,296.5 103.7,302 91,305.2" fill="#a7cf38"/>
<polygon points="85.3,299 91.4,304.7 91.4,314.7 85.3,309" fill="#f1823e"/>
<polygon points="91,304.7 103.7,301.5 103.7,311.5 91,314.7" fill="#e2732f"/>
<polygon points="85.3,308.5 91.4,314.2 91.4,317.7 85.3,312" fill="#379944"/>
<polygon points="91,314.2 103.7,311 103.7,314.5 91,317.7" fill="#278935"/>
<polygon points="85.3,311.5 91.4,317.2 91.4,321.7 85.3,316" fill="#b7de48"/>
<polygon points="91,317.2 103.7,314 103.7,318.5 91,321.7" fill="#a7cf38"/>
<polygon points="85.3,315.5 91.4,321.2 91.4,330 85.3,324.3" fill="#6ba9e4"/>
<polygon points="91,321.2 103.7,318 103.7,326.8 91,330" fill="#5c9ad4"/>
<polygon points="85.3,323.8 91.4,329.5 91.4,338.3 85.3,332.6" fill="#f1823e"/>
<polygon points="91,329.5 103.7,326.3 103.7,335.1 91,338.3" fill="#e2732f"/>
<polygon points="85.3,332.1 91.4,337.8 91.4,341.9 85.3,336.2" fill="#379944"/>
<polygon points="91,337.8 103.7,334.6 103.7,338.7 91,341.9" fill="#278935"/>
<polygon points="85.3,335.7 91.4,341.4 91.4,345.5 85.3,339.8" fill="#b7de48"/>
<polygon points="91,341.4 103.7,338.2 103.7,342.3 91,345.5" fill="#a7cf38"/>
<polygon points="85.3,339.3 91.4,345 91.4,353.8 85.3,348.1" fill="#6ba9e4"/>
<polygon points="91,345 103.7,341.8 103.7,350.6 91,353.8" fill="#5c9ad4"/>
<polygon points="85.3,347.6 91.4,353.3 91.4,358.5 85.3,352.8" fill="#48b353"/>
<polygon points="91,353.3 103.7,350.1 103.7,355.3 91,358.5" fill="#38a444"/>
<polygon points="85.3,352.3 91.4,358 91.4,368 85.3,362.3" fill="#f1823e"/>
<polygon points="91,358 103.7,354.8 103.7,364.8 91,368" fill="#e2732f"/>
<polygon points="85.3,361.8 91.4,367.5 91.4,371.6 85.3,365.9" fill="#379944"/>
<polygon points="91,367.5 103.7,364.3 103.7,368.4 91,371.6" fill="#278935"/>
<polygon points="85.3,365.4 91.4,371.1 91.4,375.2 85.3,369.5" fill="#b7de48"/>
<polygon points="91,371.1 103.7,367.9 103.7,372 91,375.2" fill="#a7cf38"/>
<polygon points="85.3,369 91.4,374.7 91.4,392.5 85.3,386.8" fill="#6ba9e4"/>
<polygon points="91,374.7 103.7,371.5 103.7,389.3 91,392.5" fill="#5c9ad4"/>
<polygon points="85.3,294 91,299.7 103.7,296.5 98,290.8" fill="#bbe053"/>
<ellipse cx="91.3" cy="296.1" rx="2.8" ry="1.7" fill="#abd33a"/>
<rect x="88.5" y="293.8" width="5.6" height="2.2" fill="#abd33a"/>
<ellipse cx="91.3" cy="293.8" rx="2.8" ry="1.7" fill="#c5e56d"/>
<ellipse cx="97.7" cy="294.5" rx="2.8" ry="1.7" fill="#abd33a"/>
<rect x="94.9" y="292.2" width="5.6" height="2.2" fill="#abd33a"/>
<ellipse cx="97.7" cy="292.2" rx="2.8" ry="1.7" fill="#c5e56d"/>
<polygon points="105.5,283.5 111.4,289 111.4,297.8 105.5,292.3" fill="#f1823e"/>
<polygon points="111,289 120.9,286.5 120.9,295.3 111,297.8" fill="#e2732f"/>
<polygon points="105.5,291.8 111.4,297.3 111.4,304.9 105.5,299.4" fill="#48b353"/>
<polygon points="111,297.3 120.9,294.8 120.9,302.4 111,304.9" fill="#38a444"/>
<polygon points="105.5,298.9 111.4,304.4 111.4,312 105.5,306.5" fill="#6ba9e4"/>
<polygon points="111,304.4 120.9,301.9 120.9,309.5 111,312" fill="#5c9ad4"/>
<polygon points="105.5,306 111.4,311.5 111.4,315.6 105.5,310.1" fill="#379944"/>
<polygon points="111,311.5 120.9,309 120.9,313.1 111,315.6" fill="#278935"/>
<polygon points="105.5,309.6 111.4,315.1 111.4,320.3 105.5,314.8" fill="#b7de48"/>
<polygon points="111,315.1 120.9,312.6 120.9,317.8 111,320.3" fill="#a7cf38"/>
<polygon points="105.5,314.3 111.4,319.8 111.4,327.4 105.5,321.9" fill="#6ba9e4"/>
<polygon points="111,319.8 120.9,317.3 120.9,324.9 111,327.4" fill="#5c9ad4"/>
<polygon points="105.5,321.4 111.4,326.9 111.4,335.7 105.5,330.2" fill="#48b353"/>
<polygon points="111,326.9 120.9,324.4 120.9,333.2 111,335.7" fill="#38a444"/>
<polygon points="105.5,329.7 111.4,335.2 111.4,340.4 105.5,334.9" fill="#b7de48"/>
<polygon points="111,335.2 120.9,332.7 120.9,337.9 111,340.4" fill="#a7cf38"/>
<polygon points="105.5,334.4 111.4,339.9 111.4,346.3 105.5,340.8" fill="#6ba9e4"/>
<polygon points="111,339.9 120.9,337.4 120.9,343.8 111,346.3" fill="#5c9ad4"/>
<polygon points="105.5,340.3 111.4,345.8 111.4,355.8 105.5,350.3" fill="#f1823e"/>
<polygon points="111,345.8 120.9,343.3 120.9,353.3 111,355.8" fill="#e2732f"/>
<polygon points="105.5,349.8 111.4,355.3 111.4,360.6 105.5,355.1" fill="#379944"/>
<polygon points="111,355.3 120.9,352.8 120.9,358.1 111,360.6" fill="#278935"/>
<polygon points="105.5,283.5 111,289 120.9,286.5 115.4,281" fill="#f28a4b"/>
<ellipse cx="110.7" cy="285.6" rx="2.2" ry="1.4" fill="#e67530"/>
<rect x="108.5" y="283.8" width="4.5" height="1.8" fill="#e67530"/>
<ellipse cx="110.7" cy="283.8" rx="2.2" ry="1.4" fill="#f49b65"/>
<ellipse cx="115.7" cy="284.4" rx="2.2" ry="1.4" fill="#e67530"/>
<rect x="113.4" y="282.6" width="4.5" height="1.8" fill="#e67530"/>
<ellipse cx="115.7" cy="282.6" rx="2.2" ry="1.4" fill="#f49b65"/>
<polygon points="139.9,298 142.4,303 142.4,312.5 139.9,307.5" fill="#6ba9e4"/>
<polygon points="142,303 157.1,299.2 157.1,308.7 142,312.5" fill="#5c9ad4"/>
<polygon points="139.9,307 142.4,312 142.4,322.5 139.9,317.5" fill="#f1823e"/>
<polygon points="142,312 157.1,308.2 157.1,318.7 142,322.5" fill="#e2732f"/>
<polygon points="139.9,317 142.4,322 142.4,330.5 139.9,325.5" fill="#6ba9e4"/>
<polygon points="142,322 157.1,318.2 157.1,326.7 142,330.5" fill="#5c9ad4"/>
<polygon points="139.9,325 142.4,330 142.4,334.5 139.9,329.5" fill="#379944"/>
<polygon points="142,330 157.1,326.2 157.1,330.7 142,334.5" fill="#278935"/>
<polygon points="139.9,329 142.4,334 142.4,337.5 139.9,332.5" fill="#b7de48"/>
<polygon points="142,334 157.1,330.2 157.1,333.7 142,337.5" fill="#a7cf38"/>
<polygon points="139.9,332 142.4,337 142.4,341 139.9,336" fill="#f1823e"/>
<polygon points="142,337 157.1,333.2 157.1,337.2 142,341" fill="#e2732f"/>
<polygon points="139.9,298 142,303 157.1,299.2 155,294.2" fill="#75afe5"/>
<ellipse cx="144.7" cy="299.5" rx="2.4" ry="1.5" fill="#5e9dd9"/>
<rect x="142.3" y="297.6" width="4.8" height="1.9" fill="#5e9dd9"/>
<ellipse cx="144.7" cy="297.6" rx="2.4" ry="1.5" fill="#89bbe9"/>
<ellipse cx="152.3" cy="297.6" rx="2.4" ry="1.5" fill="#5e9dd9"/>
<rect x="149.9" y="295.7" width="4.8" height="1.9" fill="#5e9dd9"/>
<ellipse cx="152.3" cy="295.7" rx="2.4" ry="1.5" fill="#89bbe9"/>
<polygon points="153,279.2 155.4,284 155.4,293.5 153,288.7" fill="#f1823e"/>
<polygon points="155,284 172.5,279.6 172.5,289.1 155,293.5" fill="#e2732f"/>
<polygon points="153,288.2 155.4,293 155.4,298.5 153,293.7" fill="#379944"/>
<polygon points="155,293 172.5,288.6 172.5,294.1 155,298.5" fill="#278935"/>
<polygon points="153,293.2 155.4,298 155.4,304.5 153,299.7" fill="#48b353"/>
<polygon points="155,298 172.5,293.6 172.5,300.1 155,304.5" fill="#38a444"/>
<polygon points="153,299.2 155.4,304 155.4,312.5 153,307.7" fill="#6ba9e4"/>
<polygon points="155,304 172.5,299.6 172.5,308.1 155,312.5" fill="#5c9ad4"/>
<polygon points="153,307.2 155.4,312 155.4,316.5 153,311.7" fill="#379944"/>
<polygon points="155,312 172.5,307.6 172.5,312.1 155,316.5" fill="#278935"/>
<polygon points="153,311.2 155.4,316 155.4,320.5 153,315.7" fill="#b7de48"/>
<polygon points="155,316 172.5,311.6 172.5,316.1 155,320.5" fill="#a7cf38"/>
<polygon points="153,315.2 155.4,320 155.4,324.5 153,319.7" fill="#48b353"/>
<polygon points="155,320 172.5,315.6 172.5,320.1 155,324.5" fill="#38a444"/>
<polygon points="153,319.2 155.4,324 155.4,334 153,329.2" fill="#6ba9e4"/>
<polygon points="155,324 172.5,319.6 172.5,329.6 155,334" fill="#5c9ad4"/>
<polygon points="153,279.2 155,284 172.5,279.6 170.5,274.8" fill="#f28a4b"/>
<ellipse cx="158.4" cy="280.5" rx="2.3" ry="1.4" fill="#e67530"/>
<rect x="156.1" y="278.7" width="4.6" height="1.8" fill="#e67530"/>
<ellipse cx="158.4" cy="278.7" rx="2.3" ry="1.4" fill="#f49b65"/>
<ellipse cx="167.1" cy="278.3" rx="2.3" ry="1.4" fill="#e67530"/>
<rect x="164.8" y="276.5" width="4.6" height="1.8" fill="#e67530"/>
<ellipse cx="167.1" cy="276.5" rx="2.3" ry="1.4" fill="#f49b65"/>
<polygon points="153,279 160,276.5 163,279 156,282" fill="#74b4ee"/>
<polygon points="167.8,288.7 170.4,294 170.4,306.5 167.8,301.2" fill="#48b353"/>
<polygon points="170,294 187.9,289.5 187.9,302 170,306.5" fill="#38a444"/>
<polygon points="167.8,300.7 170.4,306 170.4,322 167.8,316.7" fill="#f1823e"/>
<polygon points="170,306 187.9,301.5 187.9,317.5 170,322" fill="#e2732f"/>
<polygon points="167.8,288.7 170,294 187.9,289.5 185.7,284.2" fill="#53b85e"/>
<ellipse cx="173.4" cy="290.2" rx="2.5" ry="1.6" fill="#3aa745"/>
<rect x="170.9" y="288.2" width="5" height="2" fill="#3aa745"/>
<ellipse cx="173.4" cy="288.2" rx="2.5" ry="1.6" fill="#6dc276"/>
<ellipse cx="182.3" cy="288" rx="2.5" ry="1.6" fill="#3aa745"/>
<rect x="179.8" y="286" width="5" height="2" fill="#3aa745"/>
<ellipse cx="182.3" cy="286" rx="2.5" ry="1.6" fill="#6dc276"/>
<polygon points="167.8,290 175,287.2 178,290 171,293" fill="#74b4ee"/>
<polygon points="191.5,304.4 193.4,308 193.4,317 191.5,313.4" fill="#6ba9e4"/>
<polygon points="193,308 204.5,304.6 204.5,313.6 193,317" fill="#5c9ad4"/>
<polygon points="191.5,304.4 193,308 204.5,304.6 203,300.9" fill="#75afe5"/>
<ellipse cx="195.1" cy="305.3" rx="1.7" ry="1.1" fill="#5e9dd9"/>
<rect x="193.4" y="304" width="3.4" height="1.4" fill="#5e9dd9"/>
<ellipse cx="195.1" cy="304" rx="1.7" ry="1.1" fill="#89bbe9"/>
<ellipse cx="200.9" cy="303.6" rx="1.7" ry="1.1" fill="#5e9dd9"/>
<rect x="199.2" y="302.2" width="3.4" height="1.4" fill="#5e9dd9"/>
<ellipse cx="200.9" cy="302.2" rx="1.7" ry="1.1" fill="#89bbe9"/>
<polygon points="202.2,311.7 204.4,316 204.4,329.5 202.2,325.2" fill="#48b353"/>
<polygon points="204,316 227.1,309.1 227.1,322.6 204,329.5" fill="#38a444"/>
<polygon points="202.2,324.7 204.4,329 204.4,336.5 202.2,332.2" fill="#6ba9e4"/>
<polygon points="204,329 227.1,322.1 227.1,329.6 204,336.5" fill="#5c9ad4"/>
<polygon points="202.2,331.7 204.4,336 204.4,344.5 202.2,340.2" fill="#48b353"/>
<polygon points="204,336 227.1,329.1 227.1,337.6 204,344.5" fill="#38a444"/>
<polygon points="202.2,339.7 204.4,344 204.4,348.5 202.2,344.2" fill="#b7de48"/>
<polygon points="204,344 227.1,337.1 227.1,341.6 204,348.5" fill="#a7cf38"/>
<polygon points="202.2,343.7 204.4,348 204.4,354 202.2,349.7" fill="#379944"/>
<polygon points="204,348 227.1,341.1 227.1,347.1 204,354" fill="#278935"/>
<polygon points="202.2,311.7 204,316 227.1,309.1 225.3,304.7" fill="#53b85e"/>
<ellipse cx="208.9" cy="312.1" rx="2.1" ry="1.3" fill="#3aa745"/>
<rect x="206.8" y="310.5" width="4.1" height="1.6" fill="#3aa745"/>
<ellipse cx="208.9" cy="310.5" rx="2.1" ry="1.3" fill="#6dc276"/>
<ellipse cx="220.4" cy="308.6" rx="2.1" ry="1.3" fill="#3aa745"/>
<rect x="218.4" y="307" width="4.1" height="1.6" fill="#3aa745"/>
<ellipse cx="220.4" cy="307" rx="2.1" ry="1.3" fill="#6dc276"/>
<use href="#core_gc" transform="translate(-8.2 -250.5) scale(0.985)"/>
<polygon points="159.6,530.2 162.4,536 162.4,548 159.6,542.2" fill="#6ba9e4"/>
<polygon points="162,536 180.8,530.4 180.8,542.4 162,548" fill="#5c9ad4"/>
<polygon points="159.6,531 170,527 172,531 162,535" fill="#f07a32"/>
<polygon points="170,525.2 172.4,530 172.4,544 170,539.2" fill="#48b353"/>
<polygon points="172,530 181,527.3 181,541.3 172,544" fill="#38a444"/>
<polygon points="170,525.2 172,530 181,527.3 179,522.5" fill="#53b85e"/>
<ellipse cx="173.2" cy="526.9" rx="2.1" ry="1.3" fill="#3aa745"/>
<rect x="171.2" y="525.3" width="4.1" height="1.7" fill="#3aa745"/>
<ellipse cx="173.2" cy="525.3" rx="2.1" ry="1.3" fill="#6dc276"/>
<ellipse cx="177.8" cy="525.6" rx="2.1" ry="1.3" fill="#3aa745"/>
<rect x="175.7" y="523.9" width="4.1" height="1.7" fill="#3aa745"/>
<ellipse cx="177.8" cy="523.9" rx="2.1" ry="1.3" fill="#6dc276"/>
<polygon points="149.3,557.9 151.4,562 151.4,568.5 149.3,564.4" fill="#6ba9e4"/>
<polygon points="151,562 167.1,557.2 167.1,563.7 151,568.5" fill="#5c9ad4"/>
<polygon points="149.3,563.9 151.4,568 151.4,576.5 149.3,572.4" fill="#f1823e"/>
<polygon points="151,568 167.1,563.2 167.1,571.7 151,576.5" fill="#e2732f"/>
<polygon points="149.3,571.9 151.4,576 151.4,584.5 149.3,580.4" fill="#6ba9e4"/>
<polygon points="151,576 167.1,571.2 167.1,579.7 151,584.5" fill="#5c9ad4"/>
<polygon points="149.3,579.9 151.4,584 151.4,588.5 149.3,584.4" fill="#379944"/>
<polygon points="151,584 167.1,579.2 167.1,583.7 151,588.5" fill="#278935"/>
<polygon points="149.3,583.9 151.4,588 151.4,592.5 149.3,588.4" fill="#b7de48"/>
<polygon points="151,588 167.1,583.2 167.1,587.7 151,592.5" fill="#a7cf38"/>
<polygon points="149.3,587.9 151.4,592 151.4,598 149.3,593.9" fill="#f1823e"/>
<polygon points="151,592 167.1,587.2 167.1,593.2 151,598" fill="#e2732f"/>
<polygon points="167.1,543.4 169.4,548 169.4,556.5 167.1,551.9" fill="#f1823e"/>
<polygon points="169,548 178.1,545.3 178.1,553.8 169,556.5" fill="#e2732f"/>
<polygon points="167.1,551.4 169.4,556 169.4,562.5 167.1,557.9" fill="#48b353"/>
<polygon points="169,556 178.1,553.3 178.1,559.8 169,562.5" fill="#38a444"/>
<polygon points="167.1,557.4 169.4,562 169.4,570.5 167.1,565.9" fill="#6ba9e4"/>
<polygon points="169,562 178.1,559.3 178.1,567.8 169,570.5" fill="#5c9ad4"/>
<polygon points="167.1,565.4 169.4,570 169.4,575.5 167.1,570.9" fill="#379944"/>
<polygon points="169,570 178.1,567.3 178.1,572.8 169,575.5" fill="#278935"/>
<polygon points="167.1,570.4 169.4,575 169.4,579.5 167.1,574.9" fill="#b7de48"/>
<polygon points="169,575 178.1,572.3 178.1,576.8 169,579.5" fill="#a7cf38"/>
<polygon points="167.1,574.4 169.4,579 169.4,591 167.1,586.4" fill="#6ba9e4"/>
<polygon points="169,579 178.1,576.3 178.1,588.3 169,591" fill="#5c9ad4"/>
<polygon points="178.1,545.4 180.4,550 180.4,566.5 178.1,561.9" fill="#48b353"/>
<polygon points="180,550 198.6,544.4 198.6,560.9 180,566.5" fill="#38a444"/>
<polygon points="178.1,561.4 180.4,566 180.4,574 178.1,569.4" fill="#f1823e"/>
<polygon points="180,566 198.6,560.4 198.6,568.4 180,574" fill="#e2732f"/>
<polygon points="178.1,545.4 180,550 198.6,544.4 196.7,539.9" fill="#53b85e"/>
<ellipse cx="183.7" cy="546.3" rx="2.2" ry="1.3" fill="#3aa745"/>
<rect x="181.5" y="544.6" width="4.3" height="1.7" fill="#3aa745"/>
<ellipse cx="183.7" cy="544.6" rx="2.2" ry="1.3" fill="#6dc276"/>
<ellipse cx="193" cy="543.5" rx="2.2" ry="1.3" fill="#3aa745"/>
<rect x="190.8" y="541.8" width="4.3" height="1.7" fill="#3aa745"/>
<ellipse cx="193" cy="541.8" rx="2.2" ry="1.3" fill="#6dc276"/>
<polygon points="115.1,542.1 118.4,545 118.4,553.5 115.1,550.6" fill="#f1823e"/>
<polygon points="118,545 130.2,542 130.2,550.5 118,553.5" fill="#e2732f"/>
<polygon points="115.1,550.1 118.4,553 118.4,558.5 115.1,555.6" fill="#379944"/>
<polygon points="118,553 130.2,550 130.2,555.5 118,558.5" fill="#278935"/>
<polygon points="115.1,555.1 118.4,558 118.4,566.5 115.1,563.6" fill="#6ba9e4"/>
<polygon points="118,558 130.2,555 130.2,563.5 118,566.5" fill="#5c9ad4"/>
<polygon points="115.1,563.1 118.4,566 118.4,570.5 115.1,567.6" fill="#379944"/>
<polygon points="118,566 130.2,563 130.2,567.5 118,570.5" fill="#278935"/>
<polygon points="115.1,567.1 118.4,570 118.4,574.5 115.1,571.6" fill="#b7de48"/>
<polygon points="118,570 130.2,567 130.2,571.5 118,574.5" fill="#a7cf38"/>
<polygon points="115.1,571.1 118.4,574 118.4,582.5 115.1,579.6" fill="#6ba9e4"/>
<polygon points="118,574 130.2,571 130.2,579.5 118,582.5" fill="#5c9ad4"/>
<polygon points="115.1,579.1 118.4,582 118.4,588.5 115.1,585.6" fill="#379944"/>
<polygon points="118,582 130.2,579 130.2,585.5 118,588.5" fill="#278935"/>
<polygon points="115.1,585.1 118.4,588 118.4,594.5 115.1,591.6" fill="#48b353"/>
<polygon points="118,588 130.2,585 130.2,591.5 118,594.5" fill="#38a444"/>
<polygon points="115.1,591.1 118.4,594 118.4,598.5 115.1,595.6" fill="#b7de48"/>
<polygon points="118,594 130.2,591 130.2,595.5 118,598.5" fill="#a7cf38"/>
<polygon points="115.1,595.1 118.4,598 118.4,606.5 115.1,603.6" fill="#6ba9e4"/>
<polygon points="118,598 130.2,595 130.2,603.5 118,606.5" fill="#5c9ad4"/>
<polygon points="115.1,603.1 118.4,606 118.4,614.5 115.1,611.6" fill="#f1823e"/>
<polygon points="118,606 130.2,603 130.2,611.5 118,614.5" fill="#e2732f"/>
<polygon points="115.1,611.1 118.4,614 118.4,619 115.1,616.1" fill="#379944"/>
<polygon points="118,614 130.2,611 130.2,616 118,619" fill="#278935"/>
<polygon points="111.7,533.7 137,562.5 137,567.2 111.7,538.4" fill="#33983c"/>
<polygon points="137,562.5 167.1,551.5 167.1,556.2 137,567.2" fill="#2d8735"/>
<polygon points="111.7,534.4 146.6,526 167.1,552.2 137,563.2" fill="#37a541"/>
<ellipse cx="116.7" cy="536.1" rx="2.4" ry="1.5" fill="#2b8133"/>
<rect x="114.3" y="534.7" width="4.8" height="1.4" fill="#2b8133"/>
<ellipse cx="116.7" cy="534.7" rx="2.4" ry="1.5" fill="#5fb767"/>
<ellipse cx="120.9" cy="540.9" rx="2.4" ry="1.5" fill="#2b8133"/>
<rect x="118.5" y="539.5" width="4.8" height="1.4" fill="#2b8133"/>
<ellipse cx="120.9" cy="539.5" rx="2.4" ry="1.5" fill="#5fb767"/>
<ellipse cx="125.2" cy="545.7" rx="2.4" ry="1.5" fill="#2b8133"/>
<rect x="122.8" y="544.3" width="4.8" height="1.4" fill="#2b8133"/>
<ellipse cx="125.2" cy="544.3" rx="2.4" ry="1.5" fill="#5fb767"/>
<ellipse cx="129.4" cy="550.5" rx="2.4" ry="1.5" fill="#2b8133"/>
<rect x="127" y="549.1" width="4.8" height="1.4" fill="#2b8133"/>
<ellipse cx="129.4" cy="549.1" rx="2.4" ry="1.5" fill="#5fb767"/>
<ellipse cx="133.6" cy="555.3" rx="2.4" ry="1.5" fill="#2b8133"/>
<rect x="131.2" y="553.9" width="4.8" height="1.4" fill="#2b8133"/>
<ellipse cx="133.6" cy="553.9" rx="2.4" ry="1.5" fill="#5fb767"/>
<ellipse cx="137.8" cy="560.1" rx="2.4" ry="1.5" fill="#2b8133"/>
<rect x="135.4" y="558.7" width="4.8" height="1.4" fill="#2b8133"/>
<ellipse cx="137.8" cy="558.7" rx="2.4" ry="1.5" fill="#5fb767"/>
<ellipse cx="122.5" cy="534.7" rx="2.4" ry="1.5" fill="#2b8133"/>
<rect x="120.1" y="533.3" width="4.8" height="1.4" fill="#2b8133"/>
<ellipse cx="122.5" cy="533.3" rx="2.4" ry="1.5" fill="#5fb767"/>
<ellipse cx="126.8" cy="539.5" rx="2.4" ry="1.5" fill="#2b8133"/>
<rect x="124.4" y="538.1" width="4.8" height="1.4" fill="#2b8133"/>
<ellipse cx="126.8" cy="538.1" rx="2.4" ry="1.5" fill="#5fb767"/>
<ellipse cx="131" cy="544.3" rx="2.4" ry="1.5" fill="#2b8133"/>
<rect x="128.6" y="542.9" width="4.8" height="1.4" fill="#2b8133"/>
<ellipse cx="131" cy="542.9" rx="2.4" ry="1.5" fill="#5fb767"/>
<ellipse cx="135.2" cy="549.1" rx="2.4" ry="1.5" fill="#2b8133"/>
<rect x="132.8" y="547.7" width="4.8" height="1.4" fill="#2b8133"/>
<ellipse cx="135.2" cy="547.7" rx="2.4" ry="1.5" fill="#5fb767"/>
<ellipse cx="139.4" cy="553.9" rx="2.4" ry="1.5" fill="#2b8133"/>
<rect x="137" y="552.5" width="4.8" height="1.4" fill="#2b8133"/>
<ellipse cx="139.4" cy="552.5" rx="2.4" ry="1.5" fill="#5fb767"/>
<ellipse cx="143.6" cy="558.7" rx="2.4" ry="1.5" fill="#2b8133"/>
<rect x="141.2" y="557.3" width="4.8" height="1.4" fill="#2b8133"/>
<ellipse cx="143.6" cy="557.3" rx="2.4" ry="1.5" fill="#5fb767"/>
<ellipse cx="128.3" cy="533.3" rx="2.4" ry="1.5" fill="#2b8133"/>
<rect x="126" y="531.9" width="4.8" height="1.4" fill="#2b8133"/>
<ellipse cx="128.3" cy="531.9" rx="2.4" ry="1.5" fill="#5fb767"/>
<ellipse cx="132.6" cy="538.1" rx="2.4" ry="1.5" fill="#2b8133"/>
<rect x="130.2" y="536.7" width="4.8" height="1.4" fill="#2b8133"/>
<ellipse cx="132.6" cy="536.7" rx="2.4" ry="1.5" fill="#5fb767"/>
<ellipse cx="136.8" cy="542.9" rx="2.4" ry="1.5" fill="#2b8133"/>
<rect x="134.4" y="541.5" width="4.8" height="1.4" fill="#2b8133"/>
<ellipse cx="136.8" cy="541.5" rx="2.4" ry="1.5" fill="#5fb767"/>
<ellipse cx="141" cy="547.7" rx="2.4" ry="1.5" fill="#2b8133"/>
<rect x="138.6" y="546.3" width="4.8" height="1.4" fill="#2b8133"/>
<ellipse cx="141" cy="546.3" rx="2.4" ry="1.5" fill="#5fb767"/>
<ellipse cx="145.2" cy="552.5" rx="2.4" ry="1.5" fill="#2b8133"/>
<rect x="142.8" y="551.1" width="4.8" height="1.4" fill="#2b8133"/>
<ellipse cx="145.2" cy="551.1" rx="2.4" ry="1.5" fill="#5fb767"/>
<ellipse cx="149.4" cy="557.3" rx="2.4" ry="1.5" fill="#2b8133"/>
<rect x="147" y="555.9" width="4.8" height="1.4" fill="#2b8133"/>
<ellipse cx="149.4" cy="555.9" rx="2.4" ry="1.5" fill="#5fb767"/>
<ellipse cx="134.2" cy="531.9" rx="2.4" ry="1.5" fill="#2b8133"/>
<rect x="131.8" y="530.5" width="4.8" height="1.4" fill="#2b8133"/>
<ellipse cx="134.2" cy="530.5" rx="2.4" ry="1.5" fill="#5fb767"/>
<ellipse cx="138.4" cy="536.7" rx="2.4" ry="1.5" fill="#2b8133"/>
<rect x="136" y="535.3" width="4.8" height="1.4" fill="#2b8133"/>
<ellipse cx="138.4" cy="535.3" rx="2.4" ry="1.5" fill="#5fb767"/>
<ellipse cx="142.6" cy="541.5" rx="2.4" ry="1.5" fill="#2b8133"/>
<rect x="140.2" y="540.1" width="4.8" height="1.4" fill="#2b8133"/>
<ellipse cx="142.6" cy="540.1" rx="2.4" ry="1.5" fill="#5fb767"/>
<ellipse cx="146.8" cy="546.3" rx="2.4" ry="1.5" fill="#2b8133"/>
<rect x="144.4" y="544.9" width="4.8" height="1.4" fill="#2b8133"/>
<ellipse cx="146.8" cy="544.9" rx="2.4" ry="1.5" fill="#5fb767"/>
<ellipse cx="151" cy="551.1" rx="2.4" ry="1.5" fill="#2b8133"/>
<rect x="148.6" y="549.7" width="4.8" height="1.4" fill="#2b8133"/>
<ellipse cx="151" cy="549.7" rx="2.4" ry="1.5" fill="#5fb767"/>
<ellipse cx="155.2" cy="555.9" rx="2.4" ry="1.5" fill="#2b8133"/>
<rect x="152.9" y="554.5" width="4.8" height="1.4" fill="#2b8133"/>
<ellipse cx="155.2" cy="554.5" rx="2.4" ry="1.5" fill="#5fb767"/>
<ellipse cx="140" cy="530.5" rx="2.4" ry="1.5" fill="#2b8133"/>
<rect x="137.6" y="529.1" width="4.8" height="1.4" fill="#2b8133"/>
<ellipse cx="140" cy="529.1" rx="2.4" ry="1.5" fill="#5fb767"/>
<ellipse cx="144.2" cy="535.3" rx="2.4" ry="1.5" fill="#2b8133"/>
<rect x="141.8" y="533.9" width="4.8" height="1.4" fill="#2b8133"/>
<ellipse cx="144.2" cy="533.9" rx="2.4" ry="1.5" fill="#5fb767"/>
<ellipse cx="148.4" cy="540.1" rx="2.4" ry="1.5" fill="#2b8133"/>
<rect x="146" y="538.7" width="4.8" height="1.4" fill="#2b8133"/>
<ellipse cx="148.4" cy="538.7" rx="2.4" ry="1.5" fill="#5fb767"/>
<ellipse cx="152.6" cy="544.9" rx="2.4" ry="1.5" fill="#2b8133"/>
<rect x="150.2" y="543.5" width="4.8" height="1.4" fill="#2b8133"/>
<ellipse cx="152.6" cy="543.5" rx="2.4" ry="1.5" fill="#5fb767"/>
<ellipse cx="156.8" cy="549.7" rx="2.4" ry="1.5" fill="#2b8133"/>
<rect x="154.5" y="548.3" width="4.8" height="1.4" fill="#2b8133"/>
<ellipse cx="156.8" cy="548.3" rx="2.4" ry="1.5" fill="#5fb767"/>
<ellipse cx="161.1" cy="554.5" rx="2.4" ry="1.5" fill="#2b8133"/>
<rect x="158.7" y="553.1" width="4.8" height="1.4" fill="#2b8133"/>
<ellipse cx="161.1" cy="553.1" rx="2.4" ry="1.5" fill="#5fb767"/>
<ellipse cx="145.8" cy="529.1" rx="2.4" ry="1.5" fill="#2b8133"/>
<rect x="143.4" y="527.7" width="4.8" height="1.4" fill="#2b8133"/>
<ellipse cx="145.8" cy="527.7" rx="2.4" ry="1.5" fill="#5fb767"/>
<ellipse cx="150" cy="533.9" rx="2.4" ry="1.5" fill="#2b8133"/>
<rect x="147.6" y="532.5" width="4.8" height="1.4" fill="#2b8133"/>
<ellipse cx="150" cy="532.5" rx="2.4" ry="1.5" fill="#5fb767"/>
<ellipse cx="154.2" cy="538.7" rx="2.4" ry="1.5" fill="#2b8133"/>
<rect x="151.8" y="537.3" width="4.8" height="1.4" fill="#2b8133"/>
<ellipse cx="154.2" cy="537.3" rx="2.4" ry="1.5" fill="#5fb767"/>
<ellipse cx="158.4" cy="543.5" rx="2.4" ry="1.5" fill="#2b8133"/>
<rect x="156.1" y="542.1" width="4.8" height="1.4" fill="#2b8133"/>
<ellipse cx="158.4" cy="542.1" rx="2.4" ry="1.5" fill="#5fb767"/>
<ellipse cx="162.7" cy="548.3" rx="2.4" ry="1.5" fill="#2b8133"/>
<rect x="160.3" y="546.9" width="4.8" height="1.4" fill="#2b8133"/>
<ellipse cx="162.7" cy="546.9" rx="2.4" ry="1.5" fill="#5fb767"/>
<ellipse cx="166.9" cy="553.1" rx="2.4" ry="1.5" fill="#2b8133"/>
<rect x="164.5" y="551.7" width="4.8" height="1.4" fill="#2b8133"/>
<ellipse cx="166.9" cy="551.7" rx="2.4" ry="1.5" fill="#5fb767"/>
<polygon points="186,552.2 188.4,557 188.4,563 186,558.2" fill="#6ba9e4"/>
<polygon points="188,557 198,554 198,560 188,563" fill="#5c9ad4"/>
<polygon points="186,552.2 188,557 198,554 196,549.2" fill="#75afe5"/>
<ellipse cx="189.5" cy="553.9" rx="2.3" ry="1.4" fill="#5e9dd9"/>
<rect x="187.2" y="552" width="4.6" height="1.8" fill="#5e9dd9"/>
<ellipse cx="189.5" cy="552" rx="2.3" ry="1.4" fill="#89bbe9"/>
<ellipse cx="194.5" cy="552.4" rx="2.3" ry="1.4" fill="#5e9dd9"/>
<rect x="192.2" y="550.5" width="4.6" height="1.8" fill="#5e9dd9"/>
<ellipse cx="194.5" cy="550.5" rx="2.3" ry="1.4" fill="#89bbe9"/>
<polygon points="210,561.2 212.4,566 212.4,572 210,567.2" fill="#6ba9e4"/>
<polygon points="212,566 222,563 222,569 212,572" fill="#5c9ad4"/>
<polygon points="210,561.2 212,566 222,563 220,558.2" fill="#75afe5"/>
<ellipse cx="213.5" cy="562.9" rx="2.3" ry="1.4" fill="#5e9dd9"/>
<rect x="211.2" y="561" width="4.6" height="1.8" fill="#5e9dd9"/>
<ellipse cx="213.5" cy="561" rx="2.3" ry="1.4" fill="#89bbe9"/>
<ellipse cx="218.5" cy="561.4" rx="2.3" ry="1.4" fill="#5e9dd9"/>
<rect x="216.2" y="559.5" width="4.6" height="1.8" fill="#5e9dd9"/>
<ellipse cx="218.5" cy="559.5" rx="2.3" ry="1.4" fill="#89bbe9"/>
<polygon points="179.4,593.2 181.4,597 181.4,604.5 179.4,600.7" fill="#6ba9e4"/>
<polygon points="181,597 236.9,580.2 236.9,587.7 181,604.5" fill="#5c9ad4"/>
<polygon points="179.4,600.2 181.4,604 181.4,612.5 179.4,608.7" fill="#f1823e"/>
<polygon points="181,604 236.9,587.2 236.9,595.7 181,612.5" fill="#e2732f"/>
<polygon points="179.4,608.2 181.4,612 181.4,618.5 179.4,614.7" fill="#48b353"/>
<polygon points="181,612 236.9,595.2 236.9,601.7 181,618.5" fill="#38a444"/>
<polygon points="179.4,614.2 181.4,618 181.4,624.5 179.4,620.7" fill="#6ba9e4"/>
<polygon points="181,618 236.9,601.2 236.9,607.7 181,624.5" fill="#5c9ad4"/>
<polygon points="179.4,620.2 181.4,624 181.4,630 179.4,626.2" fill="#f1823e"/>
<polygon points="181,624 236.9,607.2 236.9,613.2 181,630" fill="#e2732f"/>
<polygon points="179.4,578.2 186.3,594 186.3,599.7 179.4,583.9" fill="#33983c"/>
<polygon points="186.3,594 238.3,571.3 238.3,577 186.3,599.7" fill="#2d8735"/>
<polygon points="179.4,578.9 224,563.9 238.3,572 186.3,594.7" fill="#37a541"/>
<ellipse cx="183.1" cy="579.9" rx="1.7" ry="1.1" fill="#2b8133"/>
<rect x="181.3" y="578.9" width="3.4" height="1" fill="#2b8133"/>
<ellipse cx="183.1" cy="578.9" rx="1.7" ry="1.1" fill="#5fb767"/>
<ellipse cx="184.8" cy="583.9" rx="1.7" ry="1.1" fill="#2b8133"/>
<rect x="183.1" y="582.9" width="3.4" height="1" fill="#2b8133"/>
<ellipse cx="184.8" cy="582.9" rx="1.7" ry="1.1" fill="#5fb767"/>
<ellipse cx="186.5" cy="587.8" rx="1.7" ry="1.1" fill="#2b8133"/>
<rect x="184.8" y="586.8" width="3.4" height="1" fill="#2b8133"/>
<ellipse cx="186.5" cy="586.8" rx="1.7" ry="1.1" fill="#5fb767"/>
<ellipse cx="188.2" cy="591.8" rx="1.7" ry="1.1" fill="#2b8133"/>
<rect x="186.5" y="590.8" width="3.4" height="1" fill="#2b8133"/>
<ellipse cx="188.2" cy="590.8" rx="1.7" ry="1.1" fill="#5fb767"/>
<ellipse cx="188.6" cy="578.1" rx="1.7" ry="1.1" fill="#2b8133"/>
<rect x="186.9" y="577" width="3.4" height="1" fill="#2b8133"/>
<ellipse cx="188.6" cy="577" rx="1.7" ry="1.1" fill="#5fb767"/>
<ellipse cx="190.4" cy="582" rx="1.7" ry="1.1" fill="#2b8133"/>
<rect x="188.6" y="581" width="3.4" height="1" fill="#2b8133"/>
<ellipse cx="190.4" cy="581" rx="1.7" ry="1.1" fill="#5fb767"/>
<ellipse cx="192.1" cy="586" rx="1.7" ry="1.1" fill="#2b8133"/>
<rect x="190.4" y="584.9" width="3.4" height="1" fill="#2b8133"/>
<ellipse cx="192.1" cy="584.9" rx="1.7" ry="1.1" fill="#5fb767"/>
<ellipse cx="193.8" cy="589.9" rx="1.7" ry="1.1" fill="#2b8133"/>
<rect x="192.1" y="588.9" width="3.4" height="1" fill="#2b8133"/>
<ellipse cx="193.8" cy="588.9" rx="1.7" ry="1.1" fill="#5fb767"/>
<ellipse cx="194.2" cy="576.2" rx="1.7" ry="1.1" fill="#2b8133"/>
<rect x="192.5" y="575.2" width="3.4" height="1" fill="#2b8133"/>
<ellipse cx="194.2" cy="575.2" rx="1.7" ry="1.1" fill="#5fb767"/>
<ellipse cx="195.9" cy="580.1" rx="1.7" ry="1.1" fill="#2b8133"/>
<rect x="194.2" y="579.1" width="3.4" height="1" fill="#2b8133"/>
<ellipse cx="195.9" cy="579.1" rx="1.7" ry="1.1" fill="#5fb767"/>
<ellipse cx="197.7" cy="584.1" rx="1.7" ry="1.1" fill="#2b8133"/>
<rect x="195.9" y="583.1" width="3.4" height="1" fill="#2b8133"/>
<ellipse cx="197.7" cy="583.1" rx="1.7" ry="1.1" fill="#5fb767"/>
<ellipse cx="199.4" cy="588" rx="1.7" ry="1.1" fill="#2b8133"/>
<rect x="197.7" y="587" width="3.4" height="1" fill="#2b8133"/>
<ellipse cx="199.4" cy="587" rx="1.7" ry="1.1" fill="#5fb767"/>
<ellipse cx="199.8" cy="574.3" rx="1.7" ry="1.1" fill="#2b8133"/>
<rect x="198.1" y="573.3" width="3.4" height="1" fill="#2b8133"/>
<ellipse cx="199.8" cy="573.3" rx="1.7" ry="1.1" fill="#5fb767"/>
<ellipse cx="201.5" cy="578.3" rx="1.7" ry="1.1" fill="#2b8133"/>
<rect x="199.8" y="577.2" width="3.4" height="1" fill="#2b8133"/>
<ellipse cx="201.5" cy="577.2" rx="1.7" ry="1.1" fill="#5fb767"/>
<ellipse cx="203.2" cy="582.2" rx="1.7" ry="1.1" fill="#2b8133"/>
<rect x="201.5" y="581.2" width="3.4" height="1" fill="#2b8133"/>
<ellipse cx="203.2" cy="581.2" rx="1.7" ry="1.1" fill="#5fb767"/>
<ellipse cx="204.9" cy="586.2" rx="1.7" ry="1.1" fill="#2b8133"/>
<rect x="203.2" y="585.1" width="3.4" height="1" fill="#2b8133"/>
<ellipse cx="204.9" cy="585.1" rx="1.7" ry="1.1" fill="#5fb767"/>
<ellipse cx="205.4" cy="572.4" rx="1.7" ry="1.1" fill="#2b8133"/>
<rect x="203.6" y="571.4" width="3.4" height="1" fill="#2b8133"/>
<ellipse cx="205.4" cy="571.4" rx="1.7" ry="1.1" fill="#5fb767"/>
<ellipse cx="207.1" cy="576.4" rx="1.7" ry="1.1" fill="#2b8133"/>
<rect x="205.4" y="575.4" width="3.4" height="1" fill="#2b8133"/>
<ellipse cx="207.1" cy="575.4" rx="1.7" ry="1.1" fill="#5fb767"/>
<ellipse cx="208.8" cy="580.3" rx="1.7" ry="1.1" fill="#2b8133"/>
<rect x="207.1" y="579.3" width="3.4" height="1" fill="#2b8133"/>
<ellipse cx="208.8" cy="579.3" rx="1.7" ry="1.1" fill="#5fb767"/>
<ellipse cx="210.5" cy="584.3" rx="1.7" ry="1.1" fill="#2b8133"/>
<rect x="208.8" y="583.3" width="3.4" height="1" fill="#2b8133"/>
<ellipse cx="210.5" cy="583.3" rx="1.7" ry="1.1" fill="#5fb767"/>
<ellipse cx="210.9" cy="570.6" rx="1.7" ry="1.1" fill="#2b8133"/>
<rect x="209.2" y="569.5" width="3.4" height="1" fill="#2b8133"/>
<ellipse cx="210.9" cy="569.5" rx="1.7" ry="1.1" fill="#5fb767"/>
<ellipse cx="212.7" cy="574.5" rx="1.7" ry="1.1" fill="#2b8133"/>
<rect x="210.9" y="573.5" width="3.4" height="1" fill="#2b8133"/>
<ellipse cx="212.7" cy="573.5" rx="1.7" ry="1.1" fill="#5fb767"/>
<ellipse cx="214.4" cy="578.5" rx="1.7" ry="1.1" fill="#2b8133"/>
<rect x="212.7" y="577.4" width="3.4" height="1" fill="#2b8133"/>
<ellipse cx="214.4" cy="577.4" rx="1.7" ry="1.1" fill="#5fb767"/>
<ellipse cx="216.1" cy="582.4" rx="1.7" ry="1.1" fill="#2b8133"/>
<rect x="214.4" y="581.4" width="3.4" height="1" fill="#2b8133"/>
<ellipse cx="216.1" cy="581.4" rx="1.7" ry="1.1" fill="#5fb767"/>
<ellipse cx="216.5" cy="568.7" rx="1.7" ry="1.1" fill="#2b8133"/>
<rect x="214.8" y="567.7" width="3.4" height="1" fill="#2b8133"/>
<ellipse cx="216.5" cy="567.7" rx="1.7" ry="1.1" fill="#5fb767"/>
<ellipse cx="218.2" cy="572.6" rx="1.7" ry="1.1" fill="#2b8133"/>
<rect x="216.5" y="571.6" width="3.4" height="1" fill="#2b8133"/>
<ellipse cx="218.2" cy="571.6" rx="1.7" ry="1.1" fill="#5fb767"/>
<ellipse cx="219.9" cy="576.6" rx="1.7" ry="1.1" fill="#2b8133"/>
<rect x="218.2" y="575.6" width="3.4" height="1" fill="#2b8133"/>
<ellipse cx="219.9" cy="575.6" rx="1.7" ry="1.1" fill="#5fb767"/>
<ellipse cx="221.7" cy="580.5" rx="1.7" ry="1.1" fill="#2b8133"/>
<rect x="220" y="579.5" width="3.4" height="1" fill="#2b8133"/>
<ellipse cx="221.7" cy="579.5" rx="1.7" ry="1.1" fill="#5fb767"/>
<ellipse cx="222.1" cy="566.8" rx="1.7" ry="1.1" fill="#2b8133"/>
<rect x="220.4" y="565.8" width="3.4" height="1" fill="#2b8133"/>
<ellipse cx="222.1" cy="565.8" rx="1.7" ry="1.1" fill="#5fb767"/>
<ellipse cx="223.8" cy="570.8" rx="1.7" ry="1.1" fill="#2b8133"/>
<rect x="222.1" y="569.7" width="3.4" height="1" fill="#2b8133"/>
<ellipse cx="223.8" cy="569.7" rx="1.7" ry="1.1" fill="#5fb767"/>
<ellipse cx="225.5" cy="574.7" rx="1.7" ry="1.1" fill="#2b8133"/>
<rect x="223.8" y="573.7" width="3.4" height="1" fill="#2b8133"/>
<ellipse cx="225.5" cy="573.7" rx="1.7" ry="1.1" fill="#5fb767"/>
<ellipse cx="227.2" cy="578.7" rx="1.7" ry="1.1" fill="#2b8133"/>
<rect x="225.5" y="577.6" width="3.4" height="1" fill="#2b8133"/>
<ellipse cx="227.2" cy="577.6" rx="1.7" ry="1.1" fill="#5fb767"/>
<polygon points="210,561.2 212.4,566 212.4,572 210,567.2" fill="#f1823e"/>
<polygon points="212,566 228,560.4 228,566.4 212,572" fill="#e2732f"/>
<polygon points="210,561.2 212,566 228,560.4 226,555.6" fill="#f28a4b"/>
<ellipse cx="215" cy="562.2" rx="2.3" ry="1.4" fill="#e67530"/>
<rect x="212.7" y="560.4" width="4.6" height="1.8" fill="#e67530"/>
<ellipse cx="215" cy="560.4" rx="2.3" ry="1.4" fill="#f49b65"/>
<ellipse cx="223" cy="559.4" rx="2.3" ry="1.4" fill="#e67530"/>
<rect x="220.7" y="557.6" width="4.6" height="1.8" fill="#e67530"/>
<ellipse cx="223" cy="557.6" rx="2.3" ry="1.4" fill="#f49b65"/>
<polygon points="94.6,551.6 100.4,557 100.4,562.5 94.6,557.1" fill="#b7de48"/>
<polygon points="100,557 112.4,553.9 112.4,559.4 100,562.5" fill="#a7cf38"/>
<polygon points="94.6,556.6 100.4,562 100.4,571.5 94.6,566.1" fill="#f1823e"/>
<polygon points="100,562 112.4,558.9 112.4,568.4 100,571.5" fill="#e2732f"/>
<polygon points="94.6,565.6 100.4,571 100.4,575.5 94.6,570.1" fill="#379944"/>
<polygon points="100,571 112.4,567.9 112.4,572.4 100,575.5" fill="#278935"/>
<polygon points="94.6,569.6 100.4,575 100.4,579.5 94.6,574.1" fill="#b7de48"/>
<polygon points="100,575 112.4,571.9 112.4,576.4 100,579.5" fill="#a7cf38"/>
<polygon points="94.6,573.6 100.4,579 100.4,587.5 94.6,582.1" fill="#6ba9e4"/>
<polygon points="100,579 112.4,575.9 112.4,584.4 100,587.5" fill="#5c9ad4"/>
<polygon points="94.6,581.6 100.4,587 100.4,595.5 94.6,590.1" fill="#f1823e"/>
<polygon points="100,587 112.4,583.9 112.4,592.4 100,595.5" fill="#e2732f"/>
<polygon points="94.6,589.6 100.4,595 100.4,599.5 94.6,594.1" fill="#379944"/>
<polygon points="100,595 112.4,591.9 112.4,596.4 100,599.5" fill="#278935"/>
<polygon points="94.6,593.6 100.4,599 100.4,603.5 94.6,598.1" fill="#b7de48"/>
<polygon points="100,599 112.4,595.9 112.4,600.4 100,603.5" fill="#a7cf38"/>
<polygon points="94.6,597.6 100.4,603 100.4,611.5 94.6,606.1" fill="#6ba9e4"/>
<polygon points="100,603 112.4,599.9 112.4,608.4 100,611.5" fill="#5c9ad4"/>
<polygon points="94.6,605.6 100.4,611 100.4,618.5 94.6,613.1" fill="#48b353"/>
<polygon points="100,611 112.4,607.9 112.4,615.4 100,618.5" fill="#38a444"/>
<polygon points="94.6,612.6 100.4,618 100.4,626.5 94.6,621.1" fill="#f1823e"/>
<polygon points="100,618 112.4,614.9 112.4,623.4 100,626.5" fill="#e2732f"/>
<polygon points="94.6,620.6 100.4,626 100.4,630.5 94.6,625.1" fill="#379944"/>
<polygon points="100,626 112.4,622.9 112.4,627.4 100,630.5" fill="#278935"/>
<polygon points="94.6,624.6 100.4,630 100.4,634.5 94.6,629.1" fill="#b7de48"/>
<polygon points="100,630 112.4,626.9 112.4,631.4 100,634.5" fill="#a7cf38"/>
<polygon points="94.6,628.6 100.4,634 100.4,648 94.6,642.6" fill="#6ba9e4"/>
<polygon points="100,634 112.4,630.9 112.4,644.9 100,648" fill="#5c9ad4"/>
<polygon points="94.6,551.6 100,557 112.4,553.9 107,548.5" fill="#bbe053"/>
<ellipse cx="100.4" cy="553.5" rx="2.8" ry="1.7" fill="#abd33a"/>
<rect x="97.6" y="551.3" width="5.6" height="2.2" fill="#abd33a"/>
<ellipse cx="100.4" cy="551.3" rx="2.8" ry="1.7" fill="#c5e56d"/>
<ellipse cx="106.6" cy="552" rx="2.8" ry="1.7" fill="#abd33a"/>
<rect x="103.8" y="549.7" width="5.6" height="2.2" fill="#abd33a"/>
<ellipse cx="106.6" cy="549.7" rx="2.8" ry="1.7" fill="#c5e56d"/>
<use href="#core_p" transform="translate(0 0)"/>
<polygon points="472.4,521.8 475.4,528 475.4,536.5 472.4,530.3" fill="#f1823e"/>
<polygon points="475,528 495,522 495,530.5 475,536.5" fill="#e2732f"/>
<polygon points="472.4,529.8 475.4,536 475.4,542 472.4,535.8" fill="#48b353"/>
<polygon points="475,536 495,530 495,536 475,542" fill="#38a444"/>
<polygon points="472.4,521.8 475,528 495,522 492.4,515.8" fill="#f28a4b"/>
<ellipse cx="478.7" cy="523.4" rx="2.8" ry="1.7" fill="#e67530"/>
<rect x="475.9" y="521.1" width="5.6" height="2.2" fill="#e67530"/>
<ellipse cx="478.7" cy="521.1" rx="2.8" ry="1.7" fill="#f49b65"/>
<ellipse cx="488.7" cy="520.4" rx="2.8" ry="1.7" fill="#e67530"/>
<rect x="485.9" y="518.1" width="5.6" height="2.2" fill="#e67530"/>
<ellipse cx="488.7" cy="518.1" rx="2.8" ry="1.7" fill="#f49b65"/>
<polygon points="493,521.2 495.4,526 495.4,532.5 493,527.7" fill="#379944"/>
<polygon points="495,526 513.4,520.5 513.4,527 495,532.5" fill="#278935"/>
<polygon points="493,527.2 495.4,532 495.4,542 493,537.2" fill="#6ba9e4"/>
<polygon points="495,532 513.4,526.5 513.4,536.5 495,542" fill="#5c9ad4"/>
<polygon points="493,521.2 495,526 513.4,520.5 511.4,515.7" fill="#449f50"/>
<ellipse cx="498.6" cy="522.2" rx="2.3" ry="1.4" fill="#288c36"/>
<rect x="496.3" y="520.4" width="4.6" height="1.8" fill="#288c36"/>
<ellipse cx="498.6" cy="520.4" rx="2.3" ry="1.4" fill="#5fad6a"/>
<ellipse cx="507.8" cy="519.5" rx="2.3" ry="1.4" fill="#288c36"/>
<rect x="505.5" y="517.6" width="4.6" height="1.8" fill="#288c36"/>
<ellipse cx="507.8" cy="517.6" rx="2.3" ry="1.4" fill="#5fad6a"/>
<polygon points="500,516 505.4,521 505.4,525 500,520" fill="#b7de48"/>
<polygon points="505,521 512,518.2 512,522.2 505,525" fill="#a7cf38"/>
<polygon points="500,516 505,521 512,518.2 507,513.2" fill="#bbe053"/>
<ellipse cx="504.2" cy="517.8" rx="1.7" ry="1" fill="#abd33a"/>
<rect x="502.6" y="516.5" width="3.3" height="1.3" fill="#abd33a"/>
<ellipse cx="504.2" cy="516.5" rx="1.7" ry="1" fill="#c5e56d"/>
<ellipse cx="507.8" cy="516.4" rx="1.7" ry="1" fill="#abd33a"/>
<rect x="506.1" y="515.1" width="3.3" height="1.3" fill="#abd33a"/>
<ellipse cx="507.8" cy="515.1" rx="1.7" ry="1" fill="#c5e56d"/>
<polygon points="481,535.2 483.4,540 483.4,548.5 481,543.7" fill="#6ba9e4"/>
<polygon points="483,540 499,535.2 499,543.7 483,548.5" fill="#5c9ad4"/>
<polygon points="481,543.2 483.4,548 483.4,554 481,549.2" fill="#f1823e"/>
<polygon points="483,548 499,543.2 499,549.2 483,554" fill="#e2732f"/>
<polygon points="481,535.2 483,540 499,535.2 497,530.4" fill="#75afe5"/>
<ellipse cx="486" cy="536.4" rx="2.3" ry="1.4" fill="#5e9dd9"/>
<rect x="483.7" y="534.6" width="4.6" height="1.8" fill="#5e9dd9"/>
<ellipse cx="486" cy="534.6" rx="2.3" ry="1.4" fill="#89bbe9"/>
<ellipse cx="494" cy="534" rx="2.3" ry="1.4" fill="#5e9dd9"/>
<rect x="491.7" y="532.2" width="4.6" height="1.8" fill="#5e9dd9"/>
<ellipse cx="494" cy="532.2" rx="2.3" ry="1.4" fill="#89bbe9"/>
<polygon points="449,563.2 451.4,568 451.4,575.5 449,570.7" fill="#6ba9e4"/>
<polygon points="451,568 462.4,565.1 462.4,572.6 451,575.5" fill="#5c9ad4"/>
<polygon points="449,570.2 451.4,575 451.4,579.5 449,574.7" fill="#379944"/>
<polygon points="451,575 462.4,572.1 462.4,576.6 451,579.5" fill="#278935"/>
<polygon points="449,574.2 451.4,579 451.4,583.5 449,578.7" fill="#b7de48"/>
<polygon points="451,579 462.4,576.1 462.4,580.6 451,583.5" fill="#a7cf38"/>
<polygon points="449,578.2 451.4,583 451.4,591.5 449,586.7" fill="#48b353"/>
<polygon points="451,583 462.4,580.1 462.4,588.6 451,591.5" fill="#38a444"/>
<polygon points="449,586.2 451.4,591 451.4,599.5 449,594.7" fill="#6ba9e4"/>
<polygon points="451,591 462.4,588.1 462.4,596.6 451,599.5" fill="#5c9ad4"/>
<polygon points="449,594.2 451.4,599 451.4,604.5 449,599.7" fill="#379944"/>
<polygon points="451,599 462.4,596.1 462.4,601.6 451,604.5" fill="#278935"/>
<polygon points="449,599.2 451.4,604 451.4,612.5 449,607.7" fill="#f1823e"/>
<polygon points="451,604 462.4,601.1 462.4,609.6 451,612.5" fill="#e2732f"/>
<polygon points="449,607.2 451.4,612 451.4,617.5 449,612.7" fill="#379944"/>
<polygon points="451,612 462.4,609.1 462.4,614.6 451,617.5" fill="#278935"/>
<polygon points="449,612.2 451.4,617 451.4,623 449,618.2" fill="#48b353"/>
<polygon points="451,617 462.4,614.1 462.4,620.1 451,623" fill="#38a444"/>
<polygon points="480.8,566.7 483.4,572 483.4,580.5 480.8,575.2" fill="#f1823e"/>
<polygon points="483,572 495,568.4 495,576.9 483,580.5" fill="#e2732f"/>
<polygon points="480.8,574.7 483.4,580 483.4,588.5 480.8,583.2" fill="#6ba9e4"/>
<polygon points="483,580 495,576.4 495,584.9 483,588.5" fill="#5c9ad4"/>
<polygon points="480.8,582.7 483.4,588 483.4,594.5 480.8,589.2" fill="#48b353"/>
<polygon points="483,588 495,584.4 495,590.9 483,594.5" fill="#38a444"/>
<polygon points="480.8,588.7 483.4,594 483.4,598 480.8,592.7" fill="#b7de48"/>
<polygon points="483,594 495,590.4 495,594.4 483,598" fill="#a7cf38"/>
<polygon points="495,567.2 497.4,572 497.4,580.5 495,575.7" fill="#48b353"/>
<polygon points="497,572 506.3,569.2 506.3,577.7 497,580.5" fill="#38a444"/>
<polygon points="495,575.2 497.4,580 497.4,584.5 495,579.7" fill="#b7de48"/>
<polygon points="497,580 506.3,577.2 506.3,581.7 497,584.5" fill="#a7cf38"/>
<polygon points="495,579.2 497.4,584 497.4,592.5 495,587.7" fill="#6ba9e4"/>
<polygon points="497,584 506.3,581.2 506.3,589.7 497,592.5" fill="#5c9ad4"/>
<polygon points="495,587.2 497.4,592 497.4,598 495,593.2" fill="#379944"/>
<polygon points="497,592 506.3,589.2 506.3,595.2 497,598" fill="#278935"/>
<polygon points="425,551.3 441,565.3 441,570 425,556" fill="#33983c"/>
<polygon points="441,565.3 485,548.3 485,553 441,570" fill="#2d8735"/>
<polygon points="425,552 468,537 485,549 441,566" fill="#37a541"/>
<ellipse cx="430.6" cy="552.5" rx="2.1" ry="1.3" fill="#2b8133"/>
<rect x="428.5" y="551.2" width="4.3" height="1.3" fill="#2b8133"/>
<ellipse cx="430.6" cy="551.2" rx="2.1" ry="1.3" fill="#5fb767"/>
<ellipse cx="434.6" cy="556" rx="2.1" ry="1.3" fill="#2b8133"/>
<rect x="432.5" y="554.7" width="4.3" height="1.3" fill="#2b8133"/>
<ellipse cx="434.6" cy="554.7" rx="2.1" ry="1.3" fill="#5fb767"/>
<ellipse cx="438.6" cy="559.5" rx="2.1" ry="1.3" fill="#2b8133"/>
<rect x="436.5" y="558.2" width="4.3" height="1.3" fill="#2b8133"/>
<ellipse cx="438.6" cy="558.2" rx="2.1" ry="1.3" fill="#5fb767"/>
<ellipse cx="442.6" cy="563" rx="2.1" ry="1.3" fill="#2b8133"/>
<rect x="440.5" y="561.7" width="4.3" height="1.3" fill="#2b8133"/>
<ellipse cx="442.6" cy="561.7" rx="2.1" ry="1.3" fill="#5fb767"/>
<ellipse cx="437.8" cy="550" rx="2.1" ry="1.3" fill="#2b8133"/>
<rect x="435.6" y="548.7" width="4.3" height="1.3" fill="#2b8133"/>
<ellipse cx="437.8" cy="548.7" rx="2.1" ry="1.3" fill="#5fb767"/>
<ellipse cx="441.8" cy="553.5" rx="2.1" ry="1.3" fill="#2b8133"/>
<rect x="439.6" y="552.2" width="4.3" height="1.3" fill="#2b8133"/>
<ellipse cx="441.8" cy="552.2" rx="2.1" ry="1.3" fill="#5fb767"/>
<ellipse cx="445.8" cy="557" rx="2.1" ry="1.3" fill="#2b8133"/>
<rect x="443.6" y="555.7" width="4.3" height="1.3" fill="#2b8133"/>
<ellipse cx="445.8" cy="555.7" rx="2.1" ry="1.3" fill="#5fb767"/>
<ellipse cx="449.8" cy="560.5" rx="2.1" ry="1.3" fill="#2b8133"/>
<rect x="447.6" y="559.2" width="4.3" height="1.3" fill="#2b8133"/>
<ellipse cx="449.8" cy="559.2" rx="2.1" ry="1.3" fill="#5fb767"/>
<ellipse cx="444.9" cy="547.5" rx="2.1" ry="1.3" fill="#2b8133"/>
<rect x="442.8" y="546.2" width="4.3" height="1.3" fill="#2b8133"/>
<ellipse cx="444.9" cy="546.2" rx="2.1" ry="1.3" fill="#5fb767"/>
<ellipse cx="448.9" cy="551" rx="2.1" ry="1.3" fill="#2b8133"/>
<rect x="446.8" y="549.7" width="4.3" height="1.3" fill="#2b8133"/>
<ellipse cx="448.9" cy="549.7" rx="2.1" ry="1.3" fill="#5fb767"/>
<ellipse cx="452.9" cy="554.5" rx="2.1" ry="1.3" fill="#2b8133"/>
<rect x="450.8" y="553.2" width="4.3" height="1.3" fill="#2b8133"/>
<ellipse cx="452.9" cy="553.2" rx="2.1" ry="1.3" fill="#5fb767"/>
<ellipse cx="456.9" cy="558" rx="2.1" ry="1.3" fill="#2b8133"/>
<rect x="454.8" y="556.7" width="4.3" height="1.3" fill="#2b8133"/>
<ellipse cx="456.9" cy="556.7" rx="2.1" ry="1.3" fill="#5fb767"/>
<ellipse cx="452.1" cy="545" rx="2.1" ry="1.3" fill="#2b8133"/>
<rect x="450" y="543.7" width="4.3" height="1.3" fill="#2b8133"/>
<ellipse cx="452.1" cy="543.7" rx="2.1" ry="1.3" fill="#5fb767"/>
<ellipse cx="456.1" cy="548.5" rx="2.1" ry="1.3" fill="#2b8133"/>
<rect x="454" y="547.2" width="4.3" height="1.3" fill="#2b8133"/>
<ellipse cx="456.1" cy="547.2" rx="2.1" ry="1.3" fill="#5fb767"/>
<ellipse cx="460.1" cy="552" rx="2.1" ry="1.3" fill="#2b8133"/>
<rect x="458" y="550.7" width="4.3" height="1.3" fill="#2b8133"/>
<ellipse cx="460.1" cy="550.7" rx="2.1" ry="1.3" fill="#5fb767"/>
<ellipse cx="464.1" cy="555.5" rx="2.1" ry="1.3" fill="#2b8133"/>
<rect x="462" y="554.2" width="4.3" height="1.3" fill="#2b8133"/>
<ellipse cx="464.1" cy="554.2" rx="2.1" ry="1.3" fill="#5fb767"/>
<ellipse cx="459.2" cy="542.5" rx="2.1" ry="1.3" fill="#2b8133"/>
<rect x="457.1" y="541.2" width="4.3" height="1.3" fill="#2b8133"/>
<ellipse cx="459.2" cy="541.2" rx="2.1" ry="1.3" fill="#5fb767"/>
<ellipse cx="463.2" cy="546" rx="2.1" ry="1.3" fill="#2b8133"/>
<rect x="461.1" y="544.7" width="4.3" height="1.3" fill="#2b8133"/>
<ellipse cx="463.2" cy="544.7" rx="2.1" ry="1.3" fill="#5fb767"/>
<ellipse cx="467.2" cy="549.5" rx="2.1" ry="1.3" fill="#2b8133"/>
<rect x="465.1" y="548.2" width="4.3" height="1.3" fill="#2b8133"/>
<ellipse cx="467.2" cy="548.2" rx="2.1" ry="1.3" fill="#5fb767"/>
<ellipse cx="471.2" cy="553" rx="2.1" ry="1.3" fill="#2b8133"/>
<rect x="469.1" y="551.7" width="4.3" height="1.3" fill="#2b8133"/>
<ellipse cx="471.2" cy="551.7" rx="2.1" ry="1.3" fill="#5fb767"/>
<ellipse cx="466.4" cy="540" rx="2.1" ry="1.3" fill="#2b8133"/>
<rect x="464.3" y="538.7" width="4.3" height="1.3" fill="#2b8133"/>
<ellipse cx="466.4" cy="538.7" rx="2.1" ry="1.3" fill="#5fb767"/>
<ellipse cx="470.4" cy="543.5" rx="2.1" ry="1.3" fill="#2b8133"/>
<rect x="468.3" y="542.2" width="4.3" height="1.3" fill="#2b8133"/>
<ellipse cx="470.4" cy="542.2" rx="2.1" ry="1.3" fill="#5fb767"/>
<ellipse cx="474.4" cy="547" rx="2.1" ry="1.3" fill="#2b8133"/>
<rect x="472.3" y="545.7" width="4.3" height="1.3" fill="#2b8133"/>
<ellipse cx="474.4" cy="545.7" rx="2.1" ry="1.3" fill="#5fb767"/>
<ellipse cx="478.4" cy="550.5" rx="2.1" ry="1.3" fill="#2b8133"/>
<rect x="476.3" y="549.2" width="4.3" height="1.3" fill="#2b8133"/>
<ellipse cx="478.4" cy="549.2" rx="2.1" ry="1.3" fill="#5fb767"/>
<polygon points="466,552.3 492,569.3 492,574 466,557" fill="#33983c"/>
<polygon points="492,569.3 526,555.3 526,560 492,574" fill="#2d8735"/>
<polygon points="466,553 500,541 526,556 492,570" fill="#37a541"/>
<ellipse cx="471.7" cy="554.3" rx="2.1" ry="1.3" fill="#2b8133"/>
<rect x="469.6" y="553" width="4.1" height="1.2" fill="#2b8133"/>
<ellipse cx="471.7" cy="553" rx="2.1" ry="1.3" fill="#5fb767"/>
<ellipse cx="478.2" cy="558.5" rx="2.1" ry="1.3" fill="#2b8133"/>
<rect x="476.1" y="557.3" width="4.1" height="1.2" fill="#2b8133"/>
<ellipse cx="478.2" cy="557.3" rx="2.1" ry="1.3" fill="#5fb767"/>
<ellipse cx="484.7" cy="562.8" rx="2.1" ry="1.3" fill="#2b8133"/>
<rect x="482.6" y="561.5" width="4.1" height="1.2" fill="#2b8133"/>
<ellipse cx="484.7" cy="561.5" rx="2.1" ry="1.3" fill="#5fb767"/>
<ellipse cx="491.2" cy="567" rx="2.1" ry="1.3" fill="#2b8133"/>
<rect x="489.1" y="565.8" width="4.1" height="1.2" fill="#2b8133"/>
<ellipse cx="491.2" cy="565.8" rx="2.1" ry="1.3" fill="#5fb767"/>
<ellipse cx="476.5" cy="552.6" rx="2.1" ry="1.3" fill="#2b8133"/>
<rect x="474.5" y="551.3" width="4.1" height="1.2" fill="#2b8133"/>
<ellipse cx="476.5" cy="551.3" rx="2.1" ry="1.3" fill="#5fb767"/>
<ellipse cx="483" cy="556.8" rx="2.1" ry="1.3" fill="#2b8133"/>
<rect x="481" y="555.6" width="4.1" height="1.2" fill="#2b8133"/>
<ellipse cx="483" cy="555.6" rx="2.1" ry="1.3" fill="#5fb767"/>
<ellipse cx="489.5" cy="561.1" rx="2.1" ry="1.3" fill="#2b8133"/>
<rect x="487.5" y="559.8" width="4.1" height="1.2" fill="#2b8133"/>
<ellipse cx="489.5" cy="559.8" rx="2.1" ry="1.3" fill="#5fb767"/>
<ellipse cx="496" cy="565.3" rx="2.1" ry="1.3" fill="#2b8133"/>
<rect x="494" y="564.1" width="4.1" height="1.2" fill="#2b8133"/>
<ellipse cx="496" cy="564.1" rx="2.1" ry="1.3" fill="#5fb767"/>
<ellipse cx="481.4" cy="550.8" rx="2.1" ry="1.3" fill="#2b8133"/>
<rect x="479.3" y="549.6" width="4.1" height="1.2" fill="#2b8133"/>
<ellipse cx="481.4" cy="549.6" rx="2.1" ry="1.3" fill="#5fb767"/>
<ellipse cx="487.9" cy="555.1" rx="2.1" ry="1.3" fill="#2b8133"/>
<rect x="485.8" y="553.9" width="4.1" height="1.2" fill="#2b8133"/>
<ellipse cx="487.9" cy="553.9" rx="2.1" ry="1.3" fill="#5fb767"/>
<ellipse cx="494.4" cy="559.3" rx="2.1" ry="1.3" fill="#2b8133"/>
<rect x="492.3" y="558.1" width="4.1" height="1.2" fill="#2b8133"/>
<ellipse cx="494.4" cy="558.1" rx="2.1" ry="1.3" fill="#5fb767"/>
<ellipse cx="500.9" cy="563.6" rx="2.1" ry="1.3" fill="#2b8133"/>
<rect x="498.8" y="562.4" width="4.1" height="1.2" fill="#2b8133"/>
<ellipse cx="500.9" cy="562.4" rx="2.1" ry="1.3" fill="#5fb767"/>
<ellipse cx="486.2" cy="549.1" rx="2.1" ry="1.3" fill="#2b8133"/>
<rect x="484.2" y="547.9" width="4.1" height="1.2" fill="#2b8133"/>
<ellipse cx="486.2" cy="547.9" rx="2.1" ry="1.3" fill="#5fb767"/>
<ellipse cx="492.8" cy="553.4" rx="2.1" ry="1.3" fill="#2b8133"/>
<rect x="490.7" y="552.1" width="4.1" height="1.2" fill="#2b8133"/>
<ellipse cx="492.8" cy="552.1" rx="2.1" ry="1.3" fill="#5fb767"/>
<ellipse cx="499.2" cy="557.6" rx="2.1" ry="1.3" fill="#2b8133"/>
<rect x="497.2" y="556.4" width="4.1" height="1.2" fill="#2b8133"/>
<ellipse cx="499.2" cy="556.4" rx="2.1" ry="1.3" fill="#5fb767"/>
<ellipse cx="505.8" cy="561.9" rx="2.1" ry="1.3" fill="#2b8133"/>
<rect x="503.7" y="560.6" width="4.1" height="1.2" fill="#2b8133"/>
<ellipse cx="505.8" cy="560.6" rx="2.1" ry="1.3" fill="#5fb767"/>
<ellipse cx="491.1" cy="547.4" rx="2.1" ry="1.3" fill="#2b8133"/>
<rect x="489" y="546.2" width="4.1" height="1.2" fill="#2b8133"/>
<ellipse cx="491.1" cy="546.2" rx="2.1" ry="1.3" fill="#5fb767"/>
<ellipse cx="497.6" cy="551.7" rx="2.1" ry="1.3" fill="#2b8133"/>
<rect x="495.5" y="550.4" width="4.1" height="1.2" fill="#2b8133"/>
<ellipse cx="497.6" cy="550.4" rx="2.1" ry="1.3" fill="#5fb767"/>
<ellipse cx="504.1" cy="555.9" rx="2.1" ry="1.3" fill="#2b8133"/>
<rect x="502" y="554.7" width="4.1" height="1.2" fill="#2b8133"/>
<ellipse cx="504.1" cy="554.7" rx="2.1" ry="1.3" fill="#5fb767"/>
<ellipse cx="510.6" cy="560.2" rx="2.1" ry="1.3" fill="#2b8133"/>
<rect x="508.5" y="558.9" width="4.1" height="1.2" fill="#2b8133"/>
<ellipse cx="510.6" cy="558.9" rx="2.1" ry="1.3" fill="#5fb767"/>
<ellipse cx="496" cy="545.7" rx="2.1" ry="1.3" fill="#2b8133"/>
<rect x="493.9" y="544.5" width="4.1" height="1.2" fill="#2b8133"/>
<ellipse cx="496" cy="544.5" rx="2.1" ry="1.3" fill="#5fb767"/>
<ellipse cx="502.5" cy="549.9" rx="2.1" ry="1.3" fill="#2b8133"/>
<rect x="500.4" y="548.7" width="4.1" height="1.2" fill="#2b8133"/>
<ellipse cx="502.5" cy="548.7" rx="2.1" ry="1.3" fill="#5fb767"/>
<ellipse cx="509" cy="554.2" rx="2.1" ry="1.3" fill="#2b8133"/>
<rect x="506.9" y="553" width="4.1" height="1.2" fill="#2b8133"/>
<ellipse cx="509" cy="553" rx="2.1" ry="1.3" fill="#5fb767"/>
<ellipse cx="515.5" cy="558.4" rx="2.1" ry="1.3" fill="#2b8133"/>
<rect x="513.4" y="557.2" width="4.1" height="1.2" fill="#2b8133"/>
<ellipse cx="515.5" cy="557.2" rx="2.1" ry="1.3" fill="#5fb767"/>
<ellipse cx="500.8" cy="544" rx="2.1" ry="1.3" fill="#2b8133"/>
<rect x="498.8" y="542.7" width="4.1" height="1.2" fill="#2b8133"/>
<ellipse cx="500.8" cy="542.7" rx="2.1" ry="1.3" fill="#5fb767"/>
<ellipse cx="507.3" cy="548.2" rx="2.1" ry="1.3" fill="#2b8133"/>
<rect x="505.3" y="547" width="4.1" height="1.2" fill="#2b8133"/>
<ellipse cx="507.3" cy="547" rx="2.1" ry="1.3" fill="#5fb767"/>
<ellipse cx="513.8" cy="552.5" rx="2.1" ry="1.3" fill="#2b8133"/>
<rect x="511.8" y="551.2" width="4.1" height="1.2" fill="#2b8133"/>
<ellipse cx="513.8" cy="551.2" rx="2.1" ry="1.3" fill="#5fb767"/>
<ellipse cx="520.3" cy="556.7" rx="2.1" ry="1.3" fill="#2b8133"/>
<rect x="518.3" y="555.5" width="4.1" height="1.2" fill="#2b8133"/>
<ellipse cx="520.3" cy="555.5" rx="2.1" ry="1.3" fill="#5fb767"/>
<polygon points="427.8,560.8 433.4,566 433.4,575.5 427.8,570.3" fill="#f1823e"/>
<polygon points="433,566 446.2,562.7 446.2,572.2 433,575.5" fill="#e2732f"/>
<polygon points="427.8,569.8 433.4,575 433.4,579.5 427.8,574.3" fill="#379944"/>
<polygon points="433,575 446.2,571.7 446.2,576.2 433,579.5" fill="#278935"/>
<polygon points="427.8,573.8 433.4,579 433.4,583.5 427.8,578.3" fill="#b7de48"/>
<polygon points="433,579 446.2,575.7 446.2,580.2 433,583.5" fill="#a7cf38"/>
<polygon points="427.8,577.8 433.4,583 433.4,591.5 427.8,586.3" fill="#6ba9e4"/>
<polygon points="433,583 446.2,579.7 446.2,588.2 433,591.5" fill="#5c9ad4"/>
<polygon points="427.8,585.8 433.4,591 433.4,599.5 427.8,594.3" fill="#f1823e"/>
<polygon points="433,591 446.2,587.7 446.2,596.2 433,599.5" fill="#e2732f"/>
<polygon points="427.8,593.8 433.4,599 433.4,603.5 427.8,598.3" fill="#379944"/>
<polygon points="433,599 446.2,595.7 446.2,600.2 433,603.5" fill="#278935"/>
<polygon points="427.8,597.8 433.4,603 433.4,607.5 427.8,602.3" fill="#b7de48"/>
<polygon points="433,603 446.2,599.7 446.2,604.2 433,607.5" fill="#a7cf38"/>
<polygon points="427.8,601.8 433.4,607 433.4,615.5 427.8,610.3" fill="#6ba9e4"/>
<polygon points="433,607 446.2,603.7 446.2,612.2 433,615.5" fill="#5c9ad4"/>
<polygon points="427.8,609.8 433.4,615 433.4,623.5 427.8,618.3" fill="#48b353"/>
<polygon points="433,615 446.2,611.7 446.2,620.2 433,623.5" fill="#38a444"/>
<polygon points="427.8,617.8 433.4,623 433.4,631.5 427.8,626.3" fill="#f1823e"/>
<polygon points="433,623 446.2,619.7 446.2,628.2 433,631.5" fill="#e2732f"/>
<polygon points="427.8,625.8 433.4,631 433.4,635.5 427.8,630.3" fill="#379944"/>
<polygon points="433,631 446.2,627.7 446.2,632.2 433,635.5" fill="#278935"/>
<polygon points="427.8,629.8 433.4,635 433.4,639.5 427.8,634.3" fill="#b7de48"/>
<polygon points="433,635 446.2,631.7 446.2,636.2 433,639.5" fill="#a7cf38"/>
<polygon points="427.8,633.8 433.4,639 433.4,653 427.8,647.8" fill="#6ba9e4"/>
<polygon points="433,639 446.2,635.7 446.2,649.7 433,653" fill="#5c9ad4"/>
<polygon points="531,511.2 533.4,516 533.4,524.5 531,519.7" fill="#48b353"/>
<polygon points="533,516 544.5,512.5 544.5,521 533,524.5" fill="#38a444"/>
<polygon points="531,519.2 533.4,524 533.4,533.5 531,528.7" fill="#f1823e"/>
<polygon points="533,524 544.5,520.5 544.5,530 533,533.5" fill="#e2732f"/>
<polygon points="531,528.2 533.4,533 533.4,541.5 531,536.7" fill="#48b353"/>
<polygon points="533,533 544.5,529.5 544.5,538 533,541.5" fill="#38a444"/>
<polygon points="531,536.2 533.4,541 533.4,547.5 531,542.7" fill="#379944"/>
<polygon points="533,541 544.5,537.5 544.5,544 533,547.5" fill="#278935"/>
<polygon points="531,542.2 533.4,547 533.4,555.5 531,550.7" fill="#f1823e"/>
<polygon points="533,547 544.5,543.5 544.5,552 533,555.5" fill="#e2732f"/>
<polygon points="531,550.2 533.4,555 533.4,565.5 531,560.7" fill="#6ba9e4"/>
<polygon points="533,555 544.5,551.5 544.5,562 533,565.5" fill="#5c9ad4"/>
<polygon points="531,560.2 533.4,565 533.4,573 531,568.2" fill="#f1823e"/>
<polygon points="533,565 544.5,561.5 544.5,569.5 533,573" fill="#e2732f"/>
<polygon points="531,511.2 533,516 544.5,512.5 542.5,507.8" fill="#53b85e"/>
<ellipse cx="534.9" cy="512.7" rx="2.3" ry="1.4" fill="#3aa745"/>
<rect x="532.6" y="510.9" width="4.6" height="1.8" fill="#3aa745"/>
<ellipse cx="534.9" cy="510.9" rx="2.3" ry="1.4" fill="#6dc276"/>
<ellipse cx="540.6" cy="511" rx="2.3" ry="1.4" fill="#3aa745"/>
<rect x="538.3" y="509.2" width="4.6" height="1.8" fill="#3aa745"/>
<ellipse cx="540.6" cy="509.2" rx="2.3" ry="1.4" fill="#6dc276"/>
<polygon points="507.7,599.9 509.4,603 509.4,610.5 507.7,607.4" fill="#6ba9e4"/>
<polygon points="509,603 562.9,586.8 562.9,594.3 509,610.5" fill="#5c9ad4"/>
<polygon points="507.7,606.9 509.4,610 509.4,618.5 507.7,615.4" fill="#f1823e"/>
<polygon points="509,610 562.9,593.8 562.9,602.3 509,618.5" fill="#e2732f"/>
<polygon points="507.7,614.9 509.4,618 509.4,624.5 507.7,621.4" fill="#48b353"/>
<polygon points="509,618 562.9,601.8 562.9,608.3 509,624.5" fill="#38a444"/>
<polygon points="507.7,620.9 509.4,624 509.4,630.5 507.7,627.4" fill="#6ba9e4"/>
<polygon points="509,624 562.9,607.8 562.9,614.3 509,630.5" fill="#5c9ad4"/>
<polygon points="507.7,626.9 509.4,630 509.4,636 507.7,632.9" fill="#f1823e"/>
<polygon points="509,630 562.9,613.8 562.9,619.8 509,636" fill="#e2732f"/>
<polygon points="537.4,560.2 539.4,564 539.4,570 537.4,566.2" fill="#6ba9e4"/>
<polygon points="539,564 548,561.3 548,567.3 539,570" fill="#5c9ad4"/>
<polygon points="537.4,560.2 539,564 548,561.3 546.4,557.5" fill="#75afe5"/>
<ellipse cx="540.5" cy="561.4" rx="1.8" ry="1.1" fill="#5e9dd9"/>
<rect x="538.6" y="559.9" width="3.7" height="1.5" fill="#5e9dd9"/>
<ellipse cx="540.5" cy="559.9" rx="1.8" ry="1.1" fill="#89bbe9"/>
<ellipse cx="545" cy="560.1" rx="1.8" ry="1.1" fill="#5e9dd9"/>
<rect x="543.1" y="558.6" width="3.7" height="1.5" fill="#5e9dd9"/>
<ellipse cx="545" cy="558.6" rx="1.8" ry="1.1" fill="#89bbe9"/>
<polygon points="508.4,587.8 513.4,599.9 513.4,605.6 508.4,593.5" fill="#33983c"/>
<polygon points="513.4,599.9 564.3,579.3 564.3,585 513.4,605.6" fill="#2d8735"/>
<polygon points="508.4,588.5 555.8,572.9 564.3,580 513.4,600.6" fill="#37a541"/>
<ellipse cx="512.2" cy="589.5" rx="1.7" ry="1.1" fill="#2b8133"/>
<rect x="510.5" y="588.5" width="3.5" height="1" fill="#2b8133"/>
<ellipse cx="512.2" cy="588.5" rx="1.7" ry="1.1" fill="#5fb767"/>
<ellipse cx="513.9" cy="593.6" rx="1.7" ry="1.1" fill="#2b8133"/>
<rect x="512.1" y="592.5" width="3.5" height="1" fill="#2b8133"/>
<ellipse cx="513.9" cy="592.5" rx="1.7" ry="1.1" fill="#5fb767"/>
<ellipse cx="515.5" cy="597.6" rx="1.7" ry="1.1" fill="#2b8133"/>
<rect x="513.8" y="596.6" width="3.5" height="1" fill="#2b8133"/>
<ellipse cx="515.5" cy="596.6" rx="1.7" ry="1.1" fill="#5fb767"/>
<ellipse cx="518.1" cy="587.6" rx="1.7" ry="1.1" fill="#2b8133"/>
<rect x="516.4" y="586.5" width="3.5" height="1" fill="#2b8133"/>
<ellipse cx="518.1" cy="586.5" rx="1.7" ry="1.1" fill="#5fb767"/>
<ellipse cx="519.8" cy="591.6" rx="1.7" ry="1.1" fill="#2b8133"/>
<rect x="518" y="590.6" width="3.5" height="1" fill="#2b8133"/>
<ellipse cx="519.8" cy="590.6" rx="1.7" ry="1.1" fill="#5fb767"/>
<ellipse cx="521.5" cy="595.7" rx="1.7" ry="1.1" fill="#2b8133"/>
<rect x="519.7" y="594.6" width="3.5" height="1" fill="#2b8133"/>
<ellipse cx="521.5" cy="594.6" rx="1.7" ry="1.1" fill="#5fb767"/>
<ellipse cx="524" cy="585.6" rx="1.7" ry="1.1" fill="#2b8133"/>
<rect x="522.3" y="584.6" width="3.5" height="1" fill="#2b8133"/>
<ellipse cx="524" cy="584.6" rx="1.7" ry="1.1" fill="#5fb767"/>
<ellipse cx="525.7" cy="589.7" rx="1.7" ry="1.1" fill="#2b8133"/>
<rect x="524" y="588.6" width="3.5" height="1" fill="#2b8133"/>
<ellipse cx="525.7" cy="588.6" rx="1.7" ry="1.1" fill="#5fb767"/>
<ellipse cx="527.4" cy="593.7" rx="1.7" ry="1.1" fill="#2b8133"/>
<rect x="525.6" y="592.7" width="3.5" height="1" fill="#2b8133"/>
<ellipse cx="527.4" cy="592.7" rx="1.7" ry="1.1" fill="#5fb767"/>
<ellipse cx="530" cy="583.7" rx="1.7" ry="1.1" fill="#2b8133"/>
<rect x="528.2" y="582.6" width="3.5" height="1" fill="#2b8133"/>
<ellipse cx="530" cy="582.6" rx="1.7" ry="1.1" fill="#5fb767"/>
<ellipse cx="531.6" cy="587.7" rx="1.7" ry="1.1" fill="#2b8133"/>
<rect x="529.9" y="586.7" width="3.5" height="1" fill="#2b8133"/>
<ellipse cx="531.6" cy="586.7" rx="1.7" ry="1.1" fill="#5fb767"/>
<ellipse cx="533.3" cy="591.8" rx="1.7" ry="1.1" fill="#2b8133"/>
<rect x="531.6" y="590.7" width="3.5" height="1" fill="#2b8133"/>
<ellipse cx="533.3" cy="590.7" rx="1.7" ry="1.1" fill="#5fb767"/>
<ellipse cx="535.9" cy="581.7" rx="1.7" ry="1.1" fill="#2b8133"/>
<rect x="534.2" y="580.7" width="3.5" height="1" fill="#2b8133"/>
<ellipse cx="535.9" cy="580.7" rx="1.7" ry="1.1" fill="#5fb767"/>
<ellipse cx="537.6" cy="585.8" rx="1.7" ry="1.1" fill="#2b8133"/>
<rect x="535.8" y="584.7" width="3.5" height="1" fill="#2b8133"/>
<ellipse cx="537.6" cy="584.7" rx="1.7" ry="1.1" fill="#5fb767"/>
<ellipse cx="539.2" cy="589.8" rx="1.7" ry="1.1" fill="#2b8133"/>
<rect x="537.5" y="588.8" width="3.5" height="1" fill="#2b8133"/>
<ellipse cx="539.2" cy="588.8" rx="1.7" ry="1.1" fill="#5fb767"/>
<ellipse cx="541.8" cy="579.8" rx="1.7" ry="1.1" fill="#2b8133"/>
<rect x="540.1" y="578.7" width="3.5" height="1" fill="#2b8133"/>
<ellipse cx="541.8" cy="578.7" rx="1.7" ry="1.1" fill="#5fb767"/>
<ellipse cx="543.5" cy="583.8" rx="1.7" ry="1.1" fill="#2b8133"/>
<rect x="541.7" y="582.8" width="3.5" height="1" fill="#2b8133"/>
<ellipse cx="543.5" cy="582.8" rx="1.7" ry="1.1" fill="#5fb767"/>
<ellipse cx="545.2" cy="587.9" rx="1.7" ry="1.1" fill="#2b8133"/>
<rect x="543.4" y="586.8" width="3.5" height="1" fill="#2b8133"/>
<ellipse cx="545.2" cy="586.8" rx="1.7" ry="1.1" fill="#5fb767"/>
<ellipse cx="547.7" cy="577.8" rx="1.7" ry="1.1" fill="#2b8133"/>
<rect x="546" y="576.8" width="3.5" height="1" fill="#2b8133"/>
<ellipse cx="547.7" cy="576.8" rx="1.7" ry="1.1" fill="#5fb767"/>
<ellipse cx="549.4" cy="581.9" rx="1.7" ry="1.1" fill="#2b8133"/>
<rect x="547.7" y="580.8" width="3.5" height="1" fill="#2b8133"/>
<ellipse cx="549.4" cy="580.8" rx="1.7" ry="1.1" fill="#5fb767"/>
<ellipse cx="551.1" cy="585.9" rx="1.7" ry="1.1" fill="#2b8133"/>
<rect x="549.3" y="584.9" width="3.5" height="1" fill="#2b8133"/>
<ellipse cx="551.1" cy="584.9" rx="1.7" ry="1.1" fill="#5fb767"/>
<ellipse cx="553.7" cy="575.9" rx="1.7" ry="1.1" fill="#2b8133"/>
<rect x="551.9" y="574.8" width="3.5" height="1" fill="#2b8133"/>
<ellipse cx="553.7" cy="574.8" rx="1.7" ry="1.1" fill="#5fb767"/>
<ellipse cx="555.3" cy="579.9" rx="1.7" ry="1.1" fill="#2b8133"/>
<rect x="553.6" y="578.9" width="3.5" height="1" fill="#2b8133"/>
<ellipse cx="555.3" cy="578.9" rx="1.7" ry="1.1" fill="#5fb767"/>
<ellipse cx="557" cy="584" rx="1.7" ry="1.1" fill="#2b8133"/>
<rect x="555.3" y="582.9" width="3.5" height="1" fill="#2b8133"/>
<ellipse cx="557" cy="582.9" rx="1.7" ry="1.1" fill="#5fb767"/>
<polygon points="538,568.2 540.4,573 540.4,579 538,574.2" fill="#f1823e"/>
<polygon points="540,573 554.4,568 554.4,574 540,579" fill="#e2732f"/>
<polygon points="538,568.2 540,573 554.4,568 552.4,563.2" fill="#f28a4b"/>
<ellipse cx="542.6" cy="569.3" rx="2.3" ry="1.4" fill="#e67530"/>
<rect x="540.3" y="567.5" width="4.6" height="1.8" fill="#e67530"/>
<ellipse cx="542.6" cy="567.5" rx="2.3" ry="1.4" fill="#f49b65"/>
<ellipse cx="549.8" cy="566.8" rx="2.3" ry="1.4" fill="#e67530"/>
<rect x="547.5" y="565" width="4.6" height="1.8" fill="#e67530"/>
<ellipse cx="549.8" cy="565" rx="2.3" ry="1.4" fill="#f49b65"/>
<use href="#core_p" transform="translate(338.5 38.3) scale(0.945)"/>
<polygon points="589,585 594.4,590 594.4,598.5 589,593.5" fill="#f1823e"/>
<polygon points="594,590 604.6,587.4 604.6,595.9 594,598.5" fill="#e2732f"/>
<polygon points="589,593 594.4,598 594.4,606.5 589,601.5" fill="#6ba9e4"/>
<polygon points="594,598 604.6,595.4 604.6,603.9 594,606.5" fill="#5c9ad4"/>
<polygon points="589,601 594.4,606 594.4,610.5 589,605.5" fill="#b7de48"/>
<polygon points="594,606 604.6,603.4 604.6,607.9 594,610.5" fill="#a7cf38"/>
<polygon points="589,605 594.4,610 594.4,618.5 589,613.5" fill="#48b353"/>
<polygon points="594,610 604.6,607.4 604.6,615.9 594,618.5" fill="#38a444"/>
<polygon points="589,613 594.4,618 594.4,624.5 589,619.5" fill="#379944"/>
<polygon points="594,618 604.6,615.4 604.6,621.9 594,624.5" fill="#278935"/>
<polygon points="589,619 594.4,624 594.4,632.5 589,627.5" fill="#f1823e"/>
<polygon points="594,624 604.6,621.4 604.6,629.9 594,632.5" fill="#e2732f"/>
<polygon points="589,627 594.4,632 594.4,640.5 589,635.5" fill="#6ba9e4"/>
<polygon points="594,632 604.6,629.4 604.6,637.9 594,640.5" fill="#5c9ad4"/>
<polygon points="589,635 594.4,640 594.4,648.5 589,643.5" fill="#48b353"/>
<polygon points="594,640 604.6,637.4 604.6,645.9 594,648.5" fill="#38a444"/>
<polygon points="589,643 594.4,648 594.4,654.5 589,649.5" fill="#f1823e"/>
<polygon points="594,648 604.6,645.4 604.6,651.9 594,654.5" fill="#e2732f"/>
<polygon points="589,649 594.4,654 594.4,660 589,655" fill="#6ba9e4"/>
<polygon points="594,654 604.6,651.4 604.6,657.4 594,660" fill="#5c9ad4"/>
<polygon points="589,585 594,590 604.6,587.4 599.6,582.4" fill="#f28a4b"/>
<ellipse cx="594.1" cy="586.8" rx="2.4" ry="1.5" fill="#e67530"/>
<rect x="591.7" y="584.9" width="4.8" height="1.9" fill="#e67530"/>
<ellipse cx="594.1" cy="584.9" rx="2.4" ry="1.5" fill="#f49b65"/>
<ellipse cx="599.5" cy="585.5" rx="2.4" ry="1.5" fill="#e67530"/>
<rect x="597" y="583.6" width="4.8" height="1.9" fill="#e67530"/>
<ellipse cx="599.5" cy="583.6" rx="2.4" ry="1.5" fill="#f49b65"/>
<polygon points="835,526.2 837.4,531 837.4,538.5 835,533.7" fill="#6ba9e4"/>
<polygon points="837,531 876,526.3 876,533.8 837,538.5" fill="#5c9ad4"/>
<polygon points="835,533.2 837.4,538 837.4,543 835,538.2" fill="#48b353"/>
<polygon points="837,538 876,533.3 876,538.3 837,543" fill="#38a444"/>
<polygon points="835,526.2 837,531 876,526.3 874,521.5" fill="#75afe5"/>
<ellipse cx="840.9" cy="528" rx="2.3" ry="1.4" fill="#5e9dd9"/>
<rect x="838.6" y="526.2" width="4.6" height="1.8" fill="#5e9dd9"/>
<ellipse cx="840.9" cy="526.2" rx="2.3" ry="1.4" fill="#89bbe9"/>
<ellipse cx="850.6" cy="526.8" rx="2.3" ry="1.4" fill="#5e9dd9"/>
<rect x="848.3" y="525" width="4.6" height="1.8" fill="#5e9dd9"/>
<ellipse cx="850.6" cy="525" rx="2.3" ry="1.4" fill="#89bbe9"/>
<ellipse cx="860.4" cy="525.7" rx="2.3" ry="1.4" fill="#5e9dd9"/>
<rect x="858.1" y="523.8" width="4.6" height="1.8" fill="#5e9dd9"/>
<ellipse cx="860.4" cy="523.8" rx="2.3" ry="1.4" fill="#89bbe9"/>
<ellipse cx="870.1" cy="524.5" rx="2.3" ry="1.4" fill="#5e9dd9"/>
<rect x="867.8" y="522.7" width="4.6" height="1.8" fill="#5e9dd9"/>
<ellipse cx="870.1" cy="522.7" rx="2.3" ry="1.4" fill="#89bbe9"/>
<polygon points="864,527.2 866.4,532 866.4,540 864,535.2" fill="#f1823e"/>
<polygon points="866,532 876,530.5 876,538.5 866,540" fill="#e2732f"/>
<polygon points="864,527.2 866,532 876,530.5 874,525.7" fill="#f28a4b"/>
<ellipse cx="867.5" cy="529.2" rx="2.2" ry="1.4" fill="#e67530"/>
<rect x="865.3" y="527.4" width="4.4" height="1.8" fill="#e67530"/>
<ellipse cx="867.5" cy="527.4" rx="2.2" ry="1.4" fill="#f49b65"/>
<ellipse cx="872.5" cy="528.5" rx="2.2" ry="1.4" fill="#e67530"/>
<rect x="870.3" y="526.7" width="4.4" height="1.8" fill="#e67530"/>
<ellipse cx="872.5" cy="526.7" rx="2.2" ry="1.4" fill="#f49b65"/>
<polygon points="860.4,540.2 862.4,544 862.4,550.5 860.4,546.7" fill="#48b353"/>
<polygon points="862,544 872.4,540.9 872.4,547.4 862,550.5" fill="#38a444"/>
<polygon points="860.4,546.2 862.4,550 862.4,558.5 860.4,554.7" fill="#f1823e"/>
<polygon points="862,550 872.4,546.9 872.4,555.4 862,558.5" fill="#e2732f"/>
<polygon points="860.4,554.2 862.4,558 862.4,566.5 860.4,562.7" fill="#6ba9e4"/>
<polygon points="862,558 872.4,554.9 872.4,563.4 862,566.5" fill="#5c9ad4"/>
<polygon points="860.4,562.2 862.4,566 862.4,574.5 860.4,570.7" fill="#f1823e"/>
<polygon points="862,566 872.4,562.9 872.4,571.4 862,574.5" fill="#e2732f"/>
<polygon points="860.4,570.2 862.4,574 862.4,582.5 860.4,578.7" fill="#48b353"/>
<polygon points="862,574 872.4,570.9 872.4,579.4 862,582.5" fill="#38a444"/>
<polygon points="860.4,578.2 862.4,582 862.4,590.5 860.4,586.7" fill="#6ba9e4"/>
<polygon points="862,582 872.4,578.9 872.4,587.4 862,590.5" fill="#5c9ad4"/>
<polygon points="860.4,586.2 862.4,590 862.4,596 860.4,592.2" fill="#f1823e"/>
<polygon points="862,590 872.4,586.9 872.4,592.9 862,596" fill="#e2732f"/>
<polygon points="829,533.2 831.4,538 831.4,548 829,543.2" fill="#379944"/>
<polygon points="831,538 843,534.4 843,544.4 831,548" fill="#278935"/>
<polygon points="829,533.2 831,538 843,534.4 841,529.6" fill="#449f50"/>
<ellipse cx="833" cy="534.7" rx="2.3" ry="1.4" fill="#288c36"/>
<rect x="830.7" y="532.9" width="4.6" height="1.8" fill="#288c36"/>
<ellipse cx="833" cy="532.9" rx="2.3" ry="1.4" fill="#5fad6a"/>
<ellipse cx="839" cy="532.9" rx="2.3" ry="1.4" fill="#288c36"/>
<rect x="836.7" y="531.1" width="4.6" height="1.8" fill="#288c36"/>
<ellipse cx="839" cy="531.1" rx="2.3" ry="1.4" fill="#5fad6a"/>
<polygon points="840.5,536 843.4,542 843.4,547.5 840.5,541.5" fill="#b7de48"/>
<polygon points="843,542 859,537.2 859,542.7 843,547.5" fill="#a7cf38"/>
<polygon points="840.5,541 843.4,547 843.4,556 840.5,550" fill="#f1823e"/>
<polygon points="843,547 859,542.2 859,551.2 843,556" fill="#e2732f"/>
<polygon points="840.5,536 843,542 859,537.2 856.5,531.2" fill="#bbe053"/>
<ellipse cx="845.8" cy="537.8" rx="2.8" ry="1.7" fill="#abd33a"/>
<rect x="843" y="535.6" width="5.6" height="2.2" fill="#abd33a"/>
<ellipse cx="845.8" cy="535.6" rx="2.8" ry="1.7" fill="#c5e56d"/>
<ellipse cx="853.8" cy="535.4" rx="2.8" ry="1.7" fill="#abd33a"/>
<rect x="851" y="533.2" width="5.6" height="2.2" fill="#abd33a"/>
<ellipse cx="853.8" cy="533.2" rx="2.8" ry="1.7" fill="#c5e56d"/>
<polygon points="785.4,584.2 787.4,588 787.4,595.5 785.4,591.7" fill="#6ba9e4"/>
<polygon points="787,588 796.7,585.6 796.7,593.1 787,595.5" fill="#5c9ad4"/>
<polygon points="785.4,591.2 787.4,595 787.4,599.5 785.4,595.7" fill="#379944"/>
<polygon points="787,595 796.7,592.6 796.7,597.1 787,599.5" fill="#278935"/>
<polygon points="785.4,595.2 787.4,599 787.4,605.5 785.4,601.7" fill="#48b353"/>
<polygon points="787,599 796.7,596.6 796.7,603.1 787,605.5" fill="#38a444"/>
<polygon points="785.4,601.2 787.4,605 787.4,609.5 785.4,605.7" fill="#b7de48"/>
<polygon points="787,605 796.7,602.6 796.7,607.1 787,609.5" fill="#a7cf38"/>
<polygon points="785.4,605.2 787.4,609 787.4,617.5 785.4,613.7" fill="#6ba9e4"/>
<polygon points="787,609 796.7,606.6 796.7,615.1 787,617.5" fill="#5c9ad4"/>
<polygon points="785.4,613.2 787.4,617 787.4,625.5 785.4,621.7" fill="#f1823e"/>
<polygon points="787,617 796.7,614.6 796.7,623.1 787,625.5" fill="#e2732f"/>
<polygon points="785.4,621.2 787.4,625 787.4,631.5 785.4,627.7" fill="#379944"/>
<polygon points="787,625 796.7,622.6 796.7,629.1 787,631.5" fill="#278935"/>
<polygon points="785.4,627.2 787.4,631 787.4,637 785.4,633.2" fill="#48b353"/>
<polygon points="787,631 796.7,628.6 796.7,634.6 787,637" fill="#38a444"/>
<polygon points="813,580.2 815.4,585 815.4,593.5 813,588.7" fill="#f1823e"/>
<polygon points="815,585 825,582 825,590.5 815,593.5" fill="#e2732f"/>
<polygon points="813,588.2 815.4,593 815.4,601.5 813,596.7" fill="#6ba9e4"/>
<polygon points="815,593 825,590 825,598.5 815,601.5" fill="#5c9ad4"/>
<polygon points="813,596.2 815.4,601 815.4,607.5 813,602.7" fill="#48b353"/>
<polygon points="815,601 825,598 825,604.5 815,607.5" fill="#38a444"/>
<polygon points="813,602.2 815.4,607 815.4,611 813,606.2" fill="#b7de48"/>
<polygon points="815,607 825,604 825,608 815,611" fill="#a7cf38"/>
<polygon points="825,580.2 827.4,585 827.4,593.5 825,588.7" fill="#48b353"/>
<polygon points="827,585 834,582.9 834,591.4 827,593.5" fill="#38a444"/>
<polygon points="825,588.2 827.4,593 827.4,597.5 825,592.7" fill="#b7de48"/>
<polygon points="827,593 834,590.9 834,595.4 827,597.5" fill="#a7cf38"/>
<polygon points="825,592.2 827.4,597 827.4,605.5 825,600.7" fill="#6ba9e4"/>
<polygon points="827,597 834,594.9 834,603.4 827,605.5" fill="#5c9ad4"/>
<polygon points="825,600.2 827.4,605 827.4,611 825,606.2" fill="#379944"/>
<polygon points="827,605 834,602.9 834,608.9 827,611" fill="#278935"/>
<polygon points="757,557.3 784,586.3 784,591 757,562" fill="#a9ce3b"/>
<polygon points="784,586.3 829,561.3 829,566 784,591" fill="#97b834"/>
<polygon points="757,558 812,538 829,562 784,587" fill="#b8e040"/>
<ellipse cx="762.3" cy="559.3" rx="2.6" ry="1.6" fill="#90af32"/>
<rect x="759.7" y="557.7" width="5.2" height="1.6" fill="#90af32"/>
<ellipse cx="762.3" cy="557.7" rx="2.6" ry="1.6" fill="#c6e666"/>
<ellipse cx="766.8" cy="564.1" rx="2.6" ry="1.6" fill="#90af32"/>
<rect x="764.2" y="562.6" width="5.2" height="1.6" fill="#90af32"/>
<ellipse cx="766.8" cy="562.6" rx="2.6" ry="1.6" fill="#c6e666"/>
<ellipse cx="771.3" cy="569" rx="2.6" ry="1.6" fill="#90af32"/>
<rect x="768.7" y="567.4" width="5.2" height="1.6" fill="#90af32"/>
<ellipse cx="771.3" cy="567.4" rx="2.6" ry="1.6" fill="#c6e666"/>
<ellipse cx="775.8" cy="573.8" rx="2.6" ry="1.6" fill="#90af32"/>
<rect x="773.2" y="572.2" width="5.2" height="1.6" fill="#90af32"/>
<ellipse cx="775.8" cy="572.2" rx="2.6" ry="1.6" fill="#c6e666"/>
<ellipse cx="780.3" cy="578.6" rx="2.6" ry="1.6" fill="#90af32"/>
<rect x="777.7" y="577.1" width="5.2" height="1.6" fill="#90af32"/>
<ellipse cx="780.3" cy="577.1" rx="2.6" ry="1.6" fill="#c6e666"/>
<ellipse cx="784.8" cy="583.5" rx="2.6" ry="1.6" fill="#90af32"/>
<rect x="782.2" y="581.9" width="5.2" height="1.6" fill="#90af32"/>
<ellipse cx="784.8" cy="581.9" rx="2.6" ry="1.6" fill="#c6e666"/>
<ellipse cx="768.4" cy="557.1" rx="2.6" ry="1.6" fill="#90af32"/>
<rect x="765.8" y="555.5" width="5.2" height="1.6" fill="#90af32"/>
<ellipse cx="768.4" cy="555.5" rx="2.6" ry="1.6" fill="#c6e666"/>
<ellipse cx="772.9" cy="561.9" rx="2.6" ry="1.6" fill="#90af32"/>
<rect x="770.3" y="560.4" width="5.2" height="1.6" fill="#90af32"/>
<ellipse cx="772.9" cy="560.4" rx="2.6" ry="1.6" fill="#c6e666"/>
<ellipse cx="777.4" cy="566.8" rx="2.6" ry="1.6" fill="#90af32"/>
<rect x="774.8" y="565.2" width="5.2" height="1.6" fill="#90af32"/>
<ellipse cx="777.4" cy="565.2" rx="2.6" ry="1.6" fill="#c6e666"/>
<ellipse cx="781.9" cy="571.6" rx="2.6" ry="1.6" fill="#90af32"/>
<rect x="779.3" y="570" width="5.2" height="1.6" fill="#90af32"/>
<ellipse cx="781.9" cy="570" rx="2.6" ry="1.6" fill="#c6e666"/>
<ellipse cx="786.4" cy="576.4" rx="2.6" ry="1.6" fill="#90af32"/>
<rect x="783.8" y="574.9" width="5.2" height="1.6" fill="#90af32"/>
<ellipse cx="786.4" cy="574.9" rx="2.6" ry="1.6" fill="#c6e666"/>
<ellipse cx="790.9" cy="581.2" rx="2.6" ry="1.6" fill="#90af32"/>
<rect x="788.3" y="579.7" width="5.2" height="1.6" fill="#90af32"/>
<ellipse cx="790.9" cy="579.7" rx="2.6" ry="1.6" fill="#c6e666"/>
<ellipse cx="774.5" cy="554.9" rx="2.6" ry="1.6" fill="#90af32"/>
<rect x="771.9" y="553.3" width="5.2" height="1.6" fill="#90af32"/>
<ellipse cx="774.5" cy="553.3" rx="2.6" ry="1.6" fill="#c6e666"/>
<ellipse cx="779" cy="559.7" rx="2.6" ry="1.6" fill="#90af32"/>
<rect x="776.4" y="558.1" width="5.2" height="1.6" fill="#90af32"/>
<ellipse cx="779" cy="558.1" rx="2.6" ry="1.6" fill="#c6e666"/>
<ellipse cx="783.5" cy="564.5" rx="2.6" ry="1.6" fill="#90af32"/>
<rect x="780.9" y="563" width="5.2" height="1.6" fill="#90af32"/>
<ellipse cx="783.5" cy="563" rx="2.6" ry="1.6" fill="#c6e666"/>
<ellipse cx="788" cy="569.4" rx="2.6" ry="1.6" fill="#90af32"/>
<rect x="785.4" y="567.8" width="5.2" height="1.6" fill="#90af32"/>
<ellipse cx="788" cy="567.8" rx="2.6" ry="1.6" fill="#c6e666"/>
<ellipse cx="792.5" cy="574.2" rx="2.6" ry="1.6" fill="#90af32"/>
<rect x="789.9" y="572.6" width="5.2" height="1.6" fill="#90af32"/>
<ellipse cx="792.5" cy="572.6" rx="2.6" ry="1.6" fill="#c6e666"/>
<ellipse cx="797" cy="579" rx="2.6" ry="1.6" fill="#90af32"/>
<rect x="794.4" y="577.5" width="5.2" height="1.6" fill="#90af32"/>
<ellipse cx="797" cy="577.5" rx="2.6" ry="1.6" fill="#c6e666"/>
<ellipse cx="780.6" cy="552.6" rx="2.6" ry="1.6" fill="#90af32"/>
<rect x="778" y="551.1" width="5.2" height="1.6" fill="#90af32"/>
<ellipse cx="780.6" cy="551.1" rx="2.6" ry="1.6" fill="#c6e666"/>
<ellipse cx="785.1" cy="557.5" rx="2.6" ry="1.6" fill="#90af32"/>
<rect x="782.5" y="555.9" width="5.2" height="1.6" fill="#90af32"/>
<ellipse cx="785.1" cy="555.9" rx="2.6" ry="1.6" fill="#c6e666"/>
<ellipse cx="789.6" cy="562.3" rx="2.6" ry="1.6" fill="#90af32"/>
<rect x="787" y="560.7" width="5.2" height="1.6" fill="#90af32"/>
<ellipse cx="789.6" cy="560.7" rx="2.6" ry="1.6" fill="#c6e666"/>
<ellipse cx="794.1" cy="567.1" rx="2.6" ry="1.6" fill="#90af32"/>
<rect x="791.5" y="565.6" width="5.2" height="1.6" fill="#90af32"/>
<ellipse cx="794.1" cy="565.6" rx="2.6" ry="1.6" fill="#c6e666"/>
<ellipse cx="798.6" cy="572" rx="2.6" ry="1.6" fill="#90af32"/>
<rect x="796" y="570.4" width="5.2" height="1.6" fill="#90af32"/>
<ellipse cx="798.6" cy="570.4" rx="2.6" ry="1.6" fill="#c6e666"/>
<ellipse cx="803.1" cy="576.8" rx="2.6" ry="1.6" fill="#90af32"/>
<rect x="800.5" y="575.2" width="5.2" height="1.6" fill="#90af32"/>
<ellipse cx="803.1" cy="575.2" rx="2.6" ry="1.6" fill="#c6e666"/>
<ellipse cx="786.8" cy="550.4" rx="2.6" ry="1.6" fill="#90af32"/>
<rect x="784.1" y="548.9" width="5.2" height="1.6" fill="#90af32"/>
<ellipse cx="786.8" cy="548.9" rx="2.6" ry="1.6" fill="#c6e666"/>
<ellipse cx="791.2" cy="555.2" rx="2.6" ry="1.6" fill="#90af32"/>
<rect x="788.6" y="553.7" width="5.2" height="1.6" fill="#90af32"/>
<ellipse cx="791.2" cy="553.7" rx="2.6" ry="1.6" fill="#c6e666"/>
<ellipse cx="795.8" cy="560.1" rx="2.6" ry="1.6" fill="#90af32"/>
<rect x="793.1" y="558.5" width="5.2" height="1.6" fill="#90af32"/>
<ellipse cx="795.8" cy="558.5" rx="2.6" ry="1.6" fill="#c6e666"/>
<ellipse cx="800.2" cy="564.9" rx="2.6" ry="1.6" fill="#90af32"/>
<rect x="797.6" y="563.4" width="5.2" height="1.6" fill="#90af32"/>
<ellipse cx="800.2" cy="563.4" rx="2.6" ry="1.6" fill="#c6e666"/>
<ellipse cx="804.8" cy="569.8" rx="2.6" ry="1.6" fill="#90af32"/>
<rect x="802.1" y="568.2" width="5.2" height="1.6" fill="#90af32"/>
<ellipse cx="804.8" cy="568.2" rx="2.6" ry="1.6" fill="#c6e666"/>
<ellipse cx="809.2" cy="574.6" rx="2.6" ry="1.6" fill="#90af32"/>
<rect x="806.6" y="573" width="5.2" height="1.6" fill="#90af32"/>
<ellipse cx="809.2" cy="573" rx="2.6" ry="1.6" fill="#c6e666"/>
<ellipse cx="792.9" cy="548.2" rx="2.6" ry="1.6" fill="#90af32"/>
<rect x="790.3" y="546.6" width="5.2" height="1.6" fill="#90af32"/>
<ellipse cx="792.9" cy="546.6" rx="2.6" ry="1.6" fill="#c6e666"/>
<ellipse cx="797.4" cy="553" rx="2.6" ry="1.6" fill="#90af32"/>
<rect x="794.8" y="551.5" width="5.2" height="1.6" fill="#90af32"/>
<ellipse cx="797.4" cy="551.5" rx="2.6" ry="1.6" fill="#c6e666"/>
<ellipse cx="801.9" cy="557.9" rx="2.6" ry="1.6" fill="#90af32"/>
<rect x="799.3" y="556.3" width="5.2" height="1.6" fill="#90af32"/>
<ellipse cx="801.9" cy="556.3" rx="2.6" ry="1.6" fill="#c6e666"/>
<ellipse cx="806.4" cy="562.7" rx="2.6" ry="1.6" fill="#90af32"/>
<rect x="803.8" y="561.1" width="5.2" height="1.6" fill="#90af32"/>
<ellipse cx="806.4" cy="561.1" rx="2.6" ry="1.6" fill="#c6e666"/>
<ellipse cx="810.9" cy="567.5" rx="2.6" ry="1.6" fill="#90af32"/>
<rect x="808.3" y="566" width="5.2" height="1.6" fill="#90af32"/>
<ellipse cx="810.9" cy="566" rx="2.6" ry="1.6" fill="#c6e666"/>
<ellipse cx="815.4" cy="572.4" rx="2.6" ry="1.6" fill="#90af32"/>
<rect x="812.8" y="570.8" width="5.2" height="1.6" fill="#90af32"/>
<ellipse cx="815.4" cy="570.8" rx="2.6" ry="1.6" fill="#c6e666"/>
<ellipse cx="799" cy="546" rx="2.6" ry="1.6" fill="#90af32"/>
<rect x="796.4" y="544.4" width="5.2" height="1.6" fill="#90af32"/>
<ellipse cx="799" cy="544.4" rx="2.6" ry="1.6" fill="#c6e666"/>
<ellipse cx="803.5" cy="550.8" rx="2.6" ry="1.6" fill="#90af32"/>
<rect x="800.9" y="549.2" width="5.2" height="1.6" fill="#90af32"/>
<ellipse cx="803.5" cy="549.2" rx="2.6" ry="1.6" fill="#c6e666"/>
<ellipse cx="808" cy="555.6" rx="2.6" ry="1.6" fill="#90af32"/>
<rect x="805.4" y="554.1" width="5.2" height="1.6" fill="#90af32"/>
<ellipse cx="808" cy="554.1" rx="2.6" ry="1.6" fill="#c6e666"/>
<ellipse cx="812.5" cy="560.5" rx="2.6" ry="1.6" fill="#90af32"/>
<rect x="809.9" y="558.9" width="5.2" height="1.6" fill="#90af32"/>
<ellipse cx="812.5" cy="558.9" rx="2.6" ry="1.6" fill="#c6e666"/>
<ellipse cx="817" cy="565.3" rx="2.6" ry="1.6" fill="#90af32"/>
<rect x="814.4" y="563.7" width="5.2" height="1.6" fill="#90af32"/>
<ellipse cx="817" cy="563.7" rx="2.6" ry="1.6" fill="#c6e666"/>
<ellipse cx="821.5" cy="570.1" rx="2.6" ry="1.6" fill="#90af32"/>
<rect x="818.9" y="568.6" width="5.2" height="1.6" fill="#90af32"/>
<ellipse cx="821.5" cy="568.6" rx="2.6" ry="1.6" fill="#c6e666"/>
<ellipse cx="805.1" cy="543.8" rx="2.6" ry="1.6" fill="#90af32"/>
<rect x="802.5" y="542.2" width="5.2" height="1.6" fill="#90af32"/>
<ellipse cx="805.1" cy="542.2" rx="2.6" ry="1.6" fill="#c6e666"/>
<ellipse cx="809.6" cy="548.6" rx="2.6" ry="1.6" fill="#90af32"/>
<rect x="807" y="547" width="5.2" height="1.6" fill="#90af32"/>
<ellipse cx="809.6" cy="547" rx="2.6" ry="1.6" fill="#c6e666"/>
<ellipse cx="814.1" cy="553.4" rx="2.6" ry="1.6" fill="#90af32"/>
<rect x="811.5" y="551.9" width="5.2" height="1.6" fill="#90af32"/>
<ellipse cx="814.1" cy="551.9" rx="2.6" ry="1.6" fill="#c6e666"/>
<ellipse cx="818.6" cy="558.2" rx="2.6" ry="1.6" fill="#90af32"/>
<rect x="816" y="556.7" width="5.2" height="1.6" fill="#90af32"/>
<ellipse cx="818.6" cy="556.7" rx="2.6" ry="1.6" fill="#c6e666"/>
<ellipse cx="823.1" cy="563.1" rx="2.6" ry="1.6" fill="#90af32"/>
<rect x="820.5" y="561.5" width="5.2" height="1.6" fill="#90af32"/>
<ellipse cx="823.1" cy="561.5" rx="2.6" ry="1.6" fill="#c6e666"/>
<ellipse cx="827.6" cy="567.9" rx="2.6" ry="1.6" fill="#90af32"/>
<rect x="825" y="566.4" width="5.2" height="1.6" fill="#90af32"/>
<ellipse cx="827.6" cy="566.4" rx="2.6" ry="1.6" fill="#c6e666"/>
<ellipse cx="811.2" cy="541.5" rx="2.6" ry="1.6" fill="#90af32"/>
<rect x="808.6" y="540" width="5.2" height="1.6" fill="#90af32"/>
<ellipse cx="811.2" cy="540" rx="2.6" ry="1.6" fill="#c6e666"/>
<ellipse cx="815.7" cy="546.4" rx="2.6" ry="1.6" fill="#90af32"/>
<rect x="813.1" y="544.8" width="5.2" height="1.6" fill="#90af32"/>
<ellipse cx="815.7" cy="544.8" rx="2.6" ry="1.6" fill="#c6e666"/>
<ellipse cx="820.2" cy="551.2" rx="2.6" ry="1.6" fill="#90af32"/>
<rect x="817.6" y="549.6" width="5.2" height="1.6" fill="#90af32"/>
<ellipse cx="820.2" cy="549.6" rx="2.6" ry="1.6" fill="#c6e666"/>
<ellipse cx="824.7" cy="556" rx="2.6" ry="1.6" fill="#90af32"/>
<rect x="822.1" y="554.5" width="5.2" height="1.6" fill="#90af32"/>
<ellipse cx="824.7" cy="554.5" rx="2.6" ry="1.6" fill="#c6e666"/>
<ellipse cx="829.2" cy="560.9" rx="2.6" ry="1.6" fill="#90af32"/>
<rect x="826.6" y="559.3" width="5.2" height="1.6" fill="#90af32"/>
<ellipse cx="829.2" cy="559.3" rx="2.6" ry="1.6" fill="#c6e666"/>
<ellipse cx="833.7" cy="565.7" rx="2.6" ry="1.6" fill="#90af32"/>
<rect x="831.1" y="564.1" width="5.2" height="1.6" fill="#90af32"/>
<ellipse cx="833.7" cy="564.1" rx="2.6" ry="1.6" fill="#c6e666"/>
<polygon points="812,555.2 814.4,560 814.4,566 812,561.2" fill="#6ba9e4"/>
<polygon points="814,560 822,557.6 822,563.6 814,566" fill="#5c9ad4"/>
<polygon points="812,555.2 814,560 822,557.6 820,552.8" fill="#75afe5"/>
<ellipse cx="815" cy="557" rx="1.8" ry="1.1" fill="#5e9dd9"/>
<rect x="813.2" y="555.5" width="3.7" height="1.5" fill="#5e9dd9"/>
<ellipse cx="815" cy="555.5" rx="1.8" ry="1.1" fill="#89bbe9"/>
<ellipse cx="819" cy="555.8" rx="1.8" ry="1.1" fill="#5e9dd9"/>
<rect x="817.2" y="554.3" width="3.7" height="1.5" fill="#5e9dd9"/>
<ellipse cx="819" cy="554.3" rx="1.8" ry="1.1" fill="#89bbe9"/>
<polygon points="818,553.2 820.4,558 820.4,564 818,559.2" fill="#f1823e"/>
<polygon points="820,558 831,554.7 831,560.7 820,564" fill="#e2732f"/>
<polygon points="818,553.2 820,558 831,554.7 829,549.9" fill="#f28a4b"/>
<ellipse cx="821.8" cy="554.8" rx="2.3" ry="1.4" fill="#e67530"/>
<rect x="819.5" y="552.9" width="4.6" height="1.8" fill="#e67530"/>
<ellipse cx="821.8" cy="552.9" rx="2.3" ry="1.4" fill="#f49b65"/>
<ellipse cx="827.2" cy="553.1" rx="2.3" ry="1.4" fill="#e67530"/>
<rect x="825" y="551.3" width="4.6" height="1.8" fill="#e67530"/>
<ellipse cx="827.2" cy="551.3" rx="2.3" ry="1.4" fill="#f49b65"/>
<polygon points="803.8,571.3 820,586.3 820,591 803.8,576" fill="#33983c"/>
<polygon points="820,586.3 856.1,571.3 856.1,576 820,591" fill="#2d8735"/>
<polygon points="803.8,572 838,560 856.1,572 820,587" fill="#37a541"/>
<ellipse cx="808.7" cy="572.9" rx="2.2" ry="1.4" fill="#2b8133"/>
<rect x="806.5" y="571.6" width="4.4" height="1.3" fill="#2b8133"/>
<ellipse cx="808.7" cy="571.6" rx="2.2" ry="1.4" fill="#5fb767"/>
<ellipse cx="812.7" cy="576.6" rx="2.2" ry="1.4" fill="#2b8133"/>
<rect x="810.5" y="575.3" width="4.4" height="1.3" fill="#2b8133"/>
<ellipse cx="812.7" cy="575.3" rx="2.2" ry="1.4" fill="#5fb767"/>
<ellipse cx="816.8" cy="580.4" rx="2.2" ry="1.4" fill="#2b8133"/>
<rect x="814.6" y="579.1" width="4.4" height="1.3" fill="#2b8133"/>
<ellipse cx="816.8" cy="579.1" rx="2.2" ry="1.4" fill="#5fb767"/>
<ellipse cx="820.8" cy="584.1" rx="2.2" ry="1.4" fill="#2b8133"/>
<rect x="818.6" y="582.8" width="4.4" height="1.3" fill="#2b8133"/>
<ellipse cx="820.8" cy="582.8" rx="2.2" ry="1.4" fill="#5fb767"/>
<ellipse cx="814.4" cy="570.9" rx="2.2" ry="1.4" fill="#2b8133"/>
<rect x="812.2" y="569.6" width="4.4" height="1.3" fill="#2b8133"/>
<ellipse cx="814.4" cy="569.6" rx="2.2" ry="1.4" fill="#5fb767"/>
<ellipse cx="818.4" cy="574.6" rx="2.2" ry="1.4" fill="#2b8133"/>
<rect x="816.2" y="573.3" width="4.4" height="1.3" fill="#2b8133"/>
<ellipse cx="818.4" cy="573.3" rx="2.2" ry="1.4" fill="#5fb767"/>
<ellipse cx="822.5" cy="578.4" rx="2.2" ry="1.4" fill="#2b8133"/>
<rect x="820.3" y="577.1" width="4.4" height="1.3" fill="#2b8133"/>
<ellipse cx="822.5" cy="577.1" rx="2.2" ry="1.4" fill="#5fb767"/>
<ellipse cx="826.5" cy="582.1" rx="2.2" ry="1.4" fill="#2b8133"/>
<rect x="824.3" y="580.8" width="4.4" height="1.3" fill="#2b8133"/>
<ellipse cx="826.5" cy="580.8" rx="2.2" ry="1.4" fill="#5fb767"/>
<ellipse cx="820.1" cy="568.9" rx="2.2" ry="1.4" fill="#2b8133"/>
<rect x="817.9" y="567.6" width="4.4" height="1.3" fill="#2b8133"/>
<ellipse cx="820.1" cy="567.6" rx="2.2" ry="1.4" fill="#5fb767"/>
<ellipse cx="824.1" cy="572.6" rx="2.2" ry="1.4" fill="#2b8133"/>
<rect x="821.9" y="571.3" width="4.4" height="1.3" fill="#2b8133"/>
<ellipse cx="824.1" cy="571.3" rx="2.2" ry="1.4" fill="#5fb767"/>
<ellipse cx="828.2" cy="576.4" rx="2.2" ry="1.4" fill="#2b8133"/>
<rect x="826" y="575.1" width="4.4" height="1.3" fill="#2b8133"/>
<ellipse cx="828.2" cy="575.1" rx="2.2" ry="1.4" fill="#5fb767"/>
<ellipse cx="832.2" cy="580.1" rx="2.2" ry="1.4" fill="#2b8133"/>
<rect x="830" y="578.8" width="4.4" height="1.3" fill="#2b8133"/>
<ellipse cx="832.2" cy="578.8" rx="2.2" ry="1.4" fill="#5fb767"/>
<ellipse cx="825.8" cy="566.9" rx="2.2" ry="1.4" fill="#2b8133"/>
<rect x="823.6" y="565.6" width="4.4" height="1.3" fill="#2b8133"/>
<ellipse cx="825.8" cy="565.6" rx="2.2" ry="1.4" fill="#5fb767"/>
<ellipse cx="829.8" cy="570.6" rx="2.2" ry="1.4" fill="#2b8133"/>
<rect x="827.6" y="569.3" width="4.4" height="1.3" fill="#2b8133"/>
<ellipse cx="829.8" cy="569.3" rx="2.2" ry="1.4" fill="#5fb767"/>
<ellipse cx="833.9" cy="574.4" rx="2.2" ry="1.4" fill="#2b8133"/>
<rect x="831.7" y="573.1" width="4.4" height="1.3" fill="#2b8133"/>
<ellipse cx="833.9" cy="573.1" rx="2.2" ry="1.4" fill="#5fb767"/>
<ellipse cx="837.9" cy="578.1" rx="2.2" ry="1.4" fill="#2b8133"/>
<rect x="835.7" y="576.8" width="4.4" height="1.3" fill="#2b8133"/>
<ellipse cx="837.9" cy="576.8" rx="2.2" ry="1.4" fill="#5fb767"/>
<ellipse cx="831.5" cy="564.9" rx="2.2" ry="1.4" fill="#2b8133"/>
<rect x="829.3" y="563.6" width="4.4" height="1.3" fill="#2b8133"/>
<ellipse cx="831.5" cy="563.6" rx="2.2" ry="1.4" fill="#5fb767"/>
<ellipse cx="835.5" cy="568.6" rx="2.2" ry="1.4" fill="#2b8133"/>
<rect x="833.3" y="567.3" width="4.4" height="1.3" fill="#2b8133"/>
<ellipse cx="835.5" cy="567.3" rx="2.2" ry="1.4" fill="#5fb767"/>
<ellipse cx="839.6" cy="572.4" rx="2.2" ry="1.4" fill="#2b8133"/>
<rect x="837.4" y="571.1" width="4.4" height="1.3" fill="#2b8133"/>
<ellipse cx="839.6" cy="571.1" rx="2.2" ry="1.4" fill="#5fb767"/>
<ellipse cx="843.6" cy="576.1" rx="2.2" ry="1.4" fill="#2b8133"/>
<rect x="841.4" y="574.8" width="4.4" height="1.3" fill="#2b8133"/>
<ellipse cx="843.6" cy="574.8" rx="2.2" ry="1.4" fill="#5fb767"/>
<ellipse cx="837.2" cy="562.9" rx="2.2" ry="1.4" fill="#2b8133"/>
<rect x="835" y="561.6" width="4.4" height="1.3" fill="#2b8133"/>
<ellipse cx="837.2" cy="561.6" rx="2.2" ry="1.4" fill="#5fb767"/>
<ellipse cx="841.2" cy="566.6" rx="2.2" ry="1.4" fill="#2b8133"/>
<rect x="839" y="565.3" width="4.4" height="1.3" fill="#2b8133"/>
<ellipse cx="841.2" cy="565.3" rx="2.2" ry="1.4" fill="#5fb767"/>
<ellipse cx="845.3" cy="570.4" rx="2.2" ry="1.4" fill="#2b8133"/>
<rect x="843.1" y="569.1" width="4.4" height="1.3" fill="#2b8133"/>
<ellipse cx="845.3" cy="569.1" rx="2.2" ry="1.4" fill="#5fb767"/>
<ellipse cx="849.3" cy="574.1" rx="2.2" ry="1.4" fill="#2b8133"/>
<rect x="847.1" y="572.8" width="4.4" height="1.3" fill="#2b8133"/>
<ellipse cx="849.3" cy="572.8" rx="2.2" ry="1.4" fill="#5fb767"/>
<polygon points="765.6,583.6 770.4,588 770.4,596.5 765.6,592.1" fill="#f1823e"/>
<polygon points="770,588 781.8,585 781.8,593.5 770,596.5" fill="#e2732f"/>
<polygon points="765.6,591.6 770.4,596 770.4,600.5 765.6,596.1" fill="#379944"/>
<polygon points="770,596 781.8,593 781.8,597.5 770,600.5" fill="#278935"/>
<polygon points="765.6,595.6 770.4,600 770.4,604.5 765.6,600.1" fill="#b7de48"/>
<polygon points="770,600 781.8,597 781.8,601.5 770,604.5" fill="#a7cf38"/>
<polygon points="765.6,599.6 770.4,604 770.4,612.5 765.6,608.1" fill="#6ba9e4"/>
<polygon points="770,604 781.8,601 781.8,609.5 770,612.5" fill="#5c9ad4"/>
<polygon points="765.6,607.6 770.4,612 770.4,620.5 765.6,616.1" fill="#f1823e"/>
<polygon points="770,612 781.8,609 781.8,617.5 770,620.5" fill="#e2732f"/>
<polygon points="765.6,615.6 770.4,620 770.4,624.5 765.6,620.1" fill="#379944"/>
<polygon points="770,620 781.8,617 781.8,621.5 770,624.5" fill="#278935"/>
<polygon points="765.6,619.6 770.4,624 770.4,628.5 765.6,624.1" fill="#b7de48"/>
<polygon points="770,624 781.8,621 781.8,625.5 770,628.5" fill="#a7cf38"/>
<polygon points="765.6,623.6 770.4,628 770.4,636.5 765.6,632.1" fill="#6ba9e4"/>
<polygon points="770,628 781.8,625 781.8,633.5 770,636.5" fill="#5c9ad4"/>
<polygon points="765.6,631.6 770.4,636 770.4,642.5 765.6,638.1" fill="#48b353"/>
<polygon points="770,636 781.8,633 781.8,639.5 770,642.5" fill="#38a444"/>
<polygon points="765.6,637.6 770.4,642 770.4,650.5 765.6,646.1" fill="#f1823e"/>
<polygon points="770,642 781.8,639 781.8,647.5 770,650.5" fill="#e2732f"/>
<polygon points="765.6,645.6 770.4,650 770.4,654.5 765.6,650.1" fill="#379944"/>
<polygon points="770,650 781.8,647 781.8,651.5 770,654.5" fill="#278935"/>
<polygon points="765.6,649.6 770.4,654 770.4,658.5 765.6,654.1" fill="#b7de48"/>
<polygon points="770,654 781.8,651 781.8,655.5 770,658.5" fill="#a7cf38"/>
<polygon points="765.6,653.6 770.4,658 770.4,670 765.6,665.6" fill="#6ba9e4"/>
<polygon points="770,658 781.8,655 781.8,667 770,670" fill="#5c9ad4"/>
<polygon points="839.1,595.4 841.4,600 841.4,607.5 839.1,602.9" fill="#6ba9e4"/>
<polygon points="841,600 890,585.3 890,592.8 841,607.5" fill="#5c9ad4"/>
<polygon points="839.1,602.4 841.4,607 841.4,615.5 839.1,610.9" fill="#f1823e"/>
<polygon points="841,607 890,592.3 890,600.8 841,615.5" fill="#e2732f"/>
<polygon points="839.1,610.4 841.4,615 841.4,621.5 839.1,616.9" fill="#48b353"/>
<polygon points="841,615 890,600.3 890,606.8 841,621.5" fill="#38a444"/>
<polygon points="839.1,616.4 841.4,621 841.4,627 839.1,622.4" fill="#6ba9e4"/>
<polygon points="841,621 890,606.3 890,612.3 841,627" fill="#5c9ad4"/>
<polygon points="912.7,600.5 915.4,606 915.4,614.5 912.7,609" fill="#f1823e"/>
<polygon points="915,606 926.9,603 926.9,611.5 915,614.5" fill="#e2732f"/>
<polygon points="912.7,608.5 915.4,614 915.4,622.5 912.7,617" fill="#6ba9e4"/>
<polygon points="915,614 926.9,611 926.9,619.5 915,622.5" fill="#5c9ad4"/>
<polygon points="912.7,616.5 915.4,622 915.4,626.5 912.7,621" fill="#b7de48"/>
<polygon points="915,622 926.9,619 926.9,623.5 915,626.5" fill="#a7cf38"/>
<polygon points="912.7,620.5 915.4,626 915.4,634.5 912.7,629" fill="#48b353"/>
<polygon points="915,626 926.9,623 926.9,631.5 915,634.5" fill="#38a444"/>
<polygon points="912.7,628.5 915.4,634 915.4,640.5 912.7,635" fill="#379944"/>
<polygon points="915,634 926.9,631 926.9,637.5 915,640.5" fill="#278935"/>
<polygon points="912.7,634.5 915.4,640 915.4,648.5 912.7,643" fill="#f1823e"/>
<polygon points="915,640 926.9,637 926.9,645.5 915,648.5" fill="#e2732f"/>
<polygon points="912.7,642.5 915.4,648 915.4,656.5 912.7,651" fill="#6ba9e4"/>
<polygon points="915,648 926.9,645 926.9,653.5 915,656.5" fill="#5c9ad4"/>
<polygon points="912.7,650.5 915.4,656 915.4,662.5 912.7,657" fill="#48b353"/>
<polygon points="915,656 926.9,653 926.9,659.5 915,662.5" fill="#38a444"/>
<polygon points="912.7,656.5 915.4,662 915.4,668 912.7,662.5" fill="#f1823e"/>
<polygon points="915,662 926.9,659 926.9,665 915,668" fill="#e2732f"/>
<polygon points="866,580.2 868.4,585 868.4,591 866,586.2" fill="#6ba9e4"/>
<polygon points="868,585 878,582 878,588 868,591" fill="#5c9ad4"/>
<polygon points="866,580.2 868,585 878,582 876,577.2" fill="#75afe5"/>
<ellipse cx="869.5" cy="581.9" rx="2.3" ry="1.4" fill="#5e9dd9"/>
<rect x="867.2" y="580" width="4.6" height="1.8" fill="#5e9dd9"/>
<ellipse cx="869.5" cy="580" rx="2.3" ry="1.4" fill="#89bbe9"/>
<ellipse cx="874.5" cy="580.4" rx="2.3" ry="1.4" fill="#5e9dd9"/>
<rect x="872.2" y="578.5" width="4.6" height="1.8" fill="#5e9dd9"/>
<ellipse cx="874.5" cy="578.5" rx="2.3" ry="1.4" fill="#89bbe9"/>
<polygon points="839.1,599.3 845,610.3 845,616 839.1,605" fill="#33983c"/>
<polygon points="845,610.3 890,591.3 890,597 845,616" fill="#2d8735"/>
<polygon points="839.1,600 880,586 890,592 845,611" fill="#37a541"/>
<ellipse cx="842.6" cy="601" rx="1.7" ry="1" fill="#2b8133"/>
<rect x="841" y="600" width="3.3" height="1" fill="#2b8133"/>
<ellipse cx="842.6" cy="600" rx="1.7" ry="1" fill="#5fb767"/>
<ellipse cx="844.6" cy="604.6" rx="1.7" ry="1" fill="#2b8133"/>
<rect x="842.9" y="603.6" width="3.3" height="1" fill="#2b8133"/>
<ellipse cx="844.6" cy="603.6" rx="1.7" ry="1" fill="#5fb767"/>
<ellipse cx="846.6" cy="608.3" rx="1.7" ry="1" fill="#2b8133"/>
<rect x="844.9" y="607.3" width="3.3" height="1" fill="#2b8133"/>
<ellipse cx="846.6" cy="607.3" rx="1.7" ry="1" fill="#5fb767"/>
<ellipse cx="847.8" cy="599.2" rx="1.7" ry="1" fill="#2b8133"/>
<rect x="846.1" y="598.2" width="3.3" height="1" fill="#2b8133"/>
<ellipse cx="847.8" cy="598.2" rx="1.7" ry="1" fill="#5fb767"/>
<ellipse cx="849.7" cy="602.9" rx="1.7" ry="1" fill="#2b8133"/>
<rect x="848.1" y="601.9" width="3.3" height="1" fill="#2b8133"/>
<ellipse cx="849.7" cy="601.9" rx="1.7" ry="1" fill="#5fb767"/>
<ellipse cx="851.7" cy="606.5" rx="1.7" ry="1" fill="#2b8133"/>
<rect x="850" y="605.5" width="3.3" height="1" fill="#2b8133"/>
<ellipse cx="851.7" cy="605.5" rx="1.7" ry="1" fill="#5fb767"/>
<ellipse cx="852.9" cy="597.5" rx="1.7" ry="1" fill="#2b8133"/>
<rect x="851.2" y="596.5" width="3.3" height="1" fill="#2b8133"/>
<ellipse cx="852.9" cy="596.5" rx="1.7" ry="1" fill="#5fb767"/>
<ellipse cx="854.8" cy="601.1" rx="1.7" ry="1" fill="#2b8133"/>
<rect x="853.2" y="600.1" width="3.3" height="1" fill="#2b8133"/>
<ellipse cx="854.8" cy="600.1" rx="1.7" ry="1" fill="#5fb767"/>
<ellipse cx="856.8" cy="604.8" rx="1.7" ry="1" fill="#2b8133"/>
<rect x="855.1" y="603.8" width="3.3" height="1" fill="#2b8133"/>
<ellipse cx="856.8" cy="603.8" rx="1.7" ry="1" fill="#5fb767"/>
<ellipse cx="858" cy="595.7" rx="1.7" ry="1" fill="#2b8133"/>
<rect x="856.3" y="594.7" width="3.3" height="1" fill="#2b8133"/>
<ellipse cx="858" cy="594.7" rx="1.7" ry="1" fill="#5fb767"/>
<ellipse cx="859.9" cy="599.4" rx="1.7" ry="1" fill="#2b8133"/>
<rect x="858.3" y="598.4" width="3.3" height="1" fill="#2b8133"/>
<ellipse cx="859.9" cy="598.4" rx="1.7" ry="1" fill="#5fb767"/>
<ellipse cx="861.9" cy="603" rx="1.7" ry="1" fill="#2b8133"/>
<rect x="860.2" y="602" width="3.3" height="1" fill="#2b8133"/>
<ellipse cx="861.9" cy="602" rx="1.7" ry="1" fill="#5fb767"/>
<ellipse cx="863.1" cy="594" rx="1.7" ry="1" fill="#2b8133"/>
<rect x="861.4" y="593" width="3.3" height="1" fill="#2b8133"/>
<ellipse cx="863.1" cy="593" rx="1.7" ry="1" fill="#5fb767"/>
<ellipse cx="865.1" cy="597.6" rx="1.7" ry="1" fill="#2b8133"/>
<rect x="863.4" y="596.6" width="3.3" height="1" fill="#2b8133"/>
<ellipse cx="865.1" cy="596.6" rx="1.7" ry="1" fill="#5fb767"/>
<ellipse cx="867" cy="601.3" rx="1.7" ry="1" fill="#2b8133"/>
<rect x="865.4" y="600.3" width="3.3" height="1" fill="#2b8133"/>
<ellipse cx="867" cy="600.3" rx="1.7" ry="1" fill="#5fb767"/>
<ellipse cx="868.2" cy="592.2" rx="1.7" ry="1" fill="#2b8133"/>
<rect x="866.5" y="591.2" width="3.3" height="1" fill="#2b8133"/>
<ellipse cx="868.2" cy="591.2" rx="1.7" ry="1" fill="#5fb767"/>
<ellipse cx="870.2" cy="595.9" rx="1.7" ry="1" fill="#2b8133"/>
<rect x="868.5" y="594.9" width="3.3" height="1" fill="#2b8133"/>
<ellipse cx="870.2" cy="594.9" rx="1.7" ry="1" fill="#5fb767"/>
<ellipse cx="872.1" cy="599.5" rx="1.7" ry="1" fill="#2b8133"/>
<rect x="870.5" y="598.5" width="3.3" height="1" fill="#2b8133"/>
<ellipse cx="872.1" cy="598.5" rx="1.7" ry="1" fill="#5fb767"/>
<ellipse cx="873.3" cy="590.5" rx="1.7" ry="1" fill="#2b8133"/>
<rect x="871.7" y="589.5" width="3.3" height="1" fill="#2b8133"/>
<ellipse cx="873.3" cy="589.5" rx="1.7" ry="1" fill="#5fb767"/>
<ellipse cx="875.3" cy="594.1" rx="1.7" ry="1" fill="#2b8133"/>
<rect x="873.6" y="593.1" width="3.3" height="1" fill="#2b8133"/>
<ellipse cx="875.3" cy="593.1" rx="1.7" ry="1" fill="#5fb767"/>
<ellipse cx="877.2" cy="597.8" rx="1.7" ry="1" fill="#2b8133"/>
<rect x="875.6" y="596.8" width="3.3" height="1" fill="#2b8133"/>
<ellipse cx="877.2" cy="596.8" rx="1.7" ry="1" fill="#5fb767"/>
<ellipse cx="878.4" cy="588.7" rx="1.7" ry="1" fill="#2b8133"/>
<rect x="876.8" y="587.7" width="3.3" height="1" fill="#2b8133"/>
<ellipse cx="878.4" cy="587.7" rx="1.7" ry="1" fill="#5fb767"/>
<ellipse cx="880.4" cy="592.4" rx="1.7" ry="1" fill="#2b8133"/>
<rect x="878.7" y="591.4" width="3.3" height="1" fill="#2b8133"/>
<ellipse cx="880.4" cy="591.4" rx="1.7" ry="1" fill="#5fb767"/>
<ellipse cx="882.4" cy="596" rx="1.7" ry="1" fill="#2b8133"/>
<rect x="880.7" y="595" width="3.3" height="1" fill="#2b8133"/>
<ellipse cx="882.4" cy="595" rx="1.7" ry="1" fill="#5fb767"/>
<polygon points="867,583.2 869.4,588 869.4,594 867,589.2" fill="#f1823e"/>
<polygon points="869,588 882,583.5 882,589.5 869,594" fill="#e2732f"/>
<polygon points="867,583.2 869,588 882,583.5 880,578.7" fill="#f28a4b"/>
<ellipse cx="871.2" cy="584.5" rx="2.3" ry="1.4" fill="#e67530"/>
<rect x="869" y="582.6" width="4.6" height="1.8" fill="#e67530"/>
<ellipse cx="871.2" cy="582.6" rx="2.3" ry="1.4" fill="#f49b65"/>
<ellipse cx="877.8" cy="582.2" rx="2.3" ry="1.4" fill="#e67530"/>
<rect x="875.5" y="580.4" width="4.6" height="1.8" fill="#e67530"/>
<ellipse cx="877.8" cy="580.4" rx="2.3" ry="1.4" fill="#f49b65"/>
<polygon points="883,587.3 905,608.3 905,613 883,592" fill="#33983c"/>
<polygon points="905,608.3 927.6,597.3 927.6,602 905,613" fill="#2d8735"/>
<polygon points="883,588 905,580 927.6,598 905,609" fill="#37a541"/>
<ellipse cx="887.6" cy="590" rx="1.6" ry="1" fill="#2b8133"/>
<rect x="886" y="589" width="3.1" height="0.9" fill="#2b8133"/>
<ellipse cx="887.6" cy="589" rx="1.6" ry="1" fill="#5fb767"/>
<ellipse cx="893.1" cy="595.2" rx="1.6" ry="1" fill="#2b8133"/>
<rect x="891.5" y="594.3" width="3.1" height="0.9" fill="#2b8133"/>
<ellipse cx="893.1" cy="594.3" rx="1.6" ry="1" fill="#5fb767"/>
<ellipse cx="898.6" cy="600.5" rx="1.6" ry="1" fill="#2b8133"/>
<rect x="897" y="599.5" width="3.1" height="0.9" fill="#2b8133"/>
<ellipse cx="898.6" cy="599.5" rx="1.6" ry="1" fill="#5fb767"/>
<ellipse cx="904.1" cy="605.7" rx="1.6" ry="1" fill="#2b8133"/>
<rect x="902.5" y="604.8" width="3.1" height="0.9" fill="#2b8133"/>
<ellipse cx="904.1" cy="604.8" rx="1.6" ry="1" fill="#5fb767"/>
<ellipse cx="891.2" cy="588.6" rx="1.6" ry="1" fill="#2b8133"/>
<rect x="889.7" y="587.7" width="3.1" height="0.9" fill="#2b8133"/>
<ellipse cx="891.2" cy="587.7" rx="1.6" ry="1" fill="#5fb767"/>
<ellipse cx="896.8" cy="593.9" rx="1.6" ry="1" fill="#2b8133"/>
<rect x="895.2" y="592.9" width="3.1" height="0.9" fill="#2b8133"/>
<ellipse cx="896.8" cy="592.9" rx="1.6" ry="1" fill="#5fb767"/>
<ellipse cx="902.2" cy="599.1" rx="1.6" ry="1" fill="#2b8133"/>
<rect x="900.7" y="598.2" width="3.1" height="0.9" fill="#2b8133"/>
<ellipse cx="902.2" cy="598.2" rx="1.6" ry="1" fill="#5fb767"/>
<ellipse cx="907.8" cy="604.4" rx="1.6" ry="1" fill="#2b8133"/>
<rect x="906.2" y="603.4" width="3.1" height="0.9" fill="#2b8133"/>
<ellipse cx="907.8" cy="603.4" rx="1.6" ry="1" fill="#5fb767"/>
<ellipse cx="894.9" cy="587.3" rx="1.6" ry="1" fill="#2b8133"/>
<rect x="893.4" y="586.4" width="3.1" height="0.9" fill="#2b8133"/>
<ellipse cx="894.9" cy="586.4" rx="1.6" ry="1" fill="#5fb767"/>
<ellipse cx="900.4" cy="592.5" rx="1.6" ry="1" fill="#2b8133"/>
<rect x="898.9" y="591.6" width="3.1" height="0.9" fill="#2b8133"/>
<ellipse cx="900.4" cy="591.6" rx="1.6" ry="1" fill="#5fb767"/>
<ellipse cx="905.9" cy="597.8" rx="1.6" ry="1" fill="#2b8133"/>
<rect x="904.4" y="596.9" width="3.1" height="0.9" fill="#2b8133"/>
<ellipse cx="905.9" cy="596.9" rx="1.6" ry="1" fill="#5fb767"/>
<ellipse cx="911.4" cy="603" rx="1.6" ry="1" fill="#2b8133"/>
<rect x="909.9" y="602.1" width="3.1" height="0.9" fill="#2b8133"/>
<ellipse cx="911.4" cy="602.1" rx="1.6" ry="1" fill="#5fb767"/>
<ellipse cx="898.6" cy="586" rx="1.6" ry="1" fill="#2b8133"/>
<rect x="897" y="585" width="3.1" height="0.9" fill="#2b8133"/>
<ellipse cx="898.6" cy="585" rx="1.6" ry="1" fill="#5fb767"/>
<ellipse cx="904.1" cy="591.2" rx="1.6" ry="1" fill="#2b8133"/>
<rect x="902.5" y="590.3" width="3.1" height="0.9" fill="#2b8133"/>
<ellipse cx="904.1" cy="590.3" rx="1.6" ry="1" fill="#5fb767"/>
<ellipse cx="909.6" cy="596.5" rx="1.6" ry="1" fill="#2b8133"/>
<rect x="908" y="595.5" width="3.1" height="0.9" fill="#2b8133"/>
<ellipse cx="909.6" cy="595.5" rx="1.6" ry="1" fill="#5fb767"/>
<ellipse cx="915.1" cy="601.7" rx="1.6" ry="1" fill="#2b8133"/>
<rect x="913.5" y="600.8" width="3.1" height="0.9" fill="#2b8133"/>
<ellipse cx="915.1" cy="600.8" rx="1.6" ry="1" fill="#5fb767"/>
<ellipse cx="902.2" cy="584.6" rx="1.6" ry="1" fill="#2b8133"/>
<rect x="900.7" y="583.7" width="3.1" height="0.9" fill="#2b8133"/>
<ellipse cx="902.2" cy="583.7" rx="1.6" ry="1" fill="#5fb767"/>
<ellipse cx="907.8" cy="589.9" rx="1.6" ry="1" fill="#2b8133"/>
<rect x="906.2" y="588.9" width="3.1" height="0.9" fill="#2b8133"/>
<ellipse cx="907.8" cy="588.9" rx="1.6" ry="1" fill="#5fb767"/>
<ellipse cx="913.2" cy="595.1" rx="1.6" ry="1" fill="#2b8133"/>
<rect x="911.7" y="594.2" width="3.1" height="0.9" fill="#2b8133"/>
<ellipse cx="913.2" cy="594.2" rx="1.6" ry="1" fill="#5fb767"/>
<ellipse cx="918.8" cy="600.4" rx="1.6" ry="1" fill="#2b8133"/>
<rect x="917.2" y="599.4" width="3.1" height="0.9" fill="#2b8133"/>
<ellipse cx="918.8" cy="599.4" rx="1.6" ry="1" fill="#5fb767"/>
<ellipse cx="905.9" cy="583.3" rx="1.6" ry="1" fill="#2b8133"/>
<rect x="904.4" y="582.4" width="3.1" height="0.9" fill="#2b8133"/>
<ellipse cx="905.9" cy="582.4" rx="1.6" ry="1" fill="#5fb767"/>
<ellipse cx="911.4" cy="588.5" rx="1.6" ry="1" fill="#2b8133"/>
<rect x="909.9" y="587.6" width="3.1" height="0.9" fill="#2b8133"/>
<ellipse cx="911.4" cy="587.6" rx="1.6" ry="1" fill="#5fb767"/>
<ellipse cx="916.9" cy="593.8" rx="1.6" ry="1" fill="#2b8133"/>
<rect x="915.4" y="592.9" width="3.1" height="0.9" fill="#2b8133"/>
<ellipse cx="916.9" cy="592.9" rx="1.6" ry="1" fill="#5fb767"/>
<ellipse cx="922.4" cy="599" rx="1.6" ry="1" fill="#2b8133"/>
<rect x="920.9" y="598.1" width="3.1" height="0.9" fill="#2b8133"/>
<ellipse cx="922.4" cy="598.1" rx="1.6" ry="1" fill="#5fb767"/>
<use href="#core_p" transform="translate(683.1 95.2) scale(0.87)"/>
<use href="#st10"/>
<text x="699.5" y="965.5" font-family="Liberation Sans, sans-serif" font-weight="bold" font-size="16" fill="#fff" stroke="#3a6ad0" stroke-width="0.8" text-anchor="middle" textLength="15" lengthAdjust="spacingAndGlyphs">11</text>
<use href="#st10" transform="translate(-365.5 -41.6) scale(1.0424)"/>
<ellipse cx="351.3" cy="788.8" rx="3.6" ry="3.6" fill="#7a4a40"/>
<ellipse cx="351" cy="788.5" rx="2.6" ry="2.6" fill="#b8604c"/>
<ellipse cx="350.3" cy="787.6" rx="1.1" ry="1.1" fill="#e8c8b8"/>
<ellipse cx="392.4" cy="818.5" rx="3.6" ry="3.6" fill="#7a4a40"/>
<ellipse cx="392.1" cy="818.2" rx="2.6" ry="2.6" fill="#b8604c"/>
<ellipse cx="391.4" cy="817.3" rx="1.1" ry="1.1" fill="#e8c8b8"/>
<ellipse cx="358.1" cy="850.4" rx="3.6" ry="3.6" fill="#7a4a40"/>
<ellipse cx="357.8" cy="850.1" rx="2.6" ry="2.6" fill="#b8604c"/>
<ellipse cx="357.1" cy="849.2" rx="1.1" ry="1.1" fill="#e8c8b8"/>
<ellipse cx="392.4" cy="896" rx="3.6" ry="3.6" fill="#7a4a40"/>
<ellipse cx="392.1" cy="895.7" rx="2.6" ry="2.6" fill="#b8604c"/>
<ellipse cx="391.4" cy="894.8" rx="1.1" ry="1.1" fill="#e8c8b8"/>
<ellipse cx="353.6" cy="909.7" rx="3.6" ry="3.6" fill="#7a4a40"/>
<ellipse cx="353.3" cy="909.4" rx="2.6" ry="2.6" fill="#b8604c"/>
<ellipse cx="352.6" cy="908.5" rx="1.1" ry="1.1" fill="#e8c8b8"/>
<ellipse cx="371.8" cy="964.5" rx="3.6" ry="3.6" fill="#7a4a40"/>
<ellipse cx="371.5" cy="964.2" rx="2.6" ry="2.6" fill="#b8604c"/>
<ellipse cx="370.8" cy="963.3" rx="1.1" ry="1.1" fill="#e8c8b8"/>
<g transform="translate(299 192.5) rotate(0) scale(1.0000)" fill="#000"><rect x="0" y="-2.9" width="1.4" height="5.8"/><rect x="2.8" y="-2.9" width="1.5" height="5.8"/><rect x="6" y="-2.9" width="2.1" height="5.8"/><rect x="9.5" y="-2.9" width="2.5" height="5.8"/><rect x="13.2" y="-2.9" width="3.4" height="5.8"/><rect x="18" y="-2.9" width="3.6" height="5.8"/><rect x="22.9" y="-2.9" width="4.3" height="5.8"/><rect x="28" y="-2.9" width="10" height="5.8"/><polygon points="37.4,-6 40,-4.6 70.6,-0.3 70.6,0.3 40,4.6 37.4,6"/></g>
<g transform="translate(643 189.2) rotate(0) scale(1.0014)" fill="#000"><rect x="0" y="-2.9" width="1.4" height="5.8"/><rect x="2.8" y="-2.9" width="1.5" height="5.8"/><rect x="6" y="-2.9" width="2.1" height="5.8"/><rect x="9.5" y="-2.9" width="2.5" height="5.8"/><rect x="13.2" y="-2.9" width="3.4" height="5.8"/><rect x="18" y="-2.9" width="3.6" height="5.8"/><rect x="22.9" y="-2.9" width="4.3" height="5.8"/><rect x="28" y="-2.9" width="10" height="5.8"/><polygon points="37.4,-6 40,-4.6 70.6,-0.3 70.6,0.3 40,4.6 37.4,6"/></g>
<g transform="translate(940.2 232.8) rotate(90) scale(1.0099)" fill="#000"><rect x="0" y="-2.9" width="1.4" height="5.8"/><rect x="2.8" y="-2.9" width="1.5" height="5.8"/><rect x="6" y="-2.9" width="2.1" height="5.8"/><rect x="9.5" y="-2.9" width="2.5" height="5.8"/><rect x="13.2" y="-2.9" width="3.4" height="5.8"/><rect x="18" y="-2.9" width="3.6" height="5.8"/><rect x="22.9" y="-2.9" width="4.3" height="5.8"/><rect x="28" y="-2.9" width="10" height="5.8"/><polygon points="37.4,-6 40,-4.6 70.6,-0.3 70.6,0.3 40,4.6 37.4,6"/></g>
<g transform="translate(728 424.8) rotate(180) scale(1.0057)" fill="#000"><rect x="0" y="-2.9" width="1.4" height="5.8"/><rect x="2.8" y="-2.9" width="1.5" height="5.8"/><rect x="6" y="-2.9" width="2.1" height="5.8"/><rect x="9.5" y="-2.9" width="2.5" height="5.8"/><rect x="13.2" y="-2.9" width="3.4" height="5.8"/><rect x="18" y="-2.9" width="3.6" height="5.8"/><rect x="22.9" y="-2.9" width="4.3" height="5.8"/><rect x="28" y="-2.9" width="10" height="5.8"/><polygon points="37.4,-6 40,-4.6 70.6,-0.3 70.6,0.3 40,4.6 37.4,6"/></g>
<g transform="translate(384 421.9) rotate(180) scale(1.0057)" fill="#000"><rect x="0" y="-2.9" width="1.4" height="5.8"/><rect x="2.8" y="-2.9" width="1.5" height="5.8"/><rect x="6" y="-2.9" width="2.1" height="5.8"/><rect x="9.5" y="-2.9" width="2.5" height="5.8"/><rect x="13.2" y="-2.9" width="3.4" height="5.8"/><rect x="18" y="-2.9" width="3.6" height="5.8"/><rect x="22.9" y="-2.9" width="4.3" height="5.8"/><rect x="28" y="-2.9" width="10" height="5.8"/><polygon points="37.4,-6 40,-4.6 70.6,-0.3 70.6,0.3 40,4.6 37.4,6"/></g>
<g transform="translate(63.4 464.9) rotate(90) scale(1.0113)" fill="#000"><rect x="0" y="-2.9" width="1.4" height="5.8"/><rect x="2.8" y="-2.9" width="1.5" height="5.8"/><rect x="6" y="-2.9" width="2.1" height="5.8"/><rect x="9.5" y="-2.9" width="2.5" height="5.8"/><rect x="13.2" y="-2.9" width="3.4" height="5.8"/><rect x="18" y="-2.9" width="3.6" height="5.8"/><rect x="22.9" y="-2.9" width="4.3" height="5.8"/><rect x="28" y="-2.9" width="10" height="5.8"/><polygon points="37.4,-6 40,-4.6 70.6,-0.3 70.6,0.3 40,4.6 37.4,6"/></g>
<g transform="translate(335 681) rotate(0) scale(1.0000)" fill="#000"><rect x="0" y="-2.9" width="1.4" height="5.8"/><rect x="2.8" y="-2.9" width="1.5" height="5.8"/><rect x="6" y="-2.9" width="2.1" height="5.8"/><rect x="9.5" y="-2.9" width="2.5" height="5.8"/><rect x="13.2" y="-2.9" width="3.4" height="5.8"/><rect x="18" y="-2.9" width="3.6" height="5.8"/><rect x="22.9" y="-2.9" width="4.3" height="5.8"/><rect x="28" y="-2.9" width="10" height="5.8"/><polygon points="37.4,-6 40,-4.6 70.6,-0.3 70.6,0.3 40,4.6 37.4,6"/></g>
<g transform="translate(666 686.9) rotate(0) scale(1.0000)" fill="#000"><rect x="0" y="-2.9" width="1.4" height="5.8"/><rect x="2.8" y="-2.9" width="1.5" height="5.8"/><rect x="6" y="-2.9" width="2.1" height="5.8"/><rect x="9.5" y="-2.9" width="2.5" height="5.8"/><rect x="13.2" y="-2.9" width="3.4" height="5.8"/><rect x="18" y="-2.9" width="3.6" height="5.8"/><rect x="22.9" y="-2.9" width="4.3" height="5.8"/><rect x="28" y="-2.9" width="10" height="5.8"/><polygon points="37.4,-6 40,-4.6 70.6,-0.3 70.6,0.3 40,4.6 37.4,6"/></g>
<g transform="translate(884.6 794.6) rotate(132.7) scale(0.9984)" fill="#000"><rect x="0" y="-2.9" width="1.4" height="5.8"/><rect x="2.8" y="-2.9" width="1.5" height="5.8"/><rect x="6" y="-2.9" width="2.1" height="5.8"/><rect x="9.5" y="-2.9" width="2.5" height="5.8"/><rect x="13.2" y="-2.9" width="3.4" height="5.8"/><rect x="18" y="-2.9" width="3.6" height="5.8"/><rect x="22.9" y="-2.9" width="4.3" height="5.8"/><rect x="28" y="-2.9" width="10" height="5.8"/><polygon points="37.4,-6 40,-4.6 70.6,-0.3 70.6,0.3 40,4.6 37.4,6"/></g>
<g transform="translate(588 930.3) rotate(180) scale(0.9972)" fill="#000"><rect x="0" y="-2.9" width="1.4" height="5.8"/><rect x="2.8" y="-2.9" width="1.5" height="5.8"/><rect x="6" y="-2.9" width="2.1" height="5.8"/><rect x="9.5" y="-2.9" width="2.5" height="5.8"/><rect x="13.2" y="-2.9" width="3.4" height="5.8"/><rect x="18" y="-2.9" width="3.6" height="5.8"/><rect x="22.9" y="-2.9" width="4.3" height="5.8"/><rect x="28" y="-2.9" width="10" height="5.8"/><polygon points="37.4,-6 40,-4.6 70.6,-0.3 70.6,0.3 40,4.6 37.4,6"/></g>
<circle cx="117" cy="211.8" r="13" fill="#000"/>
<g transform="translate(112.3 204.9) scale(1.000 1.040)" fill="#fff" stroke="#fff" stroke-width="2.3"><rect x="4.6" y="0" width="2.3" height="14" stroke="none"/><polygon points="4.8,0 4.8,3 0.8,4.7 0.8,2.7 3.6,0" stroke="none"/></g>
<circle cx="532.3" cy="214.9" r="13" fill="#000"/>
<g transform="translate(528.3 208) scale(1.000 1.040)" fill="#fff" stroke="#fff" stroke-width="2.3"><path d="M1.1,4.2 C1.1,2.2 2.3,1.2 4,1.2 C5.8,1.2 6.9,2.3 6.9,4 C6.9,6.5 3.5,8.5 1.2,12.8 H7.3" fill="none"/></g>
<circle cx="849.8" cy="218.7" r="13" fill="#000"/>
<g transform="translate(845.8 211.8) scale(1.000 1.040)" fill="#fff" stroke="#fff" stroke-width="2.3"><path d="M1,3.8 C1.2,2 2.4,1.2 4,1.2 C5.7,1.2 6.7,2.3 6.7,3.8 C6.7,5.5 5.5,6.5 3.4,6.5 C5.7,6.5 7,7.7 7,9.7 C7,11.7 5.7,12.8 4,12.8 C2.2,12.8 1.1,11.8 0.9,10.2" fill="none"/></g>
<circle cx="902.7" cy="466.7" r="13" fill="#000"/>
<g transform="translate(898.7 459.8) scale(1.000 1.040)" fill="#fff" stroke="#fff" stroke-width="2.3"><path d="M5.6,14 V1.2 L0.9,9.8 H7.8" fill="none"/></g>
<circle cx="571.6" cy="472.5" r="13" fill="#000"/>
<g transform="translate(567.6 465.6) scale(1.000 1.040)" fill="#fff" stroke="#fff" stroke-width="2.3"><path d="M6.9,1.2 H2.1 L1.5,6.9 C2.2,6.1 3,5.7 4.1,5.7 C5.9,5.7 7,7 7,9.2 C7,11.5 5.7,12.8 4,12.8 C2.3,12.8 1.3,11.9 1,10.4" fill="none"/></g>
<circle cx="131" cy="453.7" r="13" fill="#000"/>
<g transform="translate(127 446.8) scale(1.000 1.040)" fill="#fff" stroke="#fff" stroke-width="2.3"><path d="M6.6,3.4 C6.3,2 5.3,1.2 4.1,1.2 C2.1,1.2 1.2,3.5 1.2,7.3 C1.2,11.1 2.4,12.8 4.1,12.8 C5.9,12.8 6.9,11.5 6.9,9.4 C6.9,7.4 5.8,6.1 4.1,6.1 C2.6,6.1 1.5,7 1.2,8.5" fill="none"/></g>
<circle cx="132" cy="702.3" r="13" fill="#000"/>
<g transform="translate(128 695.4) scale(1.000 1.040)" fill="#fff" stroke="#fff" stroke-width="2.3"><path d="M0.7,1.2 H7.1 C5.2,4.4 3.8,8.4 3.4,14" fill="none"/></g>
<circle cx="585" cy="725" r="13" fill="#000"/>
<g transform="translate(581 718.1) scale(1.000 1.040)" fill="#fff" stroke="#fff" stroke-width="2.3"><ellipse cx="4" cy="3.9" rx="2.6" ry="2.7" fill="none"/><ellipse cx="4" cy="9.9" rx="2.95" ry="2.9" fill="none"/></g>
<circle cx="920" cy="734" r="13" fill="#000"/>
<g transform="translate(916 727.1) scale(1.000 1.040)" fill="#fff" stroke="#fff" stroke-width="2.3"><path d="M1.4,10.6 C1.7,12 2.7,12.8 3.9,12.8 C5.9,12.8 6.8,10.5 6.8,6.7 C6.8,2.9 5.6,1.2 3.9,1.2 C2.1,1.2 1.1,2.5 1.1,4.6 C1.1,6.6 2.2,7.9 3.9,7.9 C5.4,7.9 6.5,7 6.8,5.5" fill="none"/></g>
<circle cx="761" cy="972" r="13" fill="#000"/>
<g transform="translate(750.8 965.1) scale(1.000 1.040)" fill="#fff" stroke="#fff" stroke-width="2.3"><rect x="4.6" y="0" width="2.3" height="14" stroke="none"/><polygon points="4.8,0 4.8,3 0.8,4.7 0.8,2.7 3.6,0" stroke="none"/></g>
<g transform="translate(762.6 965.1) scale(1.120 1.040)" fill="#fff" stroke="#fff" stroke-width="2.3"><ellipse cx="4" cy="7" rx="2.8" ry="5.8" fill="none"/></g>
<circle cx="317" cy="952" r="13" fill="#000"/>
<g transform="translate(308.3 945.1) scale(1.000 1.040)" fill="#fff" stroke="#fff" stroke-width="2.3"><rect x="4.6" y="0" width="2.3" height="14" stroke="none"/><polygon points="4.8,0 4.8,3 0.8,4.7 0.8,2.7 3.6,0" stroke="none"/></g>
<g transform="translate(319.4 945.1) scale(1.000 1.040)" fill="#fff" stroke="#fff" stroke-width="2.3"><rect x="4.6" y="0" width="2.3" height="14" stroke="none"/><polygon points="4.8,0 4.8,3 0.8,4.7 0.8,2.7 3.6,0" stroke="none"/></g>
</svg>
</body></html>
